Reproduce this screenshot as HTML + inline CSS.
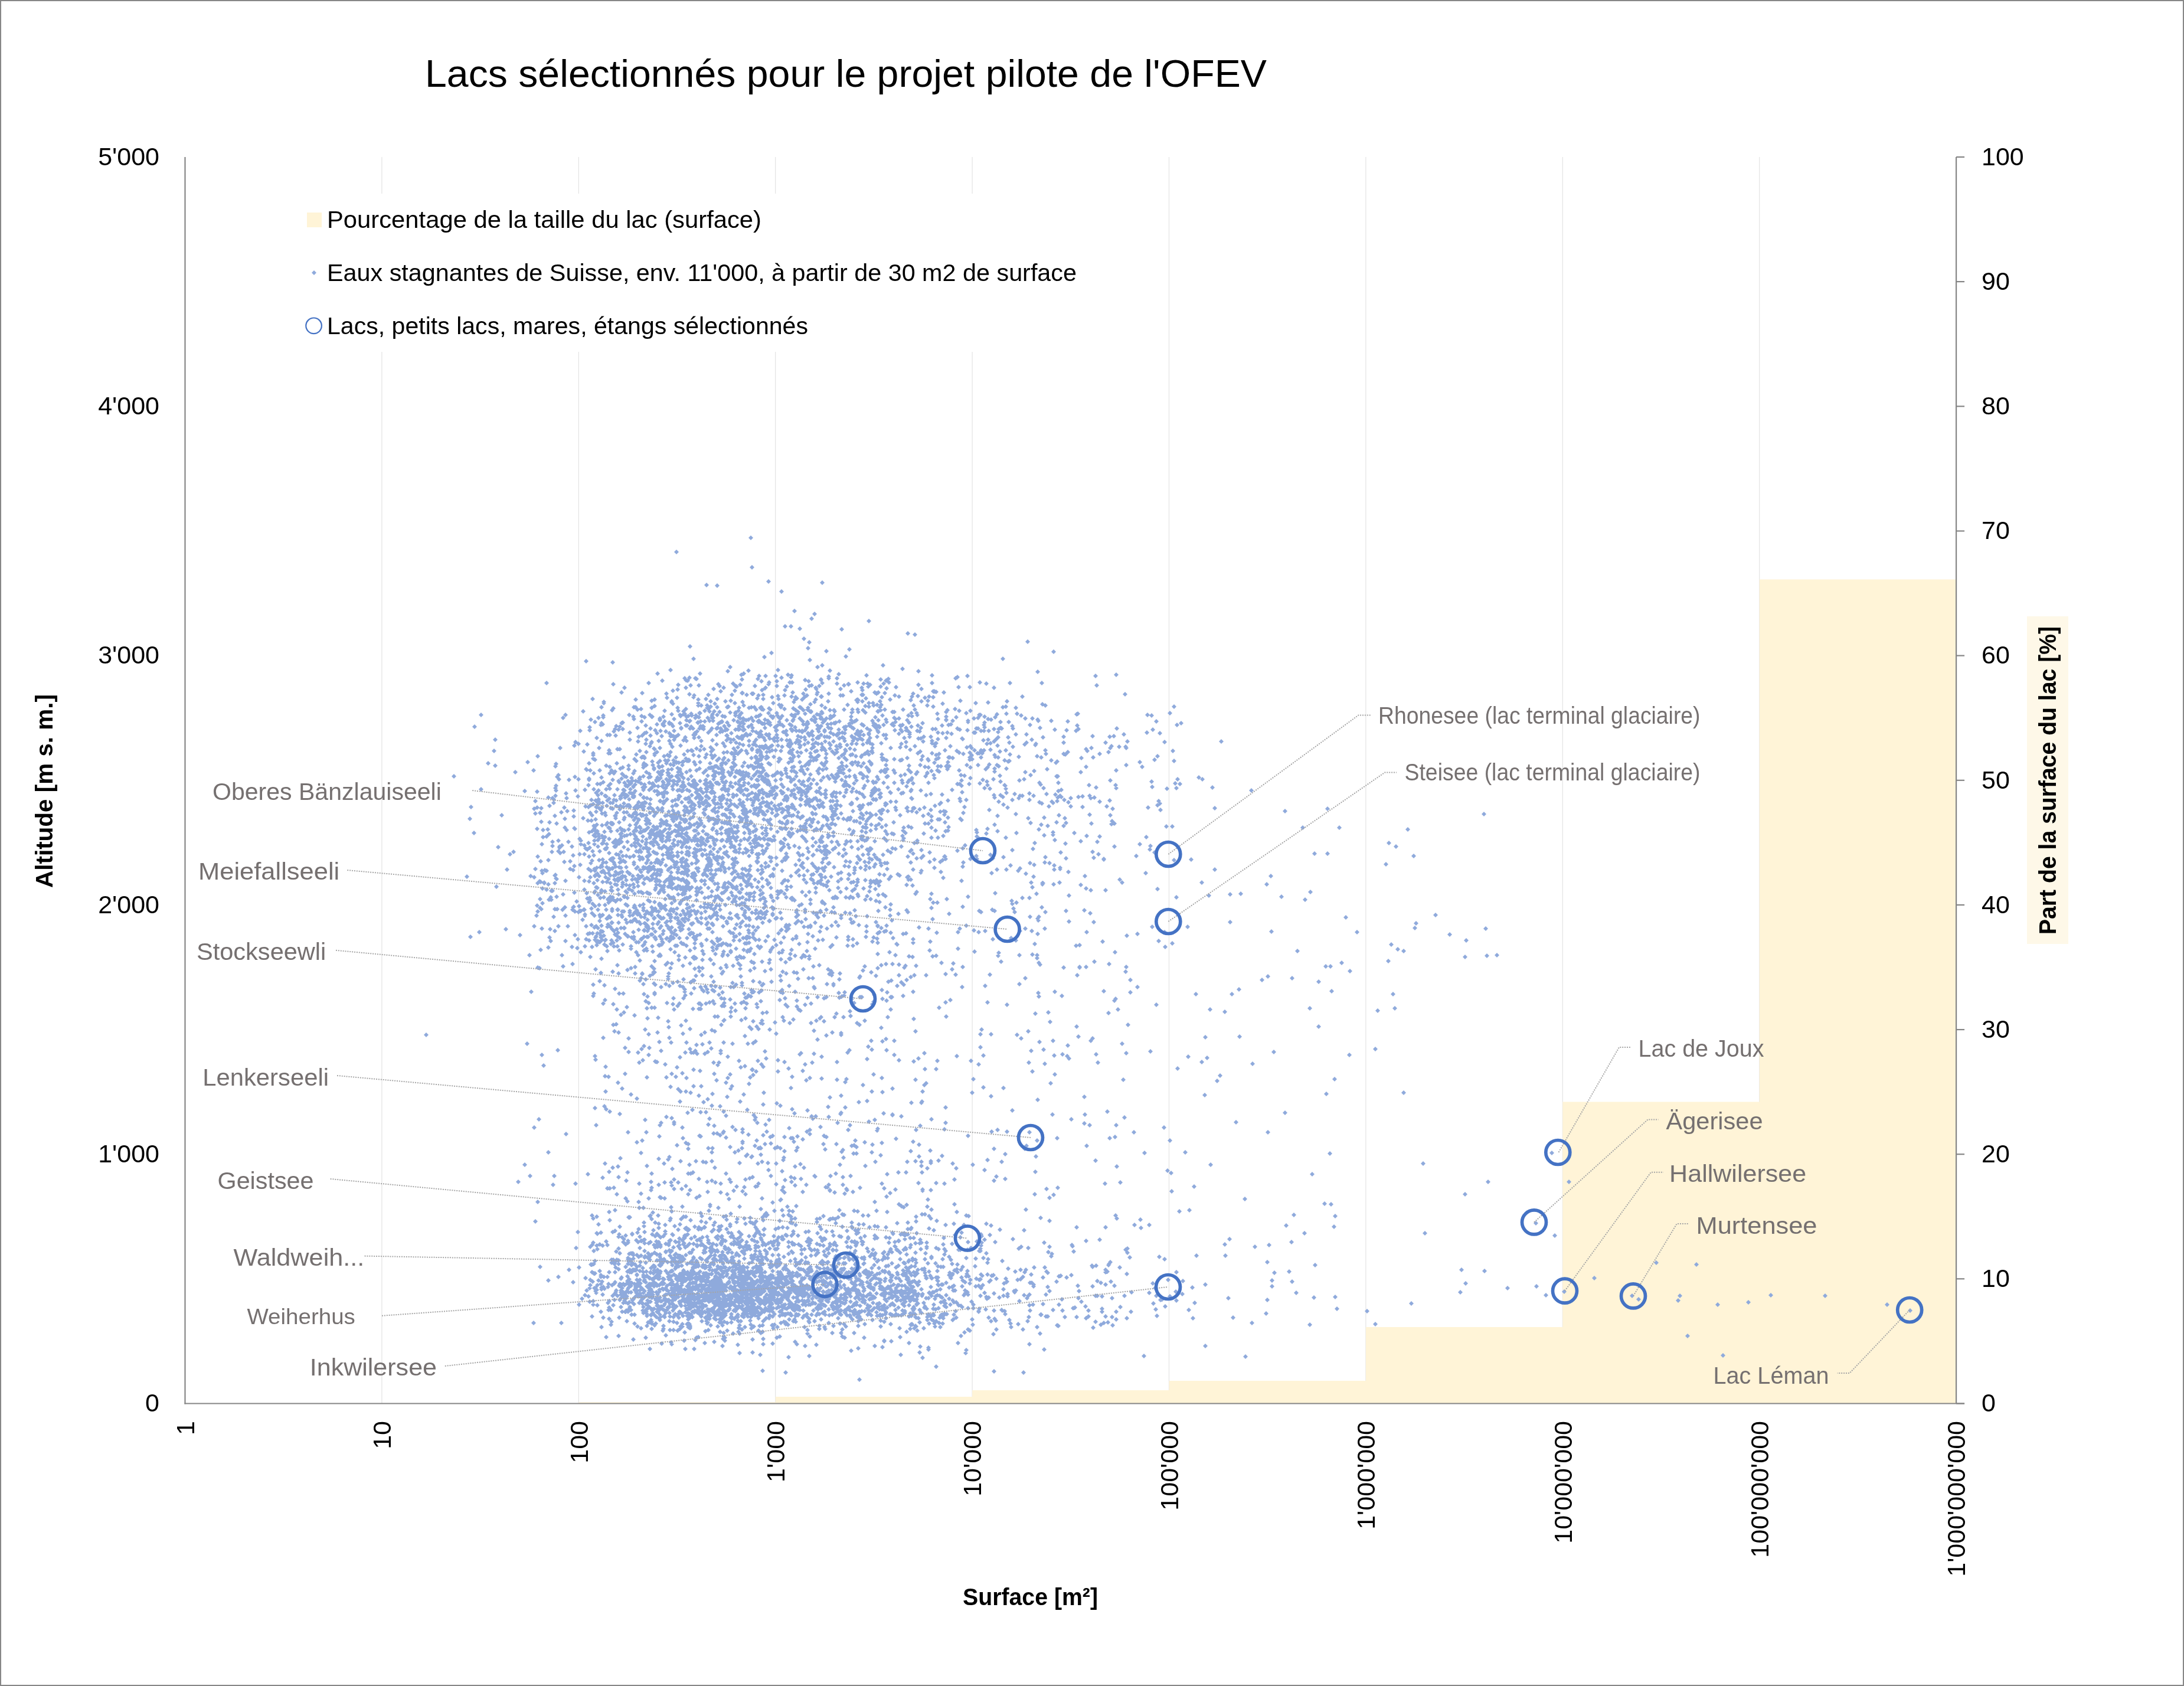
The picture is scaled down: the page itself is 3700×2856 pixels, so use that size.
<!DOCTYPE html>
<html><head><meta charset="utf-8"><style>html,body{margin:0;padding:0;background:#fff;overflow:hidden}svg{display:block;will-change:transform}</style></head>
<body><svg width="3700" height="2856" viewBox="0 0 3700 2856">
<rect x="0" y="0" width="3700" height="2856" fill="#fff"/>
<line x1="646.9" y1="266.0" x2="646.9" y2="2377.5" stroke="#E3E3E3" stroke-width="1.2"/>
<line x1="980.3" y1="266.0" x2="980.3" y2="2377.5" stroke="#E3E3E3" stroke-width="1.2"/>
<line x1="1313.7" y1="266.0" x2="1313.7" y2="2377.5" stroke="#E3E3E3" stroke-width="1.2"/>
<line x1="1647.1" y1="266.0" x2="1647.1" y2="2377.5" stroke="#E3E3E3" stroke-width="1.2"/>
<line x1="1980.5" y1="266.0" x2="1980.5" y2="2377.5" stroke="#E3E3E3" stroke-width="1.2"/>
<line x1="2313.9" y1="266.0" x2="2313.9" y2="2377.5" stroke="#E3E3E3" stroke-width="1.2"/>
<line x1="2647.3" y1="266.0" x2="2647.3" y2="2377.5" stroke="#E3E3E3" stroke-width="1.2"/>
<line x1="2980.7" y1="266.0" x2="2980.7" y2="2377.5" stroke="#E3E3E3" stroke-width="1.2"/>
<line x1="3314.1" y1="266.0" x2="3314.1" y2="2377.5" stroke="#E3E3E3" stroke-width="1.2"/>
<rect x="505" y="328" width="1330" height="268" fill="#fff"/>
<path d="M980.3,2377.5 L980.3,2375.2 L1313.7,2375.2 L1313.7,2366.0 L1647.1,2366.0 L1647.1,2355.0 L1980.5,2355.0 L1980.5,2339.0 L2313.9,2339.0 L2313.9,2248.0 L2647.3,2248.0 L2647.3,1866.4 L2980.7,1866.4 L2980.7,981.6 L3314.1,981.6 L3314.1,2377.5 Z" fill="#FFF4D7"/>
<path fill="#8FAADC" d="M804 1227l4 4-4 4-4-4zM815 1207l4 4-4 4-4-4zM839 1249l4 4-4 4-4-4zM839 1293l4 4-4 4-4-4zM837 1268l4 4-4 4-4-4zM941 1294l4 4-4 4-4-4zM998 1289l4 4-4 4-4-4zM988 1201l4 4-4 4-4-4zM949 1263l4 4-4 4-4-4zM911 1277l4 4-4 4-4-4zM983 1234l4 4-4 4-4-4zM975 1253l4 4-4 4-4-4zM954 1212l4 4-4 4-4-4zM1001 1215l4 4-4 4-4-4zM958 1207l4 4-4 4-4-4zM994 1300l4 4-4 4-4-4zM980 1256l4 4-4 4-4-4zM973 1259l4 4-4 4-4-4zM1044 1226l4 4-4 4-4-4zM1074 1194l4 4-4 4-4-4zM1022 1211l4 4-4 4-4-4zM1019 1194l4 4-4 4-4-4zM995 1257l4 4-4 4-4-4zM1088 1242l4 4-4 4-4-4zM1087 1218l4 4-4 4-4-4zM1095 1237l4 4-4 4-4-4zM1014 1212l4 4-4 4-4-4zM1039 1196l4 4-4 4-4-4zM1050 1227l4 4-4 4-4-4zM1019 1221l4 4-4 4-4-4zM1050 1265l4 4-4 4-4-4zM1019 1251l4 4-4 4-4-4zM1055 1231l4 4-4 4-4-4zM1084 1268l4 4-4 4-4-4zM1034 1272l4 4-4 4-4-4zM1048 1232l4 4-4 4-4-4zM1087 1279l4 4-4 4-4-4zM999 1233l4 4-4 4-4-4zM1008 1283l4 4-4 4-4-4zM1091 1278l4 4-4 4-4-4zM1005 1281l4 4-4 4-4-4zM1022 1208l4 4-4 4-4-4zM1053 1221l4 4-4 4-4-4zM1008 1219l4 4-4 4-4-4zM1043 1242l4 4-4 4-4-4zM1094 1256l4 4-4 4-4-4zM1057 1279l4 4-4 4-4-4zM1005 1272l4 4-4 4-4-4zM1015 1263l4 4-4 4-4-4zM1078 1274l4 4-4 4-4-4zM999 1228l4 4-4 4-4-4zM1087 1209l4 4-4 4-4-4zM1014 1212l4 4-4 4-4-4zM1092 1211l4 4-4 4-4-4zM1055 1220l4 4-4 4-4-4zM1080 1229l4 4-4 4-4-4zM1118 1285l4 4-4 4-4-4zM1066 1207l4 4-4 4-4-4zM1074 1214l4 4-4 4-4-4zM1080 1198l4 4-4 4-4-4zM1029 1241l4 4-4 4-4-4zM1033 1241l4 4-4 4-4-4zM1077 1194l4 4-4 4-4-4zM1018 1224l4 4-4 4-4-4zM1037 1199l4 4-4 4-4-4zM1021 1223l4 4-4 4-4-4zM1081 1252l4 4-4 4-4-4zM1067 1237l4 4-4 4-4-4zM1091 1289l4 4-4 4-4-4zM1073 1210l4 4-4 4-4-4zM1042 1231l4 4-4 4-4-4zM1011 1246l4 4-4 4-4-4zM989 1269l4 4-4 4-4-4zM1040 1235l4 4-4 4-4-4zM1031 1272l4 4-4 4-4-4zM1032 1267l4 4-4 4-4-4zM1067 1249l4 4-4 4-4-4zM1078 1285l4 4-4 4-4-4zM1005 1275l4 4-4 4-4-4zM1082 1244l4 4-4 4-4-4zM1046 1265l4 4-4 4-4-4zM1075 1282l4 4-4 4-4-4zM1108 1298l4 4-4 4-4-4zM1134 1238l4 4-4 4-4-4zM1104 1253l4 4-4 4-4-4zM1131 1275l4 4-4 4-4-4zM1134 1276l4 4-4 4-4-4zM1186 1204l4 4-4 4-4-4zM1178 1240l4 4-4 4-4-4zM1136 1256l4 4-4 4-4-4zM1187 1218l4 4-4 4-4-4zM1101 1260l4 4-4 4-4-4zM1180 1264l4 4-4 4-4-4zM1095 1270l4 4-4 4-4-4zM1182 1220l4 4-4 4-4-4zM1136 1240l4 4-4 4-4-4zM1165 1268l4 4-4 4-4-4zM1163 1216l4 4-4 4-4-4zM1138 1186l4 4-4 4-4-4zM1206 1212l4 4-4 4-4-4zM1198 1195l4 4-4 4-4-4zM1136 1291l4 4-4 4-4-4zM1158 1206l4 4-4 4-4-4zM1175 1275l4 4-4 4-4-4zM1142 1214l4 4-4 4-4-4zM1118 1215l4 4-4 4-4-4zM1138 1206l4 4-4 4-4-4zM1113 1223l4 4-4 4-4-4zM1158 1286l4 4-4 4-4-4zM1123 1224l4 4-4 4-4-4zM1141 1292l4 4-4 4-4-4zM1171 1227l4 4-4 4-4-4zM1154 1230l4 4-4 4-4-4zM1194 1200l4 4-4 4-4-4zM1132 1284l4 4-4 4-4-4zM1169 1217l4 4-4 4-4-4zM1175 1241l4 4-4 4-4-4zM1174 1230l4 4-4 4-4-4zM1127 1284l4 4-4 4-4-4zM1153 1209l4 4-4 4-4-4zM1141 1243l4 4-4 4-4-4zM1203 1289l4 4-4 4-4-4zM1185 1204l4 4-4 4-4-4zM1104 1195l4 4-4 4-4-4zM1118 1216l4 4-4 4-4-4zM1178 1212l4 4-4 4-4-4zM1163 1210l4 4-4 4-4-4zM1172 1208l4 4-4 4-4-4zM1142 1249l4 4-4 4-4-4zM1159 1274l4 4-4 4-4-4zM1149 1241l4 4-4 4-4-4zM1192 1231l4 4-4 4-4-4zM1181 1235l4 4-4 4-4-4zM1166 1209l4 4-4 4-4-4zM1136 1270l4 4-4 4-4-4zM1124 1210l4 4-4 4-4-4zM1142 1234l4 4-4 4-4-4zM1094 1225l4 4-4 4-4-4zM1138 1223l4 4-4 4-4-4zM1187 1226l4 4-4 4-4-4zM1102 1242l4 4-4 4-4-4zM1169 1230l4 4-4 4-4-4zM1118 1213l4 4-4 4-4-4zM1192 1227l4 4-4 4-4-4zM1145 1244l4 4-4 4-4-4zM1125 1277l4 4-4 4-4-4zM1148 1195l4 4-4 4-4-4zM1121 1243l4 4-4 4-4-4zM1200 1237l4 4-4 4-4-4zM1167 1285l4 4-4 4-4-4zM1158 1250l4 4-4 4-4-4zM1140 1226l4 4-4 4-4-4zM1140 1188l4 4-4 4-4-4zM1095 1249l4 4-4 4-4-4zM1188 1260l4 4-4 4-4-4zM1105 1210l4 4-4 4-4-4zM1092 1238l4 4-4 4-4-4zM1125 1225l4 4-4 4-4-4zM1186 1267l4 4-4 4-4-4zM1102 1230l4 4-4 4-4-4zM1184 1277l4 4-4 4-4-4zM1179 1208l4 4-4 4-4-4zM1162 1225l4 4-4 4-4-4zM1113 1270l4 4-4 4-4-4zM1113 1238l4 4-4 4-4-4zM1161 1245l4 4-4 4-4-4zM1153 1259l4 4-4 4-4-4zM1134 1220l4 4-4 4-4-4zM1136 1243l4 4-4 4-4-4zM1177 1238l4 4-4 4-4-4zM1193 1265l4 4-4 4-4-4zM1173 1268l4 4-4 4-4-4zM1134 1277l4 4-4 4-4-4zM1198 1191l4 4-4 4-4-4zM1176 1246l4 4-4 4-4-4zM1105 1286l4 4-4 4-4-4zM1138 1242l4 4-4 4-4-4zM1119 1234l4 4-4 4-4-4zM1202 1201l4 4-4 4-4-4zM1186 1287l4 4-4 4-4-4zM1202 1217l4 4-4 4-4-4zM1188 1251l4 4-4 4-4-4zM1197 1274l4 4-4 4-4-4zM1150 1288l4 4-4 4-4-4zM1154 1229l4 4-4 4-4-4zM1134 1222l4 4-4 4-4-4zM1110 1233l4 4-4 4-4-4zM1171 1267l4 4-4 4-4-4zM1116 1294l4 4-4 4-4-4zM1199 1212l4 4-4 4-4-4zM1152 1207l4 4-4 4-4-4zM1146 1288l4 4-4 4-4-4zM1171 1205l4 4-4 4-4-4zM1109 1275l4 4-4 4-4-4zM1184 1245l4 4-4 4-4-4zM1156 1287l4 4-4 4-4-4zM1183 1191l4 4-4 4-4-4zM1126 1218l4 4-4 4-4-4zM1141 1284l4 4-4 4-4-4zM1089 1278l4 4-4 4-4-4zM1103 1255l4 4-4 4-4-4zM1104 1210l4 4-4 4-4-4zM1128 1235l4 4-4 4-4-4zM1101 1207l4 4-4 4-4-4zM1168 1218l4 4-4 4-4-4zM1162 1281l4 4-4 4-4-4zM1196 1180l4 4-4 4-4-4zM1196 1301l4 4-4 4-4-4zM1162 1197l4 4-4 4-4-4zM1191 1226l4 4-4 4-4-4zM1163 1251l4 4-4 4-4-4zM1184 1211l4 4-4 4-4-4zM1109 1273l4 4-4 4-4-4zM1108 1264l4 4-4 4-4-4zM1116 1251l4 4-4 4-4-4zM1115 1288l4 4-4 4-4-4zM1146 1287l4 4-4 4-4-4zM1134 1251l4 4-4 4-4-4zM1142 1288l4 4-4 4-4-4zM1180 1301l4 4-4 4-4-4zM1145 1279l4 4-4 4-4-4zM1185 1230l4 4-4 4-4-4zM1118 1263l4 4-4 4-4-4zM1164 1225l4 4-4 4-4-4zM1189 1229l4 4-4 4-4-4zM1123 1222l4 4-4 4-4-4zM1124 1221l4 4-4 4-4-4zM1109 1265l4 4-4 4-4-4zM1139 1261l4 4-4 4-4-4zM1164 1285l4 4-4 4-4-4zM1152 1221l4 4-4 4-4-4zM1183 1220l4 4-4 4-4-4zM1092 1280l4 4-4 4-4-4zM1210 1295l4 4-4 4-4-4zM1192 1305l4 4-4 4-4-4zM1167 1283l4 4-4 4-4-4zM1158 1201l4 4-4 4-4-4zM1234 1247l4 4-4 4-4-4zM1281 1280l4 4-4 4-4-4zM1251 1232l4 4-4 4-4-4zM1250 1262l4 4-4 4-4-4zM1303 1240l4 4-4 4-4-4zM1256 1204l4 4-4 4-4-4zM1261 1288l4 4-4 4-4-4zM1214 1257l4 4-4 4-4-4zM1253 1256l4 4-4 4-4-4zM1285 1290l4 4-4 4-4-4zM1281 1278l4 4-4 4-4-4zM1215 1180l4 4-4 4-4-4zM1269 1251l4 4-4 4-4-4zM1289 1273l4 4-4 4-4-4zM1290 1197l4 4-4 4-4-4zM1280 1278l4 4-4 4-4-4zM1294 1246l4 4-4 4-4-4zM1256 1246l4 4-4 4-4-4zM1207 1250l4 4-4 4-4-4zM1216 1229l4 4-4 4-4-4zM1223 1300l4 4-4 4-4-4zM1222 1290l4 4-4 4-4-4zM1281 1236l4 4-4 4-4-4zM1254 1213l4 4-4 4-4-4zM1281 1249l4 4-4 4-4-4zM1249 1244l4 4-4 4-4-4zM1204 1262l4 4-4 4-4-4zM1237 1203l4 4-4 4-4-4zM1269 1195l4 4-4 4-4-4zM1287 1261l4 4-4 4-4-4zM1256 1267l4 4-4 4-4-4zM1303 1196l4 4-4 4-4-4zM1258 1227l4 4-4 4-4-4zM1269 1259l4 4-4 4-4-4zM1218 1281l4 4-4 4-4-4zM1232 1270l4 4-4 4-4-4zM1220 1236l4 4-4 4-4-4zM1258 1218l4 4-4 4-4-4zM1247 1254l4 4-4 4-4-4zM1224 1307l4 4-4 4-4-4zM1296 1215l4 4-4 4-4-4zM1283 1295l4 4-4 4-4-4zM1215 1207l4 4-4 4-4-4zM1240 1272l4 4-4 4-4-4zM1208 1266l4 4-4 4-4-4zM1239 1296l4 4-4 4-4-4zM1274 1266l4 4-4 4-4-4zM1273 1224l4 4-4 4-4-4zM1301 1217l4 4-4 4-4-4zM1225 1304l4 4-4 4-4-4zM1214 1241l4 4-4 4-4-4zM1248 1302l4 4-4 4-4-4zM1285 1209l4 4-4 4-4-4zM1222 1232l4 4-4 4-4-4zM1264 1216l4 4-4 4-4-4zM1292 1278l4 4-4 4-4-4zM1295 1222l4 4-4 4-4-4zM1223 1218l4 4-4 4-4-4zM1259 1213l4 4-4 4-4-4zM1225 1301l4 4-4 4-4-4zM1225 1283l4 4-4 4-4-4zM1293 1198l4 4-4 4-4-4zM1207 1206l4 4-4 4-4-4zM1243 1249l4 4-4 4-4-4zM1253 1231l4 4-4 4-4-4zM1302 1243l4 4-4 4-4-4zM1280 1288l4 4-4 4-4-4zM1276 1217l4 4-4 4-4-4zM1205 1275l4 4-4 4-4-4zM1208 1217l4 4-4 4-4-4zM1229 1233l4 4-4 4-4-4zM1286 1244l4 4-4 4-4-4zM1252 1231l4 4-4 4-4-4zM1290 1221l4 4-4 4-4-4zM1278 1255l4 4-4 4-4-4zM1200 1197l4 4-4 4-4-4zM1246 1268l4 4-4 4-4-4zM1246 1292l4 4-4 4-4-4zM1220 1220l4 4-4 4-4-4zM1238 1253l4 4-4 4-4-4zM1284 1218l4 4-4 4-4-4zM1275 1234l4 4-4 4-4-4zM1219 1202l4 4-4 4-4-4zM1232 1232l4 4-4 4-4-4zM1243 1216l4 4-4 4-4-4zM1289 1243l4 4-4 4-4-4zM1205 1269l4 4-4 4-4-4zM1292 1222l4 4-4 4-4-4zM1226 1271l4 4-4 4-4-4zM1260 1191l4 4-4 4-4-4zM1273 1212l4 4-4 4-4-4zM1266 1272l4 4-4 4-4-4zM1278 1253l4 4-4 4-4-4zM1281 1259l4 4-4 4-4-4zM1231 1250l4 4-4 4-4-4zM1212 1294l4 4-4 4-4-4zM1225 1288l4 4-4 4-4-4zM1254 1206l4 4-4 4-4-4zM1286 1304l4 4-4 4-4-4zM1278 1194l4 4-4 4-4-4zM1231 1242l4 4-4 4-4-4zM1206 1209l4 4-4 4-4-4zM1302 1204l4 4-4 4-4-4zM1281 1210l4 4-4 4-4-4zM1273 1280l4 4-4 4-4-4zM1227 1226l4 4-4 4-4-4zM1275 1229l4 4-4 4-4-4zM1252 1211l4 4-4 4-4-4zM1246 1203l4 4-4 4-4-4zM1251 1200l4 4-4 4-4-4zM1257 1248l4 4-4 4-4-4zM1194 1218l4 4-4 4-4-4zM1252 1271l4 4-4 4-4-4zM1206 1296l4 4-4 4-4-4zM1223 1219l4 4-4 4-4-4zM1239 1272l4 4-4 4-4-4zM1253 1208l4 4-4 4-4-4zM1246 1232l4 4-4 4-4-4zM1312 1246l4 4-4 4-4-4zM1223 1297l4 4-4 4-4-4zM1289 1235l4 4-4 4-4-4zM1283 1283l4 4-4 4-4-4zM1266 1242l4 4-4 4-4-4zM1268 1227l4 4-4 4-4-4zM1297 1259l4 4-4 4-4-4zM1232 1242l4 4-4 4-4-4zM1296 1250l4 4-4 4-4-4zM1215 1194l4 4-4 4-4-4zM1285 1239l4 4-4 4-4-4zM1228 1260l4 4-4 4-4-4zM1214 1230l4 4-4 4-4-4zM1281 1198l4 4-4 4-4-4zM1250 1218l4 4-4 4-4-4zM1286 1217l4 4-4 4-4-4zM1259 1258l4 4-4 4-4-4zM1244 1282l4 4-4 4-4-4zM1290 1291l4 4-4 4-4-4zM1271 1240l4 4-4 4-4-4zM1230 1289l4 4-4 4-4-4zM1207 1280l4 4-4 4-4-4zM1228 1210l4 4-4 4-4-4zM1206 1230l4 4-4 4-4-4zM1232 1194l4 4-4 4-4-4zM1210 1201l4 4-4 4-4-4zM1227 1280l4 4-4 4-4-4zM1204 1233l4 4-4 4-4-4zM1246 1271l4 4-4 4-4-4zM1274 1264l4 4-4 4-4-4zM1224 1209l4 4-4 4-4-4zM1285 1268l4 4-4 4-4-4zM1232 1220l4 4-4 4-4-4zM1250 1273l4 4-4 4-4-4zM1259 1233l4 4-4 4-4-4zM1246 1208l4 4-4 4-4-4zM1283 1270l4 4-4 4-4-4zM1258 1294l4 4-4 4-4-4zM1261 1232l4 4-4 4-4-4zM1288 1276l4 4-4 4-4-4zM1287 1295l4 4-4 4-4-4zM1255 1221l4 4-4 4-4-4zM1252 1246l4 4-4 4-4-4zM1296 1229l4 4-4 4-4-4zM1217 1222l4 4-4 4-4-4zM1251 1230l4 4-4 4-4-4zM1216 1283l4 4-4 4-4-4zM1246 1205l4 4-4 4-4-4zM1230 1231l4 4-4 4-4-4zM1287 1283l4 4-4 4-4-4zM1195 1279l4 4-4 4-4-4zM1243 1264l4 4-4 4-4-4zM1268 1215l4 4-4 4-4-4zM1275 1294l4 4-4 4-4-4zM1252 1226l4 4-4 4-4-4zM1294 1264l4 4-4 4-4-4zM1221 1230l4 4-4 4-4-4zM1242 1273l4 4-4 4-4-4zM1287 1267l4 4-4 4-4-4zM1224 1235l4 4-4 4-4-4zM1276 1257l4 4-4 4-4-4zM1267 1294l4 4-4 4-4-4zM1260 1243l4 4-4 4-4-4zM1308 1267l4 4-4 4-4-4zM1281 1249l4 4-4 4-4-4zM1239 1238l4 4-4 4-4-4zM1299 1270l4 4-4 4-4-4zM1215 1284l4 4-4 4-4-4zM1283 1267l4 4-4 4-4-4zM1211 1276l4 4-4 4-4-4zM1225 1255l4 4-4 4-4-4zM1264 1239l4 4-4 4-4-4zM1222 1293l4 4-4 4-4-4zM1208 1212l4 4-4 4-4-4zM1287 1282l4 4-4 4-4-4zM1250 1219l4 4-4 4-4-4zM1257 1243l4 4-4 4-4-4zM1235 1225l4 4-4 4-4-4zM1244 1278l4 4-4 4-4-4zM1264 1268l4 4-4 4-4-4zM1238 1249l4 4-4 4-4-4zM1260 1222l4 4-4 4-4-4zM1335 1259l4 4-4 4-4-4zM1333 1250l4 4-4 4-4-4zM1323 1268l4 4-4 4-4-4zM1353 1277l4 4-4 4-4-4zM1333 1241l4 4-4 4-4-4zM1347 1228l4 4-4 4-4-4zM1311 1278l4 4-4 4-4-4zM1355 1287l4 4-4 4-4-4zM1312 1251l4 4-4 4-4-4zM1361 1199l4 4-4 4-4-4zM1288 1207l4 4-4 4-4-4zM1342 1282l4 4-4 4-4-4zM1381 1282l4 4-4 4-4-4zM1341 1271l4 4-4 4-4-4zM1323 1194l4 4-4 4-4-4zM1383 1283l4 4-4 4-4-4zM1322 1282l4 4-4 4-4-4zM1298 1281l4 4-4 4-4-4zM1338 1269l4 4-4 4-4-4zM1351 1270l4 4-4 4-4-4zM1298 1240l4 4-4 4-4-4zM1359 1235l4 4-4 4-4-4zM1377 1249l4 4-4 4-4-4zM1341 1207l4 4-4 4-4-4zM1341 1225l4 4-4 4-4-4zM1359 1217l4 4-4 4-4-4zM1351 1249l4 4-4 4-4-4zM1315 1233l4 4-4 4-4-4zM1367 1228l4 4-4 4-4-4zM1310 1248l4 4-4 4-4-4zM1385 1231l4 4-4 4-4-4zM1360 1218l4 4-4 4-4-4zM1384 1246l4 4-4 4-4-4zM1341 1256l4 4-4 4-4-4zM1370 1291l4 4-4 4-4-4zM1332 1234l4 4-4 4-4-4zM1369 1195l4 4-4 4-4-4zM1331 1298l4 4-4 4-4-4zM1331 1238l4 4-4 4-4-4zM1337 1271l4 4-4 4-4-4zM1364 1205l4 4-4 4-4-4zM1386 1256l4 4-4 4-4-4zM1309 1212l4 4-4 4-4-4zM1317 1208l4 4-4 4-4-4zM1327 1226l4 4-4 4-4-4zM1361 1223l4 4-4 4-4-4zM1378 1284l4 4-4 4-4-4zM1305 1291l4 4-4 4-4-4zM1285 1219l4 4-4 4-4-4zM1405 1245l4 4-4 4-4-4zM1366 1291l4 4-4 4-4-4zM1319 1211l4 4-4 4-4-4zM1316 1241l4 4-4 4-4-4zM1306 1209l4 4-4 4-4-4zM1357 1195l4 4-4 4-4-4zM1386 1244l4 4-4 4-4-4zM1393 1204l4 4-4 4-4-4zM1388 1207l4 4-4 4-4-4zM1387 1246l4 4-4 4-4-4zM1338 1270l4 4-4 4-4-4zM1400 1273l4 4-4 4-4-4zM1382 1254l4 4-4 4-4-4zM1355 1252l4 4-4 4-4-4zM1345 1295l4 4-4 4-4-4zM1344 1276l4 4-4 4-4-4zM1336 1256l4 4-4 4-4-4zM1370 1287l4 4-4 4-4-4zM1369 1238l4 4-4 4-4-4zM1375 1215l4 4-4 4-4-4zM1324 1249l4 4-4 4-4-4zM1387 1276l4 4-4 4-4-4zM1394 1262l4 4-4 4-4-4zM1377 1242l4 4-4 4-4-4zM1391 1241l4 4-4 4-4-4zM1325 1261l4 4-4 4-4-4zM1368 1219l4 4-4 4-4-4zM1400 1213l4 4-4 4-4-4zM1387 1235l4 4-4 4-4-4zM1384 1206l4 4-4 4-4-4zM1363 1245l4 4-4 4-4-4zM1369 1254l4 4-4 4-4-4zM1359 1300l4 4-4 4-4-4zM1325 1209l4 4-4 4-4-4zM1356 1301l4 4-4 4-4-4zM1379 1261l4 4-4 4-4-4zM1338 1250l4 4-4 4-4-4zM1357 1245l4 4-4 4-4-4zM1403 1228l4 4-4 4-4-4zM1339 1253l4 4-4 4-4-4zM1369 1239l4 4-4 4-4-4zM1397 1244l4 4-4 4-4-4zM1391 1226l4 4-4 4-4-4zM1290 1241l4 4-4 4-4-4zM1359 1234l4 4-4 4-4-4zM1322 1213l4 4-4 4-4-4zM1375 1278l4 4-4 4-4-4zM1352 1204l4 4-4 4-4-4zM1388 1298l4 4-4 4-4-4zM1398 1195l4 4-4 4-4-4zM1373 1278l4 4-4 4-4-4zM1366 1230l4 4-4 4-4-4zM1358 1295l4 4-4 4-4-4zM1355 1213l4 4-4 4-4-4zM1302 1264l4 4-4 4-4-4zM1313 1228l4 4-4 4-4-4zM1310 1210l4 4-4 4-4-4zM1382 1214l4 4-4 4-4-4zM1343 1233l4 4-4 4-4-4zM1301 1221l4 4-4 4-4-4zM1337 1255l4 4-4 4-4-4zM1346 1210l4 4-4 4-4-4zM1301 1279l4 4-4 4-4-4zM1299 1262l4 4-4 4-4-4zM1344 1209l4 4-4 4-4-4zM1363 1257l4 4-4 4-4-4zM1404 1229l4 4-4 4-4-4zM1347 1207l4 4-4 4-4-4zM1339 1281l4 4-4 4-4-4zM1329 1197l4 4-4 4-4-4zM1305 1261l4 4-4 4-4-4zM1304 1269l4 4-4 4-4-4zM1385 1225l4 4-4 4-4-4zM1292 1261l4 4-4 4-4-4zM1353 1253l4 4-4 4-4-4zM1299 1277l4 4-4 4-4-4zM1408 1230l4 4-4 4-4-4zM1392 1202l4 4-4 4-4-4zM1390 1213l4 4-4 4-4-4zM1400 1298l4 4-4 4-4-4zM1385 1302l4 4-4 4-4-4zM1406 1199l4 4-4 4-4-4zM1322 1223l4 4-4 4-4-4zM1394 1215l4 4-4 4-4-4zM1315 1234l4 4-4 4-4-4zM1380 1281l4 4-4 4-4-4zM1320 1281l4 4-4 4-4-4zM1338 1261l4 4-4 4-4-4zM1340 1231l4 4-4 4-4-4zM1314 1267l4 4-4 4-4-4zM1344 1215l4 4-4 4-4-4zM1325 1224l4 4-4 4-4-4zM1348 1254l4 4-4 4-4-4zM1391 1211l4 4-4 4-4-4zM1373 1239l4 4-4 4-4-4zM1320 1219l4 4-4 4-4-4zM1364 1293l4 4-4 4-4-4zM1397 1233l4 4-4 4-4-4zM1342 1234l4 4-4 4-4-4zM1384 1268l4 4-4 4-4-4zM1372 1201l4 4-4 4-4-4zM1365 1223l4 4-4 4-4-4zM1377 1257l4 4-4 4-4-4zM1338 1223l4 4-4 4-4-4zM1339 1268l4 4-4 4-4-4zM1304 1220l4 4-4 4-4-4zM1390 1227l4 4-4 4-4-4zM1385 1277l4 4-4 4-4-4zM1302 1289l4 4-4 4-4-4zM1320 1190l4 4-4 4-4-4zM1371 1242l4 4-4 4-4-4zM1396 1264l4 4-4 4-4-4zM1397 1235l4 4-4 4-4-4zM1327 1236l4 4-4 4-4-4zM1392 1256l4 4-4 4-4-4zM1304 1247l4 4-4 4-4-4zM1356 1259l4 4-4 4-4-4zM1352 1243l4 4-4 4-4-4zM1305 1224l4 4-4 4-4-4zM1316 1204l4 4-4 4-4-4zM1369 1222l4 4-4 4-4-4zM1366 1267l4 4-4 4-4-4zM1318 1259l4 4-4 4-4-4zM1355 1262l4 4-4 4-4-4zM1316 1233l4 4-4 4-4-4zM1352 1202l4 4-4 4-4-4zM1368 1198l4 4-4 4-4-4zM1342 1274l4 4-4 4-4-4zM1324 1191l4 4-4 4-4-4zM1381 1281l4 4-4 4-4-4zM1290 1261l4 4-4 4-4-4zM1374 1202l4 4-4 4-4-4zM1387 1306l4 4-4 4-4-4zM1357 1271l4 4-4 4-4-4zM1289 1270l4 4-4 4-4-4zM1398 1267l4 4-4 4-4-4zM1348 1199l4 4-4 4-4-4zM1364 1233l4 4-4 4-4-4zM1354 1257l4 4-4 4-4-4zM1392 1289l4 4-4 4-4-4zM1381 1269l4 4-4 4-4-4zM1376 1235l4 4-4 4-4-4zM1394 1220l4 4-4 4-4-4zM1388 1230l4 4-4 4-4-4zM1373 1285l4 4-4 4-4-4zM1359 1236l4 4-4 4-4-4zM1308 1259l4 4-4 4-4-4zM1392 1266l4 4-4 4-4-4zM1373 1272l4 4-4 4-4-4zM1343 1217l4 4-4 4-4-4zM1396 1293l4 4-4 4-4-4zM1375 1264l4 4-4 4-4-4zM1342 1285l4 4-4 4-4-4zM1364 1249l4 4-4 4-4-4zM1319 1286l4 4-4 4-4-4zM1400 1286l4 4-4 4-4-4zM1368 1299l4 4-4 4-4-4zM1317 1251l4 4-4 4-4-4zM1317 1246l4 4-4 4-4-4zM1305 1198l4 4-4 4-4-4zM1381 1219l4 4-4 4-4-4zM1317 1225l4 4-4 4-4-4zM1399 1280l4 4-4 4-4-4zM1379 1210l4 4-4 4-4-4zM1345 1278l4 4-4 4-4-4zM1380 1218l4 4-4 4-4-4zM1349 1234l4 4-4 4-4-4zM1333 1216l4 4-4 4-4-4zM1354 1234l4 4-4 4-4-4zM1343 1266l4 4-4 4-4-4zM1370 1289l4 4-4 4-4-4zM1399 1288l4 4-4 4-4-4zM1470 1269l4 4-4 4-4-4zM1418 1265l4 4-4 4-4-4zM1434 1283l4 4-4 4-4-4zM1407 1237l4 4-4 4-4-4zM1413 1199l4 4-4 4-4-4zM1406 1213l4 4-4 4-4-4zM1417 1266l4 4-4 4-4-4zM1426 1276l4 4-4 4-4-4zM1493 1255l4 4-4 4-4-4zM1444 1291l4 4-4 4-4-4zM1467 1272l4 4-4 4-4-4zM1426 1288l4 4-4 4-4-4zM1472 1240l4 4-4 4-4-4zM1454 1288l4 4-4 4-4-4zM1455 1242l4 4-4 4-4-4zM1441 1275l4 4-4 4-4-4zM1494 1279l4 4-4 4-4-4zM1474 1233l4 4-4 4-4-4zM1412 1252l4 4-4 4-4-4zM1442 1210l4 4-4 4-4-4zM1490 1228l4 4-4 4-4-4zM1431 1238l4 4-4 4-4-4zM1478 1257l4 4-4 4-4-4zM1418 1242l4 4-4 4-4-4zM1406 1264l4 4-4 4-4-4zM1402 1223l4 4-4 4-4-4zM1471 1250l4 4-4 4-4-4zM1403 1228l4 4-4 4-4-4zM1466 1203l4 4-4 4-4-4zM1432 1232l4 4-4 4-4-4zM1495 1283l4 4-4 4-4-4zM1422 1218l4 4-4 4-4-4zM1493 1190l4 4-4 4-4-4zM1455 1239l4 4-4 4-4-4zM1440 1264l4 4-4 4-4-4zM1472 1238l4 4-4 4-4-4zM1442 1289l4 4-4 4-4-4zM1431 1251l4 4-4 4-4-4zM1454 1202l4 4-4 4-4-4zM1434 1294l4 4-4 4-4-4zM1488 1216l4 4-4 4-4-4zM1422 1238l4 4-4 4-4-4zM1422 1247l4 4-4 4-4-4zM1430 1228l4 4-4 4-4-4zM1473 1286l4 4-4 4-4-4zM1474 1255l4 4-4 4-4-4zM1415 1221l4 4-4 4-4-4zM1435 1258l4 4-4 4-4-4zM1462 1257l4 4-4 4-4-4zM1459 1294l4 4-4 4-4-4zM1478 1263l4 4-4 4-4-4zM1443 1243l4 4-4 4-4-4zM1465 1273l4 4-4 4-4-4zM1453 1234l4 4-4 4-4-4zM1448 1218l4 4-4 4-4-4zM1501 1292l4 4-4 4-4-4zM1460 1223l4 4-4 4-4-4zM1480 1221l4 4-4 4-4-4zM1442 1227l4 4-4 4-4-4zM1421 1280l4 4-4 4-4-4zM1407 1209l4 4-4 4-4-4zM1443 1228l4 4-4 4-4-4zM1443 1256l4 4-4 4-4-4zM1457 1241l4 4-4 4-4-4zM1472 1251l4 4-4 4-4-4zM1469 1254l4 4-4 4-4-4zM1488 1201l4 4-4 4-4-4zM1487 1201l4 4-4 4-4-4zM1423 1261l4 4-4 4-4-4zM1484 1228l4 4-4 4-4-4zM1421 1232l4 4-4 4-4-4zM1444 1274l4 4-4 4-4-4zM1474 1246l4 4-4 4-4-4zM1430 1247l4 4-4 4-4-4zM1419 1239l4 4-4 4-4-4zM1469 1230l4 4-4 4-4-4zM1463 1241l4 4-4 4-4-4zM1451 1216l4 4-4 4-4-4zM1444 1220l4 4-4 4-4-4zM1472 1193l4 4-4 4-4-4zM1444 1245l4 4-4 4-4-4zM1398 1252l4 4-4 4-4-4zM1397 1217l4 4-4 4-4-4zM1486 1244l4 4-4 4-4-4zM1494 1274l4 4-4 4-4-4zM1423 1257l4 4-4 4-4-4zM1484 1224l4 4-4 4-4-4zM1487 1234l4 4-4 4-4-4zM1459 1235l4 4-4 4-4-4zM1477 1268l4 4-4 4-4-4zM1451 1256l4 4-4 4-4-4zM1488 1236l4 4-4 4-4-4zM1431 1280l4 4-4 4-4-4zM1439 1225l4 4-4 4-4-4zM1459 1278l4 4-4 4-4-4zM1413 1208l4 4-4 4-4-4zM1413 1221l4 4-4 4-4-4zM1463 1225l4 4-4 4-4-4zM1448 1266l4 4-4 4-4-4zM1472 1274l4 4-4 4-4-4zM1433 1227l4 4-4 4-4-4zM1417 1260l4 4-4 4-4-4zM1501 1241l4 4-4 4-4-4zM1424 1261l4 4-4 4-4-4zM1430 1273l4 4-4 4-4-4zM1446 1230l4 4-4 4-4-4zM1401 1244l4 4-4 4-4-4zM1417 1308l4 4-4 4-4-4zM1432 1266l4 4-4 4-4-4zM1480 1191l4 4-4 4-4-4zM1484 1229l4 4-4 4-4-4zM1478 1271l4 4-4 4-4-4zM1478 1217l4 4-4 4-4-4zM1409 1211l4 4-4 4-4-4zM1444 1202l4 4-4 4-4-4zM1499 1198l4 4-4 4-4-4zM1443 1203l4 4-4 4-4-4zM1453 1249l4 4-4 4-4-4zM1429 1246l4 4-4 4-4-4zM1407 1258l4 4-4 4-4-4zM1501 1215l4 4-4 4-4-4zM1486 1190l4 4-4 4-4-4zM1433 1268l4 4-4 4-4-4zM1460 1276l4 4-4 4-4-4zM1418 1270l4 4-4 4-4-4zM1442 1216l4 4-4 4-4-4zM1405 1255l4 4-4 4-4-4zM1458 1247l4 4-4 4-4-4zM1416 1220l4 4-4 4-4-4zM1477 1270l4 4-4 4-4-4zM1427 1293l4 4-4 4-4-4zM1427 1245l4 4-4 4-4-4zM1410 1269l4 4-4 4-4-4zM1445 1251l4 4-4 4-4-4zM1476 1289l4 4-4 4-4-4zM1448 1246l4 4-4 4-4-4zM1412 1240l4 4-4 4-4-4zM1439 1222l4 4-4 4-4-4zM1462 1199l4 4-4 4-4-4zM1489 1226l4 4-4 4-4-4zM1480 1225l4 4-4 4-4-4zM1450 1239l4 4-4 4-4-4zM1408 1222l4 4-4 4-4-4zM1461 1249l4 4-4 4-4-4zM1422 1303l4 4-4 4-4-4zM1414 1201l4 4-4 4-4-4zM1501 1247l4 4-4 4-4-4zM1393 1262l4 4-4 4-4-4zM1483 1211l4 4-4 4-4-4zM1491 1194l4 4-4 4-4-4zM1427 1237l4 4-4 4-4-4zM1450 1277l4 4-4 4-4-4zM1492 1199l4 4-4 4-4-4zM1414 1273l4 4-4 4-4-4zM769 1311l4 4-4 4-4-4zM873 1304l4 4-4 4-4-4zM796 1383l4 4-4 4-4-4zM798 1363l4 4-4 4-4-4zM815 1333l4 4-4 4-4-4zM827 1289l4 4-4 4-4-4zM850 1377l4 4-4 4-4-4zM975 1335l4 4-4 4-4-4zM979 1345l4 4-4 4-4-4zM940 1378l4 4-4 4-4-4zM972 1369l4 4-4 4-4-4zM910 1337l4 4-4 4-4-4zM942 1290l4 4-4 4-4-4zM941 1344l4 4-4 4-4-4zM938 1350l4 4-4 4-4-4zM917 1365l4 4-4 4-4-4zM944 1312l4 4-4 4-4-4zM915 1373l4 4-4 4-4-4zM938 1356l4 4-4 4-4-4zM960 1348l4 4-4 4-4-4zM889 1336l4 4-4 4-4-4zM988 1382l4 4-4 4-4-4zM947 1316l4 4-4 4-4-4zM904 1301l4 4-4 4-4-4zM957 1383l4 4-4 4-4-4zM905 1366l4 4-4 4-4-4zM936 1348l4 4-4 4-4-4zM956 1364l4 4-4 4-4-4zM980 1316l4 4-4 4-4-4zM929 1347l4 4-4 4-4-4zM894 1287l4 4-4 4-4-4zM941 1331l4 4-4 4-4-4zM907 1353l4 4-4 4-4-4zM961 1370l4 4-4 4-4-4zM974 1312l4 4-4 4-4-4zM917 1388l4 4-4 4-4-4zM972 1379l4 4-4 4-4-4zM997 1326l4 4-4 4-4-4zM959 1340l4 4-4 4-4-4zM907 1374l4 4-4 4-4-4zM942 1335l4 4-4 4-4-4zM928 1401l4 4-4 4-4-4zM993 1299l4 4-4 4-4-4zM931 1389l4 4-4 4-4-4zM951 1372l4 4-4 4-4-4zM946 1309l4 4-4 4-4-4zM931 1361l4 4-4 4-4-4zM964 1317l4 4-4 4-4-4zM942 1327l4 4-4 4-4-4zM910 1364l4 4-4 4-4-4zM1079 1360l4 4-4 4-4-4zM1081 1364l4 4-4 4-4-4zM1088 1364l4 4-4 4-4-4zM998 1317l4 4-4 4-4-4zM997 1363l4 4-4 4-4-4zM1034 1356l4 4-4 4-4-4zM1044 1361l4 4-4 4-4-4zM1077 1393l4 4-4 4-4-4zM1010 1339l4 4-4 4-4-4zM1053 1315l4 4-4 4-4-4zM1070 1314l4 4-4 4-4-4zM1090 1367l4 4-4 4-4-4zM1106 1367l4 4-4 4-4-4zM1012 1359l4 4-4 4-4-4zM1077 1319l4 4-4 4-4-4zM1067 1324l4 4-4 4-4-4zM1059 1344l4 4-4 4-4-4zM1074 1374l4 4-4 4-4-4zM1070 1340l4 4-4 4-4-4zM1073 1329l4 4-4 4-4-4zM1035 1365l4 4-4 4-4-4zM1077 1381l4 4-4 4-4-4zM1014 1350l4 4-4 4-4-4zM1091 1295l4 4-4 4-4-4zM1033 1295l4 4-4 4-4-4zM1091 1347l4 4-4 4-4-4zM1099 1386l4 4-4 4-4-4zM1062 1372l4 4-4 4-4-4zM1074 1385l4 4-4 4-4-4zM996 1386l4 4-4 4-4-4zM1014 1353l4 4-4 4-4-4zM1082 1355l4 4-4 4-4-4zM1089 1330l4 4-4 4-4-4zM1017 1324l4 4-4 4-4-4zM1054 1307l4 4-4 4-4-4zM1090 1296l4 4-4 4-4-4zM1033 1332l4 4-4 4-4-4zM1036 1301l4 4-4 4-4-4zM1025 1373l4 4-4 4-4-4zM1061 1343l4 4-4 4-4-4zM1049 1363l4 4-4 4-4-4zM1050 1367l4 4-4 4-4-4zM1055 1342l4 4-4 4-4-4zM1038 1392l4 4-4 4-4-4zM1021 1356l4 4-4 4-4-4zM1055 1340l4 4-4 4-4-4zM1073 1306l4 4-4 4-4-4zM1065 1293l4 4-4 4-4-4zM1040 1351l4 4-4 4-4-4zM1001 1360l4 4-4 4-4-4zM1068 1333l4 4-4 4-4-4zM1035 1304l4 4-4 4-4-4zM1016 1356l4 4-4 4-4-4zM1032 1349l4 4-4 4-4-4zM1070 1379l4 4-4 4-4-4zM1051 1345l4 4-4 4-4-4zM1052 1348l4 4-4 4-4-4zM1051 1349l4 4-4 4-4-4zM1027 1393l4 4-4 4-4-4zM1091 1362l4 4-4 4-4-4zM1064 1360l4 4-4 4-4-4zM1031 1327l4 4-4 4-4-4zM1081 1320l4 4-4 4-4-4zM1027 1293l4 4-4 4-4-4zM1013 1343l4 4-4 4-4-4zM1009 1352l4 4-4 4-4-4zM1037 1391l4 4-4 4-4-4zM1074 1344l4 4-4 4-4-4zM1089 1376l4 4-4 4-4-4zM1018 1368l4 4-4 4-4-4zM1088 1357l4 4-4 4-4-4zM1066 1360l4 4-4 4-4-4zM1061 1312l4 4-4 4-4-4zM1066 1377l4 4-4 4-4-4zM1011 1363l4 4-4 4-4-4zM1031 1350l4 4-4 4-4-4zM1020 1364l4 4-4 4-4-4zM1090 1311l4 4-4 4-4-4zM1076 1366l4 4-4 4-4-4zM1019 1313l4 4-4 4-4-4zM1076 1325l4 4-4 4-4-4zM1063 1344l4 4-4 4-4-4zM1090 1334l4 4-4 4-4-4zM1086 1323l4 4-4 4-4-4zM1090 1377l4 4-4 4-4-4zM1000 1373l4 4-4 4-4-4zM1104 1331l4 4-4 4-4-4zM1048 1319l4 4-4 4-4-4zM1014 1335l4 4-4 4-4-4zM1043 1382l4 4-4 4-4-4zM1046 1333l4 4-4 4-4-4zM1087 1378l4 4-4 4-4-4zM1082 1384l4 4-4 4-4-4zM1010 1363l4 4-4 4-4-4zM1099 1365l4 4-4 4-4-4zM1040 1306l4 4-4 4-4-4zM1065 1299l4 4-4 4-4-4zM1016 1301l4 4-4 4-4-4zM1064 1319l4 4-4 4-4-4zM1071 1318l4 4-4 4-4-4zM1060 1327l4 4-4 4-4-4zM1078 1403l4 4-4 4-4-4zM1091 1362l4 4-4 4-4-4zM1003 1377l4 4-4 4-4-4zM1012 1324l4 4-4 4-4-4zM1074 1339l4 4-4 4-4-4zM1058 1322l4 4-4 4-4-4zM1006 1333l4 4-4 4-4-4zM1057 1357l4 4-4 4-4-4zM1027 1345l4 4-4 4-4-4zM991 1334l4 4-4 4-4-4zM1051 1298l4 4-4 4-4-4zM998 1315l4 4-4 4-4-4zM1058 1311l4 4-4 4-4-4zM1077 1372l4 4-4 4-4-4zM1051 1361l4 4-4 4-4-4zM1027 1333l4 4-4 4-4-4zM1034 1324l4 4-4 4-4-4zM1028 1361l4 4-4 4-4-4zM1084 1316l4 4-4 4-4-4zM1079 1376l4 4-4 4-4-4zM1075 1302l4 4-4 4-4-4zM1043 1378l4 4-4 4-4-4zM1061 1326l4 4-4 4-4-4zM1074 1346l4 4-4 4-4-4zM1002 1386l4 4-4 4-4-4zM1067 1362l4 4-4 4-4-4zM1033 1306l4 4-4 4-4-4zM1026 1377l4 4-4 4-4-4zM1059 1347l4 4-4 4-4-4zM1102 1312l4 4-4 4-4-4zM1006 1395l4 4-4 4-4-4zM1042 1303l4 4-4 4-4-4zM1071 1319l4 4-4 4-4-4zM1057 1384l4 4-4 4-4-4zM1062 1361l4 4-4 4-4-4zM1058 1335l4 4-4 4-4-4zM1067 1363l4 4-4 4-4-4zM1025 1344l4 4-4 4-4-4zM1072 1346l4 4-4 4-4-4zM1094 1386l4 4-4 4-4-4zM1056 1334l4 4-4 4-4-4zM1069 1323l4 4-4 4-4-4zM1058 1381l4 4-4 4-4-4zM1044 1352l4 4-4 4-4-4zM1090 1292l4 4-4 4-4-4zM1084 1313l4 4-4 4-4-4zM1015 1365l4 4-4 4-4-4zM1045 1289l4 4-4 4-4-4zM1059 1342l4 4-4 4-4-4zM1075 1364l4 4-4 4-4-4zM1036 1392l4 4-4 4-4-4zM1067 1339l4 4-4 4-4-4zM1029 1390l4 4-4 4-4-4zM1022 1321l4 4-4 4-4-4zM1049 1321l4 4-4 4-4-4zM1007 1400l4 4-4 4-4-4zM1063 1328l4 4-4 4-4-4zM1038 1366l4 4-4 4-4-4zM1058 1341l4 4-4 4-4-4zM1069 1322l4 4-4 4-4-4zM1092 1355l4 4-4 4-4-4zM1057 1372l4 4-4 4-4-4zM1073 1328l4 4-4 4-4-4zM1002 1351l4 4-4 4-4-4zM1011 1354l4 4-4 4-4-4zM1005 1358l4 4-4 4-4-4zM1056 1363l4 4-4 4-4-4zM1055 1296l4 4-4 4-4-4zM1041 1343l4 4-4 4-4-4zM1085 1375l4 4-4 4-4-4zM1085 1361l4 4-4 4-4-4zM1010 1371l4 4-4 4-4-4zM1019 1340l4 4-4 4-4-4zM1000 1301l4 4-4 4-4-4zM1084 1397l4 4-4 4-4-4zM1085 1399l4 4-4 4-4-4zM1020 1374l4 4-4 4-4-4zM1038 1356l4 4-4 4-4-4zM1049 1389l4 4-4 4-4-4zM1076 1336l4 4-4 4-4-4zM1096 1348l4 4-4 4-4-4zM1071 1379l4 4-4 4-4-4zM1066 1350l4 4-4 4-4-4zM1038 1317l4 4-4 4-4-4zM1029 1352l4 4-4 4-4-4zM1006 1306l4 4-4 4-4-4zM992 1362l4 4-4 4-4-4zM1083 1315l4 4-4 4-4-4zM1042 1378l4 4-4 4-4-4zM1082 1385l4 4-4 4-4-4zM1085 1342l4 4-4 4-4-4zM1173 1357l4 4-4 4-4-4zM1198 1329l4 4-4 4-4-4zM1123 1302l4 4-4 4-4-4zM1101 1358l4 4-4 4-4-4zM1185 1362l4 4-4 4-4-4zM1115 1328l4 4-4 4-4-4zM1158 1325l4 4-4 4-4-4zM1166 1372l4 4-4 4-4-4zM1110 1400l4 4-4 4-4-4zM1145 1359l4 4-4 4-4-4zM1194 1354l4 4-4 4-4-4zM1122 1294l4 4-4 4-4-4zM1159 1377l4 4-4 4-4-4zM1176 1323l4 4-4 4-4-4zM1185 1394l4 4-4 4-4-4zM1178 1331l4 4-4 4-4-4zM1149 1350l4 4-4 4-4-4zM1119 1395l4 4-4 4-4-4zM1173 1367l4 4-4 4-4-4zM1149 1304l4 4-4 4-4-4zM1099 1313l4 4-4 4-4-4zM1116 1317l4 4-4 4-4-4zM1176 1318l4 4-4 4-4-4zM1191 1339l4 4-4 4-4-4zM1168 1336l4 4-4 4-4-4zM1154 1328l4 4-4 4-4-4zM1171 1311l4 4-4 4-4-4zM1112 1317l4 4-4 4-4-4zM1204 1297l4 4-4 4-4-4zM1139 1353l4 4-4 4-4-4zM1196 1317l4 4-4 4-4-4zM1100 1322l4 4-4 4-4-4zM1171 1327l4 4-4 4-4-4zM1130 1350l4 4-4 4-4-4zM1160 1386l4 4-4 4-4-4zM1119 1391l4 4-4 4-4-4zM1150 1344l4 4-4 4-4-4zM1182 1335l4 4-4 4-4-4zM1185 1358l4 4-4 4-4-4zM1170 1362l4 4-4 4-4-4zM1197 1344l4 4-4 4-4-4zM1175 1366l4 4-4 4-4-4zM1135 1318l4 4-4 4-4-4zM1139 1362l4 4-4 4-4-4zM1130 1377l4 4-4 4-4-4zM1100 1307l4 4-4 4-4-4zM1124 1341l4 4-4 4-4-4zM1109 1327l4 4-4 4-4-4zM1101 1373l4 4-4 4-4-4zM1101 1391l4 4-4 4-4-4zM1118 1404l4 4-4 4-4-4zM1185 1298l4 4-4 4-4-4zM1156 1326l4 4-4 4-4-4zM1131 1318l4 4-4 4-4-4zM1132 1320l4 4-4 4-4-4zM1157 1401l4 4-4 4-4-4zM1113 1336l4 4-4 4-4-4zM1149 1309l4 4-4 4-4-4zM1120 1385l4 4-4 4-4-4zM1129 1393l4 4-4 4-4-4zM1167 1373l4 4-4 4-4-4zM1187 1386l4 4-4 4-4-4zM1155 1355l4 4-4 4-4-4zM1122 1370l4 4-4 4-4-4zM1186 1350l4 4-4 4-4-4zM1183 1342l4 4-4 4-4-4zM1140 1333l4 4-4 4-4-4zM1124 1346l4 4-4 4-4-4zM1151 1318l4 4-4 4-4-4zM1176 1393l4 4-4 4-4-4zM1098 1398l4 4-4 4-4-4zM1201 1348l4 4-4 4-4-4zM1159 1369l4 4-4 4-4-4zM1172 1343l4 4-4 4-4-4zM1152 1345l4 4-4 4-4-4zM1164 1368l4 4-4 4-4-4zM1104 1330l4 4-4 4-4-4zM1176 1374l4 4-4 4-4-4zM1183 1343l4 4-4 4-4-4zM1195 1318l4 4-4 4-4-4zM1194 1324l4 4-4 4-4-4zM1148 1320l4 4-4 4-4-4zM1188 1390l4 4-4 4-4-4zM1121 1308l4 4-4 4-4-4zM1139 1384l4 4-4 4-4-4zM1167 1355l4 4-4 4-4-4zM1161 1349l4 4-4 4-4-4zM1124 1343l4 4-4 4-4-4zM1131 1305l4 4-4 4-4-4zM1162 1387l4 4-4 4-4-4zM1169 1301l4 4-4 4-4-4zM1151 1334l4 4-4 4-4-4zM1123 1320l4 4-4 4-4-4zM1176 1403l4 4-4 4-4-4zM1194 1376l4 4-4 4-4-4zM1117 1296l4 4-4 4-4-4zM1139 1328l4 4-4 4-4-4zM1130 1326l4 4-4 4-4-4zM1122 1328l4 4-4 4-4-4zM1200 1380l4 4-4 4-4-4zM1150 1315l4 4-4 4-4-4zM1181 1346l4 4-4 4-4-4zM1150 1347l4 4-4 4-4-4zM1124 1322l4 4-4 4-4-4zM1139 1378l4 4-4 4-4-4zM1177 1328l4 4-4 4-4-4zM1179 1338l4 4-4 4-4-4zM1090 1347l4 4-4 4-4-4zM1138 1311l4 4-4 4-4-4zM1092 1325l4 4-4 4-4-4zM1185 1344l4 4-4 4-4-4zM1181 1325l4 4-4 4-4-4zM1143 1381l4 4-4 4-4-4zM1100 1334l4 4-4 4-4-4zM1192 1358l4 4-4 4-4-4zM1124 1357l4 4-4 4-4-4zM1163 1304l4 4-4 4-4-4zM1107 1370l4 4-4 4-4-4zM1157 1327l4 4-4 4-4-4zM1196 1345l4 4-4 4-4-4zM1198 1323l4 4-4 4-4-4zM1142 1374l4 4-4 4-4-4zM1141 1292l4 4-4 4-4-4zM1201 1297l4 4-4 4-4-4zM1130 1327l4 4-4 4-4-4zM1171 1354l4 4-4 4-4-4zM1136 1378l4 4-4 4-4-4zM1178 1291l4 4-4 4-4-4zM1144 1378l4 4-4 4-4-4zM1160 1328l4 4-4 4-4-4zM1176 1287l4 4-4 4-4-4zM1144 1351l4 4-4 4-4-4zM1146 1382l4 4-4 4-4-4zM1108 1297l4 4-4 4-4-4zM1095 1292l4 4-4 4-4-4zM1124 1354l4 4-4 4-4-4zM1154 1310l4 4-4 4-4-4zM1188 1350l4 4-4 4-4-4zM1102 1350l4 4-4 4-4-4zM1167 1324l4 4-4 4-4-4zM1164 1334l4 4-4 4-4-4zM1112 1373l4 4-4 4-4-4zM1095 1304l4 4-4 4-4-4zM1105 1324l4 4-4 4-4-4zM1195 1367l4 4-4 4-4-4zM1102 1364l4 4-4 4-4-4zM1112 1319l4 4-4 4-4-4zM1176 1366l4 4-4 4-4-4zM1193 1374l4 4-4 4-4-4zM1138 1299l4 4-4 4-4-4zM1192 1373l4 4-4 4-4-4zM1124 1325l4 4-4 4-4-4zM1176 1359l4 4-4 4-4-4zM1152 1302l4 4-4 4-4-4zM1163 1407l4 4-4 4-4-4zM1174 1328l4 4-4 4-4-4zM1190 1356l4 4-4 4-4-4zM1201 1383l4 4-4 4-4-4zM1145 1394l4 4-4 4-4-4zM1134 1400l4 4-4 4-4-4zM1118 1353l4 4-4 4-4-4zM1167 1348l4 4-4 4-4-4zM1190 1357l4 4-4 4-4-4zM1197 1337l4 4-4 4-4-4zM1158 1314l4 4-4 4-4-4zM1132 1309l4 4-4 4-4-4zM1135 1395l4 4-4 4-4-4zM1133 1324l4 4-4 4-4-4zM1145 1360l4 4-4 4-4-4zM1189 1348l4 4-4 4-4-4zM1152 1299l4 4-4 4-4-4zM1196 1325l4 4-4 4-4-4zM1140 1319l4 4-4 4-4-4zM1107 1326l4 4-4 4-4-4zM1113 1398l4 4-4 4-4-4zM1149 1374l4 4-4 4-4-4zM1126 1354l4 4-4 4-4-4zM1106 1323l4 4-4 4-4-4zM1185 1383l4 4-4 4-4-4zM1132 1300l4 4-4 4-4-4zM1122 1365l4 4-4 4-4-4zM1137 1378l4 4-4 4-4-4zM1107 1396l4 4-4 4-4-4zM1166 1316l4 4-4 4-4-4zM1093 1329l4 4-4 4-4-4zM1186 1348l4 4-4 4-4-4zM1197 1362l4 4-4 4-4-4zM1121 1340l4 4-4 4-4-4zM1118 1308l4 4-4 4-4-4zM1167 1347l4 4-4 4-4-4zM1182 1397l4 4-4 4-4-4zM1128 1331l4 4-4 4-4-4zM1172 1369l4 4-4 4-4-4zM1143 1374l4 4-4 4-4-4zM1119 1353l4 4-4 4-4-4zM1179 1348l4 4-4 4-4-4zM1140 1369l4 4-4 4-4-4zM1141 1387l4 4-4 4-4-4zM1161 1372l4 4-4 4-4-4zM1162 1385l4 4-4 4-4-4zM1130 1392l4 4-4 4-4-4zM1118 1305l4 4-4 4-4-4zM1127 1401l4 4-4 4-4-4zM1094 1356l4 4-4 4-4-4zM1156 1292l4 4-4 4-4-4zM1188 1392l4 4-4 4-4-4zM1129 1289l4 4-4 4-4-4zM1148 1335l4 4-4 4-4-4zM1146 1383l4 4-4 4-4-4zM1108 1299l4 4-4 4-4-4zM1187 1332l4 4-4 4-4-4zM1114 1365l4 4-4 4-4-4zM1198 1333l4 4-4 4-4-4zM1114 1313l4 4-4 4-4-4zM1115 1304l4 4-4 4-4-4zM1095 1382l4 4-4 4-4-4zM1179 1323l4 4-4 4-4-4zM1116 1368l4 4-4 4-4-4zM1155 1336l4 4-4 4-4-4zM1126 1337l4 4-4 4-4-4zM1152 1390l4 4-4 4-4-4zM1169 1371l4 4-4 4-4-4zM1133 1371l4 4-4 4-4-4zM1148 1297l4 4-4 4-4-4zM1157 1321l4 4-4 4-4-4zM1142 1319l4 4-4 4-4-4zM1147 1360l4 4-4 4-4-4zM1164 1349l4 4-4 4-4-4zM1154 1383l4 4-4 4-4-4zM1174 1325l4 4-4 4-4-4zM1124 1330l4 4-4 4-4-4zM1111 1374l4 4-4 4-4-4zM1094 1402l4 4-4 4-4-4zM1216 1357l4 4-4 4-4-4zM1202 1360l4 4-4 4-4-4zM1174 1380l4 4-4 4-4-4zM1150 1394l4 4-4 4-4-4zM1114 1342l4 4-4 4-4-4zM1146 1380l4 4-4 4-4-4zM1095 1377l4 4-4 4-4-4zM1121 1367l4 4-4 4-4-4zM1133 1318l4 4-4 4-4-4zM1119 1314l4 4-4 4-4-4zM1129 1387l4 4-4 4-4-4zM1186 1319l4 4-4 4-4-4zM1130 1339l4 4-4 4-4-4zM1185 1343l4 4-4 4-4-4zM1160 1362l4 4-4 4-4-4zM1193 1367l4 4-4 4-4-4zM1137 1379l4 4-4 4-4-4zM1171 1394l4 4-4 4-4-4zM1117 1340l4 4-4 4-4-4zM1109 1336l4 4-4 4-4-4zM1106 1292l4 4-4 4-4-4zM1120 1303l4 4-4 4-4-4zM1146 1311l4 4-4 4-4-4zM1108 1378l4 4-4 4-4-4zM1170 1353l4 4-4 4-4-4zM1167 1373l4 4-4 4-4-4zM1196 1332l4 4-4 4-4-4zM1160 1388l4 4-4 4-4-4zM1157 1335l4 4-4 4-4-4zM1142 1324l4 4-4 4-4-4zM1149 1372l4 4-4 4-4-4zM1155 1307l4 4-4 4-4-4zM1135 1313l4 4-4 4-4-4zM1129 1316l4 4-4 4-4-4zM1177 1360l4 4-4 4-4-4zM1161 1385l4 4-4 4-4-4zM1158 1330l4 4-4 4-4-4zM1168 1391l4 4-4 4-4-4zM1133 1306l4 4-4 4-4-4zM1169 1397l4 4-4 4-4-4zM1196 1352l4 4-4 4-4-4zM1163 1364l4 4-4 4-4-4zM1124 1391l4 4-4 4-4-4zM1158 1385l4 4-4 4-4-4zM1174 1319l4 4-4 4-4-4zM1127 1378l4 4-4 4-4-4zM1188 1336l4 4-4 4-4-4zM1178 1323l4 4-4 4-4-4zM1147 1325l4 4-4 4-4-4zM1224 1376l4 4-4 4-4-4zM1208 1352l4 4-4 4-4-4zM1239 1305l4 4-4 4-4-4zM1295 1339l4 4-4 4-4-4zM1260 1326l4 4-4 4-4-4zM1237 1309l4 4-4 4-4-4zM1289 1310l4 4-4 4-4-4zM1277 1353l4 4-4 4-4-4zM1300 1344l4 4-4 4-4-4zM1272 1350l4 4-4 4-4-4zM1210 1356l4 4-4 4-4-4zM1205 1383l4 4-4 4-4-4zM1298 1307l4 4-4 4-4-4zM1263 1333l4 4-4 4-4-4zM1289 1363l4 4-4 4-4-4zM1222 1408l4 4-4 4-4-4zM1284 1318l4 4-4 4-4-4zM1223 1316l4 4-4 4-4-4zM1285 1326l4 4-4 4-4-4zM1225 1344l4 4-4 4-4-4zM1249 1304l4 4-4 4-4-4zM1279 1369l4 4-4 4-4-4zM1232 1351l4 4-4 4-4-4zM1285 1343l4 4-4 4-4-4zM1212 1358l4 4-4 4-4-4zM1297 1316l4 4-4 4-4-4zM1259 1355l4 4-4 4-4-4zM1296 1376l4 4-4 4-4-4zM1253 1380l4 4-4 4-4-4zM1282 1327l4 4-4 4-4-4zM1225 1344l4 4-4 4-4-4zM1218 1324l4 4-4 4-4-4zM1280 1307l4 4-4 4-4-4zM1305 1340l4 4-4 4-4-4zM1260 1316l4 4-4 4-4-4zM1244 1359l4 4-4 4-4-4zM1292 1355l4 4-4 4-4-4zM1232 1391l4 4-4 4-4-4zM1226 1348l4 4-4 4-4-4zM1300 1370l4 4-4 4-4-4zM1277 1310l4 4-4 4-4-4zM1263 1391l4 4-4 4-4-4zM1213 1322l4 4-4 4-4-4zM1252 1325l4 4-4 4-4-4zM1206 1339l4 4-4 4-4-4zM1312 1348l4 4-4 4-4-4zM1211 1346l4 4-4 4-4-4zM1213 1385l4 4-4 4-4-4zM1273 1315l4 4-4 4-4-4zM1242 1376l4 4-4 4-4-4zM1255 1308l4 4-4 4-4-4zM1293 1375l4 4-4 4-4-4zM1276 1356l4 4-4 4-4-4zM1300 1386l4 4-4 4-4-4zM1218 1385l4 4-4 4-4-4zM1234 1304l4 4-4 4-4-4zM1234 1333l4 4-4 4-4-4zM1260 1342l4 4-4 4-4-4zM1259 1304l4 4-4 4-4-4zM1229 1335l4 4-4 4-4-4zM1278 1347l4 4-4 4-4-4zM1286 1365l4 4-4 4-4-4zM1258 1369l4 4-4 4-4-4zM1256 1328l4 4-4 4-4-4zM1243 1344l4 4-4 4-4-4zM1252 1306l4 4-4 4-4-4zM1287 1339l4 4-4 4-4-4zM1229 1289l4 4-4 4-4-4zM1209 1316l4 4-4 4-4-4zM1249 1398l4 4-4 4-4-4zM1295 1320l4 4-4 4-4-4zM1206 1325l4 4-4 4-4-4zM1247 1304l4 4-4 4-4-4zM1238 1322l4 4-4 4-4-4zM1203 1321l4 4-4 4-4-4zM1253 1358l4 4-4 4-4-4zM1217 1297l4 4-4 4-4-4zM1237 1373l4 4-4 4-4-4zM1248 1343l4 4-4 4-4-4zM1216 1379l4 4-4 4-4-4zM1241 1329l4 4-4 4-4-4zM1266 1350l4 4-4 4-4-4zM1229 1377l4 4-4 4-4-4zM1199 1310l4 4-4 4-4-4zM1257 1385l4 4-4 4-4-4zM1227 1312l4 4-4 4-4-4zM1283 1347l4 4-4 4-4-4zM1272 1293l4 4-4 4-4-4zM1208 1383l4 4-4 4-4-4zM1301 1310l4 4-4 4-4-4zM1246 1323l4 4-4 4-4-4zM1245 1312l4 4-4 4-4-4zM1284 1377l4 4-4 4-4-4zM1216 1322l4 4-4 4-4-4zM1268 1311l4 4-4 4-4-4zM1207 1336l4 4-4 4-4-4zM1269 1342l4 4-4 4-4-4zM1292 1348l4 4-4 4-4-4zM1210 1392l4 4-4 4-4-4zM1241 1300l4 4-4 4-4-4zM1277 1374l4 4-4 4-4-4zM1287 1369l4 4-4 4-4-4zM1259 1374l4 4-4 4-4-4zM1223 1363l4 4-4 4-4-4zM1228 1333l4 4-4 4-4-4zM1227 1333l4 4-4 4-4-4zM1221 1400l4 4-4 4-4-4zM1300 1324l4 4-4 4-4-4zM1232 1381l4 4-4 4-4-4zM1222 1305l4 4-4 4-4-4zM1227 1327l4 4-4 4-4-4zM1274 1339l4 4-4 4-4-4zM1268 1295l4 4-4 4-4-4zM1280 1349l4 4-4 4-4-4zM1290 1305l4 4-4 4-4-4zM1212 1372l4 4-4 4-4-4zM1299 1344l4 4-4 4-4-4zM1268 1307l4 4-4 4-4-4zM1221 1358l4 4-4 4-4-4zM1235 1362l4 4-4 4-4-4zM1288 1294l4 4-4 4-4-4zM1258 1308l4 4-4 4-4-4zM1207 1327l4 4-4 4-4-4zM1265 1387l4 4-4 4-4-4zM1266 1372l4 4-4 4-4-4zM1265 1308l4 4-4 4-4-4zM1260 1361l4 4-4 4-4-4zM1266 1344l4 4-4 4-4-4zM1275 1360l4 4-4 4-4-4zM1222 1299l4 4-4 4-4-4zM1303 1364l4 4-4 4-4-4zM1263 1367l4 4-4 4-4-4zM1209 1302l4 4-4 4-4-4zM1278 1366l4 4-4 4-4-4zM1218 1364l4 4-4 4-4-4zM1262 1366l4 4-4 4-4-4zM1242 1288l4 4-4 4-4-4zM1208 1297l4 4-4 4-4-4zM1293 1372l4 4-4 4-4-4zM1268 1323l4 4-4 4-4-4zM1199 1357l4 4-4 4-4-4zM1223 1313l4 4-4 4-4-4zM1245 1360l4 4-4 4-4-4zM1204 1338l4 4-4 4-4-4zM1286 1336l4 4-4 4-4-4zM1231 1357l4 4-4 4-4-4zM1292 1297l4 4-4 4-4-4zM1227 1330l4 4-4 4-4-4zM1228 1332l4 4-4 4-4-4zM1256 1387l4 4-4 4-4-4zM1257 1335l4 4-4 4-4-4zM1261 1312l4 4-4 4-4-4zM1224 1320l4 4-4 4-4-4zM1286 1372l4 4-4 4-4-4zM1277 1298l4 4-4 4-4-4zM1254 1336l4 4-4 4-4-4zM1266 1380l4 4-4 4-4-4zM1252 1320l4 4-4 4-4-4zM1239 1358l4 4-4 4-4-4zM1249 1363l4 4-4 4-4-4zM1216 1322l4 4-4 4-4-4zM1286 1311l4 4-4 4-4-4zM1294 1355l4 4-4 4-4-4zM1218 1306l4 4-4 4-4-4zM1300 1342l4 4-4 4-4-4zM1257 1336l4 4-4 4-4-4zM1208 1310l4 4-4 4-4-4zM1202 1328l4 4-4 4-4-4zM1257 1383l4 4-4 4-4-4zM1291 1398l4 4-4 4-4-4zM1281 1330l4 4-4 4-4-4zM1224 1344l4 4-4 4-4-4zM1213 1387l4 4-4 4-4-4zM1257 1315l4 4-4 4-4-4zM1234 1342l4 4-4 4-4-4zM1204 1328l4 4-4 4-4-4zM1237 1327l4 4-4 4-4-4zM1280 1341l4 4-4 4-4-4zM1216 1371l4 4-4 4-4-4zM1236 1387l4 4-4 4-4-4zM1210 1351l4 4-4 4-4-4zM1250 1334l4 4-4 4-4-4zM1230 1320l4 4-4 4-4-4zM1298 1361l4 4-4 4-4-4zM1284 1285l4 4-4 4-4-4zM1258 1362l4 4-4 4-4-4zM1215 1323l4 4-4 4-4-4zM1265 1385l4 4-4 4-4-4zM1283 1346l4 4-4 4-4-4zM1207 1401l4 4-4 4-4-4zM1281 1401l4 4-4 4-4-4zM1233 1367l4 4-4 4-4-4zM1214 1294l4 4-4 4-4-4zM1293 1313l4 4-4 4-4-4zM1233 1336l4 4-4 4-4-4zM1242 1342l4 4-4 4-4-4zM1222 1352l4 4-4 4-4-4zM1283 1303l4 4-4 4-4-4zM1262 1376l4 4-4 4-4-4zM1239 1400l4 4-4 4-4-4zM1207 1369l4 4-4 4-4-4zM1225 1300l4 4-4 4-4-4zM1266 1334l4 4-4 4-4-4zM1282 1365l4 4-4 4-4-4zM1229 1389l4 4-4 4-4-4zM1277 1327l4 4-4 4-4-4zM1285 1351l4 4-4 4-4-4zM1210 1384l4 4-4 4-4-4zM1227 1390l4 4-4 4-4-4zM1244 1379l4 4-4 4-4-4zM1273 1328l4 4-4 4-4-4zM1253 1388l4 4-4 4-4-4zM1265 1398l4 4-4 4-4-4zM1279 1296l4 4-4 4-4-4zM1264 1305l4 4-4 4-4-4zM1253 1351l4 4-4 4-4-4zM1299 1355l4 4-4 4-4-4zM1211 1311l4 4-4 4-4-4zM1259 1315l4 4-4 4-4-4zM1223 1333l4 4-4 4-4-4zM1236 1381l4 4-4 4-4-4zM1299 1321l4 4-4 4-4-4zM1255 1338l4 4-4 4-4-4zM1210 1339l4 4-4 4-4-4zM1255 1357l4 4-4 4-4-4zM1280 1374l4 4-4 4-4-4zM1220 1351l4 4-4 4-4-4zM1239 1306l4 4-4 4-4-4zM1242 1346l4 4-4 4-4-4zM1228 1323l4 4-4 4-4-4zM1184 1355l4 4-4 4-4-4zM1206 1331l4 4-4 4-4-4zM1288 1358l4 4-4 4-4-4zM1253 1302l4 4-4 4-4-4zM1253 1318l4 4-4 4-4-4zM1271 1370l4 4-4 4-4-4zM1282 1317l4 4-4 4-4-4zM1234 1284l4 4-4 4-4-4zM1263 1371l4 4-4 4-4-4zM1289 1283l4 4-4 4-4-4zM1238 1369l4 4-4 4-4-4zM1261 1322l4 4-4 4-4-4zM1253 1331l4 4-4 4-4-4zM1281 1348l4 4-4 4-4-4zM1234 1390l4 4-4 4-4-4zM1294 1384l4 4-4 4-4-4zM1211 1365l4 4-4 4-4-4zM1210 1309l4 4-4 4-4-4zM1236 1405l4 4-4 4-4-4zM1219 1347l4 4-4 4-4-4zM1230 1367l4 4-4 4-4-4zM1291 1334l4 4-4 4-4-4zM1263 1381l4 4-4 4-4-4zM1294 1301l4 4-4 4-4-4zM1242 1296l4 4-4 4-4-4zM1290 1370l4 4-4 4-4-4zM1291 1316l4 4-4 4-4-4zM1213 1304l4 4-4 4-4-4zM1237 1352l4 4-4 4-4-4zM1227 1376l4 4-4 4-4-4zM1336 1288l4 4-4 4-4-4zM1308 1367l4 4-4 4-4-4zM1303 1344l4 4-4 4-4-4zM1341 1378l4 4-4 4-4-4zM1298 1309l4 4-4 4-4-4zM1376 1373l4 4-4 4-4-4zM1308 1342l4 4-4 4-4-4zM1344 1362l4 4-4 4-4-4zM1313 1329l4 4-4 4-4-4zM1386 1389l4 4-4 4-4-4zM1394 1395l4 4-4 4-4-4zM1321 1366l4 4-4 4-4-4zM1371 1315l4 4-4 4-4-4zM1367 1333l4 4-4 4-4-4zM1329 1381l4 4-4 4-4-4zM1316 1369l4 4-4 4-4-4zM1384 1337l4 4-4 4-4-4zM1361 1320l4 4-4 4-4-4zM1405 1315l4 4-4 4-4-4zM1390 1360l4 4-4 4-4-4zM1376 1389l4 4-4 4-4-4zM1346 1346l4 4-4 4-4-4zM1373 1353l4 4-4 4-4-4zM1376 1387l4 4-4 4-4-4zM1325 1308l4 4-4 4-4-4zM1345 1316l4 4-4 4-4-4zM1341 1285l4 4-4 4-4-4zM1356 1349l4 4-4 4-4-4zM1358 1343l4 4-4 4-4-4zM1307 1356l4 4-4 4-4-4zM1372 1394l4 4-4 4-4-4zM1342 1362l4 4-4 4-4-4zM1391 1318l4 4-4 4-4-4zM1365 1359l4 4-4 4-4-4zM1402 1311l4 4-4 4-4-4zM1342 1389l4 4-4 4-4-4zM1334 1312l4 4-4 4-4-4zM1323 1305l4 4-4 4-4-4zM1314 1378l4 4-4 4-4-4zM1342 1364l4 4-4 4-4-4zM1363 1307l4 4-4 4-4-4zM1317 1304l4 4-4 4-4-4zM1355 1332l4 4-4 4-4-4zM1369 1328l4 4-4 4-4-4zM1328 1368l4 4-4 4-4-4zM1331 1301l4 4-4 4-4-4zM1345 1302l4 4-4 4-4-4zM1358 1380l4 4-4 4-4-4zM1312 1309l4 4-4 4-4-4zM1321 1388l4 4-4 4-4-4zM1395 1379l4 4-4 4-4-4zM1341 1317l4 4-4 4-4-4zM1333 1363l4 4-4 4-4-4zM1382 1348l4 4-4 4-4-4zM1327 1329l4 4-4 4-4-4zM1388 1363l4 4-4 4-4-4zM1401 1383l4 4-4 4-4-4zM1342 1341l4 4-4 4-4-4zM1306 1393l4 4-4 4-4-4zM1352 1372l4 4-4 4-4-4zM1323 1336l4 4-4 4-4-4zM1328 1351l4 4-4 4-4-4zM1324 1325l4 4-4 4-4-4zM1306 1400l4 4-4 4-4-4zM1312 1361l4 4-4 4-4-4zM1360 1303l4 4-4 4-4-4zM1335 1368l4 4-4 4-4-4zM1374 1324l4 4-4 4-4-4zM1376 1373l4 4-4 4-4-4zM1335 1333l4 4-4 4-4-4zM1325 1390l4 4-4 4-4-4zM1396 1293l4 4-4 4-4-4zM1368 1351l4 4-4 4-4-4zM1358 1350l4 4-4 4-4-4zM1278 1326l4 4-4 4-4-4zM1341 1302l4 4-4 4-4-4zM1395 1363l4 4-4 4-4-4zM1373 1331l4 4-4 4-4-4zM1325 1372l4 4-4 4-4-4zM1292 1297l4 4-4 4-4-4zM1377 1375l4 4-4 4-4-4zM1366 1345l4 4-4 4-4-4zM1334 1369l4 4-4 4-4-4zM1299 1341l4 4-4 4-4-4zM1319 1360l4 4-4 4-4-4zM1323 1358l4 4-4 4-4-4zM1356 1382l4 4-4 4-4-4zM1386 1360l4 4-4 4-4-4zM1309 1336l4 4-4 4-4-4zM1342 1359l4 4-4 4-4-4zM1316 1330l4 4-4 4-4-4zM1394 1356l4 4-4 4-4-4zM1347 1326l4 4-4 4-4-4zM1410 1365l4 4-4 4-4-4zM1354 1319l4 4-4 4-4-4zM1351 1379l4 4-4 4-4-4zM1358 1339l4 4-4 4-4-4zM1340 1343l4 4-4 4-4-4zM1356 1350l4 4-4 4-4-4zM1313 1308l4 4-4 4-4-4zM1394 1300l4 4-4 4-4-4zM1308 1373l4 4-4 4-4-4zM1336 1365l4 4-4 4-4-4zM1391 1341l4 4-4 4-4-4zM1347 1367l4 4-4 4-4-4zM1344 1377l4 4-4 4-4-4zM1338 1313l4 4-4 4-4-4zM1337 1406l4 4-4 4-4-4zM1362 1337l4 4-4 4-4-4zM1365 1354l4 4-4 4-4-4zM1314 1318l4 4-4 4-4-4zM1353 1338l4 4-4 4-4-4zM1334 1347l4 4-4 4-4-4zM1332 1400l4 4-4 4-4-4zM1371 1350l4 4-4 4-4-4zM1334 1390l4 4-4 4-4-4zM1301 1318l4 4-4 4-4-4zM1345 1334l4 4-4 4-4-4zM1303 1390l4 4-4 4-4-4zM1315 1366l4 4-4 4-4-4zM1305 1384l4 4-4 4-4-4zM1378 1363l4 4-4 4-4-4zM1332 1306l4 4-4 4-4-4zM1367 1386l4 4-4 4-4-4zM1372 1383l4 4-4 4-4-4zM1308 1331l4 4-4 4-4-4zM1353 1333l4 4-4 4-4-4zM1309 1310l4 4-4 4-4-4zM1399 1380l4 4-4 4-4-4zM1334 1387l4 4-4 4-4-4zM1302 1358l4 4-4 4-4-4zM1378 1384l4 4-4 4-4-4zM1351 1331l4 4-4 4-4-4zM1317 1376l4 4-4 4-4-4zM1303 1323l4 4-4 4-4-4zM1325 1366l4 4-4 4-4-4zM1381 1366l4 4-4 4-4-4zM1331 1347l4 4-4 4-4-4zM1333 1345l4 4-4 4-4-4zM1324 1308l4 4-4 4-4-4zM1323 1316l4 4-4 4-4-4zM1356 1402l4 4-4 4-4-4zM1379 1349l4 4-4 4-4-4zM1348 1348l4 4-4 4-4-4zM1315 1341l4 4-4 4-4-4zM1325 1366l4 4-4 4-4-4zM1349 1305l4 4-4 4-4-4zM1399 1335l4 4-4 4-4-4zM1358 1324l4 4-4 4-4-4zM1360 1379l4 4-4 4-4-4zM1340 1320l4 4-4 4-4-4zM1293 1340l4 4-4 4-4-4zM1334 1312l4 4-4 4-4-4zM1389 1331l4 4-4 4-4-4zM1385 1352l4 4-4 4-4-4zM1369 1334l4 4-4 4-4-4zM1357 1334l4 4-4 4-4-4zM1302 1320l4 4-4 4-4-4zM1378 1317l4 4-4 4-4-4zM1302 1361l4 4-4 4-4-4zM1305 1337l4 4-4 4-4-4zM1336 1373l4 4-4 4-4-4zM1387 1337l4 4-4 4-4-4zM1336 1363l4 4-4 4-4-4zM1365 1391l4 4-4 4-4-4zM1372 1331l4 4-4 4-4-4zM1361 1396l4 4-4 4-4-4zM1356 1396l4 4-4 4-4-4zM1332 1379l4 4-4 4-4-4zM1325 1340l4 4-4 4-4-4zM1311 1335l4 4-4 4-4-4zM1304 1326l4 4-4 4-4-4zM1341 1400l4 4-4 4-4-4zM1389 1352l4 4-4 4-4-4zM1342 1296l4 4-4 4-4-4zM1325 1366l4 4-4 4-4-4zM1334 1349l4 4-4 4-4-4zM1382 1375l4 4-4 4-4-4zM1374 1396l4 4-4 4-4-4zM1372 1361l4 4-4 4-4-4zM1349 1311l4 4-4 4-4-4zM1322 1399l4 4-4 4-4-4zM1363 1327l4 4-4 4-4-4zM1369 1318l4 4-4 4-4-4zM1376 1352l4 4-4 4-4-4zM1408 1362l4 4-4 4-4-4zM1341 1336l4 4-4 4-4-4zM1337 1377l4 4-4 4-4-4zM1383 1337l4 4-4 4-4-4zM1318 1305l4 4-4 4-4-4zM1398 1340l4 4-4 4-4-4zM1379 1403l4 4-4 4-4-4zM1333 1352l4 4-4 4-4-4zM1365 1401l4 4-4 4-4-4zM1315 1343l4 4-4 4-4-4zM1331 1392l4 4-4 4-4-4zM1327 1339l4 4-4 4-4-4zM1365 1341l4 4-4 4-4-4zM1369 1356l4 4-4 4-4-4zM1331 1345l4 4-4 4-4-4zM1356 1360l4 4-4 4-4-4zM1346 1342l4 4-4 4-4-4zM1368 1337l4 4-4 4-4-4zM1384 1324l4 4-4 4-4-4zM1410 1310l4 4-4 4-4-4zM1373 1308l4 4-4 4-4-4zM1424 1361l4 4-4 4-4-4zM1443 1337l4 4-4 4-4-4zM1478 1335l4 4-4 4-4-4zM1485 1334l4 4-4 4-4-4zM1410 1343l4 4-4 4-4-4zM1457 1367l4 4-4 4-4-4zM1470 1319l4 4-4 4-4-4zM1477 1342l4 4-4 4-4-4zM1414 1371l4 4-4 4-4-4zM1435 1385l4 4-4 4-4-4zM1462 1314l4 4-4 4-4-4zM1411 1371l4 4-4 4-4-4zM1416 1315l4 4-4 4-4-4zM1429 1383l4 4-4 4-4-4zM1439 1328l4 4-4 4-4-4zM1411 1379l4 4-4 4-4-4zM1462 1383l4 4-4 4-4-4zM1484 1351l4 4-4 4-4-4zM1471 1301l4 4-4 4-4-4zM1480 1322l4 4-4 4-4-4zM1457 1361l4 4-4 4-4-4zM1420 1306l4 4-4 4-4-4zM1410 1391l4 4-4 4-4-4zM1418 1353l4 4-4 4-4-4zM1395 1313l4 4-4 4-4-4zM1408 1366l4 4-4 4-4-4zM1474 1374l4 4-4 4-4-4zM1409 1309l4 4-4 4-4-4zM1460 1364l4 4-4 4-4-4zM1466 1398l4 4-4 4-4-4zM1459 1374l4 4-4 4-4-4zM1500 1357l4 4-4 4-4-4zM1457 1381l4 4-4 4-4-4zM1493 1384l4 4-4 4-4-4zM1490 1370l4 4-4 4-4-4zM1449 1313l4 4-4 4-4-4zM1489 1392l4 4-4 4-4-4zM1493 1374l4 4-4 4-4-4zM1492 1346l4 4-4 4-4-4zM1441 1381l4 4-4 4-4-4zM1499 1300l4 4-4 4-4-4zM1480 1350l4 4-4 4-4-4zM1398 1342l4 4-4 4-4-4zM1443 1358l4 4-4 4-4-4zM1418 1359l4 4-4 4-4-4zM1399 1347l4 4-4 4-4-4zM1477 1339l4 4-4 4-4-4zM1472 1301l4 4-4 4-4-4zM1486 1312l4 4-4 4-4-4zM1441 1358l4 4-4 4-4-4zM1484 1376l4 4-4 4-4-4zM1472 1303l4 4-4 4-4-4zM1457 1390l4 4-4 4-4-4zM1468 1387l4 4-4 4-4-4zM1424 1301l4 4-4 4-4-4zM1443 1356l4 4-4 4-4-4zM1429 1306l4 4-4 4-4-4zM1429 1299l4 4-4 4-4-4zM1449 1287l4 4-4 4-4-4zM1408 1363l4 4-4 4-4-4zM1420 1311l4 4-4 4-4-4zM1429 1327l4 4-4 4-4-4zM1468 1296l4 4-4 4-4-4zM1461 1342l4 4-4 4-4-4zM1415 1360l4 4-4 4-4-4zM1457 1306l4 4-4 4-4-4zM1415 1320l4 4-4 4-4-4zM1407 1353l4 4-4 4-4-4zM1471 1299l4 4-4 4-4-4zM1498 1303l4 4-4 4-4-4zM1497 1322l4 4-4 4-4-4zM1500 1360l4 4-4 4-4-4zM1438 1383l4 4-4 4-4-4zM1476 1344l4 4-4 4-4-4zM1488 1316l4 4-4 4-4-4zM1492 1303l4 4-4 4-4-4zM1411 1353l4 4-4 4-4-4zM1479 1350l4 4-4 4-4-4zM1481 1338l4 4-4 4-4-4zM1445 1370l4 4-4 4-4-4zM1417 1339l4 4-4 4-4-4zM1451 1318l4 4-4 4-4-4zM1491 1347l4 4-4 4-4-4zM1492 1340l4 4-4 4-4-4zM1433 1338l4 4-4 4-4-4zM1463 1331l4 4-4 4-4-4zM1421 1302l4 4-4 4-4-4zM1416 1346l4 4-4 4-4-4zM1431 1327l4 4-4 4-4-4zM1463 1289l4 4-4 4-4-4zM1476 1291l4 4-4 4-4-4zM1471 1358l4 4-4 4-4-4zM1409 1380l4 4-4 4-4-4zM1444 1288l4 4-4 4-4-4zM1485 1334l4 4-4 4-4-4zM1439 1301l4 4-4 4-4-4zM1435 1325l4 4-4 4-4-4zM1477 1377l4 4-4 4-4-4zM1484 1400l4 4-4 4-4-4zM1411 1376l4 4-4 4-4-4zM1453 1292l4 4-4 4-4-4zM1425 1304l4 4-4 4-4-4zM1471 1383l4 4-4 4-4-4zM1423 1296l4 4-4 4-4-4zM1432 1320l4 4-4 4-4-4zM1399 1342l4 4-4 4-4-4zM1479 1320l4 4-4 4-4-4zM1484 1321l4 4-4 4-4-4zM1445 1332l4 4-4 4-4-4zM1467 1392l4 4-4 4-4-4zM1452 1349l4 4-4 4-4-4zM1459 1306l4 4-4 4-4-4zM1502 1358l4 4-4 4-4-4zM1463 1310l4 4-4 4-4-4zM1464 1346l4 4-4 4-4-4zM1409 1342l4 4-4 4-4-4zM1474 1380l4 4-4 4-4-4zM1417 1366l4 4-4 4-4-4zM1496 1368l4 4-4 4-4-4zM1425 1374l4 4-4 4-4-4zM1447 1323l4 4-4 4-4-4zM1402 1385l4 4-4 4-4-4zM1489 1334l4 4-4 4-4-4zM1401 1382l4 4-4 4-4-4zM1469 1312l4 4-4 4-4-4zM1468 1373l4 4-4 4-4-4zM1423 1339l4 4-4 4-4-4zM1440 1384l4 4-4 4-4-4zM1418 1360l4 4-4 4-4-4zM1504 1370l4 4-4 4-4-4zM1414 1314l4 4-4 4-4-4zM1451 1387l4 4-4 4-4-4zM1451 1337l4 4-4 4-4-4zM1430 1345l4 4-4 4-4-4zM1482 1331l4 4-4 4-4-4zM1421 1297l4 4-4 4-4-4zM1433 1312l4 4-4 4-4-4zM1413 1338l4 4-4 4-4-4zM1462 1360l4 4-4 4-4-4zM1420 1382l4 4-4 4-4-4zM1447 1387l4 4-4 4-4-4zM1462 1377l4 4-4 4-4-4zM1455 1362l4 4-4 4-4-4zM1430 1325l4 4-4 4-4-4zM1434 1326l4 4-4 4-4-4zM1484 1350l4 4-4 4-4-4zM1410 1345l4 4-4 4-4-4zM1493 1302l4 4-4 4-4-4zM1434 1334l4 4-4 4-4-4zM1456 1339l4 4-4 4-4-4zM1439 1311l4 4-4 4-4-4zM1412 1313l4 4-4 4-4-4zM1465 1327l4 4-4 4-4-4zM1426 1317l4 4-4 4-4-4zM1430 1325l4 4-4 4-4-4zM1475 1357l4 4-4 4-4-4zM1437 1382l4 4-4 4-4-4zM1416 1376l4 4-4 4-4-4zM1448 1310l4 4-4 4-4-4zM1411 1384l4 4-4 4-4-4zM791 1481l4 4-4 4-4-4zM899 1480l4 4-4 4-4-4zM864 1443l4 4-4 4-4-4zM844 1431l4 4-4 4-4-4zM803 1407l4 4-4 4-4-4zM870 1439l4 4-4 4-4-4zM859 1469l4 4-4 4-4-4zM916 1490l4 4-4 4-4-4zM956 1456l4 4-4 4-4-4zM911 1447l4 4-4 4-4-4zM973 1399l4 4-4 4-4-4zM990 1428l4 4-4 4-4-4zM926 1471l4 4-4 4-4-4zM958 1488l4 4-4 4-4-4zM943 1391l4 4-4 4-4-4zM952 1428l4 4-4 4-4-4zM940 1479l4 4-4 4-4-4zM907 1468l4 4-4 4-4-4zM946 1438l4 4-4 4-4-4zM905 1482l4 4-4 4-4-4zM1007 1399l4 4-4 4-4-4zM960 1402l4 4-4 4-4-4zM910 1400l4 4-4 4-4-4zM982 1443l4 4-4 4-4-4zM966 1468l4 4-4 4-4-4zM957 1398l4 4-4 4-4-4zM922 1492l4 4-4 4-4-4zM948 1432l4 4-4 4-4-4zM936 1429l4 4-4 4-4-4zM981 1482l4 4-4 4-4-4zM929 1494l4 4-4 4-4-4zM973 1463l4 4-4 4-4-4zM929 1453l4 4-4 4-4-4zM920 1414l4 4-4 4-4-4zM930 1409l4 4-4 4-4-4zM918 1471l4 4-4 4-4-4zM966 1455l4 4-4 4-4-4zM918 1426l4 4-4 4-4-4zM990 1443l4 4-4 4-4-4zM920 1402l4 4-4 4-4-4zM955 1439l4 4-4 4-4-4zM1003 1454l4 4-4 4-4-4zM971 1470l4 4-4 4-4-4zM990 1503l4 4-4 4-4-4zM949 1441l4 4-4 4-4-4zM946 1420l4 4-4 4-4-4zM935 1439l4 4-4 4-4-4zM983 1461l4 4-4 4-4-4zM974 1400l4 4-4 4-4-4zM984 1426l4 4-4 4-4-4zM971 1445l4 4-4 4-4-4zM997 1468l4 4-4 4-4-4zM914 1489l4 4-4 4-4-4zM941 1478l4 4-4 4-4-4zM923 1470l4 4-4 4-4-4zM963 1422l4 4-4 4-4-4zM948 1430l4 4-4 4-4-4zM982 1417l4 4-4 4-4-4zM926 1413l4 4-4 4-4-4zM940 1492l4 4-4 4-4-4zM998 1406l4 4-4 4-4-4zM969 1430l4 4-4 4-4-4zM984 1420l4 4-4 4-4-4zM919 1475l4 4-4 4-4-4zM936 1422l4 4-4 4-4-4zM926 1503l4 4-4 4-4-4zM990 1488l4 4-4 4-4-4zM916 1455l4 4-4 4-4-4zM943 1485l4 4-4 4-4-4zM1027 1457l4 4-4 4-4-4zM1048 1444l4 4-4 4-4-4zM1020 1425l4 4-4 4-4-4zM1100 1408l4 4-4 4-4-4zM1079 1417l4 4-4 4-4-4zM1104 1468l4 4-4 4-4-4zM1101 1414l4 4-4 4-4-4zM1008 1480l4 4-4 4-4-4zM1077 1413l4 4-4 4-4-4zM1020 1464l4 4-4 4-4-4zM1043 1419l4 4-4 4-4-4zM1021 1472l4 4-4 4-4-4zM1076 1485l4 4-4 4-4-4zM1016 1438l4 4-4 4-4-4zM1084 1452l4 4-4 4-4-4zM1098 1473l4 4-4 4-4-4zM1052 1416l4 4-4 4-4-4zM1092 1485l4 4-4 4-4-4zM1021 1452l4 4-4 4-4-4zM1051 1399l4 4-4 4-4-4zM1084 1436l4 4-4 4-4-4zM1009 1413l4 4-4 4-4-4zM1015 1416l4 4-4 4-4-4zM1081 1485l4 4-4 4-4-4zM1007 1468l4 4-4 4-4-4zM1024 1405l4 4-4 4-4-4zM1045 1373l4 4-4 4-4-4zM1043 1464l4 4-4 4-4-4zM1058 1403l4 4-4 4-4-4zM1026 1482l4 4-4 4-4-4zM1037 1450l4 4-4 4-4-4zM1063 1473l4 4-4 4-4-4zM1082 1439l4 4-4 4-4-4zM1109 1421l4 4-4 4-4-4zM1043 1473l4 4-4 4-4-4zM1079 1486l4 4-4 4-4-4zM1073 1494l4 4-4 4-4-4zM1061 1446l4 4-4 4-4-4zM1010 1407l4 4-4 4-4-4zM1009 1384l4 4-4 4-4-4zM1074 1405l4 4-4 4-4-4zM1085 1482l4 4-4 4-4-4zM1086 1439l4 4-4 4-4-4zM1051 1474l4 4-4 4-4-4zM1084 1483l4 4-4 4-4-4zM1049 1465l4 4-4 4-4-4zM1000 1482l4 4-4 4-4-4zM1022 1416l4 4-4 4-4-4zM1089 1413l4 4-4 4-4-4zM1053 1413l4 4-4 4-4-4zM1045 1425l4 4-4 4-4-4zM1076 1417l4 4-4 4-4-4zM1059 1481l4 4-4 4-4-4zM1038 1467l4 4-4 4-4-4zM1079 1390l4 4-4 4-4-4zM1007 1426l4 4-4 4-4-4zM1017 1465l4 4-4 4-4-4zM1028 1490l4 4-4 4-4-4zM999 1432l4 4-4 4-4-4zM1013 1419l4 4-4 4-4-4zM1051 1409l4 4-4 4-4-4zM1022 1471l4 4-4 4-4-4zM1078 1467l4 4-4 4-4-4zM1006 1492l4 4-4 4-4-4zM1054 1403l4 4-4 4-4-4zM1096 1447l4 4-4 4-4-4zM1058 1412l4 4-4 4-4-4zM1034 1452l4 4-4 4-4-4zM1085 1429l4 4-4 4-4-4zM1001 1471l4 4-4 4-4-4zM1067 1476l4 4-4 4-4-4zM1088 1421l4 4-4 4-4-4zM1014 1412l4 4-4 4-4-4zM1042 1494l4 4-4 4-4-4zM1046 1403l4 4-4 4-4-4zM1035 1390l4 4-4 4-4-4zM1025 1434l4 4-4 4-4-4zM1035 1404l4 4-4 4-4-4zM1054 1498l4 4-4 4-4-4zM1003 1404l4 4-4 4-4-4zM1032 1470l4 4-4 4-4-4zM1078 1417l4 4-4 4-4-4zM1038 1391l4 4-4 4-4-4zM1080 1465l4 4-4 4-4-4zM1053 1408l4 4-4 4-4-4zM1102 1424l4 4-4 4-4-4zM1052 1439l4 4-4 4-4-4zM1046 1424l4 4-4 4-4-4zM1042 1487l4 4-4 4-4-4zM1012 1404l4 4-4 4-4-4zM1021 1490l4 4-4 4-4-4zM1062 1411l4 4-4 4-4-4zM1006 1411l4 4-4 4-4-4zM1031 1475l4 4-4 4-4-4zM1040 1479l4 4-4 4-4-4zM1057 1431l4 4-4 4-4-4zM1051 1484l4 4-4 4-4-4zM1088 1480l4 4-4 4-4-4zM1084 1406l4 4-4 4-4-4zM1059 1456l4 4-4 4-4-4zM1073 1446l4 4-4 4-4-4zM1080 1424l4 4-4 4-4-4zM1039 1423l4 4-4 4-4-4zM1068 1409l4 4-4 4-4-4zM1081 1479l4 4-4 4-4-4zM1015 1480l4 4-4 4-4-4zM1023 1420l4 4-4 4-4-4zM1041 1486l4 4-4 4-4-4zM1049 1425l4 4-4 4-4-4zM1050 1457l4 4-4 4-4-4zM995 1435l4 4-4 4-4-4zM1013 1430l4 4-4 4-4-4zM1034 1479l4 4-4 4-4-4zM1008 1471l4 4-4 4-4-4zM1082 1426l4 4-4 4-4-4zM1053 1455l4 4-4 4-4-4zM1086 1473l4 4-4 4-4-4zM1047 1484l4 4-4 4-4-4zM1041 1460l4 4-4 4-4-4zM1071 1486l4 4-4 4-4-4zM1090 1465l4 4-4 4-4-4zM1088 1449l4 4-4 4-4-4zM1043 1478l4 4-4 4-4-4zM1032 1467l4 4-4 4-4-4zM1001 1458l4 4-4 4-4-4zM1077 1430l4 4-4 4-4-4zM1027 1434l4 4-4 4-4-4zM1090 1468l4 4-4 4-4-4zM1074 1460l4 4-4 4-4-4zM1098 1387l4 4-4 4-4-4zM1020 1394l4 4-4 4-4-4zM1095 1423l4 4-4 4-4-4zM1048 1420l4 4-4 4-4-4zM1098 1453l4 4-4 4-4-4zM1028 1426l4 4-4 4-4-4zM1007 1508l4 4-4 4-4-4zM1063 1422l4 4-4 4-4-4zM1093 1466l4 4-4 4-4-4zM1044 1443l4 4-4 4-4-4zM1022 1457l4 4-4 4-4-4zM1011 1466l4 4-4 4-4-4zM1084 1437l4 4-4 4-4-4zM1100 1464l4 4-4 4-4-4zM1067 1448l4 4-4 4-4-4zM1061 1487l4 4-4 4-4-4zM1032 1441l4 4-4 4-4-4zM1095 1458l4 4-4 4-4-4zM1006 1445l4 4-4 4-4-4zM1111 1410l4 4-4 4-4-4zM1020 1412l4 4-4 4-4-4zM1074 1404l4 4-4 4-4-4zM1083 1447l4 4-4 4-4-4zM1078 1438l4 4-4 4-4-4zM1028 1432l4 4-4 4-4-4zM1053 1422l4 4-4 4-4-4zM1009 1395l4 4-4 4-4-4zM1076 1429l4 4-4 4-4-4zM1072 1480l4 4-4 4-4-4zM1095 1418l4 4-4 4-4-4zM1019 1462l4 4-4 4-4-4zM1092 1403l4 4-4 4-4-4zM1008 1479l4 4-4 4-4-4zM1066 1476l4 4-4 4-4-4zM1096 1434l4 4-4 4-4-4zM1025 1475l4 4-4 4-4-4zM1015 1453l4 4-4 4-4-4zM1043 1430l4 4-4 4-4-4zM1074 1446l4 4-4 4-4-4zM1074 1409l4 4-4 4-4-4zM1010 1405l4 4-4 4-4-4zM1095 1392l4 4-4 4-4-4zM1014 1409l4 4-4 4-4-4zM1056 1454l4 4-4 4-4-4zM1048 1444l4 4-4 4-4-4zM1064 1435l4 4-4 4-4-4zM1074 1457l4 4-4 4-4-4zM1099 1485l4 4-4 4-4-4zM1090 1403l4 4-4 4-4-4zM1031 1485l4 4-4 4-4-4zM1102 1407l4 4-4 4-4-4zM1022 1424l4 4-4 4-4-4zM1089 1451l4 4-4 4-4-4zM1065 1401l4 4-4 4-4-4zM997 1424l4 4-4 4-4-4zM1036 1499l4 4-4 4-4-4zM1080 1490l4 4-4 4-4-4zM1067 1394l4 4-4 4-4-4zM1028 1465l4 4-4 4-4-4zM992 1433l4 4-4 4-4-4zM1052 1466l4 4-4 4-4-4zM1075 1424l4 4-4 4-4-4zM1047 1488l4 4-4 4-4-4zM1107 1428l4 4-4 4-4-4zM1036 1453l4 4-4 4-4-4zM1019 1473l4 4-4 4-4-4zM1095 1431l4 4-4 4-4-4zM1096 1467l4 4-4 4-4-4zM1041 1430l4 4-4 4-4-4zM1078 1398l4 4-4 4-4-4zM1052 1482l4 4-4 4-4-4zM1086 1406l4 4-4 4-4-4zM1012 1476l4 4-4 4-4-4zM1061 1465l4 4-4 4-4-4zM1084 1470l4 4-4 4-4-4zM1110 1457l4 4-4 4-4-4zM1045 1424l4 4-4 4-4-4zM1081 1497l4 4-4 4-4-4zM1055 1480l4 4-4 4-4-4zM1089 1509l4 4-4 4-4-4zM1040 1457l4 4-4 4-4-4zM1085 1429l4 4-4 4-4-4zM1045 1427l4 4-4 4-4-4zM1039 1450l4 4-4 4-4-4zM1054 1473l4 4-4 4-4-4zM1031 1398l4 4-4 4-4-4zM1070 1428l4 4-4 4-4-4zM1077 1418l4 4-4 4-4-4zM1033 1399l4 4-4 4-4-4zM1043 1424l4 4-4 4-4-4zM1113 1407l4 4-4 4-4-4zM1076 1402l4 4-4 4-4-4zM1106 1484l4 4-4 4-4-4zM1025 1414l4 4-4 4-4-4zM1050 1450l4 4-4 4-4-4zM1010 1499l4 4-4 4-4-4zM1004 1438l4 4-4 4-4-4zM1037 1467l4 4-4 4-4-4zM1032 1417l4 4-4 4-4-4zM1055 1446l4 4-4 4-4-4zM1081 1419l4 4-4 4-4-4zM1055 1402l4 4-4 4-4-4zM1011 1393l4 4-4 4-4-4zM1094 1426l4 4-4 4-4-4zM1100 1434l4 4-4 4-4-4zM1027 1393l4 4-4 4-4-4zM1074 1499l4 4-4 4-4-4zM998 1447l4 4-4 4-4-4zM1104 1402l4 4-4 4-4-4zM1007 1420l4 4-4 4-4-4zM1030 1467l4 4-4 4-4-4zM1048 1476l4 4-4 4-4-4zM1083 1397l4 4-4 4-4-4zM1053 1484l4 4-4 4-4-4zM1159 1488l4 4-4 4-4-4zM1190 1424l4 4-4 4-4-4zM1166 1471l4 4-4 4-4-4zM1150 1485l4 4-4 4-4-4zM1172 1499l4 4-4 4-4-4zM1115 1427l4 4-4 4-4-4zM1131 1441l4 4-4 4-4-4zM1122 1503l4 4-4 4-4-4zM1166 1493l4 4-4 4-4-4zM1132 1408l4 4-4 4-4-4zM1124 1499l4 4-4 4-4-4zM1215 1453l4 4-4 4-4-4zM1132 1498l4 4-4 4-4-4zM1201 1386l4 4-4 4-4-4zM1190 1443l4 4-4 4-4-4zM1162 1468l4 4-4 4-4-4zM1132 1470l4 4-4 4-4-4zM1162 1503l4 4-4 4-4-4zM1195 1471l4 4-4 4-4-4zM1122 1421l4 4-4 4-4-4zM1197 1444l4 4-4 4-4-4zM1181 1453l4 4-4 4-4-4zM1180 1467l4 4-4 4-4-4zM1137 1474l4 4-4 4-4-4zM1148 1404l4 4-4 4-4-4zM1114 1470l4 4-4 4-4-4zM1148 1440l4 4-4 4-4-4zM1200 1470l4 4-4 4-4-4zM1159 1423l4 4-4 4-4-4zM1182 1420l4 4-4 4-4-4zM1160 1464l4 4-4 4-4-4zM1140 1425l4 4-4 4-4-4zM1136 1431l4 4-4 4-4-4zM1159 1476l4 4-4 4-4-4zM1189 1425l4 4-4 4-4-4zM1112 1423l4 4-4 4-4-4zM1162 1419l4 4-4 4-4-4zM1140 1484l4 4-4 4-4-4zM1159 1466l4 4-4 4-4-4zM1133 1441l4 4-4 4-4-4zM1137 1441l4 4-4 4-4-4zM1199 1421l4 4-4 4-4-4zM1154 1456l4 4-4 4-4-4zM1137 1489l4 4-4 4-4-4zM1136 1480l4 4-4 4-4-4zM1132 1407l4 4-4 4-4-4zM1143 1403l4 4-4 4-4-4zM1167 1417l4 4-4 4-4-4zM1130 1440l4 4-4 4-4-4zM1113 1397l4 4-4 4-4-4zM1179 1403l4 4-4 4-4-4zM1160 1419l4 4-4 4-4-4zM1155 1463l4 4-4 4-4-4zM1104 1423l4 4-4 4-4-4zM1153 1422l4 4-4 4-4-4zM1090 1492l4 4-4 4-4-4zM1197 1420l4 4-4 4-4-4zM1154 1398l4 4-4 4-4-4zM1122 1417l4 4-4 4-4-4zM1110 1416l4 4-4 4-4-4zM1163 1453l4 4-4 4-4-4zM1163 1488l4 4-4 4-4-4zM1121 1433l4 4-4 4-4-4zM1133 1485l4 4-4 4-4-4zM1165 1422l4 4-4 4-4-4zM1148 1445l4 4-4 4-4-4zM1138 1434l4 4-4 4-4-4zM1179 1458l4 4-4 4-4-4zM1178 1444l4 4-4 4-4-4zM1135 1449l4 4-4 4-4-4zM1185 1436l4 4-4 4-4-4zM1133 1443l4 4-4 4-4-4zM1137 1465l4 4-4 4-4-4zM1158 1424l4 4-4 4-4-4zM1132 1436l4 4-4 4-4-4zM1176 1447l4 4-4 4-4-4zM1149 1469l4 4-4 4-4-4zM1178 1488l4 4-4 4-4-4zM1114 1410l4 4-4 4-4-4zM1150 1408l4 4-4 4-4-4zM1195 1469l4 4-4 4-4-4zM1141 1426l4 4-4 4-4-4zM1211 1427l4 4-4 4-4-4zM1192 1424l4 4-4 4-4-4zM1177 1434l4 4-4 4-4-4zM1140 1493l4 4-4 4-4-4zM1108 1402l4 4-4 4-4-4zM1120 1473l4 4-4 4-4-4zM1155 1431l4 4-4 4-4-4zM1113 1452l4 4-4 4-4-4zM1177 1415l4 4-4 4-4-4zM1160 1424l4 4-4 4-4-4zM1154 1487l4 4-4 4-4-4zM1129 1420l4 4-4 4-4-4zM1167 1441l4 4-4 4-4-4zM1192 1476l4 4-4 4-4-4zM1103 1458l4 4-4 4-4-4zM1149 1422l4 4-4 4-4-4zM1119 1460l4 4-4 4-4-4zM1107 1464l4 4-4 4-4-4zM1191 1417l4 4-4 4-4-4zM1176 1475l4 4-4 4-4-4zM1180 1439l4 4-4 4-4-4zM1136 1446l4 4-4 4-4-4zM1096 1483l4 4-4 4-4-4zM1157 1427l4 4-4 4-4-4zM1188 1415l4 4-4 4-4-4zM1148 1427l4 4-4 4-4-4zM1102 1411l4 4-4 4-4-4zM1167 1398l4 4-4 4-4-4zM1118 1413l4 4-4 4-4-4zM1165 1478l4 4-4 4-4-4zM1178 1412l4 4-4 4-4-4zM1113 1442l4 4-4 4-4-4zM1198 1463l4 4-4 4-4-4zM1124 1404l4 4-4 4-4-4zM1164 1460l4 4-4 4-4-4zM1117 1495l4 4-4 4-4-4zM1187 1419l4 4-4 4-4-4zM1164 1439l4 4-4 4-4-4zM1160 1400l4 4-4 4-4-4zM1128 1421l4 4-4 4-4-4zM1140 1447l4 4-4 4-4-4zM1108 1410l4 4-4 4-4-4zM1101 1415l4 4-4 4-4-4zM1103 1403l4 4-4 4-4-4zM1169 1383l4 4-4 4-4-4zM1188 1488l4 4-4 4-4-4zM1148 1473l4 4-4 4-4-4zM1147 1457l4 4-4 4-4-4zM1142 1429l4 4-4 4-4-4zM1138 1406l4 4-4 4-4-4zM1117 1432l4 4-4 4-4-4zM1130 1414l4 4-4 4-4-4zM1190 1445l4 4-4 4-4-4zM1113 1479l4 4-4 4-4-4zM1110 1441l4 4-4 4-4-4zM1198 1451l4 4-4 4-4-4zM1166 1463l4 4-4 4-4-4zM1101 1467l4 4-4 4-4-4zM1098 1439l4 4-4 4-4-4zM1163 1431l4 4-4 4-4-4zM1178 1479l4 4-4 4-4-4zM1132 1486l4 4-4 4-4-4zM1130 1444l4 4-4 4-4-4zM1163 1443l4 4-4 4-4-4zM1177 1476l4 4-4 4-4-4zM1141 1446l4 4-4 4-4-4zM1119 1407l4 4-4 4-4-4zM1114 1488l4 4-4 4-4-4zM1116 1454l4 4-4 4-4-4zM1105 1485l4 4-4 4-4-4zM1172 1420l4 4-4 4-4-4zM1188 1435l4 4-4 4-4-4zM1193 1475l4 4-4 4-4-4zM1176 1484l4 4-4 4-4-4zM1146 1412l4 4-4 4-4-4zM1202 1454l4 4-4 4-4-4zM1161 1409l4 4-4 4-4-4zM1114 1457l4 4-4 4-4-4zM1209 1479l4 4-4 4-4-4zM1143 1461l4 4-4 4-4-4zM1135 1496l4 4-4 4-4-4zM1126 1490l4 4-4 4-4-4zM1153 1422l4 4-4 4-4-4zM1148 1474l4 4-4 4-4-4zM1191 1404l4 4-4 4-4-4zM1210 1424l4 4-4 4-4-4zM1148 1484l4 4-4 4-4-4zM1113 1400l4 4-4 4-4-4zM1154 1452l4 4-4 4-4-4zM1200 1464l4 4-4 4-4-4zM1117 1409l4 4-4 4-4-4zM1128 1462l4 4-4 4-4-4zM1145 1404l4 4-4 4-4-4zM1117 1470l4 4-4 4-4-4zM1150 1411l4 4-4 4-4-4zM1111 1489l4 4-4 4-4-4zM1155 1408l4 4-4 4-4-4zM1194 1488l4 4-4 4-4-4zM1182 1454l4 4-4 4-4-4zM1183 1467l4 4-4 4-4-4zM1168 1503l4 4-4 4-4-4zM1172 1459l4 4-4 4-4-4zM1183 1472l4 4-4 4-4-4zM1187 1421l4 4-4 4-4-4zM1091 1493l4 4-4 4-4-4zM1120 1470l4 4-4 4-4-4zM1142 1419l4 4-4 4-4-4zM1168 1432l4 4-4 4-4-4zM1123 1452l4 4-4 4-4-4zM1187 1500l4 4-4 4-4-4zM1163 1411l4 4-4 4-4-4zM1165 1469l4 4-4 4-4-4zM1143 1484l4 4-4 4-4-4zM1199 1410l4 4-4 4-4-4zM1157 1485l4 4-4 4-4-4zM1154 1475l4 4-4 4-4-4zM1187 1428l4 4-4 4-4-4zM1124 1389l4 4-4 4-4-4zM1102 1469l4 4-4 4-4-4zM1166 1439l4 4-4 4-4-4zM1197 1466l4 4-4 4-4-4zM1190 1425l4 4-4 4-4-4zM1131 1393l4 4-4 4-4-4zM1163 1399l4 4-4 4-4-4zM1202 1443l4 4-4 4-4-4zM1121 1457l4 4-4 4-4-4zM1109 1401l4 4-4 4-4-4zM1157 1401l4 4-4 4-4-4zM1108 1418l4 4-4 4-4-4zM1101 1487l4 4-4 4-4-4zM1195 1427l4 4-4 4-4-4zM1105 1424l4 4-4 4-4-4zM1134 1487l4 4-4 4-4-4zM1201 1449l4 4-4 4-4-4zM1131 1415l4 4-4 4-4-4zM1098 1447l4 4-4 4-4-4zM1176 1415l4 4-4 4-4-4zM1180 1501l4 4-4 4-4-4zM1108 1476l4 4-4 4-4-4zM1148 1447l4 4-4 4-4-4zM1160 1500l4 4-4 4-4-4zM1123 1444l4 4-4 4-4-4zM1101 1444l4 4-4 4-4-4zM1125 1429l4 4-4 4-4-4zM1133 1468l4 4-4 4-4-4zM1164 1399l4 4-4 4-4-4zM1109 1469l4 4-4 4-4-4zM1146 1457l4 4-4 4-4-4zM1188 1423l4 4-4 4-4-4zM1183 1408l4 4-4 4-4-4zM1142 1456l4 4-4 4-4-4zM1129 1432l4 4-4 4-4-4zM1099 1445l4 4-4 4-4-4zM1123 1412l4 4-4 4-4-4zM1167 1415l4 4-4 4-4-4zM1189 1488l4 4-4 4-4-4zM1138 1452l4 4-4 4-4-4zM1151 1378l4 4-4 4-4-4zM1120 1416l4 4-4 4-4-4zM1155 1440l4 4-4 4-4-4zM1163 1492l4 4-4 4-4-4zM1138 1440l4 4-4 4-4-4zM1111 1485l4 4-4 4-4-4zM1138 1485l4 4-4 4-4-4zM1144 1459l4 4-4 4-4-4zM1197 1479l4 4-4 4-4-4zM1138 1434l4 4-4 4-4-4zM1144 1500l4 4-4 4-4-4zM1131 1408l4 4-4 4-4-4zM1191 1478l4 4-4 4-4-4zM1157 1450l4 4-4 4-4-4zM1134 1419l4 4-4 4-4-4zM1178 1448l4 4-4 4-4-4zM1160 1456l4 4-4 4-4-4zM1165 1479l4 4-4 4-4-4zM1104 1480l4 4-4 4-4-4zM1199 1461l4 4-4 4-4-4zM1155 1413l4 4-4 4-4-4zM1120 1419l4 4-4 4-4-4zM1161 1422l4 4-4 4-4-4zM1129 1487l4 4-4 4-4-4zM1175 1483l4 4-4 4-4-4zM1112 1413l4 4-4 4-4-4zM1181 1390l4 4-4 4-4-4zM1137 1481l4 4-4 4-4-4zM1201 1456l4 4-4 4-4-4zM1190 1422l4 4-4 4-4-4zM1167 1445l4 4-4 4-4-4zM1135 1492l4 4-4 4-4-4zM1149 1497l4 4-4 4-4-4zM1156 1403l4 4-4 4-4-4zM1172 1481l4 4-4 4-4-4zM1107 1439l4 4-4 4-4-4zM1200 1460l4 4-4 4-4-4zM1143 1465l4 4-4 4-4-4zM1156 1474l4 4-4 4-4-4zM1159 1416l4 4-4 4-4-4zM1132 1449l4 4-4 4-4-4zM1179 1446l4 4-4 4-4-4zM1145 1461l4 4-4 4-4-4zM1196 1409l4 4-4 4-4-4zM1177 1420l4 4-4 4-4-4zM1153 1499l4 4-4 4-4-4zM1161 1472l4 4-4 4-4-4zM1182 1455l4 4-4 4-4-4zM1181 1427l4 4-4 4-4-4zM1106 1407l4 4-4 4-4-4zM1159 1424l4 4-4 4-4-4zM1181 1436l4 4-4 4-4-4zM1124 1430l4 4-4 4-4-4zM1166 1491l4 4-4 4-4-4zM1090 1433l4 4-4 4-4-4zM1149 1466l4 4-4 4-4-4zM1148 1396l4 4-4 4-4-4zM1122 1406l4 4-4 4-4-4zM1134 1414l4 4-4 4-4-4zM1113 1475l4 4-4 4-4-4zM1119 1410l4 4-4 4-4-4zM1204 1456l4 4-4 4-4-4zM1181 1420l4 4-4 4-4-4zM1156 1456l4 4-4 4-4-4zM1135 1434l4 4-4 4-4-4zM1149 1410l4 4-4 4-4-4zM1147 1502l4 4-4 4-4-4zM1177 1417l4 4-4 4-4-4zM1124 1503l4 4-4 4-4-4zM1164 1477l4 4-4 4-4-4zM1183 1428l4 4-4 4-4-4zM1198 1480l4 4-4 4-4-4zM1118 1478l4 4-4 4-4-4zM1151 1401l4 4-4 4-4-4zM1095 1432l4 4-4 4-4-4zM1104 1486l4 4-4 4-4-4zM1134 1410l4 4-4 4-4-4zM1138 1494l4 4-4 4-4-4zM1133 1484l4 4-4 4-4-4zM1117 1488l4 4-4 4-4-4zM1175 1441l4 4-4 4-4-4zM1118 1489l4 4-4 4-4-4zM1138 1448l4 4-4 4-4-4zM1173 1476l4 4-4 4-4-4zM1100 1471l4 4-4 4-4-4zM1182 1418l4 4-4 4-4-4zM1247 1407l4 4-4 4-4-4zM1219 1448l4 4-4 4-4-4zM1244 1438l4 4-4 4-4-4zM1296 1438l4 4-4 4-4-4zM1284 1425l4 4-4 4-4-4zM1232 1403l4 4-4 4-4-4zM1249 1414l4 4-4 4-4-4zM1203 1485l4 4-4 4-4-4zM1209 1420l4 4-4 4-4-4zM1253 1434l4 4-4 4-4-4zM1223 1389l4 4-4 4-4-4zM1273 1390l4 4-4 4-4-4zM1228 1492l4 4-4 4-4-4zM1300 1426l4 4-4 4-4-4zM1291 1484l4 4-4 4-4-4zM1241 1451l4 4-4 4-4-4zM1234 1412l4 4-4 4-4-4zM1242 1499l4 4-4 4-4-4zM1217 1469l4 4-4 4-4-4zM1265 1398l4 4-4 4-4-4zM1231 1439l4 4-4 4-4-4zM1253 1427l4 4-4 4-4-4zM1265 1480l4 4-4 4-4-4zM1216 1493l4 4-4 4-4-4zM1200 1500l4 4-4 4-4-4zM1280 1420l4 4-4 4-4-4zM1284 1427l4 4-4 4-4-4zM1228 1499l4 4-4 4-4-4zM1248 1498l4 4-4 4-4-4zM1244 1454l4 4-4 4-4-4zM1279 1422l4 4-4 4-4-4zM1238 1425l4 4-4 4-4-4zM1224 1419l4 4-4 4-4-4zM1285 1443l4 4-4 4-4-4zM1238 1422l4 4-4 4-4-4zM1224 1460l4 4-4 4-4-4zM1261 1488l4 4-4 4-4-4zM1204 1476l4 4-4 4-4-4zM1269 1471l4 4-4 4-4-4zM1203 1430l4 4-4 4-4-4zM1293 1442l4 4-4 4-4-4zM1194 1436l4 4-4 4-4-4zM1294 1416l4 4-4 4-4-4zM1228 1468l4 4-4 4-4-4zM1231 1421l4 4-4 4-4-4zM1246 1406l4 4-4 4-4-4zM1260 1478l4 4-4 4-4-4zM1268 1477l4 4-4 4-4-4zM1272 1494l4 4-4 4-4-4zM1232 1405l4 4-4 4-4-4zM1284 1470l4 4-4 4-4-4zM1207 1488l4 4-4 4-4-4zM1234 1491l4 4-4 4-4-4zM1268 1393l4 4-4 4-4-4zM1265 1492l4 4-4 4-4-4zM1298 1411l4 4-4 4-4-4zM1204 1439l4 4-4 4-4-4zM1197 1479l4 4-4 4-4-4zM1233 1417l4 4-4 4-4-4zM1270 1408l4 4-4 4-4-4zM1274 1436l4 4-4 4-4-4zM1220 1434l4 4-4 4-4-4zM1272 1510l4 4-4 4-4-4zM1282 1418l4 4-4 4-4-4zM1282 1455l4 4-4 4-4-4zM1307 1449l4 4-4 4-4-4zM1263 1434l4 4-4 4-4-4zM1286 1427l4 4-4 4-4-4zM1269 1446l4 4-4 4-4-4zM1257 1476l4 4-4 4-4-4zM1291 1429l4 4-4 4-4-4zM1286 1443l4 4-4 4-4-4zM1254 1508l4 4-4 4-4-4zM1246 1450l4 4-4 4-4-4zM1232 1403l4 4-4 4-4-4zM1244 1396l4 4-4 4-4-4zM1228 1472l4 4-4 4-4-4zM1210 1449l4 4-4 4-4-4zM1222 1463l4 4-4 4-4-4zM1242 1430l4 4-4 4-4-4zM1261 1417l4 4-4 4-4-4zM1241 1404l4 4-4 4-4-4zM1299 1433l4 4-4 4-4-4zM1234 1404l4 4-4 4-4-4zM1244 1431l4 4-4 4-4-4zM1230 1403l4 4-4 4-4-4zM1234 1447l4 4-4 4-4-4zM1264 1470l4 4-4 4-4-4zM1255 1420l4 4-4 4-4-4zM1269 1402l4 4-4 4-4-4zM1270 1415l4 4-4 4-4-4zM1292 1437l4 4-4 4-4-4zM1212 1477l4 4-4 4-4-4zM1282 1443l4 4-4 4-4-4zM1241 1497l4 4-4 4-4-4zM1231 1444l4 4-4 4-4-4zM1309 1477l4 4-4 4-4-4zM1270 1405l4 4-4 4-4-4zM1208 1483l4 4-4 4-4-4zM1284 1456l4 4-4 4-4-4zM1285 1490l4 4-4 4-4-4zM1230 1443l4 4-4 4-4-4zM1199 1463l4 4-4 4-4-4zM1240 1476l4 4-4 4-4-4zM1280 1416l4 4-4 4-4-4zM1204 1453l4 4-4 4-4-4zM1227 1430l4 4-4 4-4-4zM1264 1440l4 4-4 4-4-4zM1205 1470l4 4-4 4-4-4zM1274 1431l4 4-4 4-4-4zM1288 1417l4 4-4 4-4-4zM1240 1429l4 4-4 4-4-4zM1252 1507l4 4-4 4-4-4zM1204 1463l4 4-4 4-4-4zM1254 1482l4 4-4 4-4-4zM1223 1398l4 4-4 4-4-4zM1225 1499l4 4-4 4-4-4zM1295 1418l4 4-4 4-4-4zM1303 1418l4 4-4 4-4-4zM1280 1412l4 4-4 4-4-4zM1304 1448l4 4-4 4-4-4zM1276 1420l4 4-4 4-4-4zM1209 1434l4 4-4 4-4-4zM1308 1420l4 4-4 4-4-4zM1251 1481l4 4-4 4-4-4zM1193 1396l4 4-4 4-4-4zM1214 1419l4 4-4 4-4-4zM1291 1469l4 4-4 4-4-4zM1228 1473l4 4-4 4-4-4zM1250 1404l4 4-4 4-4-4zM1233 1420l4 4-4 4-4-4zM1215 1390l4 4-4 4-4-4zM1220 1468l4 4-4 4-4-4zM1242 1487l4 4-4 4-4-4zM1286 1415l4 4-4 4-4-4zM1206 1483l4 4-4 4-4-4zM1271 1463l4 4-4 4-4-4zM1261 1407l4 4-4 4-4-4zM1292 1473l4 4-4 4-4-4zM1249 1457l4 4-4 4-4-4zM1236 1419l4 4-4 4-4-4zM1217 1499l4 4-4 4-4-4zM1297 1465l4 4-4 4-4-4zM1204 1414l4 4-4 4-4-4zM1245 1483l4 4-4 4-4-4zM1290 1463l4 4-4 4-4-4zM1258 1468l4 4-4 4-4-4zM1225 1457l4 4-4 4-4-4zM1284 1449l4 4-4 4-4-4zM1207 1415l4 4-4 4-4-4zM1215 1447l4 4-4 4-4-4zM1282 1429l4 4-4 4-4-4zM1279 1486l4 4-4 4-4-4zM1244 1452l4 4-4 4-4-4zM1238 1494l4 4-4 4-4-4zM1280 1403l4 4-4 4-4-4zM1205 1460l4 4-4 4-4-4zM1208 1444l4 4-4 4-4-4zM1242 1466l4 4-4 4-4-4zM1246 1472l4 4-4 4-4-4zM1210 1418l4 4-4 4-4-4zM1255 1495l4 4-4 4-4-4zM1249 1395l4 4-4 4-4-4zM1213 1470l4 4-4 4-4-4zM1306 1455l4 4-4 4-4-4zM1301 1418l4 4-4 4-4-4zM1222 1420l4 4-4 4-4-4zM1244 1462l4 4-4 4-4-4zM1247 1439l4 4-4 4-4-4zM1246 1436l4 4-4 4-4-4zM1267 1419l4 4-4 4-4-4zM1214 1451l4 4-4 4-4-4zM1230 1407l4 4-4 4-4-4zM1245 1417l4 4-4 4-4-4zM1250 1477l4 4-4 4-4-4zM1227 1441l4 4-4 4-4-4zM1283 1457l4 4-4 4-4-4zM1271 1425l4 4-4 4-4-4zM1272 1388l4 4-4 4-4-4zM1223 1450l4 4-4 4-4-4zM1270 1469l4 4-4 4-4-4zM1225 1464l4 4-4 4-4-4zM1267 1437l4 4-4 4-4-4zM1292 1408l4 4-4 4-4-4zM1214 1404l4 4-4 4-4-4zM1242 1413l4 4-4 4-4-4zM1235 1409l4 4-4 4-4-4zM1208 1399l4 4-4 4-4-4zM1269 1485l4 4-4 4-4-4zM1244 1430l4 4-4 4-4-4zM1217 1459l4 4-4 4-4-4zM1252 1440l4 4-4 4-4-4zM1235 1467l4 4-4 4-4-4zM1199 1416l4 4-4 4-4-4zM1262 1468l4 4-4 4-4-4zM1259 1441l4 4-4 4-4-4zM1227 1495l4 4-4 4-4-4zM1242 1407l4 4-4 4-4-4zM1221 1470l4 4-4 4-4-4zM1278 1424l4 4-4 4-4-4zM1238 1431l4 4-4 4-4-4zM1241 1460l4 4-4 4-4-4zM1297 1403l4 4-4 4-4-4zM1274 1440l4 4-4 4-4-4zM1214 1453l4 4-4 4-4-4zM1260 1396l4 4-4 4-4-4zM1279 1431l4 4-4 4-4-4zM1227 1430l4 4-4 4-4-4zM1244 1458l4 4-4 4-4-4zM1244 1472l4 4-4 4-4-4zM1247 1420l4 4-4 4-4-4zM1269 1494l4 4-4 4-4-4zM1235 1401l4 4-4 4-4-4zM1238 1393l4 4-4 4-4-4zM1278 1395l4 4-4 4-4-4zM1215 1408l4 4-4 4-4-4zM1270 1469l4 4-4 4-4-4zM1276 1405l4 4-4 4-4-4zM1238 1416l4 4-4 4-4-4zM1216 1439l4 4-4 4-4-4zM1298 1399l4 4-4 4-4-4zM1224 1449l4 4-4 4-4-4zM1301 1493l4 4-4 4-4-4zM1227 1466l4 4-4 4-4-4zM1366 1491l4 4-4 4-4-4zM1297 1458l4 4-4 4-4-4zM1392 1482l4 4-4 4-4-4zM1366 1421l4 4-4 4-4-4zM1315 1449l4 4-4 4-4-4zM1337 1432l4 4-4 4-4-4zM1311 1468l4 4-4 4-4-4zM1385 1492l4 4-4 4-4-4zM1299 1487l4 4-4 4-4-4zM1365 1398l4 4-4 4-4-4zM1389 1419l4 4-4 4-4-4zM1330 1399l4 4-4 4-4-4zM1361 1466l4 4-4 4-4-4zM1333 1498l4 4-4 4-4-4zM1388 1430l4 4-4 4-4-4zM1317 1405l4 4-4 4-4-4zM1323 1422l4 4-4 4-4-4zM1379 1463l4 4-4 4-4-4zM1389 1489l4 4-4 4-4-4zM1332 1442l4 4-4 4-4-4zM1357 1462l4 4-4 4-4-4zM1355 1445l4 4-4 4-4-4zM1316 1461l4 4-4 4-4-4zM1391 1487l4 4-4 4-4-4zM1340 1498l4 4-4 4-4-4zM1354 1432l4 4-4 4-4-4zM1353 1470l4 4-4 4-4-4zM1325 1455l4 4-4 4-4-4zM1377 1416l4 4-4 4-4-4zM1352 1441l4 4-4 4-4-4zM1405 1440l4 4-4 4-4-4zM1375 1478l4 4-4 4-4-4zM1323 1424l4 4-4 4-4-4zM1363 1395l4 4-4 4-4-4zM1325 1400l4 4-4 4-4-4zM1310 1480l4 4-4 4-4-4zM1305 1480l4 4-4 4-4-4zM1382 1423l4 4-4 4-4-4zM1335 1488l4 4-4 4-4-4zM1299 1408l4 4-4 4-4-4zM1332 1447l4 4-4 4-4-4zM1289 1476l4 4-4 4-4-4zM1377 1429l4 4-4 4-4-4zM1377 1445l4 4-4 4-4-4zM1325 1471l4 4-4 4-4-4zM1398 1435l4 4-4 4-4-4zM1393 1457l4 4-4 4-4-4zM1305 1418l4 4-4 4-4-4zM1343 1408l4 4-4 4-4-4zM1317 1506l4 4-4 4-4-4zM1377 1487l4 4-4 4-4-4zM1378 1444l4 4-4 4-4-4zM1389 1478l4 4-4 4-4-4zM1311 1413l4 4-4 4-4-4zM1330 1487l4 4-4 4-4-4zM1392 1439l4 4-4 4-4-4zM1391 1478l4 4-4 4-4-4zM1390 1437l4 4-4 4-4-4zM1302 1463l4 4-4 4-4-4zM1330 1452l4 4-4 4-4-4zM1339 1411l4 4-4 4-4-4zM1391 1493l4 4-4 4-4-4zM1383 1467l4 4-4 4-4-4zM1383 1402l4 4-4 4-4-4zM1366 1405l4 4-4 4-4-4zM1339 1413l4 4-4 4-4-4zM1383 1400l4 4-4 4-4-4zM1337 1407l4 4-4 4-4-4zM1382 1500l4 4-4 4-4-4zM1327 1425l4 4-4 4-4-4zM1393 1413l4 4-4 4-4-4zM1360 1444l4 4-4 4-4-4zM1330 1418l4 4-4 4-4-4zM1336 1410l4 4-4 4-4-4zM1379 1492l4 4-4 4-4-4zM1384 1436l4 4-4 4-4-4zM1374 1485l4 4-4 4-4-4zM1400 1444l4 4-4 4-4-4zM1328 1488l4 4-4 4-4-4zM1390 1422l4 4-4 4-4-4zM1334 1448l4 4-4 4-4-4zM1329 1417l4 4-4 4-4-4zM1348 1461l4 4-4 4-4-4zM1354 1479l4 4-4 4-4-4zM1328 1430l4 4-4 4-4-4zM1359 1413l4 4-4 4-4-4zM1361 1400l4 4-4 4-4-4zM1340 1480l4 4-4 4-4-4zM1378 1477l4 4-4 4-4-4zM1376 1459l4 4-4 4-4-4zM1368 1433l4 4-4 4-4-4zM1302 1427l4 4-4 4-4-4zM1384 1472l4 4-4 4-4-4zM1368 1450l4 4-4 4-4-4zM1363 1417l4 4-4 4-4-4zM1390 1401l4 4-4 4-4-4zM1360 1458l4 4-4 4-4-4zM1324 1434l4 4-4 4-4-4zM1310 1522l4 4-4 4-4-4zM1339 1413l4 4-4 4-4-4zM1392 1415l4 4-4 4-4-4zM1362 1479l4 4-4 4-4-4zM1354 1453l4 4-4 4-4-4zM1361 1402l4 4-4 4-4-4zM1400 1497l4 4-4 4-4-4zM1335 1427l4 4-4 4-4-4zM1331 1452l4 4-4 4-4-4zM1312 1419l4 4-4 4-4-4zM1349 1474l4 4-4 4-4-4zM1405 1412l4 4-4 4-4-4zM1387 1467l4 4-4 4-4-4zM1323 1436l4 4-4 4-4-4zM1370 1439l4 4-4 4-4-4zM1346 1429l4 4-4 4-4-4zM1391 1400l4 4-4 4-4-4zM1351 1404l4 4-4 4-4-4zM1393 1467l4 4-4 4-4-4zM1362 1486l4 4-4 4-4-4zM1368 1471l4 4-4 4-4-4zM1329 1450l4 4-4 4-4-4zM1402 1438l4 4-4 4-4-4zM1395 1451l4 4-4 4-4-4zM1402 1490l4 4-4 4-4-4zM1434 1501l4 4-4 4-4-4zM1445 1407l4 4-4 4-4-4zM1439 1401l4 4-4 4-4-4zM1397 1443l4 4-4 4-4-4zM1453 1447l4 4-4 4-4-4zM1412 1406l4 4-4 4-4-4zM1451 1496l4 4-4 4-4-4zM1483 1448l4 4-4 4-4-4zM1492 1458l4 4-4 4-4-4zM1462 1397l4 4-4 4-4-4zM1403 1414l4 4-4 4-4-4zM1477 1452l4 4-4 4-4-4zM1468 1398l4 4-4 4-4-4zM1509 1481l4 4-4 4-4-4zM1483 1460l4 4-4 4-4-4zM1452 1458l4 4-4 4-4-4zM1401 1497l4 4-4 4-4-4zM1453 1486l4 4-4 4-4-4zM1484 1395l4 4-4 4-4-4zM1418 1422l4 4-4 4-4-4zM1421 1427l4 4-4 4-4-4zM1438 1477l4 4-4 4-4-4zM1467 1406l4 4-4 4-4-4zM1473 1506l4 4-4 4-4-4zM1465 1420l4 4-4 4-4-4zM1498 1416l4 4-4 4-4-4zM1490 1477l4 4-4 4-4-4zM1408 1392l4 4-4 4-4-4zM1425 1474l4 4-4 4-4-4zM1501 1394l4 4-4 4-4-4zM1465 1456l4 4-4 4-4-4zM1498 1478l4 4-4 4-4-4zM1437 1485l4 4-4 4-4-4zM1493 1462l4 4-4 4-4-4zM1400 1449l4 4-4 4-4-4zM1446 1490l4 4-4 4-4-4zM1441 1421l4 4-4 4-4-4zM1454 1434l4 4-4 4-4-4zM1428 1446l4 4-4 4-4-4zM1435 1422l4 4-4 4-4-4zM1440 1456l4 4-4 4-4-4zM1393 1422l4 4-4 4-4-4zM1413 1465l4 4-4 4-4-4zM1494 1397l4 4-4 4-4-4zM1412 1412l4 4-4 4-4-4zM1398 1482l4 4-4 4-4-4zM1402 1438l4 4-4 4-4-4zM1433 1442l4 4-4 4-4-4zM1481 1464l4 4-4 4-4-4zM1405 1458l4 4-4 4-4-4zM1485 1449l4 4-4 4-4-4zM1490 1453l4 4-4 4-4-4zM1491 1489l4 4-4 4-4-4zM1396 1430l4 4-4 4-4-4zM1460 1404l4 4-4 4-4-4zM1459 1413l4 4-4 4-4-4zM1448 1466l4 4-4 4-4-4zM1470 1416l4 4-4 4-4-4zM1432 1426l4 4-4 4-4-4zM1457 1452l4 4-4 4-4-4zM1415 1393l4 4-4 4-4-4zM1458 1466l4 4-4 4-4-4zM1469 1435l4 4-4 4-4-4zM1475 1403l4 4-4 4-4-4zM1487 1492l4 4-4 4-4-4zM1474 1433l4 4-4 4-4-4zM1400 1429l4 4-4 4-4-4zM1420 1476l4 4-4 4-4-4zM1403 1410l4 4-4 4-4-4zM1482 1421l4 4-4 4-4-4zM1461 1418l4 4-4 4-4-4zM1438 1464l4 4-4 4-4-4zM1483 1502l4 4-4 4-4-4zM1448 1502l4 4-4 4-4-4zM1473 1466l4 4-4 4-4-4zM1401 1393l4 4-4 4-4-4zM1420 1489l4 4-4 4-4-4zM1425 1485l4 4-4 4-4-4zM1485 1487l4 4-4 4-4-4zM1473 1450l4 4-4 4-4-4zM1405 1504l4 4-4 4-4-4zM1421 1442l4 4-4 4-4-4zM1467 1463l4 4-4 4-4-4zM1434 1421l4 4-4 4-4-4zM1453 1421l4 4-4 4-4-4zM1411 1435l4 4-4 4-4-4zM1486 1451l4 4-4 4-4-4zM1396 1437l4 4-4 4-4-4zM1462 1444l4 4-4 4-4-4zM1481 1444l4 4-4 4-4-4zM1408 1481l4 4-4 4-4-4zM1443 1409l4 4-4 4-4-4zM1475 1492l4 4-4 4-4-4zM1443 1431l4 4-4 4-4-4zM1402 1395l4 4-4 4-4-4zM1466 1469l4 4-4 4-4-4zM1456 1452l4 4-4 4-4-4zM1398 1465l4 4-4 4-4-4zM1415 1432l4 4-4 4-4-4zM1448 1470l4 4-4 4-4-4zM1460 1430l4 4-4 4-4-4zM1431 1463l4 4-4 4-4-4zM1447 1475l4 4-4 4-4-4zM1433 1455l4 4-4 4-4-4zM1442 1491l4 4-4 4-4-4zM1503 1458l4 4-4 4-4-4zM1403 1489l4 4-4 4-4-4zM1446 1404l4 4-4 4-4-4zM1466 1487l4 4-4 4-4-4zM1462 1413l4 4-4 4-4-4zM1476 1434l4 4-4 4-4-4zM1468 1419l4 4-4 4-4-4zM1398 1438l4 4-4 4-4-4zM1472 1438l4 4-4 4-4-4zM1471 1443l4 4-4 4-4-4zM1504 1437l4 4-4 4-4-4zM1430 1435l4 4-4 4-4-4zM1406 1399l4 4-4 4-4-4zM1453 1490l4 4-4 4-4-4zM1396 1471l4 4-4 4-4-4zM1403 1459l4 4-4 4-4-4zM1459 1417l4 4-4 4-4-4zM1439 1478l4 4-4 4-4-4zM1409 1422l4 4-4 4-4-4zM1476 1393l4 4-4 4-4-4zM1405 1399l4 4-4 4-4-4zM1472 1457l4 4-4 4-4-4zM812 1575l4 4-4 4-4-4zM857 1570l4 4-4 4-4-4zM841 1498l4 4-4 4-4-4zM797 1583l4 4-4 4-4-4zM881 1580l4 4-4 4-4-4zM919 1501l4 4-4 4-4-4zM981 1531l4 4-4 4-4-4zM940 1536l4 4-4 4-4-4zM993 1565l4 4-4 4-4-4zM936 1505l4 4-4 4-4-4zM971 1533l4 4-4 4-4-4zM974 1580l4 4-4 4-4-4zM919 1526l4 4-4 4-4-4zM943 1515l4 4-4 4-4-4zM982 1539l4 4-4 4-4-4zM978 1602l4 4-4 4-4-4zM915 1519l4 4-4 4-4-4zM931 1584l4 4-4 4-4-4zM974 1540l4 4-4 4-4-4zM969 1600l4 4-4 4-4-4zM942 1484l4 4-4 4-4-4zM990 1537l4 4-4 4-4-4zM930 1520l4 4-4 4-4-4zM1013 1537l4 4-4 4-4-4zM934 1520l4 4-4 4-4-4zM911 1540l4 4-4 4-4-4zM911 1492l4 4-4 4-4-4zM946 1565l4 4-4 4-4-4zM917 1536l4 4-4 4-4-4zM973 1508l4 4-4 4-4-4zM972 1532l4 4-4 4-4-4zM933 1590l4 4-4 4-4-4zM940 1573l4 4-4 4-4-4zM954 1511l4 4-4 4-4-4zM958 1547l4 4-4 4-4-4zM922 1491l4 4-4 4-4-4zM952 1614l4 4-4 4-4-4zM991 1547l4 4-4 4-4-4zM953 1537l4 4-4 4-4-4zM999 1517l4 4-4 4-4-4zM977 1523l4 4-4 4-4-4zM998 1589l4 4-4 4-4-4zM915 1534l4 4-4 4-4-4zM938 1549l4 4-4 4-4-4zM918 1569l4 4-4 4-4-4zM979 1587l4 4-4 4-4-4zM944 1536l4 4-4 4-4-4zM989 1537l4 4-4 4-4-4zM991 1545l4 4-4 4-4-4zM980 1541l4 4-4 4-4-4zM991 1599l4 4-4 4-4-4zM934 1505l4 4-4 4-4-4zM1014 1591l4 4-4 4-4-4zM987 1554l4 4-4 4-4-4zM909 1547l4 4-4 4-4-4zM970 1537l4 4-4 4-4-4zM910 1530l4 4-4 4-4-4zM998 1524l4 4-4 4-4-4zM929 1601l4 4-4 4-4-4zM1002 1563l4 4-4 4-4-4zM957 1533l4 4-4 4-4-4zM995 1518l4 4-4 4-4-4zM962 1565l4 4-4 4-4-4zM994 1509l4 4-4 4-4-4zM905 1565l4 4-4 4-4-4zM933 1516l4 4-4 4-4-4zM932 1570l4 4-4 4-4-4zM1046 1520l4 4-4 4-4-4zM1086 1507l4 4-4 4-4-4zM1039 1520l4 4-4 4-4-4zM1031 1525l4 4-4 4-4-4zM1012 1590l4 4-4 4-4-4zM1058 1515l4 4-4 4-4-4zM1036 1589l4 4-4 4-4-4zM1060 1528l4 4-4 4-4-4zM1019 1564l4 4-4 4-4-4zM1020 1588l4 4-4 4-4-4zM1018 1508l4 4-4 4-4-4zM1091 1583l4 4-4 4-4-4zM1036 1559l4 4-4 4-4-4zM1047 1503l4 4-4 4-4-4zM1060 1506l4 4-4 4-4-4zM1027 1537l4 4-4 4-4-4zM1091 1572l4 4-4 4-4-4zM1063 1530l4 4-4 4-4-4zM1012 1577l4 4-4 4-4-4zM1008 1506l4 4-4 4-4-4zM1061 1495l4 4-4 4-4-4zM1055 1494l4 4-4 4-4-4zM1071 1505l4 4-4 4-4-4zM1046 1582l4 4-4 4-4-4zM1080 1545l4 4-4 4-4-4zM1039 1593l4 4-4 4-4-4zM1080 1545l4 4-4 4-4-4zM1067 1542l4 4-4 4-4-4zM1019 1505l4 4-4 4-4-4zM1030 1520l4 4-4 4-4-4zM1093 1592l4 4-4 4-4-4zM1023 1581l4 4-4 4-4-4zM1021 1546l4 4-4 4-4-4zM1037 1505l4 4-4 4-4-4zM1019 1504l4 4-4 4-4-4zM1026 1588l4 4-4 4-4-4zM1066 1502l4 4-4 4-4-4zM1002 1535l4 4-4 4-4-4zM1092 1560l4 4-4 4-4-4zM1010 1582l4 4-4 4-4-4zM1012 1500l4 4-4 4-4-4zM1082 1592l4 4-4 4-4-4zM1081 1542l4 4-4 4-4-4zM1067 1496l4 4-4 4-4-4zM1007 1547l4 4-4 4-4-4zM993 1587l4 4-4 4-4-4zM1086 1587l4 4-4 4-4-4zM1004 1527l4 4-4 4-4-4zM1013 1568l4 4-4 4-4-4zM1070 1584l4 4-4 4-4-4zM1035 1521l4 4-4 4-4-4zM1030 1551l4 4-4 4-4-4zM1057 1515l4 4-4 4-4-4zM1075 1530l4 4-4 4-4-4zM1021 1574l4 4-4 4-4-4zM1079 1557l4 4-4 4-4-4zM1052 1568l4 4-4 4-4-4zM1098 1521l4 4-4 4-4-4zM1028 1552l4 4-4 4-4-4zM1067 1547l4 4-4 4-4-4zM1037 1559l4 4-4 4-4-4zM1050 1585l4 4-4 4-4-4zM1072 1546l4 4-4 4-4-4zM1045 1495l4 4-4 4-4-4zM1040 1573l4 4-4 4-4-4zM1092 1550l4 4-4 4-4-4zM1003 1600l4 4-4 4-4-4zM1076 1533l4 4-4 4-4-4zM1008 1588l4 4-4 4-4-4zM1082 1543l4 4-4 4-4-4zM1075 1542l4 4-4 4-4-4zM1091 1606l4 4-4 4-4-4zM1092 1572l4 4-4 4-4-4zM1017 1549l4 4-4 4-4-4zM1016 1556l4 4-4 4-4-4zM1025 1589l4 4-4 4-4-4zM1073 1575l4 4-4 4-4-4zM1078 1592l4 4-4 4-4-4zM1040 1599l4 4-4 4-4-4zM1034 1515l4 4-4 4-4-4zM1015 1529l4 4-4 4-4-4zM984 1539l4 4-4 4-4-4zM1047 1537l4 4-4 4-4-4zM996 1578l4 4-4 4-4-4zM1003 1543l4 4-4 4-4-4zM1073 1575l4 4-4 4-4-4zM1054 1540l4 4-4 4-4-4zM1018 1584l4 4-4 4-4-4zM1099 1569l4 4-4 4-4-4zM1083 1558l4 4-4 4-4-4zM1074 1587l4 4-4 4-4-4zM1055 1491l4 4-4 4-4-4zM1087 1587l4 4-4 4-4-4zM1059 1578l4 4-4 4-4-4zM1018 1573l4 4-4 4-4-4zM1095 1566l4 4-4 4-4-4zM1064 1582l4 4-4 4-4-4zM1047 1546l4 4-4 4-4-4zM1035 1504l4 4-4 4-4-4zM1108 1552l4 4-4 4-4-4zM1008 1531l4 4-4 4-4-4zM999 1577l4 4-4 4-4-4zM1062 1559l4 4-4 4-4-4zM1004 1577l4 4-4 4-4-4zM1098 1566l4 4-4 4-4-4zM1037 1570l4 4-4 4-4-4zM1082 1571l4 4-4 4-4-4zM1010 1565l4 4-4 4-4-4zM1023 1516l4 4-4 4-4-4zM1097 1554l4 4-4 4-4-4zM1060 1554l4 4-4 4-4-4zM1057 1540l4 4-4 4-4-4zM1065 1502l4 4-4 4-4-4zM1053 1546l4 4-4 4-4-4zM1035 1595l4 4-4 4-4-4zM1055 1596l4 4-4 4-4-4zM1013 1512l4 4-4 4-4-4zM1029 1607l4 4-4 4-4-4zM1068 1557l4 4-4 4-4-4zM1101 1523l4 4-4 4-4-4zM1086 1549l4 4-4 4-4-4zM1012 1593l4 4-4 4-4-4zM1074 1583l4 4-4 4-4-4zM1048 1511l4 4-4 4-4-4zM1083 1545l4 4-4 4-4-4zM1085 1561l4 4-4 4-4-4zM1038 1516l4 4-4 4-4-4zM1090 1528l4 4-4 4-4-4zM998 1489l4 4-4 4-4-4zM1007 1567l4 4-4 4-4-4zM1058 1568l4 4-4 4-4-4zM1009 1584l4 4-4 4-4-4zM1025 1529l4 4-4 4-4-4zM1012 1487l4 4-4 4-4-4zM1045 1570l4 4-4 4-4-4zM1032 1548l4 4-4 4-4-4zM1028 1599l4 4-4 4-4-4zM1074 1533l4 4-4 4-4-4zM1091 1596l4 4-4 4-4-4zM1067 1539l4 4-4 4-4-4zM1076 1553l4 4-4 4-4-4zM1045 1589l4 4-4 4-4-4zM1034 1492l4 4-4 4-4-4zM1047 1576l4 4-4 4-4-4zM1090 1538l4 4-4 4-4-4zM1074 1554l4 4-4 4-4-4zM1016 1546l4 4-4 4-4-4zM1051 1520l4 4-4 4-4-4zM1034 1550l4 4-4 4-4-4zM1084 1530l4 4-4 4-4-4zM1048 1559l4 4-4 4-4-4zM1037 1536l4 4-4 4-4-4zM1043 1523l4 4-4 4-4-4zM1062 1508l4 4-4 4-4-4zM1016 1577l4 4-4 4-4-4zM1071 1557l4 4-4 4-4-4zM1075 1510l4 4-4 4-4-4zM1019 1583l4 4-4 4-4-4zM1029 1566l4 4-4 4-4-4zM1000 1521l4 4-4 4-4-4zM1097 1573l4 4-4 4-4-4zM1063 1582l4 4-4 4-4-4zM1017 1517l4 4-4 4-4-4zM1030 1562l4 4-4 4-4-4zM1094 1561l4 4-4 4-4-4zM1018 1581l4 4-4 4-4-4zM1090 1534l4 4-4 4-4-4zM1037 1539l4 4-4 4-4-4zM1030 1519l4 4-4 4-4-4zM1046 1537l4 4-4 4-4-4zM1034 1566l4 4-4 4-4-4zM1082 1507l4 4-4 4-4-4zM1024 1596l4 4-4 4-4-4zM1104 1546l4 4-4 4-4-4zM1099 1543l4 4-4 4-4-4zM1079 1538l4 4-4 4-4-4zM1063 1517l4 4-4 4-4-4zM1069 1599l4 4-4 4-4-4zM1025 1506l4 4-4 4-4-4zM1057 1568l4 4-4 4-4-4zM1054 1549l4 4-4 4-4-4zM1098 1583l4 4-4 4-4-4zM1042 1579l4 4-4 4-4-4zM1098 1509l4 4-4 4-4-4zM1141 1540l4 4-4 4-4-4zM1096 1540l4 4-4 4-4-4zM1138 1567l4 4-4 4-4-4zM1183 1557l4 4-4 4-4-4zM1176 1539l4 4-4 4-4-4zM1208 1547l4 4-4 4-4-4zM1135 1586l4 4-4 4-4-4zM1195 1540l4 4-4 4-4-4zM1112 1495l4 4-4 4-4-4zM1169 1579l4 4-4 4-4-4zM1190 1607l4 4-4 4-4-4zM1093 1545l4 4-4 4-4-4zM1171 1561l4 4-4 4-4-4zM1135 1498l4 4-4 4-4-4zM1121 1596l4 4-4 4-4-4zM1165 1518l4 4-4 4-4-4zM1181 1581l4 4-4 4-4-4zM1138 1526l4 4-4 4-4-4zM1127 1530l4 4-4 4-4-4zM1161 1551l4 4-4 4-4-4zM1199 1569l4 4-4 4-4-4zM1153 1572l4 4-4 4-4-4zM1101 1510l4 4-4 4-4-4zM1120 1565l4 4-4 4-4-4zM1108 1551l4 4-4 4-4-4zM1106 1561l4 4-4 4-4-4zM1117 1529l4 4-4 4-4-4zM1130 1557l4 4-4 4-4-4zM1123 1593l4 4-4 4-4-4zM1161 1546l4 4-4 4-4-4zM1181 1500l4 4-4 4-4-4zM1135 1539l4 4-4 4-4-4zM1132 1545l4 4-4 4-4-4zM1154 1593l4 4-4 4-4-4zM1096 1508l4 4-4 4-4-4zM1166 1541l4 4-4 4-4-4zM1135 1516l4 4-4 4-4-4zM1118 1531l4 4-4 4-4-4zM1152 1498l4 4-4 4-4-4zM1144 1572l4 4-4 4-4-4zM1124 1573l4 4-4 4-4-4zM1206 1506l4 4-4 4-4-4zM1153 1524l4 4-4 4-4-4zM1188 1551l4 4-4 4-4-4zM1171 1576l4 4-4 4-4-4zM1198 1533l4 4-4 4-4-4zM1211 1543l4 4-4 4-4-4zM1153 1546l4 4-4 4-4-4zM1105 1579l4 4-4 4-4-4zM1166 1554l4 4-4 4-4-4zM1210 1522l4 4-4 4-4-4zM1118 1597l4 4-4 4-4-4zM1160 1518l4 4-4 4-4-4zM1135 1517l4 4-4 4-4-4zM1134 1590l4 4-4 4-4-4zM1122 1532l4 4-4 4-4-4zM1128 1537l4 4-4 4-4-4zM1156 1511l4 4-4 4-4-4zM1160 1557l4 4-4 4-4-4zM1151 1585l4 4-4 4-4-4zM1096 1583l4 4-4 4-4-4zM1132 1513l4 4-4 4-4-4zM1188 1595l4 4-4 4-4-4zM1202 1549l4 4-4 4-4-4zM1193 1533l4 4-4 4-4-4zM1157 1499l4 4-4 4-4-4zM1174 1560l4 4-4 4-4-4zM1139 1501l4 4-4 4-4-4zM1157 1503l4 4-4 4-4-4zM1130 1564l4 4-4 4-4-4zM1185 1502l4 4-4 4-4-4zM1167 1499l4 4-4 4-4-4zM1123 1593l4 4-4 4-4-4zM1119 1551l4 4-4 4-4-4zM1123 1578l4 4-4 4-4-4zM1104 1541l4 4-4 4-4-4zM1114 1561l4 4-4 4-4-4zM1153 1559l4 4-4 4-4-4zM1141 1516l4 4-4 4-4-4zM1147 1535l4 4-4 4-4-4zM1170 1546l4 4-4 4-4-4zM1129 1586l4 4-4 4-4-4zM1196 1552l4 4-4 4-4-4zM1149 1560l4 4-4 4-4-4zM1115 1547l4 4-4 4-4-4zM1152 1527l4 4-4 4-4-4zM1152 1526l4 4-4 4-4-4zM1149 1511l4 4-4 4-4-4zM1176 1539l4 4-4 4-4-4zM1175 1584l4 4-4 4-4-4zM1109 1584l4 4-4 4-4-4zM1216 1514l4 4-4 4-4-4zM1204 1551l4 4-4 4-4-4zM1135 1517l4 4-4 4-4-4zM1137 1582l4 4-4 4-4-4zM1120 1535l4 4-4 4-4-4zM1137 1536l4 4-4 4-4-4zM1180 1512l4 4-4 4-4-4zM1163 1517l4 4-4 4-4-4zM1167 1570l4 4-4 4-4-4zM1138 1576l4 4-4 4-4-4zM1209 1537l4 4-4 4-4-4zM1189 1508l4 4-4 4-4-4zM1183 1507l4 4-4 4-4-4zM1157 1564l4 4-4 4-4-4zM1125 1507l4 4-4 4-4-4zM1106 1540l4 4-4 4-4-4zM1158 1510l4 4-4 4-4-4zM1146 1580l4 4-4 4-4-4zM1135 1546l4 4-4 4-4-4zM1177 1602l4 4-4 4-4-4zM1156 1570l4 4-4 4-4-4zM1134 1568l4 4-4 4-4-4zM1138 1517l4 4-4 4-4-4zM1138 1575l4 4-4 4-4-4zM1141 1537l4 4-4 4-4-4zM1164 1496l4 4-4 4-4-4zM1164 1499l4 4-4 4-4-4zM1137 1493l4 4-4 4-4-4zM1110 1535l4 4-4 4-4-4zM1174 1530l4 4-4 4-4-4zM1120 1503l4 4-4 4-4-4zM1187 1532l4 4-4 4-4-4zM1180 1552l4 4-4 4-4-4zM1149 1555l4 4-4 4-4-4zM1161 1506l4 4-4 4-4-4zM1113 1486l4 4-4 4-4-4zM1204 1534l4 4-4 4-4-4zM1143 1609l4 4-4 4-4-4zM1146 1544l4 4-4 4-4-4zM1136 1604l4 4-4 4-4-4zM1197 1562l4 4-4 4-4-4zM1121 1587l4 4-4 4-4-4zM1166 1543l4 4-4 4-4-4zM1156 1521l4 4-4 4-4-4zM1116 1540l4 4-4 4-4-4zM1127 1519l4 4-4 4-4-4zM1171 1539l4 4-4 4-4-4zM1111 1500l4 4-4 4-4-4zM1180 1521l4 4-4 4-4-4zM1118 1582l4 4-4 4-4-4zM1207 1561l4 4-4 4-4-4zM1160 1510l4 4-4 4-4-4zM1104 1533l4 4-4 4-4-4zM1119 1550l4 4-4 4-4-4zM1154 1562l4 4-4 4-4-4zM1157 1509l4 4-4 4-4-4zM1097 1564l4 4-4 4-4-4zM1106 1569l4 4-4 4-4-4zM1153 1502l4 4-4 4-4-4zM1124 1551l4 4-4 4-4-4zM1182 1540l4 4-4 4-4-4zM1135 1571l4 4-4 4-4-4zM1136 1545l4 4-4 4-4-4zM1137 1549l4 4-4 4-4-4zM1194 1527l4 4-4 4-4-4zM1168 1578l4 4-4 4-4-4zM1164 1535l4 4-4 4-4-4zM1106 1537l4 4-4 4-4-4zM1133 1569l4 4-4 4-4-4zM1138 1586l4 4-4 4-4-4zM1179 1544l4 4-4 4-4-4zM1180 1506l4 4-4 4-4-4zM1174 1577l4 4-4 4-4-4zM1128 1559l4 4-4 4-4-4zM1155 1594l4 4-4 4-4-4zM1119 1528l4 4-4 4-4-4zM1118 1568l4 4-4 4-4-4zM1135 1547l4 4-4 4-4-4zM1186 1579l4 4-4 4-4-4zM1130 1585l4 4-4 4-4-4zM1172 1562l4 4-4 4-4-4zM1143 1522l4 4-4 4-4-4zM1110 1584l4 4-4 4-4-4zM1125 1496l4 4-4 4-4-4zM1110 1574l4 4-4 4-4-4zM1103 1579l4 4-4 4-4-4zM1144 1551l4 4-4 4-4-4zM1141 1518l4 4-4 4-4-4zM1110 1503l4 4-4 4-4-4zM1194 1494l4 4-4 4-4-4zM1169 1515l4 4-4 4-4-4zM1188 1543l4 4-4 4-4-4zM1112 1539l4 4-4 4-4-4zM1141 1585l4 4-4 4-4-4zM1159 1543l4 4-4 4-4-4zM1148 1551l4 4-4 4-4-4zM1095 1603l4 4-4 4-4-4zM1125 1533l4 4-4 4-4-4zM1109 1524l4 4-4 4-4-4zM1116 1509l4 4-4 4-4-4zM1197 1588l4 4-4 4-4-4zM1122 1591l4 4-4 4-4-4zM1157 1539l4 4-4 4-4-4zM1156 1553l4 4-4 4-4-4zM1116 1558l4 4-4 4-4-4zM1164 1585l4 4-4 4-4-4zM1117 1527l4 4-4 4-4-4zM1126 1535l4 4-4 4-4-4zM1109 1551l4 4-4 4-4-4zM1151 1567l4 4-4 4-4-4zM1205 1514l4 4-4 4-4-4zM1188 1560l4 4-4 4-4-4zM1168 1533l4 4-4 4-4-4zM1164 1528l4 4-4 4-4-4zM1116 1597l4 4-4 4-4-4zM1142 1578l4 4-4 4-4-4zM1168 1548l4 4-4 4-4-4zM1121 1498l4 4-4 4-4-4zM1121 1552l4 4-4 4-4-4zM1136 1556l4 4-4 4-4-4zM1194 1517l4 4-4 4-4-4zM1117 1507l4 4-4 4-4-4zM1179 1587l4 4-4 4-4-4zM1136 1551l4 4-4 4-4-4zM1288 1504l4 4-4 4-4-4zM1246 1501l4 4-4 4-4-4zM1260 1546l4 4-4 4-4-4zM1269 1510l4 4-4 4-4-4zM1293 1517l4 4-4 4-4-4zM1247 1547l4 4-4 4-4-4zM1280 1588l4 4-4 4-4-4zM1292 1498l4 4-4 4-4-4zM1241 1513l4 4-4 4-4-4zM1231 1557l4 4-4 4-4-4zM1214 1542l4 4-4 4-4-4zM1280 1543l4 4-4 4-4-4zM1270 1554l4 4-4 4-4-4zM1269 1536l4 4-4 4-4-4zM1206 1561l4 4-4 4-4-4zM1295 1527l4 4-4 4-4-4zM1253 1518l4 4-4 4-4-4zM1267 1583l4 4-4 4-4-4zM1292 1559l4 4-4 4-4-4zM1262 1542l4 4-4 4-4-4zM1218 1597l4 4-4 4-4-4zM1226 1551l4 4-4 4-4-4zM1288 1520l4 4-4 4-4-4zM1255 1560l4 4-4 4-4-4zM1312 1588l4 4-4 4-4-4zM1269 1551l4 4-4 4-4-4zM1303 1556l4 4-4 4-4-4zM1241 1524l4 4-4 4-4-4zM1289 1540l4 4-4 4-4-4zM1206 1529l4 4-4 4-4-4zM1212 1515l4 4-4 4-4-4zM1266 1533l4 4-4 4-4-4zM1274 1542l4 4-4 4-4-4zM1226 1508l4 4-4 4-4-4zM1267 1489l4 4-4 4-4-4zM1257 1535l4 4-4 4-4-4zM1223 1509l4 4-4 4-4-4zM1200 1529l4 4-4 4-4-4zM1222 1549l4 4-4 4-4-4zM1288 1512l4 4-4 4-4-4zM1244 1519l4 4-4 4-4-4zM1234 1518l4 4-4 4-4-4zM1269 1520l4 4-4 4-4-4zM1199 1559l4 4-4 4-4-4zM1216 1590l4 4-4 4-4-4zM1206 1591l4 4-4 4-4-4zM1238 1576l4 4-4 4-4-4zM1265 1583l4 4-4 4-4-4zM1277 1515l4 4-4 4-4-4zM1288 1541l4 4-4 4-4-4zM1295 1551l4 4-4 4-4-4zM1281 1538l4 4-4 4-4-4zM1242 1523l4 4-4 4-4-4zM1253 1589l4 4-4 4-4-4zM1264 1551l4 4-4 4-4-4zM1254 1566l4 4-4 4-4-4zM1297 1531l4 4-4 4-4-4zM1251 1551l4 4-4 4-4-4zM1233 1597l4 4-4 4-4-4zM1249 1546l4 4-4 4-4-4zM1243 1589l4 4-4 4-4-4zM1260 1546l4 4-4 4-4-4zM1230 1504l4 4-4 4-4-4zM1306 1500l4 4-4 4-4-4zM1278 1508l4 4-4 4-4-4zM1264 1564l4 4-4 4-4-4zM1219 1530l4 4-4 4-4-4zM1242 1577l4 4-4 4-4-4zM1237 1575l4 4-4 4-4-4zM1262 1530l4 4-4 4-4-4zM1286 1588l4 4-4 4-4-4zM1265 1510l4 4-4 4-4-4zM1288 1551l4 4-4 4-4-4zM1220 1587l4 4-4 4-4-4zM1236 1574l4 4-4 4-4-4zM1253 1529l4 4-4 4-4-4zM1248 1562l4 4-4 4-4-4zM1264 1520l4 4-4 4-4-4zM1257 1526l4 4-4 4-4-4zM1259 1585l4 4-4 4-4-4zM1235 1518l4 4-4 4-4-4zM1215 1586l4 4-4 4-4-4zM1272 1480l4 4-4 4-4-4zM1258 1483l4 4-4 4-4-4zM1269 1564l4 4-4 4-4-4zM1262 1539l4 4-4 4-4-4zM1282 1552l4 4-4 4-4-4zM1232 1560l4 4-4 4-4-4zM1261 1547l4 4-4 4-4-4zM1215 1503l4 4-4 4-4-4zM1239 1508l4 4-4 4-4-4zM1292 1544l4 4-4 4-4-4zM1218 1516l4 4-4 4-4-4zM1200 1528l4 4-4 4-4-4zM1272 1510l4 4-4 4-4-4zM1258 1516l4 4-4 4-4-4zM1213 1517l4 4-4 4-4-4zM1235 1551l4 4-4 4-4-4zM1215 1599l4 4-4 4-4-4zM1208 1563l4 4-4 4-4-4zM1220 1519l4 4-4 4-4-4zM1285 1543l4 4-4 4-4-4zM1202 1569l4 4-4 4-4-4zM1257 1502l4 4-4 4-4-4zM1276 1579l4 4-4 4-4-4zM1297 1545l4 4-4 4-4-4zM1246 1523l4 4-4 4-4-4zM1233 1499l4 4-4 4-4-4zM1215 1553l4 4-4 4-4-4zM1261 1526l4 4-4 4-4-4zM1276 1577l4 4-4 4-4-4zM1239 1552l4 4-4 4-4-4zM1269 1576l4 4-4 4-4-4zM1265 1497l4 4-4 4-4-4zM1294 1534l4 4-4 4-4-4zM1237 1597l4 4-4 4-4-4zM1225 1565l4 4-4 4-4-4zM1229 1529l4 4-4 4-4-4zM1223 1521l4 4-4 4-4-4zM1214 1603l4 4-4 4-4-4zM1284 1567l4 4-4 4-4-4zM1301 1582l4 4-4 4-4-4zM1289 1600l4 4-4 4-4-4zM1200 1516l4 4-4 4-4-4zM1220 1537l4 4-4 4-4-4zM1211 1535l4 4-4 4-4-4zM1253 1616l4 4-4 4-4-4zM1210 1595l4 4-4 4-4-4zM1207 1575l4 4-4 4-4-4zM1265 1586l4 4-4 4-4-4zM1241 1499l4 4-4 4-4-4zM1285 1549l4 4-4 4-4-4zM1290 1551l4 4-4 4-4-4zM1268 1572l4 4-4 4-4-4zM1269 1593l4 4-4 4-4-4zM1301 1494l4 4-4 4-4-4zM1266 1533l4 4-4 4-4-4zM1270 1515l4 4-4 4-4-4zM1277 1521l4 4-4 4-4-4zM1270 1584l4 4-4 4-4-4zM1276 1584l4 4-4 4-4-4zM1280 1572l4 4-4 4-4-4zM1211 1493l4 4-4 4-4-4zM1248 1529l4 4-4 4-4-4zM1247 1515l4 4-4 4-4-4zM1295 1543l4 4-4 4-4-4zM1245 1569l4 4-4 4-4-4zM1208 1606l4 4-4 4-4-4zM1274 1498l4 4-4 4-4-4zM1283 1499l4 4-4 4-4-4zM1253 1578l4 4-4 4-4-4zM1215 1547l4 4-4 4-4-4zM1244 1583l4 4-4 4-4-4zM1295 1518l4 4-4 4-4-4zM1276 1566l4 4-4 4-4-4zM1258 1557l4 4-4 4-4-4zM1247 1582l4 4-4 4-4-4zM1237 1543l4 4-4 4-4-4zM1214 1530l4 4-4 4-4-4zM1248 1502l4 4-4 4-4-4zM1306 1513l4 4-4 4-4-4zM1378 1542l4 4-4 4-4-4zM1349 1585l4 4-4 4-4-4zM1381 1559l4 4-4 4-4-4zM1399 1496l4 4-4 4-4-4zM1346 1521l4 4-4 4-4-4zM1383 1546l4 4-4 4-4-4zM1324 1571l4 4-4 4-4-4zM1352 1546l4 4-4 4-4-4zM1354 1595l4 4-4 4-4-4zM1318 1511l4 4-4 4-4-4zM1386 1550l4 4-4 4-4-4zM1394 1588l4 4-4 4-4-4zM1364 1541l4 4-4 4-4-4zM1333 1566l4 4-4 4-4-4zM1348 1560l4 4-4 4-4-4zM1309 1601l4 4-4 4-4-4zM1342 1517l4 4-4 4-4-4zM1332 1573l4 4-4 4-4-4zM1331 1566l4 4-4 4-4-4zM1325 1492l4 4-4 4-4-4zM1359 1507l4 4-4 4-4-4zM1310 1536l4 4-4 4-4-4zM1389 1574l4 4-4 4-4-4zM1317 1517l4 4-4 4-4-4zM1314 1552l4 4-4 4-4-4zM1349 1582l4 4-4 4-4-4zM1368 1592l4 4-4 4-4-4zM1342 1520l4 4-4 4-4-4zM1349 1559l4 4-4 4-4-4zM1343 1587l4 4-4 4-4-4zM1369 1566l4 4-4 4-4-4zM1332 1563l4 4-4 4-4-4zM1377 1582l4 4-4 4-4-4zM1401 1569l4 4-4 4-4-4zM1386 1589l4 4-4 4-4-4zM1365 1513l4 4-4 4-4-4zM1369 1578l4 4-4 4-4-4zM1299 1540l4 4-4 4-4-4zM1311 1535l4 4-4 4-4-4zM1371 1507l4 4-4 4-4-4zM1304 1556l4 4-4 4-4-4zM1328 1584l4 4-4 4-4-4zM1384 1543l4 4-4 4-4-4zM1316 1551l4 4-4 4-4-4zM1365 1553l4 4-4 4-4-4zM1297 1523l4 4-4 4-4-4zM1409 1541l4 4-4 4-4-4zM1411 1517l4 4-4 4-4-4zM1373 1520l4 4-4 4-4-4zM1303 1492l4 4-4 4-4-4zM1373 1566l4 4-4 4-4-4zM1364 1537l4 4-4 4-4-4zM1373 1527l4 4-4 4-4-4zM1340 1518l4 4-4 4-4-4zM1324 1552l4 4-4 4-4-4zM1322 1542l4 4-4 4-4-4zM1309 1544l4 4-4 4-4-4zM1350 1538l4 4-4 4-4-4zM1292 1509l4 4-4 4-4-4zM1358 1558l4 4-4 4-4-4zM1309 1546l4 4-4 4-4-4zM1391 1566l4 4-4 4-4-4zM1400 1537l4 4-4 4-4-4zM1362 1566l4 4-4 4-4-4zM1386 1490l4 4-4 4-4-4zM1352 1556l4 4-4 4-4-4zM1322 1507l4 4-4 4-4-4zM1358 1528l4 4-4 4-4-4zM1319 1507l4 4-4 4-4-4zM1373 1564l4 4-4 4-4-4zM1308 1533l4 4-4 4-4-4zM1337 1563l4 4-4 4-4-4zM1349 1549l4 4-4 4-4-4zM1323 1572l4 4-4 4-4-4zM1397 1527l4 4-4 4-4-4zM1332 1516l4 4-4 4-4-4zM1329 1510l4 4-4 4-4-4zM1393 1523l4 4-4 4-4-4zM1336 1569l4 4-4 4-4-4zM1315 1597l4 4-4 4-4-4zM1322 1506l4 4-4 4-4-4zM1319 1577l4 4-4 4-4-4zM1307 1516l4 4-4 4-4-4zM1333 1503l4 4-4 4-4-4zM1349 1541l4 4-4 4-4-4zM1354 1530l4 4-4 4-4-4zM1382 1508l4 4-4 4-4-4zM1324 1506l4 4-4 4-4-4zM1323 1593l4 4-4 4-4-4zM1390 1541l4 4-4 4-4-4zM1468 1565l4 4-4 4-4-4zM1440 1543l4 4-4 4-4-4zM1467 1583l4 4-4 4-4-4zM1412 1533l4 4-4 4-4-4zM1396 1547l4 4-4 4-4-4zM1446 1558l4 4-4 4-4-4zM1415 1515l4 4-4 4-4-4zM1487 1593l4 4-4 4-4-4zM1441 1515l4 4-4 4-4-4zM1443 1559l4 4-4 4-4-4zM1425 1547l4 4-4 4-4-4zM1418 1517l4 4-4 4-4-4zM1453 1511l4 4-4 4-4-4zM1414 1542l4 4-4 4-4-4zM1420 1564l4 4-4 4-4-4zM1500 1533l4 4-4 4-4-4zM1433 1516l4 4-4 4-4-4zM1416 1558l4 4-4 4-4-4zM1466 1520l4 4-4 4-4-4zM1420 1500l4 4-4 4-4-4zM1452 1594l4 4-4 4-4-4zM1487 1612l4 4-4 4-4-4zM1488 1512l4 4-4 4-4-4zM1395 1495l4 4-4 4-4-4zM1390 1539l4 4-4 4-4-4zM1437 1588l4 4-4 4-4-4zM1474 1498l4 4-4 4-4-4zM1487 1565l4 4-4 4-4-4zM1480 1584l4 4-4 4-4-4zM1469 1548l4 4-4 4-4-4zM1508 1537l4 4-4 4-4-4zM1488 1539l4 4-4 4-4-4zM1480 1489l4 4-4 4-4-4zM1425 1551l4 4-4 4-4-4zM1410 1597l4 4-4 4-4-4zM1439 1517l4 4-4 4-4-4zM1475 1519l4 4-4 4-4-4zM1455 1563l4 4-4 4-4-4zM1409 1564l4 4-4 4-4-4zM1478 1591l4 4-4 4-4-4zM1469 1514l4 4-4 4-4-4zM1414 1517l4 4-4 4-4-4zM1511 1555l4 4-4 4-4-4zM1490 1575l4 4-4 4-4-4zM1463 1501l4 4-4 4-4-4zM1436 1598l4 4-4 4-4-4zM1501 1573l4 4-4 4-4-4zM1450 1548l4 4-4 4-4-4zM1444 1505l4 4-4 4-4-4zM1445 1587l4 4-4 4-4-4zM1487 1577l4 4-4 4-4-4zM1496 1511l4 4-4 4-4-4zM1432 1542l4 4-4 4-4-4zM1441 1553l4 4-4 4-4-4zM1448 1538l4 4-4 4-4-4zM1490 1524l4 4-4 4-4-4zM1483 1492l4 4-4 4-4-4zM1468 1574l4 4-4 4-4-4zM1500 1514l4 4-4 4-4-4zM1445 1517l4 4-4 4-4-4zM1489 1496l4 4-4 4-4-4zM1424 1507l4 4-4 4-4-4zM1475 1488l4 4-4 4-4-4zM1493 1568l4 4-4 4-4-4zM1417 1584l4 4-4 4-4-4zM1484 1558l4 4-4 4-4-4zM1454 1514l4 4-4 4-4-4zM1393 1525l4 4-4 4-4-4zM1440 1516l4 4-4 4-4-4zM916 1605l4 4-4 4-4-4zM897 1614l4 4-4 4-4-4zM970 1629l4 4-4 4-4-4zM984 1609l4 4-4 4-4-4zM958 1590l4 4-4 4-4-4zM911 1635l4 4-4 4-4-4zM914 1636l4 4-4 4-4-4zM954 1633l4 4-4 4-4-4zM900 1676l4 4-4 4-4-4zM1000 1617l4 4-4 4-4-4zM1078 1609l4 4-4 4-4-4zM1016 1658l4 4-4 4-4-4zM1039 1697l4 4-4 4-4-4zM1056 1679l4 4-4 4-4-4zM1009 1638l4 4-4 4-4-4zM1086 1653l4 4-4 4-4-4zM1011 1597l4 4-4 4-4-4zM1084 1657l4 4-4 4-4-4zM1049 1679l4 4-4 4-4-4zM1076 1634l4 4-4 4-4-4zM1048 1645l4 4-4 4-4-4zM1090 1663l4 4-4 4-4-4zM1005 1683l4 4-4 4-4-4zM1038 1642l4 4-4 4-4-4zM1046 1599l4 4-4 4-4-4zM1042 1671l4 4-4 4-4-4zM1063 1639l4 4-4 4-4-4zM1022 1696l4 4-4 4-4-4zM1091 1680l4 4-4 4-4-4zM1088 1646l4 4-4 4-4-4zM1024 1665l4 4-4 4-4-4zM1006 1679l4 4-4 4-4-4zM1081 1614l4 4-4 4-4-4zM1088 1645l4 4-4 4-4-4zM1069 1603l4 4-4 4-4-4zM1005 1664l4 4-4 4-4-4zM1016 1592l4 4-4 4-4-4zM1046 1631l4 4-4 4-4-4zM1084 1623l4 4-4 4-4-4zM1019 1620l4 4-4 4-4-4zM1069 1636l4 4-4 4-4-4zM1018 1644l4 4-4 4-4-4zM1076 1645l4 4-4 4-4-4zM1049 1606l4 4-4 4-4-4zM1106 1608l4 4-4 4-4-4zM1097 1684l4 4-4 4-4-4zM1161 1682l4 4-4 4-4-4zM1150 1615l4 4-4 4-4-4zM1104 1703l4 4-4 4-4-4zM1106 1646l4 4-4 4-4-4zM1101 1649l4 4-4 4-4-4zM1107 1643l4 4-4 4-4-4zM1195 1667l4 4-4 4-4-4zM1109 1624l4 4-4 4-4-4zM1158 1687l4 4-4 4-4-4zM1187 1668l4 4-4 4-4-4zM1158 1655l4 4-4 4-4-4zM1174 1618l4 4-4 4-4-4zM1190 1673l4 4-4 4-4-4zM1163 1598l4 4-4 4-4-4zM1096 1606l4 4-4 4-4-4zM1141 1687l4 4-4 4-4-4zM1152 1666l4 4-4 4-4-4zM1133 1645l4 4-4 4-4-4zM1109 1678l4 4-4 4-4-4zM1190 1622l4 4-4 4-4-4zM1089 1598l4 4-4 4-4-4zM1108 1637l4 4-4 4-4-4zM1120 1668l4 4-4 4-4-4zM1174 1657l4 4-4 4-4-4zM1140 1661l4 4-4 4-4-4zM1104 1633l4 4-4 4-4-4zM1108 1662l4 4-4 4-4-4zM1169 1606l4 4-4 4-4-4zM1176 1583l4 4-4 4-4-4zM1132 1654l4 4-4 4-4-4zM1110 1664l4 4-4 4-4-4zM1190 1636l4 4-4 4-4-4zM1119 1615l4 4-4 4-4-4zM1186 1696l4 4-4 4-4-4zM1111 1587l4 4-4 4-4-4zM1187 1705l4 4-4 4-4-4zM1094 1655l4 4-4 4-4-4zM1140 1697l4 4-4 4-4-4zM1138 1628l4 4-4 4-4-4zM1109 1680l4 4-4 4-4-4zM1176 1617l4 4-4 4-4-4zM1158 1595l4 4-4 4-4-4zM1132 1650l4 4-4 4-4-4zM1147 1598l4 4-4 4-4-4zM1192 1675l4 4-4 4-4-4zM1161 1618l4 4-4 4-4-4zM1177 1637l4 4-4 4-4-4zM1170 1660l4 4-4 4-4-4zM1148 1659l4 4-4 4-4-4zM1157 1632l4 4-4 4-4-4zM1128 1663l4 4-4 4-4-4zM1136 1636l4 4-4 4-4-4zM1179 1619l4 4-4 4-4-4zM1099 1695l4 4-4 4-4-4zM1189 1598l4 4-4 4-4-4zM1185 1641l4 4-4 4-4-4zM1203 1621l4 4-4 4-4-4zM1109 1643l4 4-4 4-4-4zM1134 1666l4 4-4 4-4-4zM1171 1679l4 4-4 4-4-4zM1190 1648l4 4-4 4-4-4zM1116 1615l4 4-4 4-4-4zM1176 1620l4 4-4 4-4-4zM1178 1588l4 4-4 4-4-4zM1209 1629l4 4-4 4-4-4zM1131 1627l4 4-4 4-4-4zM1160 1676l4 4-4 4-4-4zM1118 1613l4 4-4 4-4-4zM1176 1670l4 4-4 4-4-4zM1207 1673l4 4-4 4-4-4zM1169 1628l4 4-4 4-4-4zM1192 1612l4 4-4 4-4-4zM1184 1635l4 4-4 4-4-4zM1160 1672l4 4-4 4-4-4zM1105 1599l4 4-4 4-4-4zM1150 1622l4 4-4 4-4-4zM1144 1598l4 4-4 4-4-4zM1176 1657l4 4-4 4-4-4zM1179 1649l4 4-4 4-4-4zM1128 1630l4 4-4 4-4-4zM1157 1668l4 4-4 4-4-4zM1177 1594l4 4-4 4-4-4zM1188 1698l4 4-4 4-4-4zM1222 1596l4 4-4 4-4-4zM1204 1622l4 4-4 4-4-4zM1212 1667l4 4-4 4-4-4zM1225 1594l4 4-4 4-4-4zM1251 1628l4 4-4 4-4-4zM1199 1677l4 4-4 4-4-4zM1270 1607l4 4-4 4-4-4zM1262 1594l4 4-4 4-4-4zM1287 1602l4 4-4 4-4-4zM1273 1673l4 4-4 4-4-4zM1254 1637l4 4-4 4-4-4zM1257 1661l4 4-4 4-4-4zM1277 1676l4 4-4 4-4-4zM1238 1668l4 4-4 4-4-4zM1257 1665l4 4-4 4-4-4zM1277 1627l4 4-4 4-4-4zM1224 1699l4 4-4 4-4-4zM1207 1601l4 4-4 4-4-4zM1231 1634l4 4-4 4-4-4zM1261 1679l4 4-4 4-4-4zM1286 1677l4 4-4 4-4-4zM1230 1631l4 4-4 4-4-4zM1256 1618l4 4-4 4-4-4zM1225 1642l4 4-4 4-4-4zM1238 1609l4 4-4 4-4-4zM1254 1631l4 4-4 4-4-4zM1242 1632l4 4-4 4-4-4zM1274 1677l4 4-4 4-4-4zM1218 1681l4 4-4 4-4-4zM1273 1625l4 4-4 4-4-4zM1304 1622l4 4-4 4-4-4zM1241 1661l4 4-4 4-4-4zM1260 1605l4 4-4 4-4-4zM1249 1621l4 4-4 4-4-4zM1283 1702l4 4-4 4-4-4zM1278 1612l4 4-4 4-4-4zM1255 1650l4 4-4 4-4-4zM1256 1695l4 4-4 4-4-4zM1210 1675l4 4-4 4-4-4zM1226 1608l4 4-4 4-4-4zM1237 1689l4 4-4 4-4-4zM1248 1618l4 4-4 4-4-4zM1224 1677l4 4-4 4-4-4zM1222 1687l4 4-4 4-4-4zM1247 1603l4 4-4 4-4-4zM1266 1608l4 4-4 4-4-4zM1205 1650l4 4-4 4-4-4zM1278 1636l4 4-4 4-4-4zM1223 1700l4 4-4 4-4-4zM1254 1617l4 4-4 4-4-4zM1266 1685l4 4-4 4-4-4zM1272 1603l4 4-4 4-4-4zM1260 1618l4 4-4 4-4-4zM1245 1696l4 4-4 4-4-4zM1230 1595l4 4-4 4-4-4zM1238 1607l4 4-4 4-4-4zM1297 1590l4 4-4 4-4-4zM1198 1672l4 4-4 4-4-4zM1209 1659l4 4-4 4-4-4zM1247 1664l4 4-4 4-4-4zM1227 1688l4 4-4 4-4-4zM1227 1695l4 4-4 4-4-4zM1233 1614l4 4-4 4-4-4zM1243 1668l4 4-4 4-4-4zM1221 1636l4 4-4 4-4-4zM1290 1674l4 4-4 4-4-4zM1289 1692l4 4-4 4-4-4zM1268 1682l4 4-4 4-4-4zM1272 1684l4 4-4 4-4-4zM1260 1693l4 4-4 4-4-4zM1263 1686l4 4-4 4-4-4zM1306 1605l4 4-4 4-4-4zM1205 1666l4 4-4 4-4-4zM1276 1658l4 4-4 4-4-4zM1212 1612l4 4-4 4-4-4zM1293 1663l4 4-4 4-4-4zM1267 1606l4 4-4 4-4-4zM1222 1597l4 4-4 4-4-4zM1220 1669l4 4-4 4-4-4zM1271 1640l4 4-4 4-4-4zM1225 1612l4 4-4 4-4-4zM1265 1696l4 4-4 4-4-4zM1284 1599l4 4-4 4-4-4zM1291 1625l4 4-4 4-4-4zM1210 1696l4 4-4 4-4-4zM1208 1692l4 4-4 4-4-4zM1265 1594l4 4-4 4-4-4zM1223 1645l4 4-4 4-4-4zM1224 1615l4 4-4 4-4-4zM1296 1641l4 4-4 4-4-4zM1291 1665l4 4-4 4-4-4zM1339 1620l4 4-4 4-4-4zM1388 1631l4 4-4 4-4-4zM1307 1659l4 4-4 4-4-4zM1331 1698l4 4-4 4-4-4zM1339 1612l4 4-4 4-4-4zM1378 1633l4 4-4 4-4-4zM1352 1654l4 4-4 4-4-4zM1401 1663l4 4-4 4-4-4zM1370 1653l4 4-4 4-4-4zM1407 1600l4 4-4 4-4-4zM1379 1668l4 4-4 4-4-4zM1381 1603l4 4-4 4-4-4zM1322 1649l4 4-4 4-4-4zM1358 1618l4 4-4 4-4-4zM1367 1607l4 4-4 4-4-4zM1337 1620l4 4-4 4-4-4zM1400 1685l4 4-4 4-4-4zM1322 1676l4 4-4 4-4-4zM1341 1605l4 4-4 4-4-4zM1350 1644l4 4-4 4-4-4zM1364 1616l4 4-4 4-4-4zM1321 1690l4 4-4 4-4-4zM1371 1616l4 4-4 4-4-4zM1330 1687l4 4-4 4-4-4zM1332 1645l4 4-4 4-4-4zM1361 1614l4 4-4 4-4-4zM1331 1626l4 4-4 4-4-4zM1326 1642l4 4-4 4-4-4zM1326 1678l4 4-4 4-4-4zM1368 1686l4 4-4 4-4-4zM1323 1621l4 4-4 4-4-4zM1361 1638l4 4-4 4-4-4zM1403 1638l4 4-4 4-4-4zM1287 1660l4 4-4 4-4-4zM1337 1666l4 4-4 4-4-4zM1385 1685l4 4-4 4-4-4zM1306 1638l4 4-4 4-4-4zM1347 1615l4 4-4 4-4-4zM1303 1627l4 4-4 4-4-4zM1377 1653l4 4-4 4-4-4zM1325 1673l4 4-4 4-4-4zM1380 1670l4 4-4 4-4-4zM1371 1620l4 4-4 4-4-4zM1345 1643l4 4-4 4-4-4zM1320 1610l4 4-4 4-4-4zM1326 1606l4 4-4 4-4-4zM1347 1676l4 4-4 4-4-4zM1305 1608l4 4-4 4-4-4zM1325 1609l4 4-4 4-4-4zM1323 1657l4 4-4 4-4-4zM1493 1631l4 4-4 4-4-4zM1460 1685l4 4-4 4-4-4zM1410 1644l4 4-4 4-4-4zM1422 1655l4 4-4 4-4-4zM1412 1665l4 4-4 4-4-4zM1457 1650l4 4-4 4-4-4zM1511 1685l4 4-4 4-4-4zM1476 1643l4 4-4 4-4-4zM1457 1685l4 4-4 4-4-4zM1426 1684l4 4-4 4-4-4zM1465 1633l4 4-4 4-4-4zM1405 1646l4 4-4 4-4-4zM1443 1686l4 4-4 4-4-4zM1421 1678l4 4-4 4-4-4zM1412 1663l4 4-4 4-4-4zM1437 1583l4 4-4 4-4-4zM1409 1648l4 4-4 4-4-4zM1456 1652l4 4-4 4-4-4zM1494 1673l4 4-4 4-4-4zM1462 1640l4 4-4 4-4-4zM1445 1598l4 4-4 4-4-4zM1486 1586l4 4-4 4-4-4zM1423 1645l4 4-4 4-4-4zM1481 1681l4 4-4 4-4-4zM1430 1682l4 4-4 4-4-4zM1487 1636l4 4-4 4-4-4zM1443 1688l4 4-4 4-4-4zM1484 1649l4 4-4 4-4-4zM1431 1677l4 4-4 4-4-4zM1408 1641l4 4-4 4-4-4zM1447 1695l4 4-4 4-4-4zM1422 1686l4 4-4 4-4-4zM1480 1693l4 4-4 4-4-4zM1396 1687l4 4-4 4-4-4zM1505 1659l4 4-4 4-4-4zM722 1749l4 4-4 4-4-4zM893 1764l4 4-4 4-4-4zM921 1801l4 4-4 4-4-4zM945 1775l4 4-4 4-4-4zM918 1783l4 4-4 4-4-4zM1057 1711l4 4-4 4-4-4zM1044 1731l4 4-4 4-4-4zM1065 1778l4 4-4 4-4-4zM1009 1791l4 4-4 4-4-4zM1059 1771l4 4-4 4-4-4zM1025 1690l4 4-4 4-4-4zM1087 1773l4 4-4 4-4-4zM1065 1755l4 4-4 4-4-4zM1039 1732l4 4-4 4-4-4zM1097 1721l4 4-4 4-4-4zM1091 1768l4 4-4 4-4-4zM1093 1740l4 4-4 4-4-4zM1094 1692l4 4-4 4-4-4zM1083 1796l4 4-4 4-4-4zM1026 1803l4 4-4 4-4-4zM1075 1716l4 4-4 4-4-4zM1062 1702l4 4-4 4-4-4zM1022 1754l4 4-4 4-4-4zM1052 1715l4 4-4 4-4-4zM1008 1785l4 4-4 4-4-4zM1096 1704l4 4-4 4-4-4zM1099 1748l4 4-4 4-4-4zM1041 1743l4 4-4 4-4-4zM1048 1745l4 4-4 4-4-4zM1045 1706l4 4-4 4-4-4zM1152 1787l4 4-4 4-4-4zM1114 1745l4 4-4 4-4-4zM1175 1779l4 4-4 4-4-4zM1196 1696l4 4-4 4-4-4zM1161 1779l4 4-4 4-4-4zM1089 1792l4 4-4 4-4-4zM1157 1747l4 4-4 4-4-4zM1188 1749l4 4-4 4-4-4zM1169 1739l4 4-4 4-4-4zM1115 1720l4 4-4 4-4-4zM1148 1700l4 4-4 4-4-4zM1154 1733l4 4-4 4-4-4zM1181 1781l4 4-4 4-4-4zM1120 1776l4 4-4 4-4-4zM1184 1705l4 4-4 4-4-4zM1174 1705l4 4-4 4-4-4zM1178 1776l4 4-4 4-4-4zM1081 1779l4 4-4 4-4-4zM1127 1799l4 4-4 4-4-4zM1162 1725l4 4-4 4-4-4zM1132 1726l4 4-4 4-4-4zM1110 1794l4 4-4 4-4-4zM1171 1779l4 4-4 4-4-4zM1190 1765l4 4-4 4-4-4zM1184 1696l4 4-4 4-4-4zM1169 1773l4 4-4 4-4-4zM1134 1754l4 4-4 4-4-4zM1099 1783l4 4-4 4-4-4zM1199 1778l4 4-4 4-4-4zM1117 1761l4 4-4 4-4-4zM1151 1696l4 4-4 4-4-4zM1133 1736l4 4-4 4-4-4zM1130 1695l4 4-4 4-4-4zM1206 1741l4 4-4 4-4-4zM1137 1762l4 4-4 4-4-4zM1180 1766l4 4-4 4-4-4zM1202 1694l4 4-4 4-4-4zM1100 1771l4 4-4 4-4-4zM1163 1762l4 4-4 4-4-4zM1202 1762l4 4-4 4-4-4zM1142 1706l4 4-4 4-4-4zM1109 1703l4 4-4 4-4-4zM1267 1764l4 4-4 4-4-4zM1194 1781l4 4-4 4-4-4zM1241 1764l4 4-4 4-4-4zM1216 1718l4 4-4 4-4-4zM1262 1802l4 4-4 4-4-4zM1226 1725l4 4-4 4-4-4zM1280 1760l4 4-4 4-4-4zM1263 1704l4 4-4 4-4-4zM1263 1721l4 4-4 4-4-4zM1273 1739l4 4-4 4-4-4zM1292 1730l4 4-4 4-4-4zM1291 1725l4 4-4 4-4-4zM1290 1799l4 4-4 4-4-4zM1205 1772l4 4-4 4-4-4zM1238 1710l4 4-4 4-4-4zM1194 1745l4 4-4 4-4-4zM1289 1729l4 4-4 4-4-4zM1298 1789l4 4-4 4-4-4zM1221 1776l4 4-4 4-4-4zM1276 1763l4 4-4 4-4-4zM1227 1700l4 4-4 4-4-4zM1227 1724l4 4-4 4-4-4zM1233 1786l4 4-4 4-4-4zM1252 1793l4 4-4 4-4-4zM1218 1796l4 4-4 4-4-4zM1282 1735l4 4-4 4-4-4zM1285 1739l4 4-4 4-4-4zM1239 1703l4 4-4 4-4-4zM1296 1777l4 4-4 4-4-4zM1222 1732l4 4-4 4-4-4zM1282 1697l4 4-4 4-4-4zM1211 1718l4 4-4 4-4-4zM1221 1780l4 4-4 4-4-4zM1284 1793l4 4-4 4-4-4zM1238 1718l4 4-4 4-4-4zM1226 1762l4 4-4 4-4-4zM1256 1724l4 4-4 4-4-4zM1211 1743l4 4-4 4-4-4zM1270 1736l4 4-4 4-4-4zM1276 1726l4 4-4 4-4-4zM1262 1751l4 4-4 4-4-4zM1246 1708l4 4-4 4-4-4zM1315 1747l4 4-4 4-4-4zM1357 1780l4 4-4 4-4-4zM1383 1725l4 4-4 4-4-4zM1379 1781l4 4-4 4-4-4zM1326 1719l4 4-4 4-4-4zM1344 1723l4 4-4 4-4-4zM1396 1726l4 4-4 4-4-4zM1376 1796l4 4-4 4-4-4zM1304 1740l4 4-4 4-4-4zM1364 1799l4 4-4 4-4-4zM1350 1701l4 4-4 4-4-4zM1356 1708l4 4-4 4-4-4zM1374 1696l4 4-4 4-4-4zM1353 1706l4 4-4 4-4-4zM1328 1725l4 4-4 4-4-4zM1292 1712l4 4-4 4-4-4zM1391 1719l4 4-4 4-4-4zM1355 1782l4 4-4 4-4-4zM1385 1757l4 4-4 4-4-4zM1334 1701l4 4-4 4-4-4zM1379 1742l4 4-4 4-4-4zM1299 1711l4 4-4 4-4-4zM1350 1691l4 4-4 4-4-4zM1338 1729l4 4-4 4-4-4zM1389 1721l4 4-4 4-4-4zM1364 1698l4 4-4 4-4-4zM1374 1729l4 4-4 4-4-4zM1313 1728l4 4-4 4-4-4zM1465 1725l4 4-4 4-4-4zM1410 1745l4 4-4 4-4-4zM1477 1774l4 4-4 4-4-4zM1440 1709l4 4-4 4-4-4zM1392 1786l4 4-4 4-4-4zM1441 1717l4 4-4 4-4-4zM1456 1732l4 4-4 4-4-4zM1439 1775l4 4-4 4-4-4zM1476 1759l4 4-4 4-4-4zM1436 1779l4 4-4 4-4-4zM1417 1713l4 4-4 4-4-4zM1471 1769l4 4-4 4-4-4zM1493 1737l4 4-4 4-4-4zM1452 1729l4 4-4 4-4-4zM1400 1750l4 4-4 4-4-4zM1414 1719l4 4-4 4-4-4zM1478 1697l4 4-4 4-4-4zM1469 1790l4 4-4 4-4-4zM1425 1746l4 4-4 4-4-4zM1429 1719l4 4-4 4-4-4zM1425 1749l4 4-4 4-4-4zM913 1892l4 4-4 4-4-4zM1069 1850l4 4-4 4-4-4zM1033 1879l4 4-4 4-4-4zM1024 1870l4 4-4 4-4-4zM1047 1830l4 4-4 4-4-4zM1025 1819l4 4-4 4-4-4zM1050 1883l4 4-4 4-4-4zM1079 1857l4 4-4 4-4-4zM1031 1820l4 4-4 4-4-4zM1059 1815l4 4-4 4-4-4zM1008 1873l4 4-4 4-4-4zM1027 1875l4 4-4 4-4-4zM1093 1893l4 4-4 4-4-4zM1054 1840l4 4-4 4-4-4zM1026 1845l4 4-4 4-4-4zM1145 1820l4 4-4 4-4-4zM1173 1876l4 4-4 4-4-4zM1175 1836l4 4-4 4-4-4zM1186 1810l4 4-4 4-4-4zM1147 1804l4 4-4 4-4-4zM1165 1881l4 4-4 4-4-4zM1162 1845l4 4-4 4-4-4zM1170 1847l4 4-4 4-4-4zM1187 1880l4 4-4 4-4-4zM1184 1852l4 4-4 4-4-4zM1192 1863l4 4-4 4-4-4zM1120 1898l4 4-4 4-4-4zM1202 1891l4 4-4 4-4-4zM1163 1822l4 4-4 4-4-4zM1196 1880l4 4-4 4-4-4zM1175 1808l4 4-4 4-4-4zM1163 1822l4 4-4 4-4-4zM1152 1862l4 4-4 4-4-4zM1149 1841l4 4-4 4-4-4zM1156 1814l4 4-4 4-4-4zM1188 1836l4 4-4 4-4-4zM1129 1888l4 4-4 4-4-4zM1129 1821l4 4-4 4-4-4zM1153 1845l4 4-4 4-4-4zM1138 1815l4 4-4 4-4-4zM1113 1795l4 4-4 4-4-4zM1096 1821l4 4-4 4-4-4zM1136 1837l4 4-4 4-4-4zM1232 1854l4 4-4 4-4-4zM1230 1830l4 4-4 4-4-4zM1274 1808l4 4-4 4-4-4zM1276 1817l4 4-4 4-4-4zM1241 1905l4 4-4 4-4-4zM1237 1816l4 4-4 4-4-4zM1281 1811l4 4-4 4-4-4zM1254 1862l4 4-4 4-4-4zM1294 1847l4 4-4 4-4-4zM1233 1822l4 4-4 4-4-4zM1240 1836l4 4-4 4-4-4zM1293 1867l4 4-4 4-4-4zM1209 1796l4 4-4 4-4-4zM1238 1840l4 4-4 4-4-4zM1271 1821l4 4-4 4-4-4zM1280 1889l4 4-4 4-4-4zM1277 1885l4 4-4 4-4-4zM1269 1832l4 4-4 4-4-4zM1266 1876l4 4-4 4-4-4zM1220 1870l4 4-4 4-4-4zM1206 1869l4 4-4 4-4-4zM1210 1815l4 4-4 4-4-4zM1226 1879l4 4-4 4-4-4zM1216 1800l4 4-4 4-4-4zM1230 1886l4 4-4 4-4-4zM1214 1826l4 4-4 4-4-4zM1275 1808l4 4-4 4-4-4zM1255 1804l4 4-4 4-4-4zM1199 1858l4 4-4 4-4-4zM1207 1849l4 4-4 4-4-4zM1260 1850l4 4-4 4-4-4zM1366 1826l4 4-4 4-4-4zM1318 1792l4 4-4 4-4-4zM1404 1888l4 4-4 4-4-4zM1375 1887l4 4-4 4-4-4zM1340 1839l4 4-4 4-4-4zM1392 1823l4 4-4 4-4-4zM1368 1877l4 4-4 4-4-4zM1318 1811l4 4-4 4-4-4zM1346 1882l4 4-4 4-4-4zM1372 1822l4 4-4 4-4-4zM1303 1893l4 4-4 4-4-4zM1336 1806l4 4-4 4-4-4zM1342 1820l4 4-4 4-4-4zM1322 1869l4 4-4 4-4-4zM1329 1795l4 4-4 4-4-4zM1418 1825l4 4-4 4-4-4zM1403 1871l4 4-4 4-4-4zM1293 1803l4 4-4 4-4-4zM1316 1865l4 4-4 4-4-4zM1342 1875l4 4-4 4-4-4zM1360 1810l4 4-4 4-4-4zM1455 1863l4 4-4 4-4-4zM1495 1846l4 4-4 4-4-4zM1494 1822l4 4-4 4-4-4zM1480 1816l4 4-4 4-4-4zM1477 1845l4 4-4 4-4-4zM1497 1882l4 4-4 4-4-4zM1406 1855l4 4-4 4-4-4zM1462 1834l4 4-4 4-4-4zM1425 1881l4 4-4 4-4-4zM1418 1795l4 4-4 4-4-4zM1432 1872l4 4-4 4-4-4zM1434 1824l4 4-4 4-4-4zM1440 1902l4 4-4 4-4-4zM1424 1883l4 4-4 4-4-4zM1432 1829l4 4-4 4-4-4zM1425 1852l4 4-4 4-4-4zM1469 1861l4 4-4 4-4-4zM959 1917l4 4-4 4-4-4zM929 1948l4 4-4 4-4-4zM889 1969l4 4-4 4-4-4zM905 1906l4 4-4 4-4-4zM1038 1974l4 4-4 4-4-4zM996 1985l4 4-4 4-4-4zM1048 1990l4 4-4 4-4-4zM1010 1902l4 4-4 4-4-4zM1064 1914l4 4-4 4-4-4zM1088 1928l4 4-4 4-4-4zM1025 1967l4 4-4 4-4-4zM1051 1958l4 4-4 4-4-4zM1063 1982l4 4-4 4-4-4zM1047 1972l4 4-4 4-4-4zM1086 1949l4 4-4 4-4-4zM1095 1914l4 4-4 4-4-4zM1079 1931l4 4-4 4-4-4zM1032 1981l4 4-4 4-4-4zM1104 1984l4 4-4 4-4-4zM1134 1956l4 4-4 4-4-4zM1142 1897l4 4-4 4-4-4zM1139 1976l4 4-4 4-4-4zM1125 1967l4 4-4 4-4-4zM1157 1924l4 4-4 4-4-4zM1116 1959l4 4-4 4-4-4zM1196 1965l4 4-4 4-4-4zM1166 1942l4 4-4 4-4-4zM1179 1963l4 4-4 4-4-4zM1187 1921l4 4-4 4-4-4zM1191 1964l4 4-4 4-4-4zM1118 1902l4 4-4 4-4-4zM1147 1936l4 4-4 4-4-4zM1117 1921l4 4-4 4-4-4zM1206 1948l4 4-4 4-4-4zM1126 1999l4 4-4 4-4-4zM1138 1890l4 4-4 4-4-4zM1168 1969l4 4-4 4-4-4zM1209 1916l4 4-4 4-4-4zM1096 1971l4 4-4 4-4-4zM1170 1984l4 4-4 4-4-4zM1137 1999l4 4-4 4-4-4zM1156 1906l4 4-4 4-4-4zM1174 1982l4 4-4 4-4-4zM1162 1932l4 4-4 4-4-4zM1142 1994l4 4-4 4-4-4zM1166 1934l4 4-4 4-4-4zM1103 1998l4 4-4 4-4-4zM1142 1900l4 4-4 4-4-4zM1184 1993l4 4-4 4-4-4zM1166 1984l4 4-4 4-4-4zM1207 1941l4 4-4 4-4-4zM1153 1963l4 4-4 4-4-4zM1132 1960l4 4-4 4-4-4zM1257 1941l4 4-4 4-4-4zM1268 1918l4 4-4 4-4-4zM1283 1898l4 4-4 4-4-4zM1237 1939l4 4-4 4-4-4zM1284 1967l4 4-4 4-4-4zM1279 1937l4 4-4 4-4-4zM1299 1913l4 4-4 4-4-4zM1273 1956l4 4-4 4-4-4zM1293 1919l4 4-4 4-4-4zM1230 1923l4 4-4 4-4-4zM1245 1948l4 4-4 4-4-4zM1263 1994l4 4-4 4-4-4zM1282 1928l4 4-4 4-4-4zM1258 1914l4 4-4 4-4-4zM1238 1998l4 4-4 4-4-4zM1274 1955l4 4-4 4-4-4zM1266 1952l4 4-4 4-4-4zM1226 1913l4 4-4 4-4-4zM1211 1974l4 4-4 4-4-4zM1279 1893l4 4-4 4-4-4zM1306 1933l4 4-4 4-4-4zM1258 1932l4 4-4 4-4-4zM1264 1954l4 4-4 4-4-4zM1258 1909l4 4-4 4-4-4zM1225 1915l4 4-4 4-4-4zM1289 1952l4 4-4 4-4-4zM1230 1984l4 4-4 4-4-4zM1200 1941l4 4-4 4-4-4zM1200 1901l4 4-4 4-4-4zM1206 1963l4 4-4 4-4-4zM1220 1919l4 4-4 4-4-4zM1258 1930l4 4-4 4-4-4zM1251 1945l4 4-4 4-4-4zM1212 1999l4 4-4 4-4-4zM1285 1941l4 4-4 4-4-4zM1291 1964l4 4-4 4-4-4zM1185 1920l4 4-4 4-4-4zM1289 1941l4 4-4 4-4-4zM1215 1916l4 4-4 4-4-4zM1210 1903l4 4-4 4-4-4zM1253 1966l4 4-4 4-4-4zM1246 1910l4 4-4 4-4-4zM1346 1992l4 4-4 4-4-4zM1345 1930l4 4-4 4-4-4zM1317 1939l4 4-4 4-4-4zM1390 1905l4 4-4 4-4-4zM1288 1940l4 4-4 4-4-4zM1296 1934l4 4-4 4-4-4zM1380 1988l4 4-4 4-4-4zM1356 1968l4 4-4 4-4-4zM1400 1922l4 4-4 4-4-4zM1372 1917l4 4-4 4-4-4zM1315 1967l4 4-4 4-4-4zM1349 1945l4 4-4 4-4-4zM1305 1922l4 4-4 4-4-4zM1329 1922l4 4-4 4-4-4zM1309 1920l4 4-4 4-4-4zM1297 1901l4 4-4 4-4-4zM1357 1993l4 4-4 4-4-4zM1343 1924l4 4-4 4-4-4zM1306 1988l4 4-4 4-4-4zM1362 1974l4 4-4 4-4-4zM1302 1978l4 4-4 4-4-4zM1340 1924l4 4-4 4-4-4zM1327 1961l4 4-4 4-4-4zM1313 1941l4 4-4 4-4-4zM1340 1990l4 4-4 4-4-4zM1382 1887l4 4-4 4-4-4zM1347 1972l4 4-4 4-4-4zM1322 1941l4 4-4 4-4-4zM1325 1980l4 4-4 4-4-4zM1372 1910l4 4-4 4-4-4zM1360 1926l4 4-4 4-4-4zM1328 1957l4 4-4 4-4-4zM1377 1891l4 4-4 4-4-4zM1301 1966l4 4-4 4-4-4zM1337 1907l4 4-4 4-4-4zM1330 1995l4 4-4 4-4-4zM1395 1934l4 4-4 4-4-4zM1351 1940l4 4-4 4-4-4zM1398 1943l4 4-4 4-4-4zM1367 1913l4 4-4 4-4-4zM1351 1921l4 4-4 4-4-4zM1329 1946l4 4-4 4-4-4zM1451 1939l4 4-4 4-4-4zM1466 1971l4 4-4 4-4-4zM1407 1988l4 4-4 4-4-4zM1487 1908l4 4-4 4-4-4zM1446 1950l4 4-4 4-4-4zM1494 1932l4 4-4 4-4-4zM1416 1984l4 4-4 4-4-4zM1423 1969l4 4-4 4-4-4zM1465 1931l4 4-4 4-4-4zM1443 1937l4 4-4 4-4-4zM1486 1911l4 4-4 4-4-4zM1447 1936l4 4-4 4-4-4zM1396 1920l4 4-4 4-4-4zM1451 1950l4 4-4 4-4-4zM1437 1910l4 4-4 4-4-4zM1417 1934l4 4-4 4-4-4zM1428 1944l4 4-4 4-4-4zM1478 1935l4 4-4 4-4-4zM1419 1898l4 4-4 4-4-4zM1429 1957l4 4-4 4-4-4zM1426 1947l4 4-4 4-4-4zM1449 1928l4 4-4 4-4-4zM1428 1990l4 4-4 4-4-4zM1472 1896l4 4-4 4-4-4zM1482 1893l4 4-4 4-4-4zM1477 1948l4 4-4 4-4-4zM1441 1988l4 4-4 4-4-4zM1483 1964l4 4-4 4-4-4zM1535 1229l4 4-4 4-4-4zM1512 1222l4 4-4 4-4-4zM1497 1241l4 4-4 4-4-4zM1517 1219l4 4-4 4-4-4zM1559 1292l4 4-4 4-4-4zM1589 1237l4 4-4 4-4-4zM1590 1280l4 4-4 4-4-4zM1528 1283l4 4-4 4-4-4zM1579 1251l4 4-4 4-4-4zM1517 1214l4 4-4 4-4-4zM1550 1260l4 4-4 4-4-4zM1535 1261l4 4-4 4-4-4zM1528 1235l4 4-4 4-4-4zM1572 1183l4 4-4 4-4-4zM1544 1204l4 4-4 4-4-4zM1586 1275l4 4-4 4-4-4zM1529 1224l4 4-4 4-4-4zM1603 1246l4 4-4 4-4-4zM1535 1253l4 4-4 4-4-4zM1555 1272l4 4-4 4-4-4zM1589 1248l4 4-4 4-4-4zM1560 1247l4 4-4 4-4-4zM1556 1247l4 4-4 4-4-4zM1523 1213l4 4-4 4-4-4zM1554 1234l4 4-4 4-4-4zM1537 1280l4 4-4 4-4-4zM1539 1208l4 4-4 4-4-4zM1542 1266l4 4-4 4-4-4zM1515 1202l4 4-4 4-4-4zM1571 1306l4 4-4 4-4-4zM1515 1282l4 4-4 4-4-4zM1523 1239l4 4-4 4-4-4zM1571 1191l4 4-4 4-4-4zM1558 1235l4 4-4 4-4-4zM1585 1231l4 4-4 4-4-4zM1545 1209l4 4-4 4-4-4zM1527 1256l4 4-4 4-4-4zM1577 1244l4 4-4 4-4-4zM1532 1246l4 4-4 4-4-4zM1525 1284l4 4-4 4-4-4zM1553 1204l4 4-4 4-4-4zM1498 1282l4 4-4 4-4-4zM1555 1225l4 4-4 4-4-4zM1497 1224l4 4-4 4-4-4zM1579 1255l4 4-4 4-4-4zM1526 1226l4 4-4 4-4-4zM1535 1233l4 4-4 4-4-4zM1509 1263l4 4-4 4-4-4zM1573 1284l4 4-4 4-4-4zM1514 1225l4 4-4 4-4-4zM1526 1232l4 4-4 4-4-4zM1541 1240l4 4-4 4-4-4zM1541 1244l4 4-4 4-4-4zM1588 1205l4 4-4 4-4-4zM1584 1256l4 4-4 4-4-4zM1564 1252l4 4-4 4-4-4zM1539 1300l4 4-4 4-4-4zM1596 1225l4 4-4 4-4-4zM1525 1262l4 4-4 4-4-4zM1560 1229l4 4-4 4-4-4zM1589 1214l4 4-4 4-4-4zM1530 1198l4 4-4 4-4-4zM1554 1207l4 4-4 4-4-4zM1541 1237l4 4-4 4-4-4zM1540 1293l4 4-4 4-4-4zM1512 1202l4 4-4 4-4-4zM1584 1260l4 4-4 4-4-4zM1597 1238l4 4-4 4-4-4zM1572 1282l4 4-4 4-4-4zM1559 1269l4 4-4 4-4-4zM1511 1223l4 4-4 4-4-4zM1580 1231l4 4-4 4-4-4zM1583 1288l4 4-4 4-4-4zM1591 1273l4 4-4 4-4-4zM1537 1233l4 4-4 4-4-4zM1540 1220l4 4-4 4-4-4zM1537 1216l4 4-4 4-4-4zM1586 1255l4 4-4 4-4-4zM1544 1227l4 4-4 4-4-4zM1579 1272l4 4-4 4-4-4zM1515 1212l4 4-4 4-4-4zM1495 1208l4 4-4 4-4-4zM1563 1277l4 4-4 4-4-4zM1561 1283l4 4-4 4-4-4zM1548 1191l4 4-4 4-4-4zM1525 1225l4 4-4 4-4-4zM1516 1233l4 4-4 4-4-4zM1565 1244l4 4-4 4-4-4zM1502 1219l4 4-4 4-4-4zM1563 1221l4 4-4 4-4-4zM1664 1272l4 4-4 4-4-4zM1691 1245l4 4-4 4-4-4zM1603 1210l4 4-4 4-4-4zM1670 1299l4 4-4 4-4-4zM1601 1267l4 4-4 4-4-4zM1695 1229l4 4-4 4-4-4zM1606 1287l4 4-4 4-4-4zM1625 1271l4 4-4 4-4-4zM1676 1291l4 4-4 4-4-4zM1690 1259l4 4-4 4-4-4zM1653 1187l4 4-4 4-4-4zM1632 1273l4 4-4 4-4-4zM1626 1232l4 4-4 4-4-4zM1625 1200l4 4-4 4-4-4zM1614 1217l4 4-4 4-4-4zM1637 1204l4 4-4 4-4-4zM1684 1231l4 4-4 4-4-4zM1646 1275l4 4-4 4-4-4zM1604 1293l4 4-4 4-4-4zM1647 1282l4 4-4 4-4-4zM1657 1292l4 4-4 4-4-4zM1646 1276l4 4-4 4-4-4zM1667 1234l4 4-4 4-4-4zM1654 1230l4 4-4 4-4-4zM1650 1213l4 4-4 4-4-4zM1686 1211l4 4-4 4-4-4zM1614 1280l4 4-4 4-4-4zM1702 1284l4 4-4 4-4-4zM1685 1275l4 4-4 4-4-4zM1607 1224l4 4-4 4-4-4zM1668 1220l4 4-4 4-4-4zM1674 1214l4 4-4 4-4-4zM1679 1215l4 4-4 4-4-4zM1631 1248l4 4-4 4-4-4zM1644 1200l4 4-4 4-4-4zM1639 1233l4 4-4 4-4-4zM1609 1279l4 4-4 4-4-4zM1611 1223l4 4-4 4-4-4zM1678 1255l4 4-4 4-4-4zM1704 1267l4 4-4 4-4-4zM1699 1194l4 4-4 4-4-4zM1652 1237l4 4-4 4-4-4zM1672 1256l4 4-4 4-4-4zM1666 1250l4 4-4 4-4-4zM1651 1267l4 4-4 4-4-4zM1691 1279l4 4-4 4-4-4zM1643 1271l4 4-4 4-4-4zM1667 1224l4 4-4 4-4-4zM1675 1234l4 4-4 4-4-4zM1689 1292l4 4-4 4-4-4zM1646 1263l4 4-4 4-4-4zM1659 1272l4 4-4 4-4-4zM1686 1278l4 4-4 4-4-4zM1687 1249l4 4-4 4-4-4zM1603 1202l4 4-4 4-4-4zM1685 1298l4 4-4 4-4-4zM1691 1236l4 4-4 4-4-4zM1618 1197l4 4-4 4-4-4zM1622 1230l4 4-4 4-4-4zM1657 1230l4 4-4 4-4-4zM1689 1206l4 4-4 4-4-4zM1603 1215l4 4-4 4-4-4zM1684 1252l4 4-4 4-4-4zM1711 1274l4 4-4 4-4-4zM1610 1260l4 4-4 4-4-4zM1650 1237l4 4-4 4-4-4zM1661 1207l4 4-4 4-4-4zM1668 1228l4 4-4 4-4-4zM1692 1231l4 4-4 4-4-4zM1640 1217l4 4-4 4-4-4zM1638 1262l4 4-4 4-4-4zM1630 1247l4 4-4 4-4-4zM1662 1267l4 4-4 4-4-4zM1607 1279l4 4-4 4-4-4zM1603 1216l4 4-4 4-4-4zM1605 1199l4 4-4 4-4-4zM1695 1219l4 4-4 4-4-4zM1643 1279l4 4-4 4-4-4zM1656 1272l4 4-4 4-4-4zM1659 1207l4 4-4 4-4-4zM1673 1296l4 4-4 4-4-4zM1678 1266l4 4-4 4-4-4zM1697 1230l4 4-4 4-4-4zM1620 1211l4 4-4 4-4-4zM1621 1268l4 4-4 4-4-4zM1586 1282l4 4-4 4-4-4zM1667 1267l4 4-4 4-4-4zM1644 1260l4 4-4 4-4-4zM1674 1249l4 4-4 4-4-4zM1643 1283l4 4-4 4-4-4zM1605 1237l4 4-4 4-4-4zM1662 1279l4 4-4 4-4-4zM1612 1239l4 4-4 4-4-4zM1657 1212l4 4-4 4-4-4zM1662 1234l4 4-4 4-4-4zM1668 1210l4 4-4 4-4-4zM1667 1224l4 4-4 4-4-4zM1694 1269l4 4-4 4-4-4zM1640 1219l4 4-4 4-4-4zM1625 1301l4 4-4 4-4-4zM1739 1254l4 4-4 4-4-4zM1772 1273l4 4-4 4-4-4zM1781 1217l4 4-4 4-4-4zM1716 1261l4 4-4 4-4-4zM1706 1184l4 4-4 4-4-4zM1704 1193l4 4-4 4-4-4zM1723 1205l4 4-4 4-4-4zM1708 1286l4 4-4 4-4-4zM1787 1232l4 4-4 4-4-4zM1705 1205l4 4-4 4-4-4zM1762 1229l4 4-4 4-4-4zM1739 1240l4 4-4 4-4-4zM1745 1224l4 4-4 4-4-4zM1730 1208l4 4-4 4-4-4zM1716 1230l4 4-4 4-4-4zM1721 1195l4 4-4 4-4-4zM1709 1219l4 4-4 4-4-4zM1755 1256l4 4-4 4-4-4zM1764 1279l4 4-4 4-4-4zM1759 1217l4 4-4 4-4-4zM1791 1286l4 4-4 4-4-4zM1789 1288l4 4-4 4-4-4zM1715 1226l4 4-4 4-4-4zM1758 1215l4 4-4 4-4-4zM1736 1257l4 4-4 4-4-4zM1767 1245l4 4-4 4-4-4zM1802 1244l4 4-4 4-4-4zM1721 1240l4 4-4 4-4-4zM1737 1213l4 4-4 4-4-4zM1726 1278l4 4-4 4-4-4zM1802 1254l4 4-4 4-4-4zM1749 1213l4 4-4 4-4-4zM1710 1254l4 4-4 4-4-4zM1781 1284l4 4-4 4-4-4zM1757 1277l4 4-4 4-4-4zM1748 1249l4 4-4 4-4-4zM1771 1267l4 4-4 4-4-4zM1710 1285l4 4-4 4-4-4zM1754 1258l4 4-4 4-4-4zM1708 1245l4 4-4 4-4-4zM1825 1225l4 4-4 4-4-4zM1842 1268l4 4-4 4-4-4zM1823 1234l4 4-4 4-4-4zM1880 1244l4 4-4 4-4-4zM1878 1270l4 4-4 4-4-4zM1807 1233l4 4-4 4-4-4zM1840 1265l4 4-4 4-4-4zM1802 1273l4 4-4 4-4-4zM1863 1273l4 4-4 4-4-4zM1883 1260l4 4-4 4-4-4zM1849 1263l4 4-4 4-4-4zM1887 1243l4 4-4 4-4-4zM1809 1218l4 4-4 4-4-4zM1826 1205l4 4-4 4-4-4zM1840 1295l4 4-4 4-4-4zM1896 1261l4 4-4 4-4-4zM1881 1263l4 4-4 4-4-4zM1832 1280l4 4-4 4-4-4zM1824 1206l4 4-4 4-4-4zM1852 1279l4 4-4 4-4-4zM1851 1243l4 4-4 4-4-4zM1873 1254l4 4-4 4-4-4zM1805 1274l4 4-4 4-4-4zM1809 1270l4 4-4 4-4-4zM1827 1231l4 4-4 4-4-4zM1863 1273l4 4-4 4-4-4zM1907 1261l4 4-4 4-4-4zM1892 1230l4 4-4 4-4-4zM1994 1224l4 4-4 4-4-4zM1943 1237l4 4-4 4-4-4zM1951 1208l4 4-4 4-4-4zM1973 1253l4 4-4 4-4-4zM1904 1240l4 4-4 4-4-4zM2001 1221l4 4-4 4-4-4zM1959 1218l4 4-4 4-4-4zM1987 1268l4 4-4 4-4-4zM1908 1292l4 4-4 4-4-4zM1965 1238l4 4-4 4-4-4zM1982 1204l4 4-4 4-4-4zM1956 1283l4 4-4 4-4-4zM1961 1277l4 4-4 4-4-4zM1944 1207l4 4-4 4-4-4zM1931 1287l4 4-4 4-4-4zM1953 1232l4 4-4 4-4-4zM1989 1193l4 4-4 4-4-4zM1989 1285l4 4-4 4-4-4zM1910 1252l4 4-4 4-4-4zM1908 1263l4 4-4 4-4-4zM2069 1252l4 4-4 4-4-4zM1536 1328l4 4-4 4-4-4zM1545 1314l4 4-4 4-4-4zM1494 1368l4 4-4 4-4-4zM1509 1354l4 4-4 4-4-4zM1567 1295l4 4-4 4-4-4zM1577 1341l4 4-4 4-4-4zM1543 1304l4 4-4 4-4-4zM1538 1321l4 4-4 4-4-4zM1500 1404l4 4-4 4-4-4zM1578 1379l4 4-4 4-4-4zM1578 1302l4 4-4 4-4-4zM1592 1358l4 4-4 4-4-4zM1578 1398l4 4-4 4-4-4zM1515 1322l4 4-4 4-4-4zM1567 1391l4 4-4 4-4-4zM1554 1304l4 4-4 4-4-4zM1592 1384l4 4-4 4-4-4zM1544 1398l4 4-4 4-4-4zM1544 1334l4 4-4 4-4-4zM1549 1365l4 4-4 4-4-4zM1518 1368l4 4-4 4-4-4zM1573 1391l4 4-4 4-4-4zM1583 1314l4 4-4 4-4-4zM1522 1333l4 4-4 4-4-4zM1545 1349l4 4-4 4-4-4zM1503 1299l4 4-4 4-4-4zM1584 1361l4 4-4 4-4-4zM1596 1342l4 4-4 4-4-4zM1529 1322l4 4-4 4-4-4zM1509 1339l4 4-4 4-4-4zM1544 1348l4 4-4 4-4-4zM1558 1367l4 4-4 4-4-4zM1533 1308l4 4-4 4-4-4zM1573 1322l4 4-4 4-4-4zM1591 1303l4 4-4 4-4-4zM1539 1396l4 4-4 4-4-4zM1589 1294l4 4-4 4-4-4zM1514 1389l4 4-4 4-4-4zM1547 1323l4 4-4 4-4-4zM1490 1342l4 4-4 4-4-4zM1552 1307l4 4-4 4-4-4zM1502 1312l4 4-4 4-4-4zM1568 1311l4 4-4 4-4-4zM1514 1301l4 4-4 4-4-4zM1530 1403l4 4-4 4-4-4zM1571 1305l4 4-4 4-4-4zM1573 1375l4 4-4 4-4-4zM1578 1386l4 4-4 4-4-4zM1577 1368l4 4-4 4-4-4zM1517 1364l4 4-4 4-4-4zM1530 1339l4 4-4 4-4-4zM1547 1365l4 4-4 4-4-4zM1553 1372l4 4-4 4-4-4zM1538 1370l4 4-4 4-4-4zM1545 1370l4 4-4 4-4-4zM1500 1304l4 4-4 4-4-4zM1569 1343l4 4-4 4-4-4zM1564 1378l4 4-4 4-4-4zM1536 1365l4 4-4 4-4-4zM1502 1284l4 4-4 4-4-4zM1544 1317l4 4-4 4-4-4zM1566 1364l4 4-4 4-4-4zM1589 1384l4 4-4 4-4-4zM1527 1340l4 4-4 4-4-4zM1544 1316l4 4-4 4-4-4zM1504 1330l4 4-4 4-4-4zM1543 1336l4 4-4 4-4-4zM1518 1354l4 4-4 4-4-4zM1540 1318l4 4-4 4-4-4zM1560 1335l4 4-4 4-4-4zM1490 1382l4 4-4 4-4-4zM1582 1309l4 4-4 4-4-4zM1537 1364l4 4-4 4-4-4zM1573 1296l4 4-4 4-4-4zM1585 1403l4 4-4 4-4-4zM1606 1352l4 4-4 4-4-4zM1528 1318l4 4-4 4-4-4zM1525 1377l4 4-4 4-4-4zM1504 1311l4 4-4 4-4-4zM1526 1310l4 4-4 4-4-4zM1599 1370l4 4-4 4-4-4zM1508 1338l4 4-4 4-4-4zM1540 1301l4 4-4 4-4-4zM1516 1305l4 4-4 4-4-4zM1601 1389l4 4-4 4-4-4zM1622 1324l4 4-4 4-4-4zM1588 1301l4 4-4 4-4-4zM1626 1324l4 4-4 4-4-4zM1603 1294l4 4-4 4-4-4zM1677 1332l4 4-4 4-4-4zM1665 1317l4 4-4 4-4-4zM1668 1331l4 4-4 4-4-4zM1694 1310l4 4-4 4-4-4zM1672 1320l4 4-4 4-4-4zM1676 1368l4 4-4 4-4-4zM1605 1299l4 4-4 4-4-4zM1699 1346l4 4-4 4-4-4zM1644 1314l4 4-4 4-4-4zM1690 1378l4 4-4 4-4-4zM1626 1349l4 4-4 4-4-4zM1685 1393l4 4-4 4-4-4zM1627 1353l4 4-4 4-4-4zM1594 1294l4 4-4 4-4-4zM1613 1334l4 4-4 4-4-4zM1606 1381l4 4-4 4-4-4zM1692 1294l4 4-4 4-4-4zM1629 1318l4 4-4 4-4-4zM1695 1320l4 4-4 4-4-4zM1630 1338l4 4-4 4-4-4zM1602 1371l4 4-4 4-4-4zM1634 1363l4 4-4 4-4-4zM1644 1296l4 4-4 4-4-4zM1637 1351l4 4-4 4-4-4zM1695 1343l4 4-4 4-4-4zM1685 1303l4 4-4 4-4-4zM1638 1292l4 4-4 4-4-4zM1673 1326l4 4-4 4-4-4zM1692 1354l4 4-4 4-4-4zM1629 1327l4 4-4 4-4-4zM1660 1323l4 4-4 4-4-4zM1627 1383l4 4-4 4-4-4zM1683 1316l4 4-4 4-4-4zM1632 1373l4 4-4 4-4-4zM1629 1385l4 4-4 4-4-4zM1628 1309l4 4-4 4-4-4zM1634 1310l4 4-4 4-4-4zM1700 1359l4 4-4 4-4-4zM1600 1376l4 4-4 4-4-4zM1642 1324l4 4-4 4-4-4zM1684 1343l4 4-4 4-4-4zM1608 1294l4 4-4 4-4-4zM1685 1347l4 4-4 4-4-4zM1593 1371l4 4-4 4-4-4zM1594 1356l4 4-4 4-4-4zM1742 1382l4 4-4 4-4-4zM1751 1344l4 4-4 4-4-4zM1737 1304l4 4-4 4-4-4zM1769 1381l4 4-4 4-4-4zM1775 1395l4 4-4 4-4-4zM1791 1353l4 4-4 4-4-4zM1782 1354l4 4-4 4-4-4zM1763 1325l4 4-4 4-4-4zM1719 1341l4 4-4 4-4-4zM1798 1346l4 4-4 4-4-4zM1704 1332l4 4-4 4-4-4zM1794 1377l4 4-4 4-4-4zM1773 1341l4 4-4 4-4-4zM1728 1344l4 4-4 4-4-4zM1790 1389l4 4-4 4-4-4zM1784 1356l4 4-4 4-4-4zM1761 1322l4 4-4 4-4-4zM1764 1393l4 4-4 4-4-4zM1761 1355l4 4-4 4-4-4zM1707 1364l4 4-4 4-4-4zM1790 1311l4 4-4 4-4-4zM1702 1326l4 4-4 4-4-4zM1765 1357l4 4-4 4-4-4zM1744 1351l4 4-4 4-4-4zM1732 1344l4 4-4 4-4-4zM1806 1390l4 4-4 4-4-4zM1705 1298l4 4-4 4-4-4zM1744 1340l4 4-4 4-4-4zM1703 1327l4 4-4 4-4-4zM1774 1299l4 4-4 4-4-4zM1792 1347l4 4-4 4-4-4zM1726 1348l4 4-4 4-4-4zM1752 1302l4 4-4 4-4-4zM1804 1382l4 4-4 4-4-4zM1707 1364l4 4-4 4-4-4zM1798 1334l4 4-4 4-4-4zM1793 1322l4 4-4 4-4-4zM1777 1362l4 4-4 4-4-4zM1715 1351l4 4-4 4-4-4zM1792 1311l4 4-4 4-4-4zM1746 1309l4 4-4 4-4-4zM1793 1336l4 4-4 4-4-4zM1746 1390l4 4-4 4-4-4zM1735 1316l4 4-4 4-4-4zM1768 1331l4 4-4 4-4-4zM1705 1339l4 4-4 4-4-4zM1721 1375l4 4-4 4-4-4zM1727 1318l4 4-4 4-4-4zM1890 1326l4 4-4 4-4-4zM1875 1362l4 4-4 4-4-4zM1831 1304l4 4-4 4-4-4zM1849 1391l4 4-4 4-4-4zM1796 1344l4 4-4 4-4-4zM1880 1352l4 4-4 4-4-4zM1834 1345l4 4-4 4-4-4zM1885 1366l4 4-4 4-4-4zM1803 1351l4 4-4 4-4-4zM1788 1342l4 4-4 4-4-4zM1845 1326l4 4-4 4-4-4zM1891 1301l4 4-4 4-4-4zM1848 1348l4 4-4 4-4-4zM1891 1331l4 4-4 4-4-4zM1863 1354l4 4-4 4-4-4zM1846 1344l4 4-4 4-4-4zM1884 1387l4 4-4 4-4-4zM1881 1318l4 4-4 4-4-4zM1827 1346l4 4-4 4-4-4zM1881 1377l4 4-4 4-4-4zM1883 1392l4 4-4 4-4-4zM1854 1347l4 4-4 4-4-4zM1834 1363l4 4-4 4-4-4zM1814 1348l4 4-4 4-4-4zM1857 1330l4 4-4 4-4-4zM1810 1355l4 4-4 4-4-4zM1814 1362l4 4-4 4-4-4zM1846 1376l4 4-4 4-4-4zM1961 1360l4 4-4 4-4-4zM1951 1320l4 4-4 4-4-4zM1995 1316l4 4-4 4-4-4zM1965 1357l4 4-4 4-4-4zM1945 1364l4 4-4 4-4-4zM1952 1329l4 4-4 4-4-4zM1977 1332l4 4-4 4-4-4zM1966 1368l4 4-4 4-4-4zM1991 1323l4 4-4 4-4-4zM1963 1353l4 4-4 4-4-4zM1986 1396l4 4-4 4-4-4zM1993 1331l4 4-4 4-4-4zM1888 1391l4 4-4 4-4-4zM1999 1324l4 4-4 4-4-4zM1935 1295l4 4-4 4-4-4zM2054 1330l4 4-4 4-4-4zM2058 1365l4 4-4 4-4-4zM2031 1313l4 4-4 4-4-4zM2037 1316l4 4-4 4-4-4zM2120 1335l4 4-4 4-4-4zM2177 1370l4 4-4 4-4-4zM1503 1409l4 4-4 4-4-4zM1583 1466l4 4-4 4-4-4zM1503 1468l4 4-4 4-4-4zM1598 1483l4 4-4 4-4-4zM1539 1481l4 4-4 4-4-4zM1496 1444l4 4-4 4-4-4zM1561 1449l4 4-4 4-4-4zM1537 1482l4 4-4 4-4-4zM1561 1471l4 4-4 4-4-4zM1564 1446l4 4-4 4-4-4zM1509 1440l4 4-4 4-4-4zM1502 1420l4 4-4 4-4-4zM1554 1420l4 4-4 4-4-4zM1521 1477l4 4-4 4-4-4zM1539 1486l4 4-4 4-4-4zM1565 1408l4 4-4 4-4-4zM1594 1473l4 4-4 4-4-4zM1530 1419l4 4-4 4-4-4zM1544 1436l4 4-4 4-4-4zM1512 1433l4 4-4 4-4-4zM1543 1457l4 4-4 4-4-4zM1534 1407l4 4-4 4-4-4zM1561 1436l4 4-4 4-4-4zM1542 1438l4 4-4 4-4-4zM1589 1415l4 4-4 4-4-4zM1600 1447l4 4-4 4-4-4zM1531 1416l4 4-4 4-4-4zM1524 1479l4 4-4 4-4-4zM1575 1456l4 4-4 4-4-4zM1553 1450l4 4-4 4-4-4zM1575 1440l4 4-4 4-4-4zM1543 1486l4 4-4 4-4-4zM1593 1456l4 4-4 4-4-4zM1538 1447l4 4-4 4-4-4zM1499 1458l4 4-4 4-4-4zM1560 1474l4 4-4 4-4-4zM1506 1485l4 4-4 4-4-4zM1583 1452l4 4-4 4-4-4zM1529 1412l4 4-4 4-4-4zM1514 1409l4 4-4 4-4-4zM1547 1442l4 4-4 4-4-4zM1598 1412l4 4-4 4-4-4zM1527 1430l4 4-4 4-4-4zM1602 1404l4 4-4 4-4-4zM1517 1434l4 4-4 4-4-4zM1578 1415l4 4-4 4-4-4zM1549 1424l4 4-4 4-4-4zM1597 1453l4 4-4 4-4-4zM1531 1398l4 4-4 4-4-4zM1554 1423l4 4-4 4-4-4zM1547 1469l4 4-4 4-4-4zM1511 1408l4 4-4 4-4-4zM1690 1404l4 4-4 4-4-4zM1700 1448l4 4-4 4-4-4zM1658 1416l4 4-4 4-4-4zM1629 1488l4 4-4 4-4-4zM1654 1402l4 4-4 4-4-4zM1682 1450l4 4-4 4-4-4zM1671 1408l4 4-4 4-4-4zM1631 1464l4 4-4 4-4-4zM1632 1457l4 4-4 4-4-4zM1635 1428l4 4-4 4-4-4zM1689 1469l4 4-4 4-4-4zM1631 1433l4 4-4 4-4-4zM1602 1451l4 4-4 4-4-4zM1644 1451l4 4-4 4-4-4zM1678 1444l4 4-4 4-4-4zM1607 1397l4 4-4 4-4-4zM1654 1446l4 4-4 4-4-4zM1606 1403l4 4-4 4-4-4zM1673 1400l4 4-4 4-4-4zM1680 1475l4 4-4 4-4-4zM1601 1447l4 4-4 4-4-4zM1655 1413l4 4-4 4-4-4zM1655 1406l4 4-4 4-4-4zM1655 1451l4 4-4 4-4-4zM1622 1437l4 4-4 4-4-4zM1751 1481l4 4-4 4-4-4zM1805 1425l4 4-4 4-4-4zM1704 1415l4 4-4 4-4-4zM1784 1406l4 4-4 4-4-4zM1722 1407l4 4-4 4-4-4zM1778 1458l4 4-4 4-4-4zM1796 1468l4 4-4 4-4-4zM1747 1491l4 4-4 4-4-4zM1767 1492l4 4-4 4-4-4zM1760 1401l4 4-4 4-4-4zM1770 1457l4 4-4 4-4-4zM1745 1458l4 4-4 4-4-4zM1802 1395l4 4-4 4-4-4zM1705 1469l4 4-4 4-4-4zM1796 1466l4 4-4 4-4-4zM1750 1434l4 4-4 4-4-4zM1786 1469l4 4-4 4-4-4zM1769 1411l4 4-4 4-4-4zM1712 1462l4 4-4 4-4-4zM1753 1424l4 4-4 4-4-4zM1797 1440l4 4-4 4-4-4zM1725 1471l4 4-4 4-4-4zM1787 1419l4 4-4 4-4-4zM1784 1410l4 4-4 4-4-4zM1728 1467l4 4-4 4-4-4zM1766 1492l4 4-4 4-4-4zM1771 1448l4 4-4 4-4-4zM1752 1461l4 4-4 4-4-4zM1738 1476l4 4-4 4-4-4zM1764 1393l4 4-4 4-4-4zM1786 1462l4 4-4 4-4-4zM1715 1436l4 4-4 4-4-4zM1853 1449l4 4-4 4-4-4zM1820 1407l4 4-4 4-4-4zM1873 1504l4 4-4 4-4-4zM1870 1451l4 4-4 4-4-4zM1888 1430l4 4-4 4-4-4zM1861 1443l4 4-4 4-4-4zM1831 1421l4 4-4 4-4-4zM1851 1439l4 4-4 4-4-4zM1838 1480l4 4-4 4-4-4zM1806 1450l4 4-4 4-4-4zM1863 1413l4 4-4 4-4-4zM1810 1473l4 4-4 4-4-4zM1870 1452l4 4-4 4-4-4zM1897 1486l4 4-4 4-4-4zM1831 1495l4 4-4 4-4-4zM1841 1412l4 4-4 4-4-4zM1859 1422l4 4-4 4-4-4zM1901 1491l4 4-4 4-4-4zM1941 1475l4 4-4 4-4-4zM1976 1396l4 4-4 4-4-4zM1942 1414l4 4-4 4-4-4zM1925 1446l4 4-4 4-4-4zM1949 1429l4 4-4 4-4-4zM1989 1453l4 4-4 4-4-4zM1961 1502l4 4-4 4-4-4zM1956 1440l4 4-4 4-4-4zM1931 1426l4 4-4 4-4-4zM1948 1435l4 4-4 4-4-4zM2036 1491l4 4-4 4-4-4zM2018 1452l4 4-4 4-4-4zM2058 1469l4 4-4 4-4-4zM2153 1480l4 4-4 4-4-4zM1581 1525l4 4-4 4-4-4zM1580 1553l4 4-4 4-4-4zM1576 1519l4 4-4 4-4-4zM1587 1576l4 4-4 4-4-4zM1509 1576l4 4-4 4-4-4zM1547 1593l4 4-4 4-4-4zM1588 1525l4 4-4 4-4-4zM1498 1574l4 4-4 4-4-4zM1578 1510l4 4-4 4-4-4zM1536 1538l4 4-4 4-4-4zM1538 1541l4 4-4 4-4-4zM1547 1587l4 4-4 4-4-4zM1522 1544l4 4-4 4-4-4zM1508 1547l4 4-4 4-4-4zM1484 1522l4 4-4 4-4-4zM1536 1495l4 4-4 4-4-4zM1573 1569l4 4-4 4-4-4zM1530 1578l4 4-4 4-4-4zM1546 1496l4 4-4 4-4-4zM1519 1595l4 4-4 4-4-4zM1557 1567l4 4-4 4-4-4zM1487 1564l4 4-4 4-4-4zM1535 1577l4 4-4 4-4-4zM1551 1510l4 4-4 4-4-4zM1513 1585l4 4-4 4-4-4zM1509 1528l4 4-4 4-4-4zM1520 1596l4 4-4 4-4-4zM1502 1564l4 4-4 4-4-4zM1553 1507l4 4-4 4-4-4zM1578 1534l4 4-4 4-4-4zM1682 1587l4 4-4 4-4-4zM1637 1564l4 4-4 4-4-4zM1658 1575l4 4-4 4-4-4zM1608 1544l4 4-4 4-4-4zM1659 1539l4 4-4 4-4-4zM1662 1541l4 4-4 4-4-4zM1681 1537l4 4-4 4-4-4zM1631 1532l4 4-4 4-4-4zM1604 1519l4 4-4 4-4-4zM1626 1569l4 4-4 4-4-4zM1640 1515l4 4-4 4-4-4zM1650 1572l4 4-4 4-4-4zM1623 1575l4 4-4 4-4-4zM1669 1573l4 4-4 4-4-4zM1685 1539l4 4-4 4-4-4zM1749 1499l4 4-4 4-4-4zM1714 1522l4 4-4 4-4-4zM1766 1494l4 4-4 4-4-4zM1811 1557l4 4-4 4-4-4zM1771 1541l4 4-4 4-4-4zM1732 1517l4 4-4 4-4-4zM1728 1573l4 4-4 4-4-4zM1722 1525l4 4-4 4-4-4zM1713 1585l4 4-4 4-4-4zM1719 1541l4 4-4 4-4-4zM1756 1510l4 4-4 4-4-4zM1686 1509l4 4-4 4-4-4zM1717 1535l4 4-4 4-4-4zM1715 1527l4 4-4 4-4-4zM1745 1549l4 4-4 4-4-4zM1758 1552l4 4-4 4-4-4zM1765 1533l4 4-4 4-4-4zM1748 1573l4 4-4 4-4-4zM1744 1517l4 4-4 4-4-4zM1770 1569l4 4-4 4-4-4zM1721 1589l4 4-4 4-4-4zM1759 1555l4 4-4 4-4-4zM1785 1494l4 4-4 4-4-4zM1712 1588l4 4-4 4-4-4zM1753 1595l4 4-4 4-4-4zM1795 1491l4 4-4 4-4-4zM1737 1569l4 4-4 4-4-4zM1760 1549l4 4-4 4-4-4zM1848 1504l4 4-4 4-4-4zM1868 1591l4 4-4 4-4-4zM1837 1538l4 4-4 4-4-4zM1853 1558l4 4-4 4-4-4zM1847 1543l4 4-4 4-4-4zM1811 1513l4 4-4 4-4-4zM1840 1501l4 4-4 4-4-4zM1806 1539l4 4-4 4-4-4zM1841 1575l4 4-4 4-4-4zM1829 1597l4 4-4 4-4-4zM1973 1575l4 4-4 4-4-4zM1952 1566l4 4-4 4-4-4zM1909 1581l4 4-4 4-4-4zM1927 1578l4 4-4 4-4-4zM1963 1590l4 4-4 4-4-4zM1993 1516l4 4-4 4-4-4zM2012 1566l4 4-4 4-4-4zM2084 1511l4 4-4 4-4-4zM2048 1513l4 4-4 4-4-4zM2084 1558l4 4-4 4-4-4zM2154 1574l4 4-4 4-4-4zM2146 1494l4 4-4 4-4-4zM2171 1515l4 4-4 4-4-4zM2102 1510l4 4-4 4-4-4zM1595 1627l4 4-4 4-4-4zM1569 1648l4 4-4 4-4-4zM1502 1691l4 4-4 4-4-4zM1527 1660l4 4-4 4-4-4zM1552 1632l4 4-4 4-4-4zM1576 1591l4 4-4 4-4-4zM1530 1683l4 4-4 4-4-4zM1509 1685l4 4-4 4-4-4zM1532 1635l4 4-4 4-4-4zM1523 1648l4 4-4 4-4-4zM1591 1703l4 4-4 4-4-4zM1547 1676l4 4-4 4-4-4zM1510 1657l4 4-4 4-4-4zM1575 1606l4 4-4 4-4-4zM1523 1630l4 4-4 4-4-4zM1534 1632l4 4-4 4-4-4zM1501 1629l4 4-4 4-4-4zM1503 1677l4 4-4 4-4-4zM1546 1617l4 4-4 4-4-4zM1520 1666l4 4-4 4-4-4zM1512 1629l4 4-4 4-4-4zM1531 1664l4 4-4 4-4-4zM1580 1616l4 4-4 4-4-4zM1549 1648l4 4-4 4-4-4zM1540 1616l4 4-4 4-4-4zM1507 1609l4 4-4 4-4-4zM1543 1651l4 4-4 4-4-4zM1546 1617l4 4-4 4-4-4zM1517 1614l4 4-4 4-4-4zM1536 1656l4 4-4 4-4-4zM1669 1666l4 4-4 4-4-4zM1692 1610l4 4-4 4-4-4zM1610 1690l4 4-4 4-4-4zM1631 1634l4 4-4 4-4-4zM1615 1628l4 4-4 4-4-4zM1651 1608l4 4-4 4-4-4zM1602 1646l4 4-4 4-4-4zM1691 1615l4 4-4 4-4-4zM1619 1647l4 4-4 4-4-4zM1586 1615l4 4-4 4-4-4zM1673 1694l4 4-4 4-4-4zM1623 1603l4 4-4 4-4-4zM1630 1668l4 4-4 4-4-4zM1696 1625l4 4-4 4-4-4zM1613 1638l4 4-4 4-4-4zM1677 1647l4 4-4 4-4-4zM1727 1663l4 4-4 4-4-4zM1759 1678l4 4-4 4-4-4zM1757 1614l4 4-4 4-4-4zM1762 1630l4 4-4 4-4-4zM1799 1683l4 4-4 4-4-4zM1737 1653l4 4-4 4-4-4zM1760 1684l4 4-4 4-4-4zM1727 1614l4 4-4 4-4-4zM1749 1613l4 4-4 4-4-4zM1758 1578l4 4-4 4-4-4zM1787 1676l4 4-4 4-4-4zM1802 1635l4 4-4 4-4-4zM1760 1627l4 4-4 4-4-4zM1757 1619l4 4-4 4-4-4zM1907 1642l4 4-4 4-4-4zM1888 1691l4 4-4 4-4-4zM1840 1634l4 4-4 4-4-4zM1890 1688l4 4-4 4-4-4zM1829 1635l4 4-4 4-4-4zM1879 1629l4 4-4 4-4-4zM1889 1609l4 4-4 4-4-4zM1854 1625l4 4-4 4-4-4zM1829 1634l4 4-4 4-4-4zM1870 1675l4 4-4 4-4-4zM1823 1598l4 4-4 4-4-4zM1825 1648l4 4-4 4-4-4zM1915 1677l4 4-4 4-4-4zM1908 1634l4 4-4 4-4-4zM1974 1600l4 4-4 4-4-4zM1915 1656l4 4-4 4-4-4zM1986 1594l4 4-4 4-4-4zM1927 1668l4 4-4 4-4-4zM2099 1672l4 4-4 4-4-4zM2087 1680l4 4-4 4-4-4zM2026 1680l4 4-4 4-4-4zM2198 1607l4 4-4 4-4-4zM2138 1656l4 4-4 4-4-4zM2189 1653l4 4-4 4-4-4zM2148 1650l4 4-4 4-4-4zM1502 1775l4 4-4 4-4-4zM1556 1789l4 4-4 4-4-4zM1509 1706l4 4-4 4-4-4zM1523 1792l4 4-4 4-4-4zM1501 1756l4 4-4 4-4-4zM1515 1759l4 4-4 4-4-4zM1566 1780l4 4-4 4-4-4zM1495 1688l4 4-4 4-4-4zM1551 1743l4 4-4 4-4-4zM1548 1722l4 4-4 4-4-4zM1504 1719l4 4-4 4-4-4zM1515 1783l4 4-4 4-4-4zM1495 1760l4 4-4 4-4-4zM1586 1807l4 4-4 4-4-4zM1661 1748l4 4-4 4-4-4zM1602 1694l4 4-4 4-4-4zM1645 1793l4 4-4 4-4-4zM1658 1799l4 4-4 4-4-4zM1663 1740l4 4-4 4-4-4zM1603 1718l4 4-4 4-4-4zM1706 1698l4 4-4 4-4-4zM1679 1748l4 4-4 4-4-4zM1661 1770l4 4-4 4-4-4zM1621 1785l4 4-4 4-4-4zM1747 1776l4 4-4 4-4-4zM1779 1727l4 4-4 4-4-4zM1761 1761l4 4-4 4-4-4zM1723 1749l4 4-4 4-4-4zM1742 1743l4 4-4 4-4-4zM1811 1789l4 4-4 4-4-4zM1730 1755l4 4-4 4-4-4zM1754 1713l4 4-4 4-4-4zM1776 1711l4 4-4 4-4-4zM1786 1784l4 4-4 4-4-4zM1784 1759l4 4-4 4-4-4zM1768 1774l4 4-4 4-4-4zM1857 1782l4 4-4 4-4-4zM1878 1712l4 4-4 4-4-4zM1851 1755l4 4-4 4-4-4zM1809 1767l4 4-4 4-4-4zM1808 1785l4 4-4 4-4-4zM1800 1782l4 4-4 4-4-4zM1901 1764l4 4-4 4-4-4zM1848 1759l4 4-4 4-4-4zM1827 1752l4 4-4 4-4-4zM1824 1735l4 4-4 4-4-4zM1860 1796l4 4-4 4-4-4zM1894 1706l4 4-4 4-4-4zM1949 1777l4 4-4 4-4-4zM1911 1732l4 4-4 4-4-4zM1959 1698l4 4-4 4-4-4zM1908 1780l4 4-4 4-4-4zM2036 1795l4 4-4 4-4-4zM2042 1753l4 4-4 4-4-4zM2013 1786l4 4-4 4-4-4zM2075 1710l4 4-4 4-4-4zM2045 1788l4 4-4 4-4-4zM2050 1706l4 4-4 4-4-4zM2100 1752l4 4-4 4-4-4zM2122 1798l4 4-4 4-4-4zM2158 1778l4 4-4 4-4-4zM1578 1892l4 4-4 4-4-4zM1561 1864l4 4-4 4-4-4zM1512 1885l4 4-4 4-4-4zM1569 1831l4 4-4 4-4-4zM1544 1864l4 4-4 4-4-4zM1548 1794l4 4-4 4-4-4zM1563 1845l4 4-4 4-4-4zM1512 1884l4 4-4 4-4-4zM1588 1793l4 4-4 4-4-4zM1562 1862l4 4-4 4-4-4zM1512 1840l4 4-4 4-4-4zM1567 1807l4 4-4 4-4-4zM1551 1825l4 4-4 4-4-4zM1566 1834l4 4-4 4-4-4zM1527 1887l4 4-4 4-4-4zM1602 1898l4 4-4 4-4-4zM1700 1839l4 4-4 4-4-4zM1666 1838l4 4-4 4-4-4zM1649 1824l4 4-4 4-4-4zM1679 1853l4 4-4 4-4-4zM1647 1847l4 4-4 4-4-4zM1666 1784l4 4-4 4-4-4zM1602 1872l4 4-4 4-4-4zM1787 1816l4 4-4 4-4-4zM1780 1831l4 4-4 4-4-4zM1770 1798l4 4-4 4-4-4zM1749 1811l4 4-4 4-4-4zM1743 1796l4 4-4 4-4-4zM1783 1884l4 4-4 4-4-4zM1715 1877l4 4-4 4-4-4zM1758 1859l4 4-4 4-4-4zM1837 1854l4 4-4 4-4-4zM1838 1884l4 4-4 4-4-4zM1837 1899l4 4-4 4-4-4zM1876 1879l4 4-4 4-4-4zM1905 1889l4 4-4 4-4-4zM1903 1825l4 4-4 4-4-4zM1995 1806l4 4-4 4-4-4zM2041 1851l4 4-4 4-4-4zM2067 1818l4 4-4 4-4-4zM2062 1827l4 4-4 4-4-4zM2177 1881l4 4-4 4-4-4zM1522 1982l4 4-4 4-4-4zM1577 1963l4 4-4 4-4-4zM1571 1975l4 4-4 4-4-4zM1503 1985l4 4-4 4-4-4zM1537 1964l4 4-4 4-4-4zM1551 1963l4 4-4 4-4-4zM1600 1909l4 4-4 4-4-4zM1556 2000l4 4-4 4-4-4zM1535 1982l4 4-4 4-4-4zM1552 1910l4 4-4 4-4-4zM1562 1982l4 4-4 4-4-4zM1576 1945l4 4-4 4-4-4zM1557 1955l4 4-4 4-4-4zM1577 1966l4 4-4 4-4-4zM1547 1930l4 4-4 4-4-4zM1492 1953l4 4-4 4-4-4zM1596 1954l4 4-4 4-4-4zM1543 1946l4 4-4 4-4-4zM1557 1935l4 4-4 4-4-4zM1518 1925l4 4-4 4-4-4zM1590 1962l4 4-4 4-4-4zM1561 1964l4 4-4 4-4-4zM1559 1903l4 4-4 4-4-4zM1561 1971l4 4-4 4-4-4zM1586 2000l4 4-4 4-4-4zM1640 1920l4 4-4 4-4-4zM1697 1964l4 4-4 4-4-4zM1614 1967l4 4-4 4-4-4zM1620 1975l4 4-4 4-4-4zM1690 1910l4 4-4 4-4-4zM1673 1961l4 4-4 4-4-4zM1680 1913l4 4-4 4-4-4zM1648 1969l4 4-4 4-4-4zM1668 1978l4 4-4 4-4-4zM1684 1942l4 4-4 4-4-4zM1791 1924l4 4-4 4-4-4zM1755 1955l4 4-4 4-4-4zM1754 1981l4 4-4 4-4-4zM1706 1913l4 4-4 4-4-4zM1744 1914l4 4-4 4-4-4zM1757 1928l4 4-4 4-4-4zM1739 1937l4 4-4 4-4-4zM1736 1942l4 4-4 4-4-4zM1703 1993l4 4-4 4-4-4zM1703 1951l4 4-4 4-4-4zM1889 1922l4 4-4 4-4-4zM1841 1937l4 4-4 4-4-4zM1880 1924l4 4-4 4-4-4zM1815 1892l4 4-4 4-4-4zM1892 1972l4 4-4 4-4-4zM1891 1902l4 4-4 4-4-4zM1856 1962l4 4-4 4-4-4zM1846 1902l4 4-4 4-4-4zM1939 1949l4 4-4 4-4-4zM1921 1914l4 4-4 4-4-4zM1984 1983l4 4-4 4-4-4zM1978 1979l4 4-4 4-4-4zM1972 1906l4 4-4 4-4-4zM1982 1928l4 4-4 4-4-4zM2094 1897l4 4-4 4-4-4zM2051 1969l4 4-4 4-4-4zM2008 1948l4 4-4 4-4-4zM2148 1914l4 4-4 4-4-4zM993 1116l4 4-4 4-4-4zM1038 1118l4 4-4 4-4-4zM1136 1131l4 4-4 4-4-4zM1178 1145l4 4-4 4-4-4zM1175 1112l4 4-4 4-4-4zM1186 1137l4 4-4 4-4-4zM1256 1139l4 4-4 4-4-4zM1268 1132l4 4-4 4-4-4zM1237 1126l4 4-4 4-4-4zM1233 1133l4 4-4 4-4-4zM1260 1137l4 4-4 4-4-4zM1295 1109l4 4-4 4-4-4zM1324 1144l4 4-4 4-4-4zM1307 1102l4 4-4 4-4-4zM1314 1141l4 4-4 4-4-4zM1393 1123l4 4-4 4-4-4zM1385 1126l4 4-4 4-4-4zM1400 1099l4 4-4 4-4-4zM1364 1148l4 4-4 4-4-4zM1318 1131l4 4-4 4-4-4zM1372 1114l4 4-4 4-4-4zM1406 1132l4 4-4 4-4-4zM1439 1096l4 4-4 4-4-4zM1404 1145l4 4-4 4-4-4zM1433 1108l4 4-4 4-4-4zM1492 1147l4 4-4 4-4-4zM1556 1133l4 4-4 4-4-4zM1496 1123l4 4-4 4-4-4zM1529 1129l4 4-4 4-4-4zM1579 1140l4 4-4 4-4-4zM1699 1112l4 4-4 4-4-4zM1785 1100l4 4-4 4-4-4zM926 1153l4 4-4 4-4-4zM1088 1170l4 4-4 4-4-4zM1004 1180l4 4-4 4-4-4zM1077 1181l4 4-4 4-4-4zM1023 1187l4 4-4 4-4-4zM1023 1185l4 4-4 4-4-4zM1109 1192l4 4-4 4-4-4zM1058 1161l4 4-4 4-4-4zM1053 1169l4 4-4 4-4-4zM1086 1197l4 4-4 4-4-4zM1039 1155l4 4-4 4-4-4zM1188 1191l4 4-4 4-4-4zM1204 1193l4 4-4 4-4-4zM1126 1200l4 4-4 4-4-4zM1168 1172l4 4-4 4-4-4zM1175 1177l4 4-4 4-4-4zM1176 1174l4 4-4 4-4-4zM1149 1200l4 4-4 4-4-4zM1160 1145l4 4-4 4-4-4zM1130 1178l4 4-4 4-4-4zM1183 1187l4 4-4 4-4-4zM1104 1183l4 4-4 4-4-4zM1148 1164l4 4-4 4-4-4zM1147 1178l4 4-4 4-4-4zM1184 1157l4 4-4 4-4-4zM1149 1156l4 4-4 4-4-4zM1160 1205l4 4-4 4-4-4zM1168 1144l4 4-4 4-4-4zM1114 1137l4 4-4 4-4-4zM1180 1146l4 4-4 4-4-4zM1162 1148l4 4-4 4-4-4zM1122 1149l4 4-4 4-4-4zM1140 1166l4 4-4 4-4-4zM1109 1181l4 4-4 4-4-4zM1165 1149l4 4-4 4-4-4zM1099 1153l4 4-4 4-4-4zM1129 1171l4 4-4 4-4-4zM1138 1184l4 4-4 4-4-4zM1183 1181l4 4-4 4-4-4zM1162 1161l4 4-4 4-4-4zM1170 1157l4 4-4 4-4-4zM1204 1184l4 4-4 4-4-4zM1240 1173l4 4-4 4-4-4zM1276 1171l4 4-4 4-4-4zM1226 1161l4 4-4 4-4-4zM1265 1173l4 4-4 4-4-4zM1248 1159l4 4-4 4-4-4zM1274 1171l4 4-4 4-4-4zM1258 1185l4 4-4 4-4-4zM1293 1180l4 4-4 4-4-4zM1288 1195l4 4-4 4-4-4zM1245 1166l4 4-4 4-4-4zM1238 1183l4 4-4 4-4-4zM1221 1167l4 4-4 4-4-4zM1209 1163l4 4-4 4-4-4zM1219 1158l4 4-4 4-4-4zM1284 1146l4 4-4 4-4-4zM1245 1187l4 4-4 4-4-4zM1200 1173l4 4-4 4-4-4zM1234 1193l4 4-4 4-4-4zM1242 1154l4 4-4 4-4-4zM1246 1158l4 4-4 4-4-4zM1286 1141l4 4-4 4-4-4zM1297 1141l4 4-4 4-4-4zM1257 1170l4 4-4 4-4-4zM1246 1158l4 4-4 4-4-4zM1258 1170l4 4-4 4-4-4zM1279 1158l4 4-4 4-4-4zM1290 1150l4 4-4 4-4-4zM1283 1179l4 4-4 4-4-4zM1285 1174l4 4-4 4-4-4zM1257 1147l4 4-4 4-4-4zM1308 1177l4 4-4 4-4-4zM1273 1194l4 4-4 4-4-4zM1211 1188l4 4-4 4-4-4zM1290 1194l4 4-4 4-4-4zM1229 1184l4 4-4 4-4-4zM1254 1156l4 4-4 4-4-4zM1291 1165l4 4-4 4-4-4zM1217 1155l4 4-4 4-4-4zM1252 1195l4 4-4 4-4-4zM1318 1175l4 4-4 4-4-4zM1391 1148l4 4-4 4-4-4zM1329 1174l4 4-4 4-4-4zM1330 1165l4 4-4 4-4-4zM1388 1158l4 4-4 4-4-4zM1341 1140l4 4-4 4-4-4zM1382 1161l4 4-4 4-4-4zM1316 1150l4 4-4 4-4-4zM1382 1181l4 4-4 4-4-4zM1335 1139l4 4-4 4-4-4zM1297 1161l4 4-4 4-4-4zM1363 1177l4 4-4 4-4-4zM1385 1169l4 4-4 4-4-4zM1319 1180l4 4-4 4-4-4zM1374 1201l4 4-4 4-4-4zM1347 1181l4 4-4 4-4-4zM1341 1176l4 4-4 4-4-4zM1348 1177l4 4-4 4-4-4zM1373 1189l4 4-4 4-4-4zM1310 1187l4 4-4 4-4-4zM1380 1185l4 4-4 4-4-4zM1303 1152l4 4-4 4-4-4zM1350 1179l4 4-4 4-4-4zM1293 1173l4 4-4 4-4-4zM1393 1153l4 4-4 4-4-4zM1333 1159l4 4-4 4-4-4zM1403 1184l4 4-4 4-4-4zM1344 1196l4 4-4 4-4-4zM1375 1157l4 4-4 4-4-4zM1296 1162l4 4-4 4-4-4zM1316 1158l4 4-4 4-4-4zM1361 1171l4 4-4 4-4-4zM1383 1163l4 4-4 4-4-4zM1392 1191l4 4-4 4-4-4zM1343 1169l4 4-4 4-4-4zM1345 1185l4 4-4 4-4-4zM1338 1152l4 4-4 4-4-4zM1359 1181l4 4-4 4-4-4zM1391 1176l4 4-4 4-4-4zM1371 1158l4 4-4 4-4-4zM1370 1150l4 4-4 4-4-4zM1392 1176l4 4-4 4-4-4zM1302 1155l4 4-4 4-4-4zM1384 1172l4 4-4 4-4-4zM1341 1176l4 4-4 4-4-4zM1342 1152l4 4-4 4-4-4zM1367 1174l4 4-4 4-4-4zM1355 1194l4 4-4 4-4-4zM1365 1164l4 4-4 4-4-4zM1340 1143l4 4-4 4-4-4zM1467 1179l4 4-4 4-4-4zM1482 1169l4 4-4 4-4-4zM1424 1163l4 4-4 4-4-4zM1471 1159l4 4-4 4-4-4zM1466 1192l4 4-4 4-4-4zM1479 1187l4 4-4 4-4-4zM1404 1171l4 4-4 4-4-4zM1453 1198l4 4-4 4-4-4zM1404 1142l4 4-4 4-4-4zM1472 1187l4 4-4 4-4-4zM1430 1198l4 4-4 4-4-4zM1436 1190l4 4-4 4-4-4zM1461 1184l4 4-4 4-4-4zM1497 1154l4 4-4 4-4-4zM1442 1167l4 4-4 4-4-4zM1462 1173l4 4-4 4-4-4zM1421 1138l4 4-4 4-4-4zM1453 1185l4 4-4 4-4-4zM1418 1145l4 4-4 4-4-4zM1461 1165l4 4-4 4-4-4zM1460 1161l4 4-4 4-4-4zM1438 1155l4 4-4 4-4-4zM1453 1181l4 4-4 4-4-4zM1492 1159l4 4-4 4-4-4zM1468 1140l4 4-4 4-4-4zM1453 1152l4 4-4 4-4-4zM1430 1157l4 4-4 4-4-4zM1488 1169l4 4-4 4-4-4zM1460 1173l4 4-4 4-4-4zM1391 1147l4 4-4 4-4-4zM1494 1177l4 4-4 4-4-4zM1437 1155l4 4-4 4-4-4zM1444 1198l4 4-4 4-4-4zM1418 1154l4 4-4 4-4-4zM1463 1154l4 4-4 4-4-4zM1453 1152l4 4-4 4-4-4zM1491 1184l4 4-4 4-4-4zM1470 1154l4 4-4 4-4-4zM1451 1182l4 4-4 4-4-4zM1428 1174l4 4-4 4-4-4zM1424 1174l4 4-4 4-4-4zM1474 1156l4 4-4 4-4-4zM1485 1171l4 4-4 4-4-4zM1499 1170l4 4-4 4-4-4zM1454 1182l4 4-4 4-4-4zM1581 1177l4 4-4 4-4-4zM1567 1178l4 4-4 4-4-4zM1597 1188l4 4-4 4-4-4zM1556 1156l4 4-4 4-4-4zM1586 1168l4 4-4 4-4-4zM1581 1193l4 4-4 4-4-4zM1501 1149l4 4-4 4-4-4zM1523 1176l4 4-4 4-4-4zM1516 1174l4 4-4 4-4-4zM1545 1176l4 4-4 4-4-4zM1543 1182l4 4-4 4-4-4zM1547 1171l4 4-4 4-4-4zM1555 1175l4 4-4 4-4-4zM1581 1167l4 4-4 4-4-4zM1579 1153l4 4-4 4-4-4zM1583 1167l4 4-4 4-4-4zM1506 1152l4 4-4 4-4-4zM1574 1176l4 4-4 4-4-4zM1561 1184l4 4-4 4-4-4zM1505 1146l4 4-4 4-4-4zM1550 1198l4 4-4 4-4-4zM1518 1160l4 4-4 4-4-4zM1502 1162l4 4-4 4-4-4zM1508 1181l4 4-4 4-4-4zM1561 1163l4 4-4 4-4-4zM1622 1143l4 4-4 4-4-4zM1627 1183l4 4-4 4-4-4zM1684 1161l4 4-4 4-4-4zM1711 1153l4 4-4 4-4-4zM1624 1160l4 4-4 4-4-4zM1671 1154l4 4-4 4-4-4zM1619 1145l4 4-4 4-4-4zM1660 1152l4 4-4 4-4-4zM1674 1186l4 4-4 4-4-4zM1639 1141l4 4-4 4-4-4zM1599 1169l4 4-4 4-4-4zM1643 1160l4 4-4 4-4-4zM1732 1176l4 4-4 4-4-4zM1765 1153l4 4-4 4-4-4zM1766 1189l4 4-4 4-4-4zM1758 1134l4 4-4 4-4-4zM1771 1191l4 4-4 4-4-4zM1891 1139l4 4-4 4-4-4zM1856 1141l4 4-4 4-4-4zM1858 1157l4 4-4 4-4-4zM1906 1172l4 4-4 4-4-4zM878 1998l4 4-4 4-4-4zM975 2001l4 4-4 4-4-4zM939 1988l4 4-4 4-4-4zM937 2003l4 4-4 4-4-4zM911 2032l4 4-4 4-4-4zM898 1988l4 4-4 4-4-4zM1063 2031l4 4-4 4-4-4zM1040 2008l4 4-4 4-4-4zM1033 2009l4 4-4 4-4-4zM1086 2018l4 4-4 4-4-4zM1029 2009l4 4-4 4-4-4zM1083 2001l4 4-4 4-4-4zM1021 1991l4 4-4 4-4-4zM1061 1996l4 4-4 4-4-4zM1060 2026l4 4-4 4-4-4zM1045 2019l4 4-4 4-4-4zM1099 2026l4 4-4 4-4-4zM1103 2012l4 4-4 4-4-4zM1118 2024l4 4-4 4-4-4zM1126 2026l4 4-4 4-4-4zM1104 2008l4 4-4 4-4-4zM1185 2022l4 4-4 4-4-4zM1116 2003l4 4-4 4-4-4zM1162 2005l4 4-4 4-4-4zM1142 2010l4 4-4 4-4-4zM1155 2010l4 4-4 4-4-4zM1138 2004l4 4-4 4-4-4zM1120 2025l4 4-4 4-4-4zM1166 2019l4 4-4 4-4-4zM1180 2025l4 4-4 4-4-4zM1198 1998l4 4-4 4-4-4zM1149 1999l4 4-4 4-4-4zM1169 2012l4 4-4 4-4-4zM1283 2005l4 4-4 4-4-4zM1248 2006l4 4-4 4-4-4zM1206 1996l4 4-4 4-4-4zM1199 2015l4 4-4 4-4-4zM1261 2007l4 4-4 4-4-4zM1235 2027l4 4-4 4-4-4zM1258 2014l4 4-4 4-4-4zM1263 2019l4 4-4 4-4-4zM1221 2016l4 4-4 4-4-4zM1285 2001l4 4-4 4-4-4zM1270 1992l4 4-4 4-4-4zM1236 1994l4 4-4 4-4-4zM1291 2026l4 4-4 4-4-4zM1275 1990l4 4-4 4-4-4zM1280 2006l4 4-4 4-4-4zM1221 2001l4 4-4 4-4-4zM1243 2013l4 4-4 4-4-4zM1232 2019l4 4-4 4-4-4zM1381 1989l4 4-4 4-4-4zM1329 2016l4 4-4 4-4-4zM1402 2007l4 4-4 4-4-4zM1406 2013l4 4-4 4-4-4zM1309 2033l4 4-4 4-4-4zM1360 2015l4 4-4 4-4-4zM1325 2012l4 4-4 4-4-4zM1366 2003l4 4-4 4-4-4zM1323 2028l4 4-4 4-4-4zM1341 1998l4 4-4 4-4-4zM1315 2002l4 4-4 4-4-4zM1406 2012l4 4-4 4-4-4zM1347 2004l4 4-4 4-4-4zM1322 2029l4 4-4 4-4-4zM1327 2007l4 4-4 4-4-4zM1414 2016l4 4-4 4-4-4zM1494 2001l4 4-4 4-4-4zM1435 2012l4 4-4 4-4-4zM1431 2018l4 4-4 4-4-4zM1502 2023l4 4-4 4-4-4zM1428 2003l4 4-4 4-4-4zM1399 2007l4 4-4 4-4-4zM1445 2015l4 4-4 4-4-4zM1498 2009l4 4-4 4-4-4zM1457 2008l4 4-4 4-4-4zM1404 2003l4 4-4 4-4-4zM1434 2010l4 4-4 4-4-4zM907 2065l4 4-4 4-4-4zM1011 2057l4 4-4 4-4-4zM1032 2049l4 4-4 4-4-4zM1091 2073l4 4-4 4-4-4zM1082 2032l4 4-4 4-4-4zM1038 2083l4 4-4 4-4-4zM1033 2063l4 4-4 4-4-4zM1083 2042l4 4-4 4-4-4zM1067 2058l4 4-4 4-4-4zM1042 2046l4 4-4 4-4-4zM1014 2070l4 4-4 4-4-4zM1102 2055l4 4-4 4-4-4zM1090 2042l4 4-4 4-4-4zM1050 2074l4 4-4 4-4-4zM1091 2067l4 4-4 4-4-4zM1065 2058l4 4-4 4-4-4zM1005 2060l4 4-4 4-4-4zM1003 2055l4 4-4 4-4-4zM1106 2050l4 4-4 4-4-4zM1194 2075l4 4-4 4-4-4zM1138 2048l4 4-4 4-4-4zM1101 2056l4 4-4 4-4-4zM1188 2065l4 4-4 4-4-4zM1136 2060l4 4-4 4-4-4zM1161 2077l4 4-4 4-4-4zM1127 2071l4 4-4 4-4-4zM1193 2075l4 4-4 4-4-4zM1115 2055l4 4-4 4-4-4zM1163 2076l4 4-4 4-4-4zM1154 2061l4 4-4 4-4-4zM1196 2067l4 4-4 4-4-4zM1170 2063l4 4-4 4-4-4zM1156 2040l4 4-4 4-4-4zM1137 2041l4 4-4 4-4-4zM1136 2060l4 4-4 4-4-4zM1135 2063l4 4-4 4-4-4zM1104 2061l4 4-4 4-4-4zM1162 2057l4 4-4 4-4-4zM1187 2051l4 4-4 4-4-4zM1143 2073l4 4-4 4-4-4zM1189 2056l4 4-4 4-4-4zM1116 2069l4 4-4 4-4-4zM1158 2057l4 4-4 4-4-4zM1288 2087l4 4-4 4-4-4zM1218 2074l4 4-4 4-4-4zM1248 2066l4 4-4 4-4-4zM1275 2068l4 4-4 4-4-4zM1300 2054l4 4-4 4-4-4zM1203 2060l4 4-4 4-4-4zM1203 2037l4 4-4 4-4-4zM1230 2056l4 4-4 4-4-4zM1238 2052l4 4-4 4-4-4zM1271 2059l4 4-4 4-4-4zM1271 2066l4 4-4 4-4-4zM1211 2067l4 4-4 4-4-4zM1321 2064l4 4-4 4-4-4zM1293 2057l4 4-4 4-4-4zM1261 2060l4 4-4 4-4-4zM1237 2073l4 4-4 4-4-4zM1289 2044l4 4-4 4-4-4zM1231 2062l4 4-4 4-4-4zM1249 2061l4 4-4 4-4-4zM1237 2070l4 4-4 4-4-4zM1222 2073l4 4-4 4-4-4zM1218 2081l4 4-4 4-4-4zM1263 2069l4 4-4 4-4-4zM1281 2065l4 4-4 4-4-4zM1201 2047l4 4-4 4-4-4zM1226 2057l4 4-4 4-4-4zM1203 2039l4 4-4 4-4-4zM1278 2069l4 4-4 4-4-4zM1217 2042l4 4-4 4-4-4zM1253 2040l4 4-4 4-4-4zM1395 2056l4 4-4 4-4-4zM1327 2055l4 4-4 4-4-4zM1340 2057l4 4-4 4-4-4zM1296 2053l4 4-4 4-4-4zM1325 2046l4 4-4 4-4-4zM1348 2071l4 4-4 4-4-4zM1384 2061l4 4-4 4-4-4zM1339 2067l4 4-4 4-4-4zM1349 2039l4 4-4 4-4-4zM1312 2047l4 4-4 4-4-4zM1342 2068l4 4-4 4-4-4zM1405 2062l4 4-4 4-4-4zM1298 2051l4 4-4 4-4-4zM1341 2061l4 4-4 4-4-4zM1292 2058l4 4-4 4-4-4zM1334 2076l4 4-4 4-4-4zM1365 2083l4 4-4 4-4-4zM1352 2089l4 4-4 4-4-4zM1298 2056l4 4-4 4-4-4zM1334 2040l4 4-4 4-4-4zM1343 2048l4 4-4 4-4-4zM1337 2047l4 4-4 4-4-4zM1389 2060l4 4-4 4-4-4zM1326 2075l4 4-4 4-4-4zM1347 2060l4 4-4 4-4-4zM1344 2082l4 4-4 4-4-4zM1384 2066l4 4-4 4-4-4zM1314 2078l4 4-4 4-4-4zM1336 2054l4 4-4 4-4-4zM1293 2063l4 4-4 4-4-4zM1463 2070l4 4-4 4-4-4zM1443 2067l4 4-4 4-4-4zM1453 2048l4 4-4 4-4-4zM1447 2047l4 4-4 4-4-4zM1430 2054l4 4-4 4-4-4zM1482 2073l4 4-4 4-4-4zM1482 2032l4 4-4 4-4-4zM1407 2061l4 4-4 4-4-4zM1422 2046l4 4-4 4-4-4zM1443 2074l4 4-4 4-4-4zM1462 2055l4 4-4 4-4-4zM1471 2055l4 4-4 4-4-4zM1427 2053l4 4-4 4-4-4zM1485 2047l4 4-4 4-4-4zM1411 2060l4 4-4 4-4-4zM1427 2074l4 4-4 4-4-4zM1455 2070l4 4-4 4-4-4zM1454 2079l4 4-4 4-4-4zM1420 2058l4 4-4 4-4-4zM1416 2068l4 4-4 4-4-4zM1444 2075l4 4-4 4-4-4zM1415 2061l4 4-4 4-4-4zM915 2142l4 4-4 4-4-4zM929 2165l4 4-4 4-4-4zM946 2159l4 4-4 4-4-4zM904 2237l4 4-4 4-4-4zM1523 2036l4 4-4 4-4-4zM1572 2028l4 4-4 4-4-4zM1517 2011l4 4-4 4-4-4zM1536 2037l4 4-4 4-4-4zM1531 2041l4 4-4 4-4-4zM1508 2017l4 4-4 4-4-4zM1563 2011l4 4-4 4-4-4zM1571 2040l4 4-4 4-4-4zM1577 2012l4 4-4 4-4-4zM1563 2013l4 4-4 4-4-4zM1600 2001l4 4-4 4-4-4zM1617 1994l4 4-4 4-4-4zM1688 1989l4 4-4 4-4-4zM1617 2036l4 4-4 4-4-4zM1778 2025l4 4-4 4-4-4zM1684 1996l4 4-4 4-4-4zM1753 2019l4 4-4 4-4-4zM1792 2008l4 4-4 4-4-4zM1773 2010l4 4-4 4-4-4zM1872 2001l4 4-4 4-4-4zM1898 1999l4 4-4 4-4-4zM1785 2020l4 4-4 4-4-4zM1985 2014l4 4-4 4-4-4zM2023 2006l4 4-4 4-4-4zM2192 2054l4 4-4 4-4-4zM2109 2027l4 4-4 4-4-4zM1529 2086l4 4-4 4-4-4zM1582 2080l4 4-4 4-4-4zM1542 2093l4 4-4 4-4-4zM1559 2096l4 4-4 4-4-4zM1553 2085l4 4-4 4-4-4zM1501 2075l4 4-4 4-4-4zM1544 2076l4 4-4 4-4-4zM1552 2057l4 4-4 4-4-4zM1570 2108l4 4-4 4-4-4zM1552 2065l4 4-4 4-4-4zM1527 2039l4 4-4 4-4-4zM1574 2056l4 4-4 4-4-4zM1577 2060l4 4-4 4-4-4zM1567 2053l4 4-4 4-4-4zM1503 2049l4 4-4 4-4-4zM1578 2045l4 4-4 4-4-4zM1587 2064l4 4-4 4-4-4zM1538 2078l4 4-4 4-4-4zM1570 2101l4 4-4 4-4-4zM1574 2077l4 4-4 4-4-4zM1520 2068l4 4-4 4-4-4zM1538 2067l4 4-4 4-4-4zM1562 2053l4 4-4 4-4-4zM1507 2093l4 4-4 4-4-4zM1602 2071l4 4-4 4-4-4zM1677 2088l4 4-4 4-4-4zM1694 2079l4 4-4 4-4-4zM1629 2084l4 4-4 4-4-4zM1621 2049l4 4-4 4-4-4zM1616 2069l4 4-4 4-4-4zM1641 2056l4 4-4 4-4-4zM1637 2055l4 4-4 4-4-4zM1686 2100l4 4-4 4-4-4zM1618 2088l4 4-4 4-4-4zM1679 2072l4 4-4 4-4-4zM1671 2069l4 4-4 4-4-4zM1633 2071l4 4-4 4-4-4zM1738 2045l4 4-4 4-4-4zM1763 2059l4 4-4 4-4-4zM1778 2064l4 4-4 4-4-4zM1716 2095l4 4-4 4-4-4zM1824 2075l4 4-4 4-4-4zM1890 2055l4 4-4 4-4-4zM1892 2060l4 4-4 4-4-4zM1863 2096l4 4-4 4-4-4zM1873 2075l4 4-4 4-4-4zM1947 2071l4 4-4 4-4-4zM1933 2076l4 4-4 4-4-4zM1932 2062l4 4-4 4-4-4zM1922 2071l4 4-4 4-4-4zM2015 2046l4 4-4 4-4-4zM2083 2095l4 4-4 4-4-4zM1998 2048l4 4-4 4-4-4zM2188 2100l4 4-4 4-4-4zM2179 2072l4 4-4 4-4-4zM1567 2129l4 4-4 4-4-4zM1590 2112l4 4-4 4-4-4zM1602 2115l4 4-4 4-4-4zM1586 2110l4 4-4 4-4-4zM1570 2110l4 4-4 4-4-4zM1600 2121l4 4-4 4-4-4zM1566 2145l4 4-4 4-4-4zM1613 2103l4 4-4 4-4-4zM1560 2112l4 4-4 4-4-4zM1585 2136l4 4-4 4-4-4zM1558 2102l4 4-4 4-4-4zM1578 2127l4 4-4 4-4-4zM1572 2136l4 4-4 4-4-4zM1576 2157l4 4-4 4-4-4zM1598 2104l4 4-4 4-4-4zM1561 2101l4 4-4 4-4-4zM1588 2149l4 4-4 4-4-4zM1611 2130l4 4-4 4-4-4zM1578 2125l4 4-4 4-4-4zM1589 2141l4 4-4 4-4-4zM1546 2131l4 4-4 4-4-4zM1568 2119l4 4-4 4-4-4zM1621 2146l4 4-4 4-4-4zM1600 2112l4 4-4 4-4-4zM1627 2113l4 4-4 4-4-4zM1663 2090l4 4-4 4-4-4zM1655 2099l4 4-4 4-4-4zM1624 2113l4 4-4 4-4-4zM1671 2119l4 4-4 4-4-4zM1673 2135l4 4-4 4-4-4zM1674 2129l4 4-4 4-4-4zM1597 2129l4 4-4 4-4-4zM1645 2110l4 4-4 4-4-4zM1662 2106l4 4-4 4-4-4zM1661 2111l4 4-4 4-4-4zM1652 2141l4 4-4 4-4-4zM1599 2093l4 4-4 4-4-4zM1640 2100l4 4-4 4-4-4zM1661 2115l4 4-4 4-4-4zM1663 2101l4 4-4 4-4-4zM1613 2137l4 4-4 4-4-4zM1662 2087l4 4-4 4-4-4zM1608 2125l4 4-4 4-4-4zM1639 2113l4 4-4 4-4-4zM1659 2115l4 4-4 4-4-4zM1622 2138l4 4-4 4-4-4zM1653 2128l4 4-4 4-4-4zM1637 2127l4 4-4 4-4-4zM1668 2096l4 4-4 4-4-4zM1666 2127l4 4-4 4-4-4zM1627 2092l4 4-4 4-4-4zM1617 2148l4 4-4 4-4-4zM1816 2105l4 4-4 4-4-4zM1781 2124l4 4-4 4-4-4zM1708 2145l4 4-4 4-4-4zM1782 2120l4 4-4 4-4-4zM1742 2110l4 4-4 4-4-4zM1726 2111l4 4-4 4-4-4zM1776 2117l4 4-4 4-4-4zM1778 2108l4 4-4 4-4-4zM1769 2101l4 4-4 4-4-4zM1773 2150l4 4-4 4-4-4zM1735 2080l4 4-4 4-4-4zM1752 2143l4 4-4 4-4-4zM1730 2108l4 4-4 4-4-4zM1698 2132l4 4-4 4-4-4zM1738 2147l4 4-4 4-4-4zM1879 2137l4 4-4 4-4-4zM1850 2140l4 4-4 4-4-4zM1807 2160l4 4-4 4-4-4zM1907 2113l4 4-4 4-4-4zM1873 2151l4 4-4 4-4-4zM1817 2107l4 4-4 4-4-4zM1840 2098l4 4-4 4-4-4zM1873 2147l4 4-4 4-4-4zM1851 2142l4 4-4 4-4-4zM1819 2116l4 4-4 4-4-4zM1878 2139l4 4-4 4-4-4zM1857 2140l4 4-4 4-4-4zM1910 2118l4 4-4 4-4-4zM1973 2129l4 4-4 4-4-4zM1914 2126l4 4-4 4-4-4zM1964 2125l4 4-4 4-4-4zM1910 2111l4 4-4 4-4-4zM2076 2123l4 4-4 4-4-4zM2075 2104l4 4-4 4-4-4zM2027 2123l4 4-4 4-4-4zM2150 2105l4 4-4 4-4-4zM2126 2108l4 4-4 4-4-4zM2147 2134l4 4-4 4-4-4zM2184 2150l4 4-4 4-4-4zM1582 2185l4 4-4 4-4-4zM1556 2172l4 4-4 4-4-4zM1575 2186l4 4-4 4-4-4zM1542 2181l4 4-4 4-4-4zM1569 2195l4 4-4 4-4-4zM1597 2172l4 4-4 4-4-4zM1567 2152l4 4-4 4-4-4zM1588 2165l4 4-4 4-4-4zM1589 2160l4 4-4 4-4-4zM1551 2187l4 4-4 4-4-4zM1553 2197l4 4-4 4-4-4zM1555 2147l4 4-4 4-4-4zM1547 2176l4 4-4 4-4-4zM1552 2169l4 4-4 4-4-4zM1562 2146l4 4-4 4-4-4zM1593 2192l4 4-4 4-4-4zM1588 2190l4 4-4 4-4-4zM1574 2186l4 4-4 4-4-4zM1562 2191l4 4-4 4-4-4zM1550 2183l4 4-4 4-4-4zM1579 2161l4 4-4 4-4-4zM1574 2150l4 4-4 4-4-4zM1552 2152l4 4-4 4-4-4zM1577 2176l4 4-4 4-4-4zM1546 2167l4 4-4 4-4-4zM1594 2142l4 4-4 4-4-4zM1586 2160l4 4-4 4-4-4zM1592 2191l4 4-4 4-4-4zM1587 2182l4 4-4 4-4-4zM1580 2185l4 4-4 4-4-4zM1596 2194l4 4-4 4-4-4zM1589 2172l4 4-4 4-4-4zM1563 2188l4 4-4 4-4-4zM1593 2180l4 4-4 4-4-4zM1556 2188l4 4-4 4-4-4zM1566 2148l4 4-4 4-4-4zM1598 2142l4 4-4 4-4-4zM1590 2173l4 4-4 4-4-4zM1595 2172l4 4-4 4-4-4zM1569 2161l4 4-4 4-4-4zM1555 2173l4 4-4 4-4-4zM1611 2161l4 4-4 4-4-4zM1589 2166l4 4-4 4-4-4zM1578 2161l4 4-4 4-4-4zM1554 2153l4 4-4 4-4-4zM1570 2161l4 4-4 4-4-4zM1578 2191l4 4-4 4-4-4zM1585 2192l4 4-4 4-4-4zM1568 2157l4 4-4 4-4-4zM1561 2180l4 4-4 4-4-4zM1618 2182l4 4-4 4-4-4zM1639 2185l4 4-4 4-4-4zM1613 2156l4 4-4 4-4-4zM1665 2173l4 4-4 4-4-4zM1630 2175l4 4-4 4-4-4zM1664 2157l4 4-4 4-4-4zM1662 2155l4 4-4 4-4-4zM1622 2151l4 4-4 4-4-4zM1662 2178l4 4-4 4-4-4zM1658 2174l4 4-4 4-4-4zM1683 2156l4 4-4 4-4-4zM1613 2176l4 4-4 4-4-4zM1608 2156l4 4-4 4-4-4zM1671 2193l4 4-4 4-4-4zM1684 2187l4 4-4 4-4-4zM1643 2170l4 4-4 4-4-4zM1638 2154l4 4-4 4-4-4zM1609 2152l4 4-4 4-4-4zM1670 2214l4 4-4 4-4-4zM1637 2158l4 4-4 4-4-4zM1635 2187l4 4-4 4-4-4zM1603 2190l4 4-4 4-4-4zM1608 2177l4 4-4 4-4-4zM1661 2163l4 4-4 4-4-4zM1616 2174l4 4-4 4-4-4zM1673 2155l4 4-4 4-4-4zM1600 2199l4 4-4 4-4-4zM1640 2189l4 4-4 4-4-4zM1635 2182l4 4-4 4-4-4zM1700 2180l4 4-4 4-4-4zM1668 2186l4 4-4 4-4-4zM1644 2164l4 4-4 4-4-4zM1705 2168l4 4-4 4-4-4zM1631 2142l4 4-4 4-4-4zM1704 2162l4 4-4 4-4-4zM1603 2169l4 4-4 4-4-4zM1639 2149l4 4-4 4-4-4zM1641 2158l4 4-4 4-4-4zM1610 2160l4 4-4 4-4-4zM1614 2154l4 4-4 4-4-4zM1608 2196l4 4-4 4-4-4zM1654 2162l4 4-4 4-4-4zM1688 2162l4 4-4 4-4-4zM1615 2182l4 4-4 4-4-4zM1680 2157l4 4-4 4-4-4zM1676 2167l4 4-4 4-4-4zM1678 2165l4 4-4 4-4-4zM1700 2191l4 4-4 4-4-4zM1620 2202l4 4-4 4-4-4zM1653 2175l4 4-4 4-4-4zM1629 2160l4 4-4 4-4-4zM1635 2168l4 4-4 4-4-4zM1631 2165l4 4-4 4-4-4zM1628 2147l4 4-4 4-4-4zM1659 2164l4 4-4 4-4-4zM1729 2147l4 4-4 4-4-4zM1736 2151l4 4-4 4-4-4zM1767 2205l4 4-4 4-4-4zM1797 2157l4 4-4 4-4-4zM1721 2182l4 4-4 4-4-4zM1701 2170l4 4-4 4-4-4zM1744 2189l4 4-4 4-4-4zM1751 2172l4 4-4 4-4-4zM1742 2191l4 4-4 4-4-4zM1748 2169l4 4-4 4-4-4zM1778 2183l4 4-4 4-4-4zM1706 2167l4 4-4 4-4-4zM1718 2183l4 4-4 4-4-4zM1733 2159l4 4-4 4-4-4zM1719 2185l4 4-4 4-4-4zM1747 2155l4 4-4 4-4-4zM1720 2150l4 4-4 4-4-4zM1745 2169l4 4-4 4-4-4zM1707 2188l4 4-4 4-4-4zM1740 2195l4 4-4 4-4-4zM1724 2164l4 4-4 4-4-4zM1775 2152l4 4-4 4-4-4zM1775 2176l4 4-4 4-4-4zM1770 2143l4 4-4 4-4-4zM1790 2167l4 4-4 4-4-4zM1707 2192l4 4-4 4-4-4zM1729 2163l4 4-4 4-4-4zM1794 2158l4 4-4 4-4-4zM1767 2160l4 4-4 4-4-4zM1751 2175l4 4-4 4-4-4zM1832 2201l4 4-4 4-4-4zM1881 2134l4 4-4 4-4-4zM1799 2197l4 4-4 4-4-4zM1865 2169l4 4-4 4-4-4zM1828 2183l4 4-4 4-4-4zM1876 2150l4 4-4 4-4-4zM1815 2156l4 4-4 4-4-4zM1827 2195l4 4-4 4-4-4zM1859 2166l4 4-4 4-4-4zM1826 2174l4 4-4 4-4-4zM1882 2167l4 4-4 4-4-4zM1856 2191l4 4-4 4-4-4zM1884 2195l4 4-4 4-4-4zM1851 2175l4 4-4 4-4-4zM1867 2192l4 4-4 4-4-4zM1888 2174l4 4-4 4-4-4zM1897 2143l4 4-4 4-4-4zM1859 2191l4 4-4 4-4-4zM1993 2151l4 4-4 4-4-4zM1953 2170l4 4-4 4-4-4zM1979 2164l4 4-4 4-4-4zM1974 2209l4 4-4 4-4-4zM2004 2166l4 4-4 4-4-4zM1905 2191l4 4-4 4-4-4zM1957 2178l4 4-4 4-4-4zM1982 2192l4 4-4 4-4-4zM1947 2186l4 4-4 4-4-4zM1909 2154l4 4-4 4-4-4zM2042 2172l4 4-4 4-4-4zM2020 2177l4 4-4 4-4-4zM2081 2195l4 4-4 4-4-4zM1992 2184l4 4-4 4-4-4zM2155 2165l4 4-4 4-4-4zM2159 2152l4 4-4 4-4-4zM2196 2186l4 4-4 4-4-4zM2189 2167l4 4-4 4-4-4zM2155 2175l4 4-4 4-4-4zM1552 2199l4 4-4 4-4-4zM1578 2231l4 4-4 4-4-4zM1565 2246l4 4-4 4-4-4zM1546 2213l4 4-4 4-4-4zM1558 2215l4 4-4 4-4-4zM1584 2243l4 4-4 4-4-4zM1598 2201l4 4-4 4-4-4zM1574 2238l4 4-4 4-4-4zM1582 2224l4 4-4 4-4-4zM1545 2239l4 4-4 4-4-4zM1597 2238l4 4-4 4-4-4zM1561 2220l4 4-4 4-4-4zM1577 2226l4 4-4 4-4-4zM1573 2195l4 4-4 4-4-4zM1586 2234l4 4-4 4-4-4zM1582 2234l4 4-4 4-4-4zM1544 2195l4 4-4 4-4-4zM1554 2250l4 4-4 4-4-4zM1567 2209l4 4-4 4-4-4zM1553 2205l4 4-4 4-4-4zM1560 2219l4 4-4 4-4-4zM1571 2232l4 4-4 4-4-4zM1566 2211l4 4-4 4-4-4zM1583 2238l4 4-4 4-4-4zM1565 2203l4 4-4 4-4-4zM1591 2237l4 4-4 4-4-4zM1584 2196l4 4-4 4-4-4zM1551 2242l4 4-4 4-4-4zM1592 2228l4 4-4 4-4-4zM1555 2204l4 4-4 4-4-4zM1571 2227l4 4-4 4-4-4zM1590 2212l4 4-4 4-4-4zM1572 2223l4 4-4 4-4-4zM1581 2222l4 4-4 4-4-4zM1558 2236l4 4-4 4-4-4zM1574 2223l4 4-4 4-4-4zM1556 2229l4 4-4 4-4-4zM1602 2204l4 4-4 4-4-4zM1582 2206l4 4-4 4-4-4zM1552 2243l4 4-4 4-4-4zM1594 2224l4 4-4 4-4-4zM1585 2214l4 4-4 4-4-4zM1570 2213l4 4-4 4-4-4zM1594 2202l4 4-4 4-4-4zM1581 2213l4 4-4 4-4-4zM1679 2234l4 4-4 4-4-4zM1614 2199l4 4-4 4-4-4zM1616 2202l4 4-4 4-4-4zM1643 2250l4 4-4 4-4-4zM1685 2230l4 4-4 4-4-4zM1604 2222l4 4-4 4-4-4zM1630 2210l4 4-4 4-4-4zM1687 2233l4 4-4 4-4-4zM1603 2210l4 4-4 4-4-4zM1628 2208l4 4-4 4-4-4zM1658 2217l4 4-4 4-4-4zM1649 2206l4 4-4 4-4-4zM1610 2206l4 4-4 4-4-4zM1600 2208l4 4-4 4-4-4zM1614 2232l4 4-4 4-4-4zM1647 2231l4 4-4 4-4-4zM1600 2223l4 4-4 4-4-4zM1688 2248l4 4-4 4-4-4zM1640 2248l4 4-4 4-4-4zM1658 2218l4 4-4 4-4-4zM1615 2231l4 4-4 4-4-4zM1649 2212l4 4-4 4-4-4zM1672 2196l4 4-4 4-4-4zM1593 2244l4 4-4 4-4-4zM1633 2190l4 4-4 4-4-4zM1640 2212l4 4-4 4-4-4zM1616 2223l4 4-4 4-4-4zM1598 2229l4 4-4 4-4-4zM1661 2191l4 4-4 4-4-4zM1600 2221l4 4-4 4-4-4zM1675 2194l4 4-4 4-4-4zM1596 2223l4 4-4 4-4-4zM1624 2207l4 4-4 4-4-4zM1621 2203l4 4-4 4-4-4zM1713 2244l4 4-4 4-4-4zM1620 2228l4 4-4 4-4-4zM1693 2194l4 4-4 4-4-4zM1646 2201l4 4-4 4-4-4zM1675 2228l4 4-4 4-4-4zM1648 2240l4 4-4 4-4-4zM1698 2216l4 4-4 4-4-4zM1619 2217l4 4-4 4-4-4zM1659 2213l4 4-4 4-4-4zM1684 2216l4 4-4 4-4-4zM1697 2215l4 4-4 4-4-4zM1744 2207l4 4-4 4-4-4zM1710 2232l4 4-4 4-4-4zM1775 2226l4 4-4 4-4-4zM1743 2227l4 4-4 4-4-4zM1762 2255l4 4-4 4-4-4zM1741 2234l4 4-4 4-4-4zM1745 2216l4 4-4 4-4-4zM1800 2216l4 4-4 4-4-4zM1791 2241l4 4-4 4-4-4zM1735 2190l4 4-4 4-4-4zM1793 2242l4 4-4 4-4-4zM1794 2206l4 4-4 4-4-4zM1703 2222l4 4-4 4-4-4zM1702 2217l4 4-4 4-4-4zM1750 2206l4 4-4 4-4-4zM1784 2215l4 4-4 4-4-4zM1763 2223l4 4-4 4-4-4zM1712 2238l4 4-4 4-4-4zM1725 2239l4 4-4 4-4-4zM1764 2223l4 4-4 4-4-4zM1733 2248l4 4-4 4-4-4zM1772 2226l4 4-4 4-4-4zM1772 2189l4 4-4 4-4-4zM1727 2200l4 4-4 4-4-4zM1757 2244l4 4-4 4-4-4zM1821 2211l4 4-4 4-4-4zM1877 2236l4 4-4 4-4-4zM1867 2218l4 4-4 4-4-4zM1840 2229l4 4-4 4-4-4zM1844 2216l4 4-4 4-4-4zM1884 2227l4 4-4 4-4-4zM1870 2237l4 4-4 4-4-4zM1856 2235l4 4-4 4-4-4zM1804 2227l4 4-4 4-4-4zM1818 2212l4 4-4 4-4-4zM1867 2213l4 4-4 4-4-4zM1865 2240l4 4-4 4-4-4zM1839 2209l4 4-4 4-4-4zM1852 2245l4 4-4 4-4-4zM1891 2218l4 4-4 4-4-4zM1873 2226l4 4-4 4-4-4zM1844 2226l4 4-4 4-4-4zM1824 2227l4 4-4 4-4-4zM1885 2241l4 4-4 4-4-4zM1873 2172l4 4-4 4-4-4zM1958 2214l4 4-4 4-4-4zM1966 2198l4 4-4 4-4-4zM1898 2210l4 4-4 4-4-4zM1916 2218l4 4-4 4-4-4zM1891 2231l4 4-4 4-4-4zM1959 2191l4 4-4 4-4-4zM1917 2185l4 4-4 4-4-4zM1993 2199l4 4-4 4-4-4zM1954 2204l4 4-4 4-4-4zM1960 2225l4 4-4 4-4-4zM1969 2197l4 4-4 4-4-4zM1909 2229l4 4-4 4-4-4zM2024 2203l4 4-4 4-4-4zM2089 2228l4 4-4 4-4-4zM2021 2229l4 4-4 4-4-4zM2014 2215l4 4-4 4-4-4zM2003 2188l4 4-4 4-4-4zM2121 2237l4 4-4 4-4-4zM2147 2198l4 4-4 4-4-4zM2145 2221l4 4-4 4-4-4zM1563 2296l4 4-4 4-4-4zM1573 2282l4 4-4 4-4-4zM1558 2287l4 4-4 4-4-4zM1573 2279l4 4-4 4-4-4zM1559 2277l4 4-4 4-4-4zM1623 2271l4 4-4 4-4-4zM1637 2283l4 4-4 4-4-4zM1683 2256l4 4-4 4-4-4zM1628 2259l4 4-4 4-4-4zM1634 2253l4 4-4 4-4-4zM1636 2288l4 4-4 4-4-4zM1744 2273l4 4-4 4-4-4zM1769 2282l4 4-4 4-4-4zM1938 2293l4 4-4 4-4-4zM2042 2276l4 4-4 4-4-4zM2110 2294l4 4-4 4-4-4zM1586 2311l4 4-4 4-4-4zM1684 2319l4 4-4 4-4-4zM1734 2321l4 4-4 4-4-4zM1292 2318l4 4-4 4-4-4zM1331 2321l4 4-4 4-4-4zM1456 2333l4 4-4 4-4-4zM979 2083l4 4-4 4-4-4zM1027 2099l4 4-4 4-4-4zM1018 2084l4 4-4 4-4-4zM1012 2086l4 4-4 4-4-4zM1048 2091l4 4-4 4-4-4zM1011 2085l4 4-4 4-4-4zM1042 2081l4 4-4 4-4-4zM1092 2096l4 4-4 4-4-4zM1087 2098l4 4-4 4-4-4zM1082 2078l4 4-4 4-4-4zM1049 2087l4 4-4 4-4-4zM1084 2091l4 4-4 4-4-4zM1071 2086l4 4-4 4-4-4zM1092 2083l4 4-4 4-4-4zM1057 2095l4 4-4 4-4-4zM1086 2098l4 4-4 4-4-4zM1054 2092l4 4-4 4-4-4zM1080 2084l4 4-4 4-4-4zM1071 2087l4 4-4 4-4-4zM1060 2089l4 4-4 4-4-4zM1078 2097l4 4-4 4-4-4zM1116 2076l4 4-4 4-4-4zM1116 2100l4 4-4 4-4-4zM1105 2087l4 4-4 4-4-4zM1116 2101l4 4-4 4-4-4zM1116 2089l4 4-4 4-4-4zM1156 2097l4 4-4 4-4-4zM1127 2082l4 4-4 4-4-4zM1110 2067l4 4-4 4-4-4zM1139 2087l4 4-4 4-4-4zM1113 2086l4 4-4 4-4-4zM1144 2099l4 4-4 4-4-4zM1134 2098l4 4-4 4-4-4zM1151 2094l4 4-4 4-4-4zM1112 2105l4 4-4 4-4-4zM1112 2099l4 4-4 4-4-4zM1140 2088l4 4-4 4-4-4zM1127 2086l4 4-4 4-4-4zM1128 2103l4 4-4 4-4-4zM1110 2090l4 4-4 4-4-4zM1149 2079l4 4-4 4-4-4zM1136 2097l4 4-4 4-4-4zM1107 2080l4 4-4 4-4-4zM1124 2090l4 4-4 4-4-4zM1119 2092l4 4-4 4-4-4zM1185 2095l4 4-4 4-4-4zM1188 2078l4 4-4 4-4-4zM1160 2089l4 4-4 4-4-4zM1187 2098l4 4-4 4-4-4zM1190 2092l4 4-4 4-4-4zM1184 2075l4 4-4 4-4-4zM1177 2074l4 4-4 4-4-4zM1177 2091l4 4-4 4-4-4zM1184 2078l4 4-4 4-4-4zM1152 2070l4 4-4 4-4-4zM1165 2080l4 4-4 4-4-4zM1162 2089l4 4-4 4-4-4zM1183 2078l4 4-4 4-4-4zM1160 2093l4 4-4 4-4-4zM1165 2087l4 4-4 4-4-4zM1168 2103l4 4-4 4-4-4zM1171 2094l4 4-4 4-4-4zM1198 2091l4 4-4 4-4-4zM1167 2079l4 4-4 4-4-4zM1158 2103l4 4-4 4-4-4zM1161 2077l4 4-4 4-4-4zM1159 2092l4 4-4 4-4-4zM1206 2082l4 4-4 4-4-4zM1221 2102l4 4-4 4-4-4zM1251 2104l4 4-4 4-4-4zM1234 2084l4 4-4 4-4-4zM1248 2103l4 4-4 4-4-4zM1223 2098l4 4-4 4-4-4zM1238 2091l4 4-4 4-4-4zM1239 2085l4 4-4 4-4-4zM1241 2089l4 4-4 4-4-4zM1229 2098l4 4-4 4-4-4zM1222 2092l4 4-4 4-4-4zM1220 2079l4 4-4 4-4-4zM1223 2090l4 4-4 4-4-4zM1216 2090l4 4-4 4-4-4zM1216 2095l4 4-4 4-4-4zM1213 2092l4 4-4 4-4-4zM1241 2089l4 4-4 4-4-4zM1209 2071l4 4-4 4-4-4zM1244 2099l4 4-4 4-4-4zM1209 2079l4 4-4 4-4-4zM1217 2080l4 4-4 4-4-4zM1249 2095l4 4-4 4-4-4zM1243 2093l4 4-4 4-4-4zM1231 2078l4 4-4 4-4-4zM1225 2096l4 4-4 4-4-4zM1288 2087l4 4-4 4-4-4zM1254 2100l4 4-4 4-4-4zM1265 2100l4 4-4 4-4-4zM1285 2082l4 4-4 4-4-4zM1283 2081l4 4-4 4-4-4zM1274 2096l4 4-4 4-4-4zM1256 2087l4 4-4 4-4-4zM1295 2078l4 4-4 4-4-4zM1264 2105l4 4-4 4-4-4zM1278 2098l4 4-4 4-4-4zM1283 2100l4 4-4 4-4-4zM1294 2088l4 4-4 4-4-4zM1278 2090l4 4-4 4-4-4zM1280 2075l4 4-4 4-4-4zM1269 2090l4 4-4 4-4-4zM1290 2096l4 4-4 4-4-4zM1278 2089l4 4-4 4-4-4zM1281 2085l4 4-4 4-4-4zM1257 2097l4 4-4 4-4-4zM1282 2078l4 4-4 4-4-4zM1252 2083l4 4-4 4-4-4zM1253 2092l4 4-4 4-4-4zM1289 2093l4 4-4 4-4-4zM1311 2101l4 4-4 4-4-4zM1319 2076l4 4-4 4-4-4zM1341 2089l4 4-4 4-4-4zM1344 2086l4 4-4 4-4-4zM1311 2090l4 4-4 4-4-4zM1331 2088l4 4-4 4-4-4zM1333 2089l4 4-4 4-4-4zM1307 2101l4 4-4 4-4-4zM1294 2079l4 4-4 4-4-4zM1327 2095l4 4-4 4-4-4zM1318 2105l4 4-4 4-4-4zM1316 2097l4 4-4 4-4-4zM1306 2100l4 4-4 4-4-4zM1325 2095l4 4-4 4-4-4zM1319 2092l4 4-4 4-4-4zM1325 2091l4 4-4 4-4-4zM1343 2104l4 4-4 4-4-4zM1370 2082l4 4-4 4-4-4zM1393 2096l4 4-4 4-4-4zM1367 2099l4 4-4 4-4-4zM1370 2094l4 4-4 4-4-4zM1393 2098l4 4-4 4-4-4zM1391 2078l4 4-4 4-4-4zM1389 2074l4 4-4 4-4-4zM1385 2085l4 4-4 4-4-4zM1400 2082l4 4-4 4-4-4zM1374 2097l4 4-4 4-4-4zM1370 2100l4 4-4 4-4-4zM1396 2094l4 4-4 4-4-4zM1390 2092l4 4-4 4-4-4zM1384 2103l4 4-4 4-4-4zM1437 2092l4 4-4 4-4-4zM1412 2089l4 4-4 4-4-4zM1451 2086l4 4-4 4-4-4zM1444 2076l4 4-4 4-4-4zM1443 2099l4 4-4 4-4-4zM1398 2095l4 4-4 4-4-4zM1422 2090l4 4-4 4-4-4zM1414 2101l4 4-4 4-4-4zM1410 2082l4 4-4 4-4-4zM1449 2080l4 4-4 4-4-4zM1425 2091l4 4-4 4-4-4zM1406 2103l4 4-4 4-4-4zM1437 2094l4 4-4 4-4-4zM1435 2081l4 4-4 4-4-4zM1451 2103l4 4-4 4-4-4zM1458 2093l4 4-4 4-4-4zM1486 2093l4 4-4 4-4-4zM1454 2084l4 4-4 4-4-4zM1465 2090l4 4-4 4-4-4zM1482 2089l4 4-4 4-4-4zM1482 2094l4 4-4 4-4-4zM1473 2075l4 4-4 4-4-4zM1501 2092l4 4-4 4-4-4zM1487 2074l4 4-4 4-4-4zM1462 2100l4 4-4 4-4-4zM1538 2087l4 4-4 4-4-4zM1522 2098l4 4-4 4-4-4zM1533 2089l4 4-4 4-4-4zM1532 2085l4 4-4 4-4-4zM1548 2093l4 4-4 4-4-4zM1516 2100l4 4-4 4-4-4zM1526 2087l4 4-4 4-4-4zM1512 2084l4 4-4 4-4-4zM1533 2095l4 4-4 4-4-4zM1543 2105l4 4-4 4-4-4zM1543 2078l4 4-4 4-4-4zM1513 2086l4 4-4 4-4-4zM976 2110l4 4-4 4-4-4zM1044 2116l4 4-4 4-4-4zM1006 2115l4 4-4 4-4-4zM1016 2104l4 4-4 4-4-4zM1050 2119l4 4-4 4-4-4zM1004 2104l4 4-4 4-4-4zM1012 2112l4 4-4 4-4-4zM1011 2106l4 4-4 4-4-4zM1000 2108l4 4-4 4-4-4zM1005 2101l4 4-4 4-4-4zM1029 2105l4 4-4 4-4-4zM1021 2106l4 4-4 4-4-4zM1064 2101l4 4-4 4-4-4zM1048 2111l4 4-4 4-4-4zM1093 2124l4 4-4 4-4-4zM1081 2100l4 4-4 4-4-4zM1073 2122l4 4-4 4-4-4zM1066 2120l4 4-4 4-4-4zM1064 2127l4 4-4 4-4-4zM1098 2119l4 4-4 4-4-4zM1072 2119l4 4-4 4-4-4zM1069 2119l4 4-4 4-4-4zM1086 2123l4 4-4 4-4-4zM1064 2098l4 4-4 4-4-4zM1092 2102l4 4-4 4-4-4zM1060 2104l4 4-4 4-4-4zM1056 2100l4 4-4 4-4-4zM1090 2097l4 4-4 4-4-4zM1099 2102l4 4-4 4-4-4zM1084 2110l4 4-4 4-4-4zM1092 2115l4 4-4 4-4-4zM1118 2125l4 4-4 4-4-4zM1133 2102l4 4-4 4-4-4zM1133 2105l4 4-4 4-4-4zM1114 2108l4 4-4 4-4-4zM1119 2108l4 4-4 4-4-4zM1113 2121l4 4-4 4-4-4zM1101 2123l4 4-4 4-4-4zM1141 2109l4 4-4 4-4-4zM1143 2122l4 4-4 4-4-4zM1125 2129l4 4-4 4-4-4zM1145 2100l4 4-4 4-4-4zM1128 2116l4 4-4 4-4-4zM1108 2105l4 4-4 4-4-4zM1128 2117l4 4-4 4-4-4zM1159 2102l4 4-4 4-4-4zM1136 2117l4 4-4 4-4-4zM1118 2121l4 4-4 4-4-4zM1118 2122l4 4-4 4-4-4zM1134 2114l4 4-4 4-4-4zM1145 2120l4 4-4 4-4-4zM1109 2118l4 4-4 4-4-4zM1110 2109l4 4-4 4-4-4zM1102 2100l4 4-4 4-4-4zM1097 2126l4 4-4 4-4-4zM1135 2123l4 4-4 4-4-4zM1119 2105l4 4-4 4-4-4zM1138 2115l4 4-4 4-4-4zM1175 2103l4 4-4 4-4-4zM1151 2105l4 4-4 4-4-4zM1187 2105l4 4-4 4-4-4zM1189 2103l4 4-4 4-4-4zM1158 2104l4 4-4 4-4-4zM1196 2109l4 4-4 4-4-4zM1200 2097l4 4-4 4-4-4zM1157 2131l4 4-4 4-4-4zM1192 2106l4 4-4 4-4-4zM1153 2129l4 4-4 4-4-4zM1193 2114l4 4-4 4-4-4zM1175 2126l4 4-4 4-4-4zM1174 2113l4 4-4 4-4-4zM1181 2105l4 4-4 4-4-4zM1155 2132l4 4-4 4-4-4zM1181 2107l4 4-4 4-4-4zM1152 2124l4 4-4 4-4-4zM1195 2117l4 4-4 4-4-4zM1152 2111l4 4-4 4-4-4zM1162 2122l4 4-4 4-4-4zM1168 2118l4 4-4 4-4-4zM1171 2118l4 4-4 4-4-4zM1181 2097l4 4-4 4-4-4zM1165 2106l4 4-4 4-4-4zM1150 2100l4 4-4 4-4-4zM1195 2111l4 4-4 4-4-4zM1175 2128l4 4-4 4-4-4zM1189 2104l4 4-4 4-4-4zM1161 2109l4 4-4 4-4-4zM1192 2118l4 4-4 4-4-4zM1149 2107l4 4-4 4-4-4zM1225 2098l4 4-4 4-4-4zM1228 2111l4 4-4 4-4-4zM1224 2121l4 4-4 4-4-4zM1223 2101l4 4-4 4-4-4zM1205 2108l4 4-4 4-4-4zM1248 2119l4 4-4 4-4-4zM1240 2126l4 4-4 4-4-4zM1214 2105l4 4-4 4-4-4zM1210 2127l4 4-4 4-4-4zM1204 2123l4 4-4 4-4-4zM1240 2118l4 4-4 4-4-4zM1223 2128l4 4-4 4-4-4zM1216 2116l4 4-4 4-4-4zM1224 2117l4 4-4 4-4-4zM1207 2112l4 4-4 4-4-4zM1203 2110l4 4-4 4-4-4zM1211 2122l4 4-4 4-4-4zM1211 2115l4 4-4 4-4-4zM1212 2116l4 4-4 4-4-4zM1230 2112l4 4-4 4-4-4zM1219 2124l4 4-4 4-4-4zM1255 2107l4 4-4 4-4-4zM1239 2103l4 4-4 4-4-4zM1208 2114l4 4-4 4-4-4zM1203 2115l4 4-4 4-4-4zM1202 2102l4 4-4 4-4-4zM1228 2108l4 4-4 4-4-4zM1215 2114l4 4-4 4-4-4zM1243 2104l4 4-4 4-4-4zM1236 2113l4 4-4 4-4-4zM1200 2101l4 4-4 4-4-4zM1205 2118l4 4-4 4-4-4zM1233 2118l4 4-4 4-4-4zM1234 2111l4 4-4 4-4-4zM1222 2104l4 4-4 4-4-4zM1208 2103l4 4-4 4-4-4zM1251 2100l4 4-4 4-4-4zM1259 2109l4 4-4 4-4-4zM1269 2107l4 4-4 4-4-4zM1280 2115l4 4-4 4-4-4zM1266 2112l4 4-4 4-4-4zM1289 2124l4 4-4 4-4-4zM1263 2108l4 4-4 4-4-4zM1247 2122l4 4-4 4-4-4zM1257 2116l4 4-4 4-4-4zM1287 2116l4 4-4 4-4-4zM1284 2125l4 4-4 4-4-4zM1296 2114l4 4-4 4-4-4zM1276 2125l4 4-4 4-4-4zM1265 2100l4 4-4 4-4-4zM1304 2111l4 4-4 4-4-4zM1261 2120l4 4-4 4-4-4zM1261 2115l4 4-4 4-4-4zM1292 2105l4 4-4 4-4-4zM1297 2105l4 4-4 4-4-4zM1291 2131l4 4-4 4-4-4zM1291 2125l4 4-4 4-4-4zM1280 2106l4 4-4 4-4-4zM1271 2112l4 4-4 4-4-4zM1297 2126l4 4-4 4-4-4zM1288 2120l4 4-4 4-4-4zM1253 2109l4 4-4 4-4-4zM1293 2101l4 4-4 4-4-4zM1260 2117l4 4-4 4-4-4zM1280 2110l4 4-4 4-4-4zM1285 2108l4 4-4 4-4-4zM1252 2123l4 4-4 4-4-4zM1313 2112l4 4-4 4-4-4zM1336 2100l4 4-4 4-4-4zM1341 2116l4 4-4 4-4-4zM1309 2122l4 4-4 4-4-4zM1311 2099l4 4-4 4-4-4zM1342 2101l4 4-4 4-4-4zM1328 2125l4 4-4 4-4-4zM1343 2118l4 4-4 4-4-4zM1316 2112l4 4-4 4-4-4zM1316 2097l4 4-4 4-4-4zM1346 2104l4 4-4 4-4-4zM1339 2132l4 4-4 4-4-4zM1310 2106l4 4-4 4-4-4zM1299 2117l4 4-4 4-4-4zM1336 2120l4 4-4 4-4-4zM1336 2108l4 4-4 4-4-4zM1319 2102l4 4-4 4-4-4zM1317 2111l4 4-4 4-4-4zM1302 2102l4 4-4 4-4-4zM1319 2122l4 4-4 4-4-4zM1395 2106l4 4-4 4-4-4zM1374 2123l4 4-4 4-4-4zM1370 2106l4 4-4 4-4-4zM1401 2112l4 4-4 4-4-4zM1372 2102l4 4-4 4-4-4zM1384 2119l4 4-4 4-4-4zM1357 2107l4 4-4 4-4-4zM1358 2113l4 4-4 4-4-4zM1380 2113l4 4-4 4-4-4zM1363 2112l4 4-4 4-4-4zM1393 2132l4 4-4 4-4-4zM1353 2104l4 4-4 4-4-4zM1389 2105l4 4-4 4-4-4zM1396 2116l4 4-4 4-4-4zM1386 2118l4 4-4 4-4-4zM1395 2106l4 4-4 4-4-4zM1358 2120l4 4-4 4-4-4zM1372 2111l4 4-4 4-4-4zM1385 2114l4 4-4 4-4-4zM1375 2114l4 4-4 4-4-4zM1448 2101l4 4-4 4-4-4zM1417 2106l4 4-4 4-4-4zM1441 2109l4 4-4 4-4-4zM1430 2127l4 4-4 4-4-4zM1417 2114l4 4-4 4-4-4zM1411 2113l4 4-4 4-4-4zM1403 2112l4 4-4 4-4-4zM1436 2108l4 4-4 4-4-4zM1418 2130l4 4-4 4-4-4zM1406 2107l4 4-4 4-4-4zM1440 2118l4 4-4 4-4-4zM1411 2114l4 4-4 4-4-4zM1449 2115l4 4-4 4-4-4zM1448 2099l4 4-4 4-4-4zM1416 2124l4 4-4 4-4-4zM1439 2120l4 4-4 4-4-4zM1445 2122l4 4-4 4-4-4zM1437 2122l4 4-4 4-4-4zM1412 2104l4 4-4 4-4-4zM1447 2119l4 4-4 4-4-4zM1423 2127l4 4-4 4-4-4zM1404 2119l4 4-4 4-4-4zM1434 2100l4 4-4 4-4-4zM1504 2121l4 4-4 4-4-4zM1452 2101l4 4-4 4-4-4zM1450 2106l4 4-4 4-4-4zM1482 2121l4 4-4 4-4-4zM1477 2120l4 4-4 4-4-4zM1483 2119l4 4-4 4-4-4zM1479 2113l4 4-4 4-4-4zM1495 2130l4 4-4 4-4-4zM1498 2117l4 4-4 4-4-4zM1460 2099l4 4-4 4-4-4zM1464 2129l4 4-4 4-4-4zM1504 2127l4 4-4 4-4-4zM1482 2128l4 4-4 4-4-4zM1460 2127l4 4-4 4-4-4zM1471 2116l4 4-4 4-4-4zM1461 2104l4 4-4 4-4-4zM1469 2111l4 4-4 4-4-4zM1536 2121l4 4-4 4-4-4zM1519 2113l4 4-4 4-4-4zM1511 2117l4 4-4 4-4-4zM1507 2116l4 4-4 4-4-4zM1551 2102l4 4-4 4-4-4zM1517 2108l4 4-4 4-4-4zM1551 2118l4 4-4 4-4-4zM1535 2112l4 4-4 4-4-4zM1525 2118l4 4-4 4-4-4zM1531 2113l4 4-4 4-4-4zM1523 2098l4 4-4 4-4-4zM1534 2110l4 4-4 4-4-4zM1509 2112l4 4-4 4-4-4zM1516 2107l4 4-4 4-4-4zM1542 2109l4 4-4 4-4-4zM1506 2101l4 4-4 4-4-4zM1521 2114l4 4-4 4-4-4zM964 2147l4 4-4 4-4-4zM981 2143l4 4-4 4-4-4zM1036 2130l4 4-4 4-4-4zM1043 2143l4 4-4 4-4-4zM1048 2137l4 4-4 4-4-4zM1039 2130l4 4-4 4-4-4zM1008 2153l4 4-4 4-4-4zM1043 2133l4 4-4 4-4-4zM1036 2135l4 4-4 4-4-4zM1001 2138l4 4-4 4-4-4zM1045 2130l4 4-4 4-4-4zM1040 2136l4 4-4 4-4-4zM1048 2146l4 4-4 4-4-4zM1008 2132l4 4-4 4-4-4zM1003 2138l4 4-4 4-4-4zM1041 2137l4 4-4 4-4-4zM1006 2137l4 4-4 4-4-4zM1006 2153l4 4-4 4-4-4zM1079 2122l4 4-4 4-4-4zM1064 2137l4 4-4 4-4-4zM1079 2142l4 4-4 4-4-4zM1073 2128l4 4-4 4-4-4zM1063 2150l4 4-4 4-4-4zM1048 2131l4 4-4 4-4-4zM1078 2147l4 4-4 4-4-4zM1065 2133l4 4-4 4-4-4zM1060 2142l4 4-4 4-4-4zM1102 2152l4 4-4 4-4-4zM1095 2150l4 4-4 4-4-4zM1089 2144l4 4-4 4-4-4zM1071 2135l4 4-4 4-4-4zM1092 2126l4 4-4 4-4-4zM1100 2126l4 4-4 4-4-4zM1094 2135l4 4-4 4-4-4zM1089 2150l4 4-4 4-4-4zM1076 2138l4 4-4 4-4-4zM1084 2140l4 4-4 4-4-4zM1082 2125l4 4-4 4-4-4zM1074 2147l4 4-4 4-4-4zM1070 2137l4 4-4 4-4-4zM1070 2139l4 4-4 4-4-4zM1072 2147l4 4-4 4-4-4zM1064 2130l4 4-4 4-4-4zM1085 2134l4 4-4 4-4-4zM1068 2130l4 4-4 4-4-4zM1116 2155l4 4-4 4-4-4zM1120 2129l4 4-4 4-4-4zM1137 2134l4 4-4 4-4-4zM1107 2140l4 4-4 4-4-4zM1131 2134l4 4-4 4-4-4zM1118 2153l4 4-4 4-4-4zM1145 2142l4 4-4 4-4-4zM1139 2139l4 4-4 4-4-4zM1103 2144l4 4-4 4-4-4zM1144 2145l4 4-4 4-4-4zM1140 2129l4 4-4 4-4-4zM1117 2139l4 4-4 4-4-4zM1119 2150l4 4-4 4-4-4zM1120 2139l4 4-4 4-4-4zM1138 2127l4 4-4 4-4-4zM1147 2135l4 4-4 4-4-4zM1117 2131l4 4-4 4-4-4zM1101 2130l4 4-4 4-4-4zM1144 2126l4 4-4 4-4-4zM1109 2141l4 4-4 4-4-4zM1113 2131l4 4-4 4-4-4zM1152 2131l4 4-4 4-4-4zM1126 2131l4 4-4 4-4-4zM1110 2150l4 4-4 4-4-4zM1122 2136l4 4-4 4-4-4zM1125 2131l4 4-4 4-4-4zM1138 2149l4 4-4 4-4-4zM1114 2152l4 4-4 4-4-4zM1119 2133l4 4-4 4-4-4zM1139 2149l4 4-4 4-4-4zM1148 2135l4 4-4 4-4-4zM1109 2143l4 4-4 4-4-4zM1149 2134l4 4-4 4-4-4zM1143 2131l4 4-4 4-4-4zM1119 2140l4 4-4 4-4-4zM1147 2142l4 4-4 4-4-4zM1140 2130l4 4-4 4-4-4zM1105 2142l4 4-4 4-4-4zM1121 2137l4 4-4 4-4-4zM1147 2138l4 4-4 4-4-4zM1104 2121l4 4-4 4-4-4zM1186 2127l4 4-4 4-4-4zM1196 2131l4 4-4 4-4-4zM1180 2134l4 4-4 4-4-4zM1183 2139l4 4-4 4-4-4zM1189 2129l4 4-4 4-4-4zM1174 2145l4 4-4 4-4-4zM1148 2126l4 4-4 4-4-4zM1172 2148l4 4-4 4-4-4zM1156 2125l4 4-4 4-4-4zM1150 2123l4 4-4 4-4-4zM1169 2135l4 4-4 4-4-4zM1180 2132l4 4-4 4-4-4zM1150 2141l4 4-4 4-4-4zM1177 2139l4 4-4 4-4-4zM1175 2150l4 4-4 4-4-4zM1155 2140l4 4-4 4-4-4zM1200 2127l4 4-4 4-4-4zM1197 2156l4 4-4 4-4-4zM1174 2149l4 4-4 4-4-4zM1172 2136l4 4-4 4-4-4zM1183 2141l4 4-4 4-4-4zM1153 2124l4 4-4 4-4-4zM1180 2136l4 4-4 4-4-4zM1196 2143l4 4-4 4-4-4zM1152 2134l4 4-4 4-4-4zM1179 2142l4 4-4 4-4-4zM1203 2143l4 4-4 4-4-4zM1194 2144l4 4-4 4-4-4zM1158 2148l4 4-4 4-4-4zM1186 2150l4 4-4 4-4-4zM1143 2134l4 4-4 4-4-4zM1198 2133l4 4-4 4-4-4zM1181 2136l4 4-4 4-4-4zM1191 2139l4 4-4 4-4-4zM1175 2143l4 4-4 4-4-4zM1173 2134l4 4-4 4-4-4zM1164 2137l4 4-4 4-4-4zM1176 2153l4 4-4 4-4-4zM1174 2143l4 4-4 4-4-4zM1195 2140l4 4-4 4-4-4zM1159 2129l4 4-4 4-4-4zM1182 2137l4 4-4 4-4-4zM1166 2153l4 4-4 4-4-4zM1202 2147l4 4-4 4-4-4zM1157 2154l4 4-4 4-4-4zM1190 2142l4 4-4 4-4-4zM1172 2132l4 4-4 4-4-4zM1243 2154l4 4-4 4-4-4zM1202 2140l4 4-4 4-4-4zM1221 2143l4 4-4 4-4-4zM1230 2149l4 4-4 4-4-4zM1223 2144l4 4-4 4-4-4zM1246 2138l4 4-4 4-4-4zM1248 2144l4 4-4 4-4-4zM1209 2137l4 4-4 4-4-4zM1242 2142l4 4-4 4-4-4zM1208 2129l4 4-4 4-4-4zM1240 2129l4 4-4 4-4-4zM1248 2139l4 4-4 4-4-4zM1252 2133l4 4-4 4-4-4zM1217 2144l4 4-4 4-4-4zM1240 2135l4 4-4 4-4-4zM1227 2143l4 4-4 4-4-4zM1216 2141l4 4-4 4-4-4zM1251 2146l4 4-4 4-4-4zM1210 2130l4 4-4 4-4-4zM1228 2124l4 4-4 4-4-4zM1225 2137l4 4-4 4-4-4zM1208 2134l4 4-4 4-4-4zM1227 2150l4 4-4 4-4-4zM1198 2133l4 4-4 4-4-4zM1232 2154l4 4-4 4-4-4zM1224 2134l4 4-4 4-4-4zM1216 2142l4 4-4 4-4-4zM1207 2148l4 4-4 4-4-4zM1229 2126l4 4-4 4-4-4zM1221 2126l4 4-4 4-4-4zM1221 2129l4 4-4 4-4-4zM1204 2137l4 4-4 4-4-4zM1231 2132l4 4-4 4-4-4zM1241 2148l4 4-4 4-4-4zM1245 2148l4 4-4 4-4-4zM1233 2148l4 4-4 4-4-4zM1236 2144l4 4-4 4-4-4zM1245 2138l4 4-4 4-4-4zM1234 2134l4 4-4 4-4-4zM1228 2129l4 4-4 4-4-4zM1238 2132l4 4-4 4-4-4zM1241 2150l4 4-4 4-4-4zM1251 2138l4 4-4 4-4-4zM1242 2126l4 4-4 4-4-4zM1220 2124l4 4-4 4-4-4zM1209 2138l4 4-4 4-4-4zM1220 2145l4 4-4 4-4-4zM1214 2131l4 4-4 4-4-4zM1222 2148l4 4-4 4-4-4zM1229 2143l4 4-4 4-4-4zM1231 2129l4 4-4 4-4-4zM1211 2123l4 4-4 4-4-4zM1231 2132l4 4-4 4-4-4zM1220 2132l4 4-4 4-4-4zM1300 2130l4 4-4 4-4-4zM1290 2130l4 4-4 4-4-4zM1291 2129l4 4-4 4-4-4zM1254 2143l4 4-4 4-4-4zM1264 2154l4 4-4 4-4-4zM1283 2130l4 4-4 4-4-4zM1263 2152l4 4-4 4-4-4zM1285 2143l4 4-4 4-4-4zM1272 2150l4 4-4 4-4-4zM1256 2152l4 4-4 4-4-4zM1259 2141l4 4-4 4-4-4zM1243 2132l4 4-4 4-4-4zM1288 2135l4 4-4 4-4-4zM1276 2129l4 4-4 4-4-4zM1256 2151l4 4-4 4-4-4zM1274 2134l4 4-4 4-4-4zM1284 2146l4 4-4 4-4-4zM1253 2147l4 4-4 4-4-4zM1260 2147l4 4-4 4-4-4zM1289 2139l4 4-4 4-4-4zM1261 2143l4 4-4 4-4-4zM1279 2121l4 4-4 4-4-4zM1296 2151l4 4-4 4-4-4zM1275 2150l4 4-4 4-4-4zM1269 2136l4 4-4 4-4-4zM1269 2155l4 4-4 4-4-4zM1298 2128l4 4-4 4-4-4zM1273 2123l4 4-4 4-4-4zM1267 2150l4 4-4 4-4-4zM1281 2141l4 4-4 4-4-4zM1282 2141l4 4-4 4-4-4zM1252 2139l4 4-4 4-4-4zM1273 2127l4 4-4 4-4-4zM1260 2144l4 4-4 4-4-4zM1289 2144l4 4-4 4-4-4zM1278 2126l4 4-4 4-4-4zM1286 2145l4 4-4 4-4-4zM1258 2144l4 4-4 4-4-4zM1276 2144l4 4-4 4-4-4zM1286 2131l4 4-4 4-4-4zM1293 2137l4 4-4 4-4-4zM1266 2143l4 4-4 4-4-4zM1261 2128l4 4-4 4-4-4zM1290 2136l4 4-4 4-4-4zM1289 2136l4 4-4 4-4-4zM1283 2145l4 4-4 4-4-4zM1289 2158l4 4-4 4-4-4zM1319 2138l4 4-4 4-4-4zM1337 2151l4 4-4 4-4-4zM1309 2149l4 4-4 4-4-4zM1320 2129l4 4-4 4-4-4zM1352 2136l4 4-4 4-4-4zM1331 2140l4 4-4 4-4-4zM1349 2139l4 4-4 4-4-4zM1317 2134l4 4-4 4-4-4zM1316 2142l4 4-4 4-4-4zM1328 2144l4 4-4 4-4-4zM1299 2120l4 4-4 4-4-4zM1316 2131l4 4-4 4-4-4zM1308 2139l4 4-4 4-4-4zM1347 2129l4 4-4 4-4-4zM1308 2139l4 4-4 4-4-4zM1331 2146l4 4-4 4-4-4zM1304 2139l4 4-4 4-4-4zM1348 2134l4 4-4 4-4-4zM1349 2139l4 4-4 4-4-4zM1322 2135l4 4-4 4-4-4zM1313 2138l4 4-4 4-4-4zM1306 2133l4 4-4 4-4-4zM1336 2153l4 4-4 4-4-4zM1305 2143l4 4-4 4-4-4zM1308 2141l4 4-4 4-4-4zM1315 2134l4 4-4 4-4-4zM1327 2146l4 4-4 4-4-4zM1320 2139l4 4-4 4-4-4zM1348 2140l4 4-4 4-4-4zM1357 2146l4 4-4 4-4-4zM1322 2151l4 4-4 4-4-4zM1370 2151l4 4-4 4-4-4zM1395 2134l4 4-4 4-4-4zM1365 2126l4 4-4 4-4-4zM1389 2145l4 4-4 4-4-4zM1384 2142l4 4-4 4-4-4zM1369 2135l4 4-4 4-4-4zM1354 2146l4 4-4 4-4-4zM1390 2135l4 4-4 4-4-4zM1400 2124l4 4-4 4-4-4zM1394 2138l4 4-4 4-4-4zM1364 2136l4 4-4 4-4-4zM1401 2135l4 4-4 4-4-4zM1381 2154l4 4-4 4-4-4zM1355 2136l4 4-4 4-4-4zM1396 2145l4 4-4 4-4-4zM1397 2122l4 4-4 4-4-4zM1358 2131l4 4-4 4-4-4zM1354 2135l4 4-4 4-4-4zM1375 2149l4 4-4 4-4-4zM1367 2156l4 4-4 4-4-4zM1373 2142l4 4-4 4-4-4zM1365 2134l4 4-4 4-4-4zM1382 2122l4 4-4 4-4-4zM1374 2146l4 4-4 4-4-4zM1384 2150l4 4-4 4-4-4zM1361 2147l4 4-4 4-4-4zM1353 2145l4 4-4 4-4-4zM1427 2146l4 4-4 4-4-4zM1410 2140l4 4-4 4-4-4zM1403 2147l4 4-4 4-4-4zM1402 2144l4 4-4 4-4-4zM1439 2130l4 4-4 4-4-4zM1430 2145l4 4-4 4-4-4zM1421 2151l4 4-4 4-4-4zM1403 2134l4 4-4 4-4-4zM1443 2145l4 4-4 4-4-4zM1429 2136l4 4-4 4-4-4zM1425 2146l4 4-4 4-4-4zM1453 2147l4 4-4 4-4-4zM1431 2126l4 4-4 4-4-4zM1449 2147l4 4-4 4-4-4zM1450 2136l4 4-4 4-4-4zM1414 2149l4 4-4 4-4-4zM1452 2126l4 4-4 4-4-4zM1436 2122l4 4-4 4-4-4zM1432 2136l4 4-4 4-4-4zM1414 2128l4 4-4 4-4-4zM1446 2130l4 4-4 4-4-4zM1446 2147l4 4-4 4-4-4zM1417 2142l4 4-4 4-4-4zM1438 2127l4 4-4 4-4-4zM1421 2136l4 4-4 4-4-4zM1448 2146l4 4-4 4-4-4zM1421 2128l4 4-4 4-4-4zM1434 2152l4 4-4 4-4-4zM1429 2147l4 4-4 4-4-4zM1456 2143l4 4-4 4-4-4zM1408 2147l4 4-4 4-4-4zM1450 2144l4 4-4 4-4-4zM1481 2123l4 4-4 4-4-4zM1451 2146l4 4-4 4-4-4zM1477 2144l4 4-4 4-4-4zM1449 2138l4 4-4 4-4-4zM1486 2133l4 4-4 4-4-4zM1474 2124l4 4-4 4-4-4zM1499 2149l4 4-4 4-4-4zM1500 2127l4 4-4 4-4-4zM1495 2149l4 4-4 4-4-4zM1464 2136l4 4-4 4-4-4zM1488 2131l4 4-4 4-4-4zM1464 2126l4 4-4 4-4-4zM1505 2140l4 4-4 4-4-4zM1489 2144l4 4-4 4-4-4zM1496 2119l4 4-4 4-4-4zM1481 2139l4 4-4 4-4-4zM1477 2152l4 4-4 4-4-4zM1498 2125l4 4-4 4-4-4zM1445 2128l4 4-4 4-4-4zM1467 2148l4 4-4 4-4-4zM1455 2143l4 4-4 4-4-4zM1463 2137l4 4-4 4-4-4zM1537 2148l4 4-4 4-4-4zM1540 2131l4 4-4 4-4-4zM1551 2130l4 4-4 4-4-4zM1546 2128l4 4-4 4-4-4zM1544 2141l4 4-4 4-4-4zM1535 2143l4 4-4 4-4-4zM1552 2135l4 4-4 4-4-4zM1535 2154l4 4-4 4-4-4zM1530 2148l4 4-4 4-4-4zM1511 2136l4 4-4 4-4-4zM1501 2141l4 4-4 4-4-4zM1520 2152l4 4-4 4-4-4zM1522 2140l4 4-4 4-4-4zM1525 2129l4 4-4 4-4-4zM1506 2153l4 4-4 4-4-4zM1540 2144l4 4-4 4-4-4zM1533 2136l4 4-4 4-4-4zM1550 2141l4 4-4 4-4-4zM1530 2156l4 4-4 4-4-4zM1518 2143l4 4-4 4-4-4zM1539 2133l4 4-4 4-4-4zM1548 2151l4 4-4 4-4-4zM1531 2135l4 4-4 4-4-4zM992 2161l4 4-4 4-4-4zM1004 2167l4 4-4 4-4-4zM971 2168l4 4-4 4-4-4zM999 2178l4 4-4 4-4-4zM1003 2151l4 4-4 4-4-4zM1012 2173l4 4-4 4-4-4zM1029 2159l4 4-4 4-4-4zM1009 2178l4 4-4 4-4-4zM1052 2172l4 4-4 4-4-4zM1007 2178l4 4-4 4-4-4zM1042 2168l4 4-4 4-4-4zM1018 2159l4 4-4 4-4-4zM1032 2151l4 4-4 4-4-4zM1023 2159l4 4-4 4-4-4zM1020 2167l4 4-4 4-4-4zM1000 2173l4 4-4 4-4-4zM1018 2156l4 4-4 4-4-4zM1041 2170l4 4-4 4-4-4zM1000 2164l4 4-4 4-4-4zM1014 2165l4 4-4 4-4-4zM1016 2149l4 4-4 4-4-4zM1053 2174l4 4-4 4-4-4zM1031 2171l4 4-4 4-4-4zM1052 2162l4 4-4 4-4-4zM1066 2163l4 4-4 4-4-4zM1042 2151l4 4-4 4-4-4zM1077 2175l4 4-4 4-4-4zM1103 2171l4 4-4 4-4-4zM1079 2164l4 4-4 4-4-4zM1090 2151l4 4-4 4-4-4zM1092 2164l4 4-4 4-4-4zM1067 2147l4 4-4 4-4-4zM1080 2175l4 4-4 4-4-4zM1079 2156l4 4-4 4-4-4zM1050 2171l4 4-4 4-4-4zM1098 2159l4 4-4 4-4-4zM1091 2166l4 4-4 4-4-4zM1058 2173l4 4-4 4-4-4zM1056 2171l4 4-4 4-4-4zM1063 2166l4 4-4 4-4-4zM1051 2175l4 4-4 4-4-4zM1095 2158l4 4-4 4-4-4zM1058 2173l4 4-4 4-4-4zM1084 2164l4 4-4 4-4-4zM1081 2169l4 4-4 4-4-4zM1065 2171l4 4-4 4-4-4zM1070 2151l4 4-4 4-4-4zM1080 2171l4 4-4 4-4-4zM1063 2158l4 4-4 4-4-4zM1094 2168l4 4-4 4-4-4zM1091 2159l4 4-4 4-4-4zM1065 2168l4 4-4 4-4-4zM1079 2155l4 4-4 4-4-4zM1067 2151l4 4-4 4-4-4zM1076 2148l4 4-4 4-4-4zM1066 2167l4 4-4 4-4-4zM1062 2170l4 4-4 4-4-4zM1084 2149l4 4-4 4-4-4zM1090 2159l4 4-4 4-4-4zM1085 2170l4 4-4 4-4-4zM1075 2171l4 4-4 4-4-4zM1053 2160l4 4-4 4-4-4zM1090 2156l4 4-4 4-4-4zM1079 2175l4 4-4 4-4-4zM1128 2178l4 4-4 4-4-4zM1100 2171l4 4-4 4-4-4zM1138 2169l4 4-4 4-4-4zM1108 2162l4 4-4 4-4-4zM1108 2148l4 4-4 4-4-4zM1123 2162l4 4-4 4-4-4zM1108 2161l4 4-4 4-4-4zM1112 2171l4 4-4 4-4-4zM1138 2173l4 4-4 4-4-4zM1135 2171l4 4-4 4-4-4zM1107 2153l4 4-4 4-4-4zM1105 2171l4 4-4 4-4-4zM1096 2157l4 4-4 4-4-4zM1109 2171l4 4-4 4-4-4zM1100 2172l4 4-4 4-4-4zM1131 2153l4 4-4 4-4-4zM1147 2171l4 4-4 4-4-4zM1112 2158l4 4-4 4-4-4zM1108 2175l4 4-4 4-4-4zM1117 2162l4 4-4 4-4-4zM1134 2158l4 4-4 4-4-4zM1121 2169l4 4-4 4-4-4zM1110 2170l4 4-4 4-4-4zM1108 2175l4 4-4 4-4-4zM1112 2157l4 4-4 4-4-4zM1102 2173l4 4-4 4-4-4zM1153 2160l4 4-4 4-4-4zM1103 2180l4 4-4 4-4-4zM1123 2168l4 4-4 4-4-4zM1137 2158l4 4-4 4-4-4zM1142 2155l4 4-4 4-4-4zM1141 2179l4 4-4 4-4-4zM1113 2174l4 4-4 4-4-4zM1136 2150l4 4-4 4-4-4zM1128 2149l4 4-4 4-4-4zM1133 2163l4 4-4 4-4-4zM1117 2150l4 4-4 4-4-4zM1115 2162l4 4-4 4-4-4zM1108 2168l4 4-4 4-4-4zM1135 2158l4 4-4 4-4-4zM1147 2163l4 4-4 4-4-4zM1139 2167l4 4-4 4-4-4zM1137 2164l4 4-4 4-4-4zM1102 2174l4 4-4 4-4-4zM1105 2163l4 4-4 4-4-4zM1146 2158l4 4-4 4-4-4zM1122 2171l4 4-4 4-4-4zM1125 2170l4 4-4 4-4-4zM1130 2174l4 4-4 4-4-4zM1117 2158l4 4-4 4-4-4zM1132 2159l4 4-4 4-4-4zM1101 2161l4 4-4 4-4-4zM1147 2173l4 4-4 4-4-4zM1114 2147l4 4-4 4-4-4zM1125 2163l4 4-4 4-4-4zM1100 2161l4 4-4 4-4-4zM1102 2151l4 4-4 4-4-4zM1124 2170l4 4-4 4-4-4zM1153 2179l4 4-4 4-4-4zM1146 2163l4 4-4 4-4-4zM1114 2156l4 4-4 4-4-4zM1101 2175l4 4-4 4-4-4zM1158 2160l4 4-4 4-4-4zM1196 2158l4 4-4 4-4-4zM1186 2158l4 4-4 4-4-4zM1156 2163l4 4-4 4-4-4zM1155 2170l4 4-4 4-4-4zM1171 2151l4 4-4 4-4-4zM1188 2167l4 4-4 4-4-4zM1155 2167l4 4-4 4-4-4zM1149 2159l4 4-4 4-4-4zM1172 2154l4 4-4 4-4-4zM1161 2165l4 4-4 4-4-4zM1168 2161l4 4-4 4-4-4zM1185 2173l4 4-4 4-4-4zM1180 2154l4 4-4 4-4-4zM1192 2153l4 4-4 4-4-4zM1187 2163l4 4-4 4-4-4zM1196 2165l4 4-4 4-4-4zM1149 2165l4 4-4 4-4-4zM1187 2164l4 4-4 4-4-4zM1172 2182l4 4-4 4-4-4zM1196 2156l4 4-4 4-4-4zM1169 2169l4 4-4 4-4-4zM1169 2157l4 4-4 4-4-4zM1180 2162l4 4-4 4-4-4zM1183 2160l4 4-4 4-4-4zM1178 2169l4 4-4 4-4-4zM1158 2149l4 4-4 4-4-4zM1174 2169l4 4-4 4-4-4zM1156 2157l4 4-4 4-4-4zM1158 2155l4 4-4 4-4-4zM1188 2175l4 4-4 4-4-4zM1170 2163l4 4-4 4-4-4zM1179 2163l4 4-4 4-4-4zM1191 2165l4 4-4 4-4-4zM1168 2172l4 4-4 4-4-4zM1166 2161l4 4-4 4-4-4zM1189 2174l4 4-4 4-4-4zM1196 2172l4 4-4 4-4-4zM1177 2179l4 4-4 4-4-4zM1176 2169l4 4-4 4-4-4zM1160 2152l4 4-4 4-4-4zM1179 2159l4 4-4 4-4-4zM1155 2173l4 4-4 4-4-4zM1154 2162l4 4-4 4-4-4zM1192 2159l4 4-4 4-4-4zM1161 2153l4 4-4 4-4-4zM1154 2154l4 4-4 4-4-4zM1159 2160l4 4-4 4-4-4zM1201 2155l4 4-4 4-4-4zM1165 2156l4 4-4 4-4-4zM1171 2151l4 4-4 4-4-4zM1173 2161l4 4-4 4-4-4zM1163 2163l4 4-4 4-4-4zM1195 2173l4 4-4 4-4-4zM1183 2153l4 4-4 4-4-4zM1152 2154l4 4-4 4-4-4zM1165 2151l4 4-4 4-4-4zM1156 2152l4 4-4 4-4-4zM1165 2161l4 4-4 4-4-4zM1146 2161l4 4-4 4-4-4zM1173 2151l4 4-4 4-4-4zM1192 2157l4 4-4 4-4-4zM1172 2157l4 4-4 4-4-4zM1167 2171l4 4-4 4-4-4zM1183 2176l4 4-4 4-4-4zM1167 2174l4 4-4 4-4-4zM1157 2168l4 4-4 4-4-4zM1200 2160l4 4-4 4-4-4zM1169 2164l4 4-4 4-4-4zM1162 2165l4 4-4 4-4-4zM1181 2164l4 4-4 4-4-4zM1191 2161l4 4-4 4-4-4zM1173 2169l4 4-4 4-4-4zM1161 2152l4 4-4 4-4-4zM1217 2166l4 4-4 4-4-4zM1209 2167l4 4-4 4-4-4zM1251 2146l4 4-4 4-4-4zM1217 2168l4 4-4 4-4-4zM1202 2173l4 4-4 4-4-4zM1204 2168l4 4-4 4-4-4zM1207 2167l4 4-4 4-4-4zM1252 2163l4 4-4 4-4-4zM1213 2174l4 4-4 4-4-4zM1211 2148l4 4-4 4-4-4zM1244 2152l4 4-4 4-4-4zM1223 2155l4 4-4 4-4-4zM1235 2169l4 4-4 4-4-4zM1253 2162l4 4-4 4-4-4zM1217 2187l4 4-4 4-4-4zM1219 2161l4 4-4 4-4-4zM1243 2168l4 4-4 4-4-4zM1205 2154l4 4-4 4-4-4zM1226 2151l4 4-4 4-4-4zM1222 2169l4 4-4 4-4-4zM1211 2170l4 4-4 4-4-4zM1215 2163l4 4-4 4-4-4zM1205 2168l4 4-4 4-4-4zM1225 2153l4 4-4 4-4-4zM1211 2164l4 4-4 4-4-4zM1212 2167l4 4-4 4-4-4zM1225 2174l4 4-4 4-4-4zM1198 2167l4 4-4 4-4-4zM1194 2166l4 4-4 4-4-4zM1206 2179l4 4-4 4-4-4zM1213 2162l4 4-4 4-4-4zM1246 2158l4 4-4 4-4-4zM1245 2148l4 4-4 4-4-4zM1206 2154l4 4-4 4-4-4zM1221 2172l4 4-4 4-4-4zM1199 2165l4 4-4 4-4-4zM1225 2159l4 4-4 4-4-4zM1245 2154l4 4-4 4-4-4zM1206 2174l4 4-4 4-4-4zM1219 2170l4 4-4 4-4-4zM1212 2159l4 4-4 4-4-4zM1205 2167l4 4-4 4-4-4zM1213 2148l4 4-4 4-4-4zM1246 2168l4 4-4 4-4-4zM1244 2160l4 4-4 4-4-4zM1218 2154l4 4-4 4-4-4zM1242 2165l4 4-4 4-4-4zM1223 2157l4 4-4 4-4-4zM1213 2166l4 4-4 4-4-4zM1195 2153l4 4-4 4-4-4zM1236 2161l4 4-4 4-4-4zM1210 2163l4 4-4 4-4-4zM1197 2153l4 4-4 4-4-4zM1222 2171l4 4-4 4-4-4zM1217 2164l4 4-4 4-4-4zM1250 2161l4 4-4 4-4-4zM1221 2166l4 4-4 4-4-4zM1214 2159l4 4-4 4-4-4zM1233 2170l4 4-4 4-4-4zM1212 2164l4 4-4 4-4-4zM1226 2151l4 4-4 4-4-4zM1217 2153l4 4-4 4-4-4zM1206 2173l4 4-4 4-4-4zM1243 2169l4 4-4 4-4-4zM1249 2160l4 4-4 4-4-4zM1244 2153l4 4-4 4-4-4zM1239 2160l4 4-4 4-4-4zM1217 2171l4 4-4 4-4-4zM1225 2183l4 4-4 4-4-4zM1230 2176l4 4-4 4-4-4zM1203 2173l4 4-4 4-4-4zM1220 2163l4 4-4 4-4-4zM1242 2157l4 4-4 4-4-4zM1224 2158l4 4-4 4-4-4zM1220 2159l4 4-4 4-4-4zM1221 2166l4 4-4 4-4-4zM1207 2169l4 4-4 4-4-4zM1207 2166l4 4-4 4-4-4zM1212 2158l4 4-4 4-4-4zM1240 2149l4 4-4 4-4-4zM1244 2160l4 4-4 4-4-4zM1241 2156l4 4-4 4-4-4zM1212 2170l4 4-4 4-4-4zM1231 2157l4 4-4 4-4-4zM1233 2169l4 4-4 4-4-4zM1203 2169l4 4-4 4-4-4zM1213 2152l4 4-4 4-4-4zM1227 2173l4 4-4 4-4-4zM1215 2172l4 4-4 4-4-4zM1199 2160l4 4-4 4-4-4zM1279 2158l4 4-4 4-4-4zM1301 2173l4 4-4 4-4-4zM1259 2159l4 4-4 4-4-4zM1261 2179l4 4-4 4-4-4zM1257 2158l4 4-4 4-4-4zM1277 2168l4 4-4 4-4-4zM1270 2161l4 4-4 4-4-4zM1260 2150l4 4-4 4-4-4zM1298 2173l4 4-4 4-4-4zM1267 2170l4 4-4 4-4-4zM1288 2168l4 4-4 4-4-4zM1290 2147l4 4-4 4-4-4zM1268 2160l4 4-4 4-4-4zM1255 2158l4 4-4 4-4-4zM1281 2169l4 4-4 4-4-4zM1262 2159l4 4-4 4-4-4zM1254 2153l4 4-4 4-4-4zM1285 2174l4 4-4 4-4-4zM1278 2168l4 4-4 4-4-4zM1257 2161l4 4-4 4-4-4zM1293 2160l4 4-4 4-4-4zM1249 2168l4 4-4 4-4-4zM1257 2146l4 4-4 4-4-4zM1255 2164l4 4-4 4-4-4zM1272 2162l4 4-4 4-4-4zM1300 2164l4 4-4 4-4-4zM1275 2171l4 4-4 4-4-4zM1263 2165l4 4-4 4-4-4zM1289 2167l4 4-4 4-4-4zM1294 2166l4 4-4 4-4-4zM1286 2176l4 4-4 4-4-4zM1256 2161l4 4-4 4-4-4zM1258 2172l4 4-4 4-4-4zM1241 2157l4 4-4 4-4-4zM1264 2171l4 4-4 4-4-4zM1251 2173l4 4-4 4-4-4zM1282 2151l4 4-4 4-4-4zM1283 2165l4 4-4 4-4-4zM1289 2155l4 4-4 4-4-4zM1267 2162l4 4-4 4-4-4zM1278 2152l4 4-4 4-4-4zM1254 2158l4 4-4 4-4-4zM1267 2155l4 4-4 4-4-4zM1272 2169l4 4-4 4-4-4zM1276 2180l4 4-4 4-4-4zM1262 2170l4 4-4 4-4-4zM1297 2169l4 4-4 4-4-4zM1277 2173l4 4-4 4-4-4zM1277 2156l4 4-4 4-4-4zM1263 2169l4 4-4 4-4-4zM1261 2178l4 4-4 4-4-4zM1255 2160l4 4-4 4-4-4zM1267 2173l4 4-4 4-4-4zM1273 2164l4 4-4 4-4-4zM1297 2168l4 4-4 4-4-4zM1281 2167l4 4-4 4-4-4zM1265 2171l4 4-4 4-4-4zM1286 2150l4 4-4 4-4-4zM1254 2153l4 4-4 4-4-4zM1293 2158l4 4-4 4-4-4zM1273 2163l4 4-4 4-4-4zM1297 2159l4 4-4 4-4-4zM1289 2169l4 4-4 4-4-4zM1255 2152l4 4-4 4-4-4zM1269 2160l4 4-4 4-4-4zM1294 2179l4 4-4 4-4-4zM1280 2150l4 4-4 4-4-4zM1289 2161l4 4-4 4-4-4zM1245 2175l4 4-4 4-4-4zM1277 2155l4 4-4 4-4-4zM1286 2166l4 4-4 4-4-4zM1291 2152l4 4-4 4-4-4zM1289 2154l4 4-4 4-4-4zM1278 2157l4 4-4 4-4-4zM1253 2155l4 4-4 4-4-4zM1294 2176l4 4-4 4-4-4zM1267 2158l4 4-4 4-4-4zM1274 2152l4 4-4 4-4-4zM1267 2174l4 4-4 4-4-4zM1258 2167l4 4-4 4-4-4zM1252 2151l4 4-4 4-4-4zM1261 2159l4 4-4 4-4-4zM1260 2176l4 4-4 4-4-4zM1259 2160l4 4-4 4-4-4zM1287 2158l4 4-4 4-4-4zM1261 2166l4 4-4 4-4-4zM1290 2165l4 4-4 4-4-4zM1288 2175l4 4-4 4-4-4zM1282 2178l4 4-4 4-4-4zM1265 2170l4 4-4 4-4-4zM1305 2163l4 4-4 4-4-4zM1338 2158l4 4-4 4-4-4zM1309 2177l4 4-4 4-4-4zM1310 2160l4 4-4 4-4-4zM1332 2171l4 4-4 4-4-4zM1341 2169l4 4-4 4-4-4zM1300 2173l4 4-4 4-4-4zM1343 2166l4 4-4 4-4-4zM1325 2170l4 4-4 4-4-4zM1331 2165l4 4-4 4-4-4zM1343 2171l4 4-4 4-4-4zM1330 2162l4 4-4 4-4-4zM1334 2168l4 4-4 4-4-4zM1331 2169l4 4-4 4-4-4zM1313 2169l4 4-4 4-4-4zM1302 2159l4 4-4 4-4-4zM1318 2151l4 4-4 4-4-4zM1333 2167l4 4-4 4-4-4zM1309 2157l4 4-4 4-4-4zM1320 2159l4 4-4 4-4-4zM1332 2164l4 4-4 4-4-4zM1336 2149l4 4-4 4-4-4zM1332 2145l4 4-4 4-4-4zM1303 2169l4 4-4 4-4-4zM1336 2169l4 4-4 4-4-4zM1348 2156l4 4-4 4-4-4zM1339 2162l4 4-4 4-4-4zM1313 2170l4 4-4 4-4-4zM1323 2167l4 4-4 4-4-4zM1308 2177l4 4-4 4-4-4zM1341 2167l4 4-4 4-4-4zM1318 2173l4 4-4 4-4-4zM1332 2160l4 4-4 4-4-4zM1341 2180l4 4-4 4-4-4zM1324 2155l4 4-4 4-4-4zM1323 2164l4 4-4 4-4-4zM1343 2152l4 4-4 4-4-4zM1312 2178l4 4-4 4-4-4zM1325 2162l4 4-4 4-4-4zM1340 2154l4 4-4 4-4-4zM1305 2171l4 4-4 4-4-4zM1342 2166l4 4-4 4-4-4zM1301 2169l4 4-4 4-4-4zM1322 2162l4 4-4 4-4-4zM1333 2166l4 4-4 4-4-4zM1333 2171l4 4-4 4-4-4zM1309 2158l4 4-4 4-4-4zM1306 2156l4 4-4 4-4-4zM1326 2158l4 4-4 4-4-4zM1331 2160l4 4-4 4-4-4zM1339 2153l4 4-4 4-4-4zM1316 2167l4 4-4 4-4-4zM1317 2161l4 4-4 4-4-4zM1323 2153l4 4-4 4-4-4zM1342 2173l4 4-4 4-4-4zM1296 2178l4 4-4 4-4-4zM1343 2158l4 4-4 4-4-4zM1322 2158l4 4-4 4-4-4zM1318 2162l4 4-4 4-4-4zM1333 2159l4 4-4 4-4-4zM1337 2157l4 4-4 4-4-4zM1320 2169l4 4-4 4-4-4zM1327 2159l4 4-4 4-4-4zM1299 2172l4 4-4 4-4-4zM1308 2169l4 4-4 4-4-4zM1314 2162l4 4-4 4-4-4zM1315 2166l4 4-4 4-4-4zM1350 2152l4 4-4 4-4-4zM1319 2155l4 4-4 4-4-4zM1318 2168l4 4-4 4-4-4zM1331 2171l4 4-4 4-4-4zM1322 2166l4 4-4 4-4-4zM1343 2176l4 4-4 4-4-4zM1334 2166l4 4-4 4-4-4zM1374 2163l4 4-4 4-4-4zM1392 2166l4 4-4 4-4-4zM1369 2146l4 4-4 4-4-4zM1386 2159l4 4-4 4-4-4zM1383 2155l4 4-4 4-4-4zM1394 2156l4 4-4 4-4-4zM1359 2164l4 4-4 4-4-4zM1356 2169l4 4-4 4-4-4zM1394 2172l4 4-4 4-4-4zM1395 2165l4 4-4 4-4-4zM1355 2177l4 4-4 4-4-4zM1394 2167l4 4-4 4-4-4zM1399 2168l4 4-4 4-4-4zM1358 2172l4 4-4 4-4-4zM1372 2159l4 4-4 4-4-4zM1395 2166l4 4-4 4-4-4zM1371 2151l4 4-4 4-4-4zM1361 2174l4 4-4 4-4-4zM1372 2179l4 4-4 4-4-4zM1356 2167l4 4-4 4-4-4zM1386 2155l4 4-4 4-4-4zM1360 2175l4 4-4 4-4-4zM1398 2174l4 4-4 4-4-4zM1351 2177l4 4-4 4-4-4zM1361 2181l4 4-4 4-4-4zM1388 2166l4 4-4 4-4-4zM1368 2153l4 4-4 4-4-4zM1359 2162l4 4-4 4-4-4zM1382 2161l4 4-4 4-4-4zM1377 2164l4 4-4 4-4-4zM1352 2155l4 4-4 4-4-4zM1401 2161l4 4-4 4-4-4zM1343 2166l4 4-4 4-4-4zM1380 2167l4 4-4 4-4-4zM1381 2163l4 4-4 4-4-4zM1398 2157l4 4-4 4-4-4zM1363 2161l4 4-4 4-4-4zM1391 2160l4 4-4 4-4-4zM1364 2150l4 4-4 4-4-4zM1351 2154l4 4-4 4-4-4zM1397 2149l4 4-4 4-4-4zM1370 2178l4 4-4 4-4-4zM1359 2161l4 4-4 4-4-4zM1377 2162l4 4-4 4-4-4zM1404 2171l4 4-4 4-4-4zM1355 2156l4 4-4 4-4-4zM1351 2158l4 4-4 4-4-4zM1381 2158l4 4-4 4-4-4zM1380 2161l4 4-4 4-4-4zM1384 2168l4 4-4 4-4-4zM1396 2169l4 4-4 4-4-4zM1372 2162l4 4-4 4-4-4zM1378 2158l4 4-4 4-4-4zM1385 2159l4 4-4 4-4-4zM1446 2171l4 4-4 4-4-4zM1449 2147l4 4-4 4-4-4zM1418 2156l4 4-4 4-4-4zM1440 2182l4 4-4 4-4-4zM1434 2154l4 4-4 4-4-4zM1411 2160l4 4-4 4-4-4zM1431 2156l4 4-4 4-4-4zM1413 2176l4 4-4 4-4-4zM1407 2168l4 4-4 4-4-4zM1419 2156l4 4-4 4-4-4zM1416 2156l4 4-4 4-4-4zM1446 2150l4 4-4 4-4-4zM1422 2173l4 4-4 4-4-4zM1431 2159l4 4-4 4-4-4zM1416 2175l4 4-4 4-4-4zM1413 2151l4 4-4 4-4-4zM1420 2154l4 4-4 4-4-4zM1441 2162l4 4-4 4-4-4zM1435 2160l4 4-4 4-4-4zM1441 2152l4 4-4 4-4-4zM1443 2169l4 4-4 4-4-4zM1416 2171l4 4-4 4-4-4zM1423 2159l4 4-4 4-4-4zM1437 2158l4 4-4 4-4-4zM1411 2153l4 4-4 4-4-4zM1446 2177l4 4-4 4-4-4zM1438 2151l4 4-4 4-4-4zM1430 2160l4 4-4 4-4-4zM1425 2152l4 4-4 4-4-4zM1409 2173l4 4-4 4-4-4zM1449 2158l4 4-4 4-4-4zM1447 2170l4 4-4 4-4-4zM1438 2162l4 4-4 4-4-4zM1448 2146l4 4-4 4-4-4zM1451 2162l4 4-4 4-4-4zM1406 2160l4 4-4 4-4-4zM1437 2158l4 4-4 4-4-4zM1424 2167l4 4-4 4-4-4zM1446 2179l4 4-4 4-4-4zM1434 2159l4 4-4 4-4-4zM1413 2158l4 4-4 4-4-4zM1494 2180l4 4-4 4-4-4zM1469 2168l4 4-4 4-4-4zM1491 2169l4 4-4 4-4-4zM1457 2157l4 4-4 4-4-4zM1499 2166l4 4-4 4-4-4zM1462 2176l4 4-4 4-4-4zM1472 2151l4 4-4 4-4-4zM1483 2172l4 4-4 4-4-4zM1470 2156l4 4-4 4-4-4zM1480 2178l4 4-4 4-4-4zM1477 2163l4 4-4 4-4-4zM1501 2179l4 4-4 4-4-4zM1466 2153l4 4-4 4-4-4zM1464 2150l4 4-4 4-4-4zM1474 2156l4 4-4 4-4-4zM1490 2169l4 4-4 4-4-4zM1490 2153l4 4-4 4-4-4zM1457 2165l4 4-4 4-4-4zM1481 2157l4 4-4 4-4-4zM1492 2164l4 4-4 4-4-4zM1489 2163l4 4-4 4-4-4zM1463 2151l4 4-4 4-4-4zM1470 2160l4 4-4 4-4-4zM1484 2161l4 4-4 4-4-4zM1457 2172l4 4-4 4-4-4zM1461 2168l4 4-4 4-4-4zM1454 2163l4 4-4 4-4-4zM1450 2166l4 4-4 4-4-4zM1456 2154l4 4-4 4-4-4zM1486 2154l4 4-4 4-4-4zM1500 2162l4 4-4 4-4-4zM1481 2160l4 4-4 4-4-4zM1475 2165l4 4-4 4-4-4zM1485 2170l4 4-4 4-4-4zM1461 2172l4 4-4 4-4-4zM1521 2174l4 4-4 4-4-4zM1544 2156l4 4-4 4-4-4zM1533 2153l4 4-4 4-4-4zM1535 2158l4 4-4 4-4-4zM1508 2165l4 4-4 4-4-4zM1526 2166l4 4-4 4-4-4zM1518 2161l4 4-4 4-4-4zM1521 2173l4 4-4 4-4-4zM1536 2163l4 4-4 4-4-4zM1509 2167l4 4-4 4-4-4zM1549 2166l4 4-4 4-4-4zM1538 2160l4 4-4 4-4-4zM1557 2167l4 4-4 4-4-4zM1528 2174l4 4-4 4-4-4zM1510 2165l4 4-4 4-4-4zM1539 2163l4 4-4 4-4-4zM1509 2180l4 4-4 4-4-4zM1539 2166l4 4-4 4-4-4zM1529 2155l4 4-4 4-4-4zM1499 2151l4 4-4 4-4-4zM1533 2174l4 4-4 4-4-4zM1510 2160l4 4-4 4-4-4zM1514 2172l4 4-4 4-4-4zM1540 2150l4 4-4 4-4-4zM1550 2157l4 4-4 4-4-4zM1510 2157l4 4-4 4-4-4zM1542 2173l4 4-4 4-4-4zM1505 2176l4 4-4 4-4-4zM1543 2169l4 4-4 4-4-4zM1504 2176l4 4-4 4-4-4zM1542 2153l4 4-4 4-4-4zM1523 2162l4 4-4 4-4-4zM1512 2157l4 4-4 4-4-4zM1539 2169l4 4-4 4-4-4zM1506 2151l4 4-4 4-4-4zM1521 2155l4 4-4 4-4-4zM997 2192l4 4-4 4-4-4zM986 2196l4 4-4 4-4-4zM994 2182l4 4-4 4-4-4zM991 2190l4 4-4 4-4-4zM1032 2200l4 4-4 4-4-4zM1022 2176l4 4-4 4-4-4zM1038 2191l4 4-4 4-4-4zM1019 2180l4 4-4 4-4-4zM1052 2185l4 4-4 4-4-4zM1050 2198l4 4-4 4-4-4zM1019 2177l4 4-4 4-4-4zM1010 2186l4 4-4 4-4-4zM1011 2181l4 4-4 4-4-4zM1021 2189l4 4-4 4-4-4zM1042 2187l4 4-4 4-4-4zM1024 2179l4 4-4 4-4-4zM1044 2182l4 4-4 4-4-4zM1046 2191l4 4-4 4-4-4zM1018 2171l4 4-4 4-4-4zM1037 2173l4 4-4 4-4-4zM1005 2200l4 4-4 4-4-4zM1009 2183l4 4-4 4-4-4zM1030 2176l4 4-4 4-4-4zM1012 2207l4 4-4 4-4-4zM1049 2174l4 4-4 4-4-4zM1056 2192l4 4-4 4-4-4zM1102 2201l4 4-4 4-4-4zM1085 2176l4 4-4 4-4-4zM1097 2199l4 4-4 4-4-4zM1081 2188l4 4-4 4-4-4zM1090 2195l4 4-4 4-4-4zM1103 2187l4 4-4 4-4-4zM1069 2185l4 4-4 4-4-4zM1071 2198l4 4-4 4-4-4zM1100 2186l4 4-4 4-4-4zM1099 2176l4 4-4 4-4-4zM1065 2177l4 4-4 4-4-4zM1056 2185l4 4-4 4-4-4zM1080 2187l4 4-4 4-4-4zM1082 2192l4 4-4 4-4-4zM1075 2181l4 4-4 4-4-4zM1085 2181l4 4-4 4-4-4zM1079 2182l4 4-4 4-4-4zM1075 2194l4 4-4 4-4-4zM1096 2175l4 4-4 4-4-4zM1077 2177l4 4-4 4-4-4zM1073 2197l4 4-4 4-4-4zM1059 2187l4 4-4 4-4-4zM1090 2186l4 4-4 4-4-4zM1105 2194l4 4-4 4-4-4zM1065 2185l4 4-4 4-4-4zM1082 2173l4 4-4 4-4-4zM1088 2195l4 4-4 4-4-4zM1052 2195l4 4-4 4-4-4zM1054 2188l4 4-4 4-4-4zM1089 2180l4 4-4 4-4-4zM1088 2203l4 4-4 4-4-4zM1084 2187l4 4-4 4-4-4zM1090 2193l4 4-4 4-4-4zM1092 2183l4 4-4 4-4-4zM1060 2202l4 4-4 4-4-4zM1087 2179l4 4-4 4-4-4zM1078 2191l4 4-4 4-4-4zM1064 2179l4 4-4 4-4-4zM1086 2191l4 4-4 4-4-4zM1062 2183l4 4-4 4-4-4zM1098 2177l4 4-4 4-4-4zM1052 2189l4 4-4 4-4-4zM1054 2178l4 4-4 4-4-4zM1043 2185l4 4-4 4-4-4zM1052 2182l4 4-4 4-4-4zM1078 2186l4 4-4 4-4-4zM1084 2182l4 4-4 4-4-4zM1105 2185l4 4-4 4-4-4zM1062 2192l4 4-4 4-4-4zM1069 2174l4 4-4 4-4-4zM1086 2199l4 4-4 4-4-4zM1070 2169l4 4-4 4-4-4zM1135 2189l4 4-4 4-4-4zM1121 2200l4 4-4 4-4-4zM1105 2192l4 4-4 4-4-4zM1112 2203l4 4-4 4-4-4zM1114 2201l4 4-4 4-4-4zM1119 2200l4 4-4 4-4-4zM1133 2187l4 4-4 4-4-4zM1139 2193l4 4-4 4-4-4zM1127 2197l4 4-4 4-4-4zM1141 2198l4 4-4 4-4-4zM1114 2189l4 4-4 4-4-4zM1097 2190l4 4-4 4-4-4zM1129 2198l4 4-4 4-4-4zM1149 2193l4 4-4 4-4-4zM1102 2184l4 4-4 4-4-4zM1138 2188l4 4-4 4-4-4zM1138 2178l4 4-4 4-4-4zM1106 2192l4 4-4 4-4-4zM1118 2194l4 4-4 4-4-4zM1126 2197l4 4-4 4-4-4zM1152 2187l4 4-4 4-4-4zM1123 2180l4 4-4 4-4-4zM1098 2177l4 4-4 4-4-4zM1138 2181l4 4-4 4-4-4zM1126 2198l4 4-4 4-4-4zM1133 2198l4 4-4 4-4-4zM1153 2175l4 4-4 4-4-4zM1104 2194l4 4-4 4-4-4zM1144 2181l4 4-4 4-4-4zM1099 2186l4 4-4 4-4-4zM1132 2183l4 4-4 4-4-4zM1117 2181l4 4-4 4-4-4zM1141 2193l4 4-4 4-4-4zM1100 2193l4 4-4 4-4-4zM1106 2189l4 4-4 4-4-4zM1117 2184l4 4-4 4-4-4zM1129 2181l4 4-4 4-4-4zM1125 2191l4 4-4 4-4-4zM1139 2200l4 4-4 4-4-4zM1150 2185l4 4-4 4-4-4zM1128 2189l4 4-4 4-4-4zM1126 2195l4 4-4 4-4-4zM1111 2196l4 4-4 4-4-4zM1129 2200l4 4-4 4-4-4zM1148 2178l4 4-4 4-4-4zM1150 2180l4 4-4 4-4-4zM1105 2184l4 4-4 4-4-4zM1112 2185l4 4-4 4-4-4zM1113 2195l4 4-4 4-4-4zM1147 2189l4 4-4 4-4-4zM1124 2180l4 4-4 4-4-4zM1100 2182l4 4-4 4-4-4zM1144 2195l4 4-4 4-4-4zM1094 2191l4 4-4 4-4-4zM1117 2173l4 4-4 4-4-4zM1132 2200l4 4-4 4-4-4zM1135 2205l4 4-4 4-4-4zM1101 2192l4 4-4 4-4-4zM1105 2188l4 4-4 4-4-4zM1131 2199l4 4-4 4-4-4zM1122 2179l4 4-4 4-4-4zM1101 2185l4 4-4 4-4-4zM1113 2196l4 4-4 4-4-4zM1144 2197l4 4-4 4-4-4zM1111 2198l4 4-4 4-4-4zM1113 2186l4 4-4 4-4-4zM1105 2185l4 4-4 4-4-4zM1153 2186l4 4-4 4-4-4zM1140 2190l4 4-4 4-4-4zM1141 2172l4 4-4 4-4-4zM1105 2189l4 4-4 4-4-4zM1142 2185l4 4-4 4-4-4zM1139 2186l4 4-4 4-4-4zM1144 2174l4 4-4 4-4-4zM1205 2191l4 4-4 4-4-4zM1161 2185l4 4-4 4-4-4zM1151 2177l4 4-4 4-4-4zM1159 2184l4 4-4 4-4-4zM1172 2194l4 4-4 4-4-4zM1169 2191l4 4-4 4-4-4zM1176 2192l4 4-4 4-4-4zM1148 2182l4 4-4 4-4-4zM1189 2190l4 4-4 4-4-4zM1159 2196l4 4-4 4-4-4zM1189 2200l4 4-4 4-4-4zM1192 2192l4 4-4 4-4-4zM1197 2180l4 4-4 4-4-4zM1176 2198l4 4-4 4-4-4zM1166 2192l4 4-4 4-4-4zM1181 2203l4 4-4 4-4-4zM1195 2189l4 4-4 4-4-4zM1177 2177l4 4-4 4-4-4zM1166 2191l4 4-4 4-4-4zM1199 2179l4 4-4 4-4-4zM1164 2182l4 4-4 4-4-4zM1145 2190l4 4-4 4-4-4zM1171 2179l4 4-4 4-4-4zM1184 2198l4 4-4 4-4-4zM1189 2190l4 4-4 4-4-4zM1169 2198l4 4-4 4-4-4zM1171 2195l4 4-4 4-4-4zM1203 2185l4 4-4 4-4-4zM1181 2177l4 4-4 4-4-4zM1185 2200l4 4-4 4-4-4zM1197 2192l4 4-4 4-4-4zM1174 2188l4 4-4 4-4-4zM1200 2195l4 4-4 4-4-4zM1187 2182l4 4-4 4-4-4zM1182 2187l4 4-4 4-4-4zM1196 2198l4 4-4 4-4-4zM1156 2192l4 4-4 4-4-4zM1166 2193l4 4-4 4-4-4zM1177 2198l4 4-4 4-4-4zM1171 2186l4 4-4 4-4-4zM1164 2175l4 4-4 4-4-4zM1188 2172l4 4-4 4-4-4zM1182 2196l4 4-4 4-4-4zM1158 2191l4 4-4 4-4-4zM1158 2182l4 4-4 4-4-4zM1203 2192l4 4-4 4-4-4zM1150 2181l4 4-4 4-4-4zM1177 2194l4 4-4 4-4-4zM1197 2186l4 4-4 4-4-4zM1192 2174l4 4-4 4-4-4zM1155 2199l4 4-4 4-4-4zM1186 2200l4 4-4 4-4-4zM1153 2178l4 4-4 4-4-4zM1193 2190l4 4-4 4-4-4zM1182 2188l4 4-4 4-4-4zM1184 2192l4 4-4 4-4-4zM1168 2179l4 4-4 4-4-4zM1203 2190l4 4-4 4-4-4zM1193 2198l4 4-4 4-4-4zM1169 2180l4 4-4 4-4-4zM1194 2180l4 4-4 4-4-4zM1168 2180l4 4-4 4-4-4zM1192 2177l4 4-4 4-4-4zM1189 2181l4 4-4 4-4-4zM1178 2180l4 4-4 4-4-4zM1153 2184l4 4-4 4-4-4zM1165 2185l4 4-4 4-4-4zM1188 2184l4 4-4 4-4-4zM1162 2197l4 4-4 4-4-4zM1185 2191l4 4-4 4-4-4zM1182 2180l4 4-4 4-4-4zM1192 2189l4 4-4 4-4-4zM1194 2195l4 4-4 4-4-4zM1161 2187l4 4-4 4-4-4zM1176 2189l4 4-4 4-4-4zM1185 2194l4 4-4 4-4-4zM1184 2181l4 4-4 4-4-4zM1157 2184l4 4-4 4-4-4zM1160 2181l4 4-4 4-4-4zM1190 2192l4 4-4 4-4-4zM1195 2191l4 4-4 4-4-4zM1168 2192l4 4-4 4-4-4zM1173 2177l4 4-4 4-4-4zM1187 2183l4 4-4 4-4-4zM1174 2176l4 4-4 4-4-4zM1190 2199l4 4-4 4-4-4zM1197 2189l4 4-4 4-4-4zM1167 2202l4 4-4 4-4-4zM1173 2191l4 4-4 4-4-4zM1181 2174l4 4-4 4-4-4zM1194 2199l4 4-4 4-4-4zM1181 2193l4 4-4 4-4-4zM1180 2175l4 4-4 4-4-4zM1170 2181l4 4-4 4-4-4zM1168 2176l4 4-4 4-4-4zM1167 2186l4 4-4 4-4-4zM1196 2183l4 4-4 4-4-4zM1151 2201l4 4-4 4-4-4zM1149 2183l4 4-4 4-4-4zM1246 2198l4 4-4 4-4-4zM1207 2196l4 4-4 4-4-4zM1246 2193l4 4-4 4-4-4zM1236 2178l4 4-4 4-4-4zM1215 2174l4 4-4 4-4-4zM1243 2189l4 4-4 4-4-4zM1237 2189l4 4-4 4-4-4zM1207 2195l4 4-4 4-4-4zM1231 2172l4 4-4 4-4-4zM1216 2185l4 4-4 4-4-4zM1219 2176l4 4-4 4-4-4zM1207 2196l4 4-4 4-4-4zM1218 2187l4 4-4 4-4-4zM1216 2181l4 4-4 4-4-4zM1237 2195l4 4-4 4-4-4zM1227 2179l4 4-4 4-4-4zM1244 2187l4 4-4 4-4-4zM1246 2190l4 4-4 4-4-4zM1227 2190l4 4-4 4-4-4zM1235 2167l4 4-4 4-4-4zM1218 2181l4 4-4 4-4-4zM1233 2191l4 4-4 4-4-4zM1205 2194l4 4-4 4-4-4zM1216 2176l4 4-4 4-4-4zM1225 2183l4 4-4 4-4-4zM1223 2184l4 4-4 4-4-4zM1216 2202l4 4-4 4-4-4zM1243 2179l4 4-4 4-4-4zM1229 2200l4 4-4 4-4-4zM1218 2176l4 4-4 4-4-4zM1218 2181l4 4-4 4-4-4zM1208 2182l4 4-4 4-4-4zM1247 2188l4 4-4 4-4-4zM1224 2184l4 4-4 4-4-4zM1215 2178l4 4-4 4-4-4zM1235 2193l4 4-4 4-4-4zM1241 2181l4 4-4 4-4-4zM1202 2196l4 4-4 4-4-4zM1238 2175l4 4-4 4-4-4zM1227 2209l4 4-4 4-4-4zM1212 2185l4 4-4 4-4-4zM1226 2197l4 4-4 4-4-4zM1209 2171l4 4-4 4-4-4zM1211 2193l4 4-4 4-4-4zM1236 2206l4 4-4 4-4-4zM1210 2188l4 4-4 4-4-4zM1220 2196l4 4-4 4-4-4zM1210 2190l4 4-4 4-4-4zM1235 2208l4 4-4 4-4-4zM1219 2196l4 4-4 4-4-4zM1206 2186l4 4-4 4-4-4zM1207 2192l4 4-4 4-4-4zM1215 2194l4 4-4 4-4-4zM1208 2187l4 4-4 4-4-4zM1255 2198l4 4-4 4-4-4zM1239 2196l4 4-4 4-4-4zM1251 2197l4 4-4 4-4-4zM1223 2188l4 4-4 4-4-4zM1217 2175l4 4-4 4-4-4zM1207 2194l4 4-4 4-4-4zM1232 2198l4 4-4 4-4-4zM1226 2191l4 4-4 4-4-4zM1217 2186l4 4-4 4-4-4zM1215 2188l4 4-4 4-4-4zM1224 2187l4 4-4 4-4-4zM1206 2196l4 4-4 4-4-4zM1215 2193l4 4-4 4-4-4zM1211 2177l4 4-4 4-4-4zM1228 2192l4 4-4 4-4-4zM1225 2200l4 4-4 4-4-4zM1221 2184l4 4-4 4-4-4zM1201 2174l4 4-4 4-4-4zM1223 2187l4 4-4 4-4-4zM1247 2184l4 4-4 4-4-4zM1243 2190l4 4-4 4-4-4zM1225 2183l4 4-4 4-4-4zM1210 2176l4 4-4 4-4-4zM1201 2179l4 4-4 4-4-4zM1250 2182l4 4-4 4-4-4zM1220 2186l4 4-4 4-4-4zM1238 2176l4 4-4 4-4-4zM1217 2199l4 4-4 4-4-4zM1231 2198l4 4-4 4-4-4zM1219 2189l4 4-4 4-4-4zM1217 2181l4 4-4 4-4-4zM1220 2179l4 4-4 4-4-4zM1228 2195l4 4-4 4-4-4zM1239 2194l4 4-4 4-4-4zM1215 2193l4 4-4 4-4-4zM1210 2179l4 4-4 4-4-4zM1239 2193l4 4-4 4-4-4zM1237 2193l4 4-4 4-4-4zM1219 2177l4 4-4 4-4-4zM1213 2200l4 4-4 4-4-4zM1245 2179l4 4-4 4-4-4zM1230 2182l4 4-4 4-4-4zM1210 2184l4 4-4 4-4-4zM1247 2200l4 4-4 4-4-4zM1225 2190l4 4-4 4-4-4zM1226 2203l4 4-4 4-4-4zM1254 2183l4 4-4 4-4-4zM1201 2181l4 4-4 4-4-4zM1224 2186l4 4-4 4-4-4zM1221 2185l4 4-4 4-4-4zM1249 2197l4 4-4 4-4-4zM1206 2180l4 4-4 4-4-4zM1196 2184l4 4-4 4-4-4zM1226 2193l4 4-4 4-4-4zM1204 2199l4 4-4 4-4-4zM1250 2182l4 4-4 4-4-4zM1244 2188l4 4-4 4-4-4zM1223 2178l4 4-4 4-4-4zM1237 2194l4 4-4 4-4-4zM1212 2189l4 4-4 4-4-4zM1207 2192l4 4-4 4-4-4zM1245 2185l4 4-4 4-4-4zM1243 2203l4 4-4 4-4-4zM1258 2185l4 4-4 4-4-4zM1304 2193l4 4-4 4-4-4zM1285 2175l4 4-4 4-4-4zM1286 2178l4 4-4 4-4-4zM1274 2183l4 4-4 4-4-4zM1253 2184l4 4-4 4-4-4zM1302 2180l4 4-4 4-4-4zM1282 2189l4 4-4 4-4-4zM1265 2192l4 4-4 4-4-4zM1288 2183l4 4-4 4-4-4zM1287 2180l4 4-4 4-4-4zM1259 2194l4 4-4 4-4-4zM1270 2178l4 4-4 4-4-4zM1256 2202l4 4-4 4-4-4zM1271 2189l4 4-4 4-4-4zM1261 2187l4 4-4 4-4-4zM1258 2168l4 4-4 4-4-4zM1287 2177l4 4-4 4-4-4zM1275 2190l4 4-4 4-4-4zM1271 2194l4 4-4 4-4-4zM1265 2191l4 4-4 4-4-4zM1293 2174l4 4-4 4-4-4zM1279 2182l4 4-4 4-4-4zM1293 2200l4 4-4 4-4-4zM1289 2198l4 4-4 4-4-4zM1288 2187l4 4-4 4-4-4zM1277 2180l4 4-4 4-4-4zM1263 2204l4 4-4 4-4-4zM1255 2177l4 4-4 4-4-4zM1296 2196l4 4-4 4-4-4zM1277 2190l4 4-4 4-4-4zM1265 2196l4 4-4 4-4-4zM1262 2201l4 4-4 4-4-4zM1290 2185l4 4-4 4-4-4zM1270 2195l4 4-4 4-4-4zM1266 2178l4 4-4 4-4-4zM1287 2199l4 4-4 4-4-4zM1267 2182l4 4-4 4-4-4zM1269 2174l4 4-4 4-4-4zM1257 2175l4 4-4 4-4-4zM1259 2195l4 4-4 4-4-4zM1265 2185l4 4-4 4-4-4zM1276 2189l4 4-4 4-4-4zM1254 2183l4 4-4 4-4-4zM1283 2197l4 4-4 4-4-4zM1282 2198l4 4-4 4-4-4zM1290 2200l4 4-4 4-4-4zM1279 2185l4 4-4 4-4-4zM1286 2196l4 4-4 4-4-4zM1275 2200l4 4-4 4-4-4zM1261 2181l4 4-4 4-4-4zM1265 2200l4 4-4 4-4-4zM1279 2180l4 4-4 4-4-4zM1301 2198l4 4-4 4-4-4zM1265 2204l4 4-4 4-4-4zM1299 2189l4 4-4 4-4-4zM1289 2188l4 4-4 4-4-4zM1283 2184l4 4-4 4-4-4zM1255 2186l4 4-4 4-4-4zM1251 2192l4 4-4 4-4-4zM1271 2188l4 4-4 4-4-4zM1271 2188l4 4-4 4-4-4zM1276 2177l4 4-4 4-4-4zM1284 2200l4 4-4 4-4-4zM1279 2188l4 4-4 4-4-4zM1258 2181l4 4-4 4-4-4zM1294 2181l4 4-4 4-4-4zM1267 2188l4 4-4 4-4-4zM1272 2183l4 4-4 4-4-4zM1278 2182l4 4-4 4-4-4zM1270 2197l4 4-4 4-4-4zM1284 2191l4 4-4 4-4-4zM1248 2191l4 4-4 4-4-4zM1283 2197l4 4-4 4-4-4zM1272 2172l4 4-4 4-4-4zM1258 2182l4 4-4 4-4-4zM1270 2201l4 4-4 4-4-4zM1259 2194l4 4-4 4-4-4zM1281 2182l4 4-4 4-4-4zM1289 2179l4 4-4 4-4-4zM1275 2183l4 4-4 4-4-4zM1273 2208l4 4-4 4-4-4zM1296 2195l4 4-4 4-4-4zM1287 2184l4 4-4 4-4-4zM1271 2174l4 4-4 4-4-4zM1282 2194l4 4-4 4-4-4zM1274 2191l4 4-4 4-4-4zM1264 2185l4 4-4 4-4-4zM1296 2193l4 4-4 4-4-4zM1256 2195l4 4-4 4-4-4zM1285 2186l4 4-4 4-4-4zM1256 2195l4 4-4 4-4-4zM1272 2183l4 4-4 4-4-4zM1257 2190l4 4-4 4-4-4zM1259 2185l4 4-4 4-4-4zM1247 2181l4 4-4 4-4-4zM1287 2186l4 4-4 4-4-4zM1261 2185l4 4-4 4-4-4zM1293 2184l4 4-4 4-4-4zM1275 2198l4 4-4 4-4-4zM1294 2174l4 4-4 4-4-4zM1288 2205l4 4-4 4-4-4zM1254 2170l4 4-4 4-4-4zM1254 2186l4 4-4 4-4-4zM1286 2178l4 4-4 4-4-4zM1256 2197l4 4-4 4-4-4zM1295 2183l4 4-4 4-4-4zM1266 2187l4 4-4 4-4-4zM1296 2177l4 4-4 4-4-4zM1260 2179l4 4-4 4-4-4zM1300 2199l4 4-4 4-4-4zM1269 2179l4 4-4 4-4-4zM1270 2181l4 4-4 4-4-4zM1256 2180l4 4-4 4-4-4zM1292 2201l4 4-4 4-4-4zM1297 2200l4 4-4 4-4-4zM1262 2182l4 4-4 4-4-4zM1278 2178l4 4-4 4-4-4zM1325 2169l4 4-4 4-4-4zM1315 2188l4 4-4 4-4-4zM1329 2186l4 4-4 4-4-4zM1339 2186l4 4-4 4-4-4zM1344 2181l4 4-4 4-4-4zM1340 2182l4 4-4 4-4-4zM1313 2200l4 4-4 4-4-4zM1311 2194l4 4-4 4-4-4zM1324 2190l4 4-4 4-4-4zM1306 2184l4 4-4 4-4-4zM1300 2197l4 4-4 4-4-4zM1337 2205l4 4-4 4-4-4zM1307 2181l4 4-4 4-4-4zM1306 2195l4 4-4 4-4-4zM1342 2205l4 4-4 4-4-4zM1318 2190l4 4-4 4-4-4zM1317 2197l4 4-4 4-4-4zM1327 2176l4 4-4 4-4-4zM1342 2179l4 4-4 4-4-4zM1335 2184l4 4-4 4-4-4zM1329 2193l4 4-4 4-4-4zM1309 2188l4 4-4 4-4-4zM1302 2198l4 4-4 4-4-4zM1315 2203l4 4-4 4-4-4zM1319 2186l4 4-4 4-4-4zM1320 2188l4 4-4 4-4-4zM1349 2187l4 4-4 4-4-4zM1310 2195l4 4-4 4-4-4zM1318 2187l4 4-4 4-4-4zM1321 2176l4 4-4 4-4-4zM1311 2185l4 4-4 4-4-4zM1329 2185l4 4-4 4-4-4zM1352 2199l4 4-4 4-4-4zM1300 2201l4 4-4 4-4-4zM1327 2175l4 4-4 4-4-4zM1302 2179l4 4-4 4-4-4zM1336 2187l4 4-4 4-4-4zM1315 2179l4 4-4 4-4-4zM1346 2184l4 4-4 4-4-4zM1311 2180l4 4-4 4-4-4zM1335 2197l4 4-4 4-4-4zM1303 2198l4 4-4 4-4-4zM1329 2192l4 4-4 4-4-4zM1352 2200l4 4-4 4-4-4zM1304 2190l4 4-4 4-4-4zM1350 2177l4 4-4 4-4-4zM1306 2178l4 4-4 4-4-4zM1307 2193l4 4-4 4-4-4zM1327 2183l4 4-4 4-4-4zM1307 2198l4 4-4 4-4-4zM1345 2179l4 4-4 4-4-4zM1303 2181l4 4-4 4-4-4zM1321 2198l4 4-4 4-4-4zM1335 2193l4 4-4 4-4-4zM1313 2181l4 4-4 4-4-4zM1324 2181l4 4-4 4-4-4zM1356 2186l4 4-4 4-4-4zM1351 2181l4 4-4 4-4-4zM1326 2176l4 4-4 4-4-4zM1323 2202l4 4-4 4-4-4zM1324 2195l4 4-4 4-4-4zM1304 2191l4 4-4 4-4-4zM1304 2184l4 4-4 4-4-4zM1323 2179l4 4-4 4-4-4zM1318 2175l4 4-4 4-4-4zM1314 2184l4 4-4 4-4-4zM1307 2203l4 4-4 4-4-4zM1319 2175l4 4-4 4-4-4zM1336 2178l4 4-4 4-4-4zM1311 2190l4 4-4 4-4-4zM1306 2192l4 4-4 4-4-4zM1342 2177l4 4-4 4-4-4zM1322 2202l4 4-4 4-4-4zM1339 2202l4 4-4 4-4-4zM1329 2171l4 4-4 4-4-4zM1305 2181l4 4-4 4-4-4zM1329 2190l4 4-4 4-4-4zM1305 2178l4 4-4 4-4-4zM1308 2205l4 4-4 4-4-4zM1311 2183l4 4-4 4-4-4zM1344 2194l4 4-4 4-4-4zM1336 2190l4 4-4 4-4-4zM1334 2197l4 4-4 4-4-4zM1325 2198l4 4-4 4-4-4zM1308 2175l4 4-4 4-4-4zM1326 2194l4 4-4 4-4-4zM1332 2193l4 4-4 4-4-4zM1335 2189l4 4-4 4-4-4zM1334 2187l4 4-4 4-4-4zM1344 2181l4 4-4 4-4-4zM1392 2197l4 4-4 4-4-4zM1389 2199l4 4-4 4-4-4zM1378 2191l4 4-4 4-4-4zM1394 2184l4 4-4 4-4-4zM1363 2191l4 4-4 4-4-4zM1369 2198l4 4-4 4-4-4zM1389 2194l4 4-4 4-4-4zM1393 2191l4 4-4 4-4-4zM1383 2182l4 4-4 4-4-4zM1379 2185l4 4-4 4-4-4zM1363 2177l4 4-4 4-4-4zM1371 2191l4 4-4 4-4-4zM1394 2190l4 4-4 4-4-4zM1400 2190l4 4-4 4-4-4zM1392 2200l4 4-4 4-4-4zM1395 2184l4 4-4 4-4-4zM1384 2183l4 4-4 4-4-4zM1351 2184l4 4-4 4-4-4zM1361 2183l4 4-4 4-4-4zM1385 2190l4 4-4 4-4-4zM1384 2185l4 4-4 4-4-4zM1363 2200l4 4-4 4-4-4zM1354 2178l4 4-4 4-4-4zM1390 2178l4 4-4 4-4-4zM1399 2175l4 4-4 4-4-4zM1390 2178l4 4-4 4-4-4zM1347 2174l4 4-4 4-4-4zM1367 2173l4 4-4 4-4-4zM1364 2178l4 4-4 4-4-4zM1351 2189l4 4-4 4-4-4zM1395 2195l4 4-4 4-4-4zM1362 2182l4 4-4 4-4-4zM1370 2193l4 4-4 4-4-4zM1368 2199l4 4-4 4-4-4zM1370 2200l4 4-4 4-4-4zM1395 2185l4 4-4 4-4-4zM1377 2202l4 4-4 4-4-4zM1350 2195l4 4-4 4-4-4zM1385 2179l4 4-4 4-4-4zM1395 2193l4 4-4 4-4-4zM1376 2196l4 4-4 4-4-4zM1388 2190l4 4-4 4-4-4zM1356 2188l4 4-4 4-4-4zM1353 2179l4 4-4 4-4-4zM1367 2187l4 4-4 4-4-4zM1369 2180l4 4-4 4-4-4zM1349 2201l4 4-4 4-4-4zM1384 2194l4 4-4 4-4-4zM1359 2179l4 4-4 4-4-4zM1352 2191l4 4-4 4-4-4zM1374 2178l4 4-4 4-4-4zM1364 2177l4 4-4 4-4-4zM1371 2176l4 4-4 4-4-4zM1382 2193l4 4-4 4-4-4zM1386 2187l4 4-4 4-4-4zM1350 2193l4 4-4 4-4-4zM1385 2187l4 4-4 4-4-4zM1353 2184l4 4-4 4-4-4zM1354 2200l4 4-4 4-4-4zM1361 2186l4 4-4 4-4-4zM1359 2176l4 4-4 4-4-4zM1398 2192l4 4-4 4-4-4zM1376 2184l4 4-4 4-4-4zM1353 2181l4 4-4 4-4-4zM1375 2186l4 4-4 4-4-4zM1377 2184l4 4-4 4-4-4zM1360 2192l4 4-4 4-4-4zM1389 2190l4 4-4 4-4-4zM1387 2183l4 4-4 4-4-4zM1388 2199l4 4-4 4-4-4zM1401 2196l4 4-4 4-4-4zM1357 2181l4 4-4 4-4-4zM1363 2185l4 4-4 4-4-4zM1359 2199l4 4-4 4-4-4zM1453 2192l4 4-4 4-4-4zM1432 2203l4 4-4 4-4-4zM1437 2179l4 4-4 4-4-4zM1432 2195l4 4-4 4-4-4zM1409 2181l4 4-4 4-4-4zM1450 2183l4 4-4 4-4-4zM1440 2182l4 4-4 4-4-4zM1424 2194l4 4-4 4-4-4zM1430 2173l4 4-4 4-4-4zM1437 2185l4 4-4 4-4-4zM1405 2194l4 4-4 4-4-4zM1424 2196l4 4-4 4-4-4zM1441 2201l4 4-4 4-4-4zM1445 2181l4 4-4 4-4-4zM1416 2186l4 4-4 4-4-4zM1401 2175l4 4-4 4-4-4zM1443 2168l4 4-4 4-4-4zM1452 2187l4 4-4 4-4-4zM1417 2195l4 4-4 4-4-4zM1434 2194l4 4-4 4-4-4zM1429 2196l4 4-4 4-4-4zM1403 2201l4 4-4 4-4-4zM1404 2182l4 4-4 4-4-4zM1434 2182l4 4-4 4-4-4zM1425 2202l4 4-4 4-4-4zM1433 2199l4 4-4 4-4-4zM1450 2194l4 4-4 4-4-4zM1437 2179l4 4-4 4-4-4zM1404 2197l4 4-4 4-4-4zM1407 2191l4 4-4 4-4-4zM1439 2189l4 4-4 4-4-4zM1430 2189l4 4-4 4-4-4zM1441 2192l4 4-4 4-4-4zM1420 2200l4 4-4 4-4-4zM1407 2188l4 4-4 4-4-4zM1416 2189l4 4-4 4-4-4zM1413 2192l4 4-4 4-4-4zM1434 2181l4 4-4 4-4-4zM1428 2203l4 4-4 4-4-4zM1418 2200l4 4-4 4-4-4zM1425 2177l4 4-4 4-4-4zM1432 2189l4 4-4 4-4-4zM1425 2190l4 4-4 4-4-4zM1404 2186l4 4-4 4-4-4zM1450 2173l4 4-4 4-4-4zM1420 2181l4 4-4 4-4-4zM1437 2183l4 4-4 4-4-4zM1434 2186l4 4-4 4-4-4zM1449 2180l4 4-4 4-4-4zM1400 2185l4 4-4 4-4-4zM1442 2181l4 4-4 4-4-4zM1417 2183l4 4-4 4-4-4zM1440 2186l4 4-4 4-4-4zM1432 2179l4 4-4 4-4-4zM1476 2196l4 4-4 4-4-4zM1480 2181l4 4-4 4-4-4zM1491 2175l4 4-4 4-4-4zM1463 2191l4 4-4 4-4-4zM1482 2194l4 4-4 4-4-4zM1500 2197l4 4-4 4-4-4zM1453 2189l4 4-4 4-4-4zM1493 2189l4 4-4 4-4-4zM1462 2191l4 4-4 4-4-4zM1454 2182l4 4-4 4-4-4zM1461 2201l4 4-4 4-4-4zM1496 2187l4 4-4 4-4-4zM1474 2171l4 4-4 4-4-4zM1470 2190l4 4-4 4-4-4zM1479 2195l4 4-4 4-4-4zM1473 2197l4 4-4 4-4-4zM1449 2195l4 4-4 4-4-4zM1492 2175l4 4-4 4-4-4zM1451 2202l4 4-4 4-4-4zM1464 2182l4 4-4 4-4-4zM1502 2200l4 4-4 4-4-4zM1474 2189l4 4-4 4-4-4zM1462 2193l4 4-4 4-4-4zM1499 2197l4 4-4 4-4-4zM1491 2179l4 4-4 4-4-4zM1471 2175l4 4-4 4-4-4zM1454 2194l4 4-4 4-4-4zM1482 2194l4 4-4 4-4-4zM1500 2185l4 4-4 4-4-4zM1479 2192l4 4-4 4-4-4zM1475 2175l4 4-4 4-4-4zM1465 2199l4 4-4 4-4-4zM1463 2183l4 4-4 4-4-4zM1474 2187l4 4-4 4-4-4zM1455 2185l4 4-4 4-4-4zM1474 2196l4 4-4 4-4-4zM1468 2192l4 4-4 4-4-4zM1450 2203l4 4-4 4-4-4zM1485 2187l4 4-4 4-4-4zM1464 2179l4 4-4 4-4-4zM1495 2177l4 4-4 4-4-4zM1457 2208l4 4-4 4-4-4zM1479 2203l4 4-4 4-4-4zM1459 2190l4 4-4 4-4-4zM1450 2180l4 4-4 4-4-4zM1455 2186l4 4-4 4-4-4zM1475 2178l4 4-4 4-4-4zM1549 2198l4 4-4 4-4-4zM1545 2181l4 4-4 4-4-4zM1547 2185l4 4-4 4-4-4zM1511 2190l4 4-4 4-4-4zM1540 2182l4 4-4 4-4-4zM1543 2194l4 4-4 4-4-4zM1510 2193l4 4-4 4-4-4zM1534 2193l4 4-4 4-4-4zM1511 2194l4 4-4 4-4-4zM1504 2178l4 4-4 4-4-4zM1532 2184l4 4-4 4-4-4zM1554 2192l4 4-4 4-4-4zM1509 2175l4 4-4 4-4-4zM1525 2186l4 4-4 4-4-4zM1518 2178l4 4-4 4-4-4zM1544 2175l4 4-4 4-4-4zM1521 2194l4 4-4 4-4-4zM1520 2185l4 4-4 4-4-4zM1517 2191l4 4-4 4-4-4zM1530 2193l4 4-4 4-4-4zM1533 2201l4 4-4 4-4-4zM1543 2168l4 4-4 4-4-4zM1526 2199l4 4-4 4-4-4zM1523 2173l4 4-4 4-4-4zM1498 2192l4 4-4 4-4-4zM1523 2184l4 4-4 4-4-4zM1541 2186l4 4-4 4-4-4zM1527 2182l4 4-4 4-4-4zM1519 2198l4 4-4 4-4-4zM1510 2182l4 4-4 4-4-4zM1531 2186l4 4-4 4-4-4zM1506 2187l4 4-4 4-4-4zM1534 2185l4 4-4 4-4-4zM1542 2200l4 4-4 4-4-4zM1541 2194l4 4-4 4-4-4zM1512 2191l4 4-4 4-4-4zM1511 2185l4 4-4 4-4-4zM1515 2185l4 4-4 4-4-4zM1534 2186l4 4-4 4-4-4zM1538 2191l4 4-4 4-4-4zM1527 2190l4 4-4 4-4-4zM1534 2196l4 4-4 4-4-4zM1500 2188l4 4-4 4-4-4zM1506 2195l4 4-4 4-4-4zM1517 2185l4 4-4 4-4-4zM1530 2197l4 4-4 4-4-4zM1539 2195l4 4-4 4-4-4zM1498 2181l4 4-4 4-4-4zM1536 2179l4 4-4 4-4-4zM1538 2187l4 4-4 4-4-4zM1548 2198l4 4-4 4-4-4zM1538 2178l4 4-4 4-4-4zM1518 2181l4 4-4 4-4-4zM1549 2188l4 4-4 4-4-4zM981 2206l4 4-4 4-4-4zM1039 2207l4 4-4 4-4-4zM1056 2203l4 4-4 4-4-4zM1005 2206l4 4-4 4-4-4zM1041 2198l4 4-4 4-4-4zM1018 2218l4 4-4 4-4-4zM1035 2215l4 4-4 4-4-4zM1003 2226l4 4-4 4-4-4zM1031 2215l4 4-4 4-4-4zM999 2201l4 4-4 4-4-4zM1030 2203l4 4-4 4-4-4zM1032 2211l4 4-4 4-4-4zM1064 2204l4 4-4 4-4-4zM1060 2218l4 4-4 4-4-4zM1060 2196l4 4-4 4-4-4zM1095 2214l4 4-4 4-4-4zM1094 2205l4 4-4 4-4-4zM1072 2203l4 4-4 4-4-4zM1061 2216l4 4-4 4-4-4zM1059 2218l4 4-4 4-4-4zM1065 2214l4 4-4 4-4-4zM1084 2202l4 4-4 4-4-4zM1096 2222l4 4-4 4-4-4zM1064 2218l4 4-4 4-4-4zM1054 2218l4 4-4 4-4-4zM1066 2202l4 4-4 4-4-4zM1090 2220l4 4-4 4-4-4zM1089 2216l4 4-4 4-4-4zM1067 2214l4 4-4 4-4-4zM1083 2203l4 4-4 4-4-4zM1075 2223l4 4-4 4-4-4zM1095 2218l4 4-4 4-4-4zM1058 2199l4 4-4 4-4-4zM1098 2212l4 4-4 4-4-4zM1050 2198l4 4-4 4-4-4zM1052 2210l4 4-4 4-4-4zM1067 2210l4 4-4 4-4-4zM1074 2205l4 4-4 4-4-4zM1070 2223l4 4-4 4-4-4zM1090 2210l4 4-4 4-4-4zM1096 2225l4 4-4 4-4-4zM1088 2204l4 4-4 4-4-4zM1069 2215l4 4-4 4-4-4zM1131 2211l4 4-4 4-4-4zM1142 2208l4 4-4 4-4-4zM1120 2211l4 4-4 4-4-4zM1135 2226l4 4-4 4-4-4zM1105 2214l4 4-4 4-4-4zM1128 2220l4 4-4 4-4-4zM1126 2205l4 4-4 4-4-4zM1105 2216l4 4-4 4-4-4zM1118 2223l4 4-4 4-4-4zM1153 2202l4 4-4 4-4-4zM1144 2222l4 4-4 4-4-4zM1152 2204l4 4-4 4-4-4zM1134 2210l4 4-4 4-4-4zM1109 2224l4 4-4 4-4-4zM1138 2204l4 4-4 4-4-4zM1113 2208l4 4-4 4-4-4zM1140 2216l4 4-4 4-4-4zM1143 2211l4 4-4 4-4-4zM1114 2214l4 4-4 4-4-4zM1130 2215l4 4-4 4-4-4zM1112 2227l4 4-4 4-4-4zM1125 2207l4 4-4 4-4-4zM1105 2215l4 4-4 4-4-4zM1144 2211l4 4-4 4-4-4zM1141 2206l4 4-4 4-4-4zM1135 2226l4 4-4 4-4-4zM1102 2212l4 4-4 4-4-4zM1118 2213l4 4-4 4-4-4zM1108 2213l4 4-4 4-4-4zM1146 2209l4 4-4 4-4-4zM1114 2197l4 4-4 4-4-4zM1143 2223l4 4-4 4-4-4zM1120 2209l4 4-4 4-4-4zM1123 2214l4 4-4 4-4-4zM1132 2211l4 4-4 4-4-4zM1096 2205l4 4-4 4-4-4zM1113 2218l4 4-4 4-4-4zM1141 2227l4 4-4 4-4-4zM1115 2219l4 4-4 4-4-4zM1098 2208l4 4-4 4-4-4zM1126 2216l4 4-4 4-4-4zM1149 2222l4 4-4 4-4-4zM1147 2224l4 4-4 4-4-4zM1126 2227l4 4-4 4-4-4zM1106 2220l4 4-4 4-4-4zM1140 2210l4 4-4 4-4-4zM1115 2208l4 4-4 4-4-4zM1103 2223l4 4-4 4-4-4zM1134 2220l4 4-4 4-4-4zM1140 2198l4 4-4 4-4-4zM1125 2225l4 4-4 4-4-4zM1117 2215l4 4-4 4-4-4zM1154 2220l4 4-4 4-4-4zM1097 2204l4 4-4 4-4-4zM1168 2222l4 4-4 4-4-4zM1177 2203l4 4-4 4-4-4zM1183 2213l4 4-4 4-4-4zM1167 2206l4 4-4 4-4-4zM1190 2212l4 4-4 4-4-4zM1200 2223l4 4-4 4-4-4zM1185 2210l4 4-4 4-4-4zM1163 2198l4 4-4 4-4-4zM1172 2203l4 4-4 4-4-4zM1196 2208l4 4-4 4-4-4zM1160 2201l4 4-4 4-4-4zM1176 2217l4 4-4 4-4-4zM1165 2202l4 4-4 4-4-4zM1172 2203l4 4-4 4-4-4zM1189 2209l4 4-4 4-4-4zM1189 2217l4 4-4 4-4-4zM1202 2215l4 4-4 4-4-4zM1188 2217l4 4-4 4-4-4zM1178 2204l4 4-4 4-4-4zM1176 2219l4 4-4 4-4-4zM1185 2222l4 4-4 4-4-4zM1153 2219l4 4-4 4-4-4zM1191 2210l4 4-4 4-4-4zM1189 2205l4 4-4 4-4-4zM1194 2218l4 4-4 4-4-4zM1195 2228l4 4-4 4-4-4zM1164 2225l4 4-4 4-4-4zM1171 2223l4 4-4 4-4-4zM1161 2219l4 4-4 4-4-4zM1190 2220l4 4-4 4-4-4zM1173 2204l4 4-4 4-4-4zM1165 2214l4 4-4 4-4-4zM1171 2210l4 4-4 4-4-4zM1171 2223l4 4-4 4-4-4zM1189 2201l4 4-4 4-4-4zM1162 2198l4 4-4 4-4-4zM1175 2209l4 4-4 4-4-4zM1184 2217l4 4-4 4-4-4zM1188 2226l4 4-4 4-4-4zM1163 2213l4 4-4 4-4-4zM1155 2221l4 4-4 4-4-4zM1180 2209l4 4-4 4-4-4zM1195 2219l4 4-4 4-4-4zM1191 2206l4 4-4 4-4-4zM1173 2218l4 4-4 4-4-4zM1199 2214l4 4-4 4-4-4zM1189 2222l4 4-4 4-4-4zM1200 2219l4 4-4 4-4-4zM1177 2216l4 4-4 4-4-4zM1188 2219l4 4-4 4-4-4zM1173 2227l4 4-4 4-4-4zM1183 2214l4 4-4 4-4-4zM1181 2218l4 4-4 4-4-4zM1151 2218l4 4-4 4-4-4zM1153 2206l4 4-4 4-4-4zM1166 2221l4 4-4 4-4-4zM1190 2212l4 4-4 4-4-4zM1161 2208l4 4-4 4-4-4zM1184 2203l4 4-4 4-4-4zM1183 2216l4 4-4 4-4-4zM1169 2228l4 4-4 4-4-4zM1154 2208l4 4-4 4-4-4zM1150 2228l4 4-4 4-4-4zM1201 2222l4 4-4 4-4-4zM1208 2214l4 4-4 4-4-4zM1165 2200l4 4-4 4-4-4zM1173 2209l4 4-4 4-4-4zM1189 2218l4 4-4 4-4-4zM1167 2208l4 4-4 4-4-4zM1169 2213l4 4-4 4-4-4zM1173 2208l4 4-4 4-4-4zM1181 2219l4 4-4 4-4-4zM1170 2205l4 4-4 4-4-4zM1163 2201l4 4-4 4-4-4zM1243 2203l4 4-4 4-4-4zM1247 2200l4 4-4 4-4-4zM1239 2226l4 4-4 4-4-4zM1246 2217l4 4-4 4-4-4zM1211 2201l4 4-4 4-4-4zM1214 2221l4 4-4 4-4-4zM1253 2209l4 4-4 4-4-4zM1209 2212l4 4-4 4-4-4zM1208 2200l4 4-4 4-4-4zM1210 2221l4 4-4 4-4-4zM1245 2207l4 4-4 4-4-4zM1209 2219l4 4-4 4-4-4zM1224 2220l4 4-4 4-4-4zM1219 2209l4 4-4 4-4-4zM1226 2215l4 4-4 4-4-4zM1210 2219l4 4-4 4-4-4zM1239 2222l4 4-4 4-4-4zM1210 2229l4 4-4 4-4-4zM1245 2208l4 4-4 4-4-4zM1226 2227l4 4-4 4-4-4zM1207 2218l4 4-4 4-4-4zM1235 2215l4 4-4 4-4-4zM1209 2211l4 4-4 4-4-4zM1245 2215l4 4-4 4-4-4zM1212 2221l4 4-4 4-4-4zM1251 2209l4 4-4 4-4-4zM1212 2225l4 4-4 4-4-4zM1220 2223l4 4-4 4-4-4zM1218 2218l4 4-4 4-4-4zM1213 2207l4 4-4 4-4-4zM1202 2230l4 4-4 4-4-4zM1228 2220l4 4-4 4-4-4zM1220 2213l4 4-4 4-4-4zM1240 2205l4 4-4 4-4-4zM1236 2213l4 4-4 4-4-4zM1245 2207l4 4-4 4-4-4zM1249 2199l4 4-4 4-4-4zM1240 2229l4 4-4 4-4-4zM1238 2207l4 4-4 4-4-4zM1219 2213l4 4-4 4-4-4zM1223 2214l4 4-4 4-4-4zM1221 2202l4 4-4 4-4-4zM1255 2211l4 4-4 4-4-4zM1224 2210l4 4-4 4-4-4zM1225 2209l4 4-4 4-4-4zM1201 2201l4 4-4 4-4-4zM1215 2217l4 4-4 4-4-4zM1240 2203l4 4-4 4-4-4zM1237 2203l4 4-4 4-4-4zM1209 2203l4 4-4 4-4-4zM1219 2208l4 4-4 4-4-4zM1238 2200l4 4-4 4-4-4zM1229 2224l4 4-4 4-4-4zM1225 2216l4 4-4 4-4-4zM1205 2214l4 4-4 4-4-4zM1233 2216l4 4-4 4-4-4zM1218 2222l4 4-4 4-4-4zM1238 2228l4 4-4 4-4-4zM1222 2225l4 4-4 4-4-4zM1230 2208l4 4-4 4-4-4zM1219 2206l4 4-4 4-4-4zM1210 2229l4 4-4 4-4-4zM1200 2217l4 4-4 4-4-4zM1204 2224l4 4-4 4-4-4zM1199 2227l4 4-4 4-4-4zM1247 2209l4 4-4 4-4-4zM1206 2214l4 4-4 4-4-4zM1214 2204l4 4-4 4-4-4zM1243 2216l4 4-4 4-4-4zM1219 2231l4 4-4 4-4-4zM1197 2227l4 4-4 4-4-4zM1228 2218l4 4-4 4-4-4zM1209 2219l4 4-4 4-4-4zM1223 2212l4 4-4 4-4-4zM1222 2231l4 4-4 4-4-4zM1225 2206l4 4-4 4-4-4zM1229 2221l4 4-4 4-4-4zM1217 2201l4 4-4 4-4-4zM1223 2208l4 4-4 4-4-4zM1211 2219l4 4-4 4-4-4zM1222 2207l4 4-4 4-4-4zM1231 2204l4 4-4 4-4-4zM1227 2223l4 4-4 4-4-4zM1283 2217l4 4-4 4-4-4zM1252 2203l4 4-4 4-4-4zM1249 2213l4 4-4 4-4-4zM1301 2216l4 4-4 4-4-4zM1257 2213l4 4-4 4-4-4zM1304 2224l4 4-4 4-4-4zM1276 2200l4 4-4 4-4-4zM1266 2206l4 4-4 4-4-4zM1268 2204l4 4-4 4-4-4zM1271 2218l4 4-4 4-4-4zM1286 2221l4 4-4 4-4-4zM1271 2201l4 4-4 4-4-4zM1273 2204l4 4-4 4-4-4zM1265 2223l4 4-4 4-4-4zM1297 2212l4 4-4 4-4-4zM1264 2201l4 4-4 4-4-4zM1277 2209l4 4-4 4-4-4zM1298 2229l4 4-4 4-4-4zM1295 2205l4 4-4 4-4-4zM1289 2213l4 4-4 4-4-4zM1284 2225l4 4-4 4-4-4zM1286 2202l4 4-4 4-4-4zM1283 2212l4 4-4 4-4-4zM1301 2215l4 4-4 4-4-4zM1276 2223l4 4-4 4-4-4zM1278 2205l4 4-4 4-4-4zM1280 2217l4 4-4 4-4-4zM1277 2209l4 4-4 4-4-4zM1272 2219l4 4-4 4-4-4zM1296 2217l4 4-4 4-4-4zM1279 2224l4 4-4 4-4-4zM1285 2220l4 4-4 4-4-4zM1284 2210l4 4-4 4-4-4zM1301 2215l4 4-4 4-4-4zM1271 2221l4 4-4 4-4-4zM1261 2218l4 4-4 4-4-4zM1288 2222l4 4-4 4-4-4zM1290 2220l4 4-4 4-4-4zM1275 2204l4 4-4 4-4-4zM1287 2211l4 4-4 4-4-4zM1303 2209l4 4-4 4-4-4zM1265 2222l4 4-4 4-4-4zM1274 2214l4 4-4 4-4-4zM1265 2223l4 4-4 4-4-4zM1295 2218l4 4-4 4-4-4zM1296 2205l4 4-4 4-4-4zM1259 2214l4 4-4 4-4-4zM1267 2216l4 4-4 4-4-4zM1284 2226l4 4-4 4-4-4zM1258 2199l4 4-4 4-4-4zM1267 2209l4 4-4 4-4-4zM1294 2216l4 4-4 4-4-4zM1272 2211l4 4-4 4-4-4zM1257 2225l4 4-4 4-4-4zM1294 2204l4 4-4 4-4-4zM1250 2223l4 4-4 4-4-4zM1259 2221l4 4-4 4-4-4zM1249 2225l4 4-4 4-4-4zM1280 2220l4 4-4 4-4-4zM1295 2217l4 4-4 4-4-4zM1273 2219l4 4-4 4-4-4zM1262 2217l4 4-4 4-4-4zM1262 2222l4 4-4 4-4-4zM1264 2212l4 4-4 4-4-4zM1278 2217l4 4-4 4-4-4zM1295 2202l4 4-4 4-4-4zM1259 2214l4 4-4 4-4-4zM1258 2208l4 4-4 4-4-4zM1271 2213l4 4-4 4-4-4zM1281 2213l4 4-4 4-4-4zM1289 2220l4 4-4 4-4-4zM1278 2211l4 4-4 4-4-4zM1267 2226l4 4-4 4-4-4zM1280 2216l4 4-4 4-4-4zM1327 2207l4 4-4 4-4-4zM1326 2221l4 4-4 4-4-4zM1347 2212l4 4-4 4-4-4zM1326 2223l4 4-4 4-4-4zM1330 2224l4 4-4 4-4-4zM1339 2223l4 4-4 4-4-4zM1303 2202l4 4-4 4-4-4zM1338 2204l4 4-4 4-4-4zM1332 2222l4 4-4 4-4-4zM1324 2216l4 4-4 4-4-4zM1309 2218l4 4-4 4-4-4zM1330 2212l4 4-4 4-4-4zM1347 2206l4 4-4 4-4-4zM1312 2222l4 4-4 4-4-4zM1353 2223l4 4-4 4-4-4zM1338 2206l4 4-4 4-4-4zM1343 2214l4 4-4 4-4-4zM1324 2209l4 4-4 4-4-4zM1341 2224l4 4-4 4-4-4zM1339 2221l4 4-4 4-4-4zM1320 2210l4 4-4 4-4-4zM1347 2212l4 4-4 4-4-4zM1330 2222l4 4-4 4-4-4zM1305 2211l4 4-4 4-4-4zM1337 2200l4 4-4 4-4-4zM1310 2212l4 4-4 4-4-4zM1316 2212l4 4-4 4-4-4zM1307 2212l4 4-4 4-4-4zM1340 2210l4 4-4 4-4-4zM1317 2200l4 4-4 4-4-4zM1336 2210l4 4-4 4-4-4zM1305 2205l4 4-4 4-4-4zM1346 2216l4 4-4 4-4-4zM1349 2222l4 4-4 4-4-4zM1335 2221l4 4-4 4-4-4zM1318 2204l4 4-4 4-4-4zM1304 2217l4 4-4 4-4-4zM1348 2225l4 4-4 4-4-4zM1327 2211l4 4-4 4-4-4zM1321 2218l4 4-4 4-4-4zM1329 2223l4 4-4 4-4-4zM1353 2200l4 4-4 4-4-4zM1337 2210l4 4-4 4-4-4zM1343 2210l4 4-4 4-4-4zM1330 2206l4 4-4 4-4-4zM1333 2213l4 4-4 4-4-4zM1319 2209l4 4-4 4-4-4zM1387 2209l4 4-4 4-4-4zM1391 2205l4 4-4 4-4-4zM1398 2208l4 4-4 4-4-4zM1351 2208l4 4-4 4-4-4zM1349 2211l4 4-4 4-4-4zM1387 2207l4 4-4 4-4-4zM1352 2224l4 4-4 4-4-4zM1362 2203l4 4-4 4-4-4zM1381 2204l4 4-4 4-4-4zM1352 2214l4 4-4 4-4-4zM1360 2206l4 4-4 4-4-4zM1355 2215l4 4-4 4-4-4zM1385 2221l4 4-4 4-4-4zM1391 2212l4 4-4 4-4-4zM1390 2208l4 4-4 4-4-4zM1378 2216l4 4-4 4-4-4zM1349 2212l4 4-4 4-4-4zM1394 2220l4 4-4 4-4-4zM1383 2212l4 4-4 4-4-4zM1377 2204l4 4-4 4-4-4zM1368 2227l4 4-4 4-4-4zM1405 2224l4 4-4 4-4-4zM1368 2227l4 4-4 4-4-4zM1360 2228l4 4-4 4-4-4zM1365 2207l4 4-4 4-4-4zM1390 2208l4 4-4 4-4-4zM1395 2207l4 4-4 4-4-4zM1397 2218l4 4-4 4-4-4zM1367 2222l4 4-4 4-4-4zM1354 2210l4 4-4 4-4-4zM1398 2223l4 4-4 4-4-4zM1370 2206l4 4-4 4-4-4zM1386 2214l4 4-4 4-4-4zM1362 2225l4 4-4 4-4-4zM1364 2203l4 4-4 4-4-4zM1373 2206l4 4-4 4-4-4zM1395 2206l4 4-4 4-4-4zM1388 2222l4 4-4 4-4-4zM1361 2216l4 4-4 4-4-4zM1375 2223l4 4-4 4-4-4zM1370 2229l4 4-4 4-4-4zM1439 2211l4 4-4 4-4-4zM1418 2200l4 4-4 4-4-4zM1438 2212l4 4-4 4-4-4zM1421 2210l4 4-4 4-4-4zM1448 2206l4 4-4 4-4-4zM1423 2222l4 4-4 4-4-4zM1410 2210l4 4-4 4-4-4zM1444 2209l4 4-4 4-4-4zM1409 2207l4 4-4 4-4-4zM1440 2216l4 4-4 4-4-4zM1411 2203l4 4-4 4-4-4zM1435 2224l4 4-4 4-4-4zM1440 2224l4 4-4 4-4-4zM1434 2214l4 4-4 4-4-4zM1420 2229l4 4-4 4-4-4zM1415 2201l4 4-4 4-4-4zM1423 2208l4 4-4 4-4-4zM1400 2199l4 4-4 4-4-4zM1451 2221l4 4-4 4-4-4zM1416 2212l4 4-4 4-4-4zM1447 2223l4 4-4 4-4-4zM1425 2223l4 4-4 4-4-4zM1412 2214l4 4-4 4-4-4zM1401 2198l4 4-4 4-4-4zM1431 2219l4 4-4 4-4-4zM1445 2218l4 4-4 4-4-4zM1450 2203l4 4-4 4-4-4zM1435 2214l4 4-4 4-4-4zM1415 2220l4 4-4 4-4-4zM1420 2217l4 4-4 4-4-4zM1410 2208l4 4-4 4-4-4zM1418 2214l4 4-4 4-4-4zM1404 2214l4 4-4 4-4-4zM1444 2231l4 4-4 4-4-4zM1454 2223l4 4-4 4-4-4zM1431 2216l4 4-4 4-4-4zM1432 2219l4 4-4 4-4-4zM1419 2208l4 4-4 4-4-4zM1438 2210l4 4-4 4-4-4zM1410 2223l4 4-4 4-4-4zM1446 2220l4 4-4 4-4-4zM1425 2216l4 4-4 4-4-4zM1448 2215l4 4-4 4-4-4zM1424 2216l4 4-4 4-4-4zM1412 2209l4 4-4 4-4-4zM1431 2204l4 4-4 4-4-4zM1417 2204l4 4-4 4-4-4zM1489 2204l4 4-4 4-4-4zM1470 2223l4 4-4 4-4-4zM1490 2214l4 4-4 4-4-4zM1447 2205l4 4-4 4-4-4zM1456 2197l4 4-4 4-4-4zM1465 2217l4 4-4 4-4-4zM1456 2218l4 4-4 4-4-4zM1455 2227l4 4-4 4-4-4zM1472 2216l4 4-4 4-4-4zM1495 2224l4 4-4 4-4-4zM1494 2209l4 4-4 4-4-4zM1499 2212l4 4-4 4-4-4zM1474 2209l4 4-4 4-4-4zM1499 2216l4 4-4 4-4-4zM1475 2223l4 4-4 4-4-4zM1491 2223l4 4-4 4-4-4zM1477 2216l4 4-4 4-4-4zM1498 2207l4 4-4 4-4-4zM1486 2205l4 4-4 4-4-4zM1486 2211l4 4-4 4-4-4zM1470 2207l4 4-4 4-4-4zM1451 2220l4 4-4 4-4-4zM1456 2220l4 4-4 4-4-4zM1461 2196l4 4-4 4-4-4zM1472 2220l4 4-4 4-4-4zM1481 2212l4 4-4 4-4-4zM1454 2219l4 4-4 4-4-4zM1470 2212l4 4-4 4-4-4zM1465 2203l4 4-4 4-4-4zM1486 2225l4 4-4 4-4-4zM1490 2204l4 4-4 4-4-4zM1494 2214l4 4-4 4-4-4zM1451 2206l4 4-4 4-4-4zM1488 2211l4 4-4 4-4-4zM1476 2224l4 4-4 4-4-4zM1469 2212l4 4-4 4-4-4zM1487 2209l4 4-4 4-4-4zM1485 2219l4 4-4 4-4-4zM1500 2222l4 4-4 4-4-4zM1460 2217l4 4-4 4-4-4zM1456 2226l4 4-4 4-4-4zM1534 2201l4 4-4 4-4-4zM1527 2224l4 4-4 4-4-4zM1544 2222l4 4-4 4-4-4zM1519 2199l4 4-4 4-4-4zM1508 2207l4 4-4 4-4-4zM1501 2229l4 4-4 4-4-4zM1508 2222l4 4-4 4-4-4zM1529 2205l4 4-4 4-4-4zM1526 2199l4 4-4 4-4-4zM1550 2222l4 4-4 4-4-4zM1529 2216l4 4-4 4-4-4zM1549 2213l4 4-4 4-4-4zM1522 2224l4 4-4 4-4-4zM1512 2204l4 4-4 4-4-4zM1533 2217l4 4-4 4-4-4zM1540 2207l4 4-4 4-4-4zM1546 2192l4 4-4 4-4-4zM1547 2216l4 4-4 4-4-4zM1544 2225l4 4-4 4-4-4zM1512 2205l4 4-4 4-4-4zM1551 2227l4 4-4 4-4-4zM1547 2221l4 4-4 4-4-4zM1533 2220l4 4-4 4-4-4zM1540 2226l4 4-4 4-4-4zM1501 2219l4 4-4 4-4-4zM1553 2206l4 4-4 4-4-4zM1521 2198l4 4-4 4-4-4zM1512 2194l4 4-4 4-4-4zM1509 2206l4 4-4 4-4-4zM1542 2224l4 4-4 4-4-4zM1515 2207l4 4-4 4-4-4zM1531 2221l4 4-4 4-4-4zM1518 2222l4 4-4 4-4-4zM1503 2211l4 4-4 4-4-4zM1532 2208l4 4-4 4-4-4zM1548 2210l4 4-4 4-4-4zM1517 2215l4 4-4 4-4-4zM1510 2223l4 4-4 4-4-4zM1517 2224l4 4-4 4-4-4zM1542 2221l4 4-4 4-4-4zM1522 2211l4 4-4 4-4-4zM951 2237l4 4-4 4-4-4zM1019 2244l4 4-4 4-4-4zM1035 2240l4 4-4 4-4-4zM1049 2228l4 4-4 4-4-4zM1032 2230l4 4-4 4-4-4zM1036 2235l4 4-4 4-4-4zM1022 2228l4 4-4 4-4-4zM1075 2238l4 4-4 4-4-4zM1098 2236l4 4-4 4-4-4zM1086 2246l4 4-4 4-4-4zM1100 2236l4 4-4 4-4-4zM1104 2235l4 4-4 4-4-4zM1096 2242l4 4-4 4-4-4zM1080 2243l4 4-4 4-4-4zM1062 2234l4 4-4 4-4-4zM1141 2249l4 4-4 4-4-4zM1103 2224l4 4-4 4-4-4zM1134 2234l4 4-4 4-4-4zM1119 2227l4 4-4 4-4-4zM1104 2247l4 4-4 4-4-4zM1117 2230l4 4-4 4-4-4zM1111 2238l4 4-4 4-4-4zM1124 2242l4 4-4 4-4-4zM1109 2241l4 4-4 4-4-4zM1104 2238l4 4-4 4-4-4zM1103 2232l4 4-4 4-4-4zM1141 2235l4 4-4 4-4-4zM1124 2247l4 4-4 4-4-4zM1147 2237l4 4-4 4-4-4zM1123 2250l4 4-4 4-4-4zM1135 2249l4 4-4 4-4-4zM1118 2232l4 4-4 4-4-4zM1166 2231l4 4-4 4-4-4zM1189 2234l4 4-4 4-4-4zM1156 2243l4 4-4 4-4-4zM1157 2225l4 4-4 4-4-4zM1197 2234l4 4-4 4-4-4zM1153 2243l4 4-4 4-4-4zM1169 2244l4 4-4 4-4-4zM1150 2222l4 4-4 4-4-4zM1198 2238l4 4-4 4-4-4zM1166 2238l4 4-4 4-4-4zM1198 2231l4 4-4 4-4-4zM1169 2242l4 4-4 4-4-4zM1152 2247l4 4-4 4-4-4zM1160 2253l4 4-4 4-4-4zM1164 2239l4 4-4 4-4-4zM1195 2251l4 4-4 4-4-4zM1169 2246l4 4-4 4-4-4zM1168 2239l4 4-4 4-4-4zM1166 2244l4 4-4 4-4-4zM1156 2239l4 4-4 4-4-4zM1244 2230l4 4-4 4-4-4zM1224 2241l4 4-4 4-4-4zM1220 2252l4 4-4 4-4-4zM1212 2225l4 4-4 4-4-4zM1250 2233l4 4-4 4-4-4zM1253 2241l4 4-4 4-4-4zM1213 2231l4 4-4 4-4-4zM1232 2237l4 4-4 4-4-4zM1232 2250l4 4-4 4-4-4zM1204 2241l4 4-4 4-4-4zM1219 2236l4 4-4 4-4-4zM1199 2236l4 4-4 4-4-4zM1226 2254l4 4-4 4-4-4zM1242 2255l4 4-4 4-4-4zM1222 2224l4 4-4 4-4-4zM1248 2226l4 4-4 4-4-4zM1227 2235l4 4-4 4-4-4zM1200 2249l4 4-4 4-4-4zM1222 2237l4 4-4 4-4-4zM1217 2223l4 4-4 4-4-4zM1222 2227l4 4-4 4-4-4zM1239 2236l4 4-4 4-4-4zM1245 2229l4 4-4 4-4-4zM1216 2243l4 4-4 4-4-4zM1255 2234l4 4-4 4-4-4zM1271 2233l4 4-4 4-4-4zM1251 2252l4 4-4 4-4-4zM1252 2245l4 4-4 4-4-4zM1292 2241l4 4-4 4-4-4zM1262 2244l4 4-4 4-4-4zM1257 2248l4 4-4 4-4-4zM1253 2255l4 4-4 4-4-4zM1271 2233l4 4-4 4-4-4zM1272 2227l4 4-4 4-4-4zM1297 2230l4 4-4 4-4-4zM1293 2234l4 4-4 4-4-4zM1287 2242l4 4-4 4-4-4zM1277 2243l4 4-4 4-4-4zM1272 2240l4 4-4 4-4-4zM1285 2229l4 4-4 4-4-4zM1273 2246l4 4-4 4-4-4zM1260 2227l4 4-4 4-4-4zM1285 2250l4 4-4 4-4-4zM1252 2246l4 4-4 4-4-4zM1250 2227l4 4-4 4-4-4zM1251 2234l4 4-4 4-4-4zM1289 2254l4 4-4 4-4-4zM1317 2244l4 4-4 4-4-4zM1337 2231l4 4-4 4-4-4zM1312 2240l4 4-4 4-4-4zM1321 2225l4 4-4 4-4-4zM1309 2226l4 4-4 4-4-4zM1304 2226l4 4-4 4-4-4zM1335 2240l4 4-4 4-4-4zM1310 2246l4 4-4 4-4-4zM1308 2241l4 4-4 4-4-4zM1309 2241l4 4-4 4-4-4zM1331 2239l4 4-4 4-4-4zM1323 2237l4 4-4 4-4-4zM1344 2234l4 4-4 4-4-4zM1328 2235l4 4-4 4-4-4zM1346 2231l4 4-4 4-4-4zM1303 2229l4 4-4 4-4-4zM1331 2236l4 4-4 4-4-4zM1388 2242l4 4-4 4-4-4zM1397 2244l4 4-4 4-4-4zM1388 2247l4 4-4 4-4-4zM1383 2224l4 4-4 4-4-4zM1368 2249l4 4-4 4-4-4zM1370 2234l4 4-4 4-4-4zM1371 2230l4 4-4 4-4-4zM1391 2231l4 4-4 4-4-4zM1371 2236l4 4-4 4-4-4zM1398 2247l4 4-4 4-4-4zM1348 2235l4 4-4 4-4-4zM1380 2234l4 4-4 4-4-4zM1410 2254l4 4-4 4-4-4zM1412 2242l4 4-4 4-4-4zM1433 2243l4 4-4 4-4-4zM1441 2227l4 4-4 4-4-4zM1452 2227l4 4-4 4-4-4zM1425 2254l4 4-4 4-4-4zM1423 2238l4 4-4 4-4-4zM1427 2248l4 4-4 4-4-4zM1404 2237l4 4-4 4-4-4zM1430 2239l4 4-4 4-4-4zM1454 2242l4 4-4 4-4-4zM1454 2234l4 4-4 4-4-4zM1455 2228l4 4-4 4-4-4zM1492 2243l4 4-4 4-4-4zM1465 2239l4 4-4 4-4-4zM1478 2232l4 4-4 4-4-4zM1492 2233l4 4-4 4-4-4zM1498 2235l4 4-4 4-4-4zM1491 2225l4 4-4 4-4-4zM1459 2231l4 4-4 4-4-4zM1536 2252l4 4-4 4-4-4zM1552 2228l4 4-4 4-4-4zM1542 2247l4 4-4 4-4-4zM1549 2246l4 4-4 4-4-4zM1512 2224l4 4-4 4-4-4zM1545 2240l4 4-4 4-4-4zM1524 2246l4 4-4 4-4-4zM1509 2239l4 4-4 4-4-4zM1543 2240l4 4-4 4-4-4zM1027 2261l4 4-4 4-4-4zM1094 2262l4 4-4 4-4-4zM1073 2265l4 4-4 4-4-4zM1048 2259l4 4-4 4-4-4zM1137 2270l4 4-4 4-4-4zM1128 2258l4 4-4 4-4-4zM1121 2272l4 4-4 4-4-4zM1138 2273l4 4-4 4-4-4zM1178 2266l4 4-4 4-4-4zM1159 2267l4 4-4 4-4-4zM1161 2281l4 4-4 4-4-4zM1180 2262l4 4-4 4-4-4zM1148 2250l4 4-4 4-4-4zM1183 2261l4 4-4 4-4-4zM1228 2267l4 4-4 4-4-4zM1210 2269l4 4-4 4-4-4zM1226 2260l4 4-4 4-4-4zM1228 2262l4 4-4 4-4-4zM1194 2271l4 4-4 4-4-4zM1225 2264l4 4-4 4-4-4zM1292 2252l4 4-4 4-4-4zM1275 2287l4 4-4 4-4-4zM1293 2273l4 4-4 4-4-4zM1250 2274l4 4-4 4-4-4zM1293 2264l4 4-4 4-4-4zM1275 2265l4 4-4 4-4-4zM1321 2260l4 4-4 4-4-4zM1347 2269l4 4-4 4-4-4zM1309 2272l4 4-4 4-4-4zM1316 2262l4 4-4 4-4-4zM1350 2273l4 4-4 4-4-4zM1363 2244l4 4-4 4-4-4zM1364 2276l4 4-4 4-4-4zM1372 2260l4 4-4 4-4-4zM1383 2274l4 4-4 4-4-4zM1368 2255l4 4-4 4-4-4zM1454 2280l4 4-4 4-4-4zM1431 2262l4 4-4 4-4-4zM1427 2260l4 4-4 4-4-4zM1447 2254l4 4-4 4-4-4zM1498 2268l4 4-4 4-4-4zM1498 2267l4 4-4 4-4-4zM1482 2276l4 4-4 4-4-4zM1464 2262l4 4-4 4-4-4zM1525 2261l4 4-4 4-4-4zM1540 2271l4 4-4 4-4-4zM1510 2268l4 4-4 4-4-4zM1101 2281l4 4-4 4-4-4zM1176 2281l4 4-4 4-4-4zM1224 2276l4 4-4 4-4-4zM1253 2288l4 4-4 4-4-4zM1288 2291l4 4-4 4-4-4zM1336 2295l4 4-4 4-4-4zM1371 2293l4 4-4 4-4-4zM1442 2284l4 4-4 4-4-4zM1495 2278l4 4-4 4-4-4zM1526 2291l4 4-4 4-4-4zM2220 1507l4 4-4 4-4-4zM2211 1520l4 4-4 4-4-4zM2246 1633l4 4-4 4-4-4zM2234 1659l4 4-4 4-4-4zM2256 1675l4 4-4 4-4-4zM2234 1735l4 4-4 4-4-4zM2219 1704l4 4-4 4-4-4zM2247 1849l4 4-4 4-4-4zM2223 1985l4 4-4 4-4-4zM2244 2035l4 4-4 4-4-4zM2210 2085l4 4-4 4-4-4zM2228 2139l4 4-4 4-4-4zM2226 2194l4 4-4 4-4-4zM2219 2240l4 4-4 4-4-4zM1272 907l4 4-4 4-4-4zM1146 931l4 4-4 4-4-4zM1274 957l4 4-4 4-4-4zM1302 981l4 4-4 4-4-4zM1197 987l4 4-4 4-4-4zM1215 988l4 4-4 4-4-4zM1324 998l4 4-4 4-4-4zM1393 983l4 4-4 4-4-4zM1346 1031l4 4-4 4-4-4zM1380 1036l4 4-4 4-4-4zM1375 1044l4 4-4 4-4-4zM1472 1048l4 4-4 4-4-4zM1330 1057l4 4-4 4-4-4zM1340 1057l4 4-4 4-4-4zM1355 1061l4 4-4 4-4-4zM1426 1062l4 4-4 4-4-4zM1362 1078l4 4-4 4-4-4zM1371 1084l4 4-4 4-4-4zM1369 1094l4 4-4 4-4-4zM1169 1091l4 4-4 4-4-4zM1538 1069l4 4-4 4-4-4zM1550 1071l4 4-4 4-4-4zM1741 1083l4 4-4 4-4-4zM2249 1366l4 4-4 4-4-4zM2207 1398l4 4-4 4-4-4zM2269 1398l4 4-4 4-4-4zM2227 1442l4 4-4 4-4-4zM2249 1442l4 4-4 4-4-4zM2385 1401l4 4-4 4-4-4zM2353 1424l4 4-4 4-4-4zM2365 1430l4 4-4 4-4-4zM2395 1446l4 4-4 4-4-4zM2348 1460l4 4-4 4-4-4zM2514 1375l4 4-4 4-4-4zM2280 1550l4 4-4 4-4-4zM2299 1575l4 4-4 4-4-4zM2432 1546l4 4-4 4-4-4zM2399 1560l4 4-4 4-4-4zM2397 1568l4 4-4 4-4-4zM2456 1579l4 4-4 4-4-4zM2484 1589l4 4-4 4-4-4zM2517 1569l4 4-4 4-4-4zM2357 1596l4 4-4 4-4-4zM2368 1604l4 4-4 4-4-4zM2378 1607l4 4-4 4-4-4zM2352 1624l4 4-4 4-4-4zM2482 1617l4 4-4 4-4-4zM2519 1615l4 4-4 4-4-4zM2536 1614l4 4-4 4-4-4zM2254 1633l4 4-4 4-4-4zM2273 1627l4 4-4 4-4-4zM2287 1641l4 4-4 4-4-4zM2360 1680l4 4-4 4-4-4zM2334 1708l4 4-4 4-4-4zM2363 1704l4 4-4 4-4-4zM2286 1783l4 4-4 4-4-4zM2330 1773l4 4-4 4-4-4zM2261 1824l4 4-4 4-4-4zM2378 1847l4 4-4 4-4-4zM2253 1950l4 4-4 4-4-4zM2411 1967l4 4-4 4-4-4zM2521 1998l4 4-4 4-4-4zM2482 2019l4 4-4 4-4-4zM2629 1949l4 4-4 4-4-4zM2658 1998l4 4-4 4-4-4zM2255 2036l4 4-4 4-4-4zM2262 2056l4 4-4 4-4-4zM2260 2074l4 4-4 4-4-4zM2414 2085l4 4-4 4-4-4zM2602 2068l4 4-4 4-4-4zM2634 2089l4 4-4 4-4-4zM2476 2147l4 4-4 4-4-4zM2515 2149l4 4-4 4-4-4zM2483 2170l4 4-4 4-4-4zM2474 2185l4 4-4 4-4-4zM2554 2178l4 4-4 4-4-4zM2603 2175l4 4-4 4-4-4zM2619 2190l4 4-4 4-4-4zM2650 2184l4 4-4 4-4-4zM2701 2161l4 4-4 4-4-4zM2262 2193l4 4-4 4-4-4zM2265 2213l4 4-4 4-4-4zM2316 2217l4 4-4 4-4-4zM2391 2204l4 4-4 4-4-4zM2330 2239l4 4-4 4-4-4zM2806 2135l4 4-4 4-4-4zM2874 2138l4 4-4 4-4-4zM2765 2191l4 4-4 4-4-4zM2776 2197l4 4-4 4-4-4zM2846 2191l4 4-4 4-4-4zM2843 2199l4 4-4 4-4-4zM2910 2206l4 4-4 4-4-4zM2962 2202l4 4-4 4-4-4zM3000 2190l4 4-4 4-4-4zM3092 2191l4 4-4 4-4-4zM3197 2206l4 4-4 4-4-4zM3236 2216l4 4-4 4-4-4zM2859 2259l4 4-4 4-4-4zM2919 2292l4 4-4 4-4-4z"/>
<path d="M800.3,1339.0 L1665.0,1441.0" fill="none" stroke="#A5A5A5" stroke-width="2" stroke-dasharray="2 1.9"/>
<path d="M588.3,1474.0 L1706.6,1574.0" fill="none" stroke="#A5A5A5" stroke-width="2" stroke-dasharray="2 1.9"/>
<path d="M569.0,1609.8 L1462.0,1692.0" fill="none" stroke="#A5A5A5" stroke-width="2" stroke-dasharray="2 1.9"/>
<path d="M1979.3,1447.0 L2301.4,1211.5 L2322.0,1211.5" fill="none" stroke="#A5A5A5" stroke-width="2" stroke-dasharray="2 1.9"/>
<path d="M1979.3,1561.0 L2346.0,1308.6 L2366.0,1308.6" fill="none" stroke="#A5A5A5" stroke-width="2" stroke-dasharray="2 1.9"/>
<path d="M571.0,1822.0 L1746.0,1927.0" fill="none" stroke="#A5A5A5" stroke-width="2" stroke-dasharray="2 1.9"/>
<path d="M559.6,1997.0 L1639.0,2097.5" fill="none" stroke="#A5A5A5" stroke-width="2" stroke-dasharray="2 1.9"/>
<path d="M617.6,2127.6 L1433.0,2143.0" fill="none" stroke="#A5A5A5" stroke-width="2" stroke-dasharray="2 1.9"/>
<path d="M647.0,2228.8 L1397.5,2175.8" fill="none" stroke="#A5A5A5" stroke-width="2" stroke-dasharray="2 1.9"/>
<path d="M753.8,2314.0 L1979.0,2180.0" fill="none" stroke="#A5A5A5" stroke-width="2" stroke-dasharray="2 1.9"/>
<path d="M2640.5,1952.0 L2743.0,1774.0 L2762.6,1774.0" fill="none" stroke="#A5A5A5" stroke-width="2" stroke-dasharray="2 1.9"/>
<path d="M2599.0,2070.4 L2791.7,1896.4 L2809.5,1896.4" fill="none" stroke="#A5A5A5" stroke-width="2" stroke-dasharray="2 1.9"/>
<path d="M2651.0,2186.7 L2797.0,1985.7 L2818.0,1985.7" fill="none" stroke="#A5A5A5" stroke-width="2" stroke-dasharray="2 1.9"/>
<path d="M2767.0,2195.4 L2840.7,2073.0 L2860.6,2073.0" fill="none" stroke="#A5A5A5" stroke-width="2" stroke-dasharray="2 1.9"/>
<path d="M3235.2,2219.0 L3133.5,2326.0 L3112.7,2326.0" fill="none" stroke="#A5A5A5" stroke-width="2" stroke-dasharray="2 1.9"/>
<circle cx="1665" cy="1441" r="20.5" fill="none" stroke="#4472C4" stroke-width="5.7"/>
<circle cx="1706.6" cy="1574" r="20.5" fill="none" stroke="#4472C4" stroke-width="5.7"/>
<circle cx="1462" cy="1692" r="20.5" fill="none" stroke="#4472C4" stroke-width="5.7"/>
<circle cx="1979.3" cy="1447" r="20.5" fill="none" stroke="#4472C4" stroke-width="5.7"/>
<circle cx="1979.3" cy="1561" r="20.5" fill="none" stroke="#4472C4" stroke-width="5.7"/>
<circle cx="1746" cy="1927" r="20.5" fill="none" stroke="#4472C4" stroke-width="5.7"/>
<circle cx="1639" cy="2097.5" r="20.5" fill="none" stroke="#4472C4" stroke-width="5.7"/>
<circle cx="1433" cy="2143" r="20.5" fill="none" stroke="#4472C4" stroke-width="5.7"/>
<circle cx="1397.5" cy="2175.8" r="20.5" fill="none" stroke="#4472C4" stroke-width="5.7"/>
<circle cx="1979" cy="2180" r="20.5" fill="none" stroke="#4472C4" stroke-width="5.7"/>
<circle cx="2639.3" cy="1952" r="20.5" fill="none" stroke="#4472C4" stroke-width="5.7"/>
<circle cx="2599" cy="2070.4" r="20.5" fill="none" stroke="#4472C4" stroke-width="5.7"/>
<circle cx="2651" cy="2186.7" r="20.5" fill="none" stroke="#4472C4" stroke-width="5.7"/>
<circle cx="2767" cy="2195.4" r="20.5" fill="none" stroke="#4472C4" stroke-width="5.7"/>
<circle cx="3235.2" cy="2219" r="20.5" fill="none" stroke="#4472C4" stroke-width="5.7"/>
<line x1="313.5" y1="266.0" x2="313.5" y2="2378.5" stroke="#868686" stroke-width="2.2"/>
<line x1="312.5" y1="2377.5" x2="3328.1" y2="2377.5" stroke="#868686" stroke-width="2.2"/>
<line x1="3314.1" y1="266.0" x2="3314.1" y2="2377.5" stroke="#868686" stroke-width="2.2"/>
<line x1="3314.1" y1="2377.5" x2="3328.1" y2="2377.5" stroke="#868686" stroke-width="2.2"/>
<line x1="3314.1" y1="2166.3" x2="3328.1" y2="2166.3" stroke="#868686" stroke-width="2.2"/>
<line x1="3314.1" y1="1955.2" x2="3328.1" y2="1955.2" stroke="#868686" stroke-width="2.2"/>
<line x1="3314.1" y1="1744.1" x2="3328.1" y2="1744.1" stroke="#868686" stroke-width="2.2"/>
<line x1="3314.1" y1="1532.9" x2="3328.1" y2="1532.9" stroke="#868686" stroke-width="2.2"/>
<line x1="3314.1" y1="1321.8" x2="3328.1" y2="1321.8" stroke="#868686" stroke-width="2.2"/>
<line x1="3314.1" y1="1110.6" x2="3328.1" y2="1110.6" stroke="#868686" stroke-width="2.2"/>
<line x1="3314.1" y1="899.5" x2="3328.1" y2="899.5" stroke="#868686" stroke-width="2.2"/>
<line x1="3314.1" y1="688.3" x2="3328.1" y2="688.3" stroke="#868686" stroke-width="2.2"/>
<line x1="3314.1" y1="477.1" x2="3328.1" y2="477.1" stroke="#868686" stroke-width="2.2"/>
<line x1="3314.1" y1="266.0" x2="3328.1" y2="266.0" stroke="#868686" stroke-width="2.2"/>
<text x="270" y="2391.3" font-family="Liberation Sans, sans-serif" font-size="43" text-anchor="end" fill="#000">0</text>
<text x="270" y="1969.0" font-family="Liberation Sans, sans-serif" font-size="43" text-anchor="end" fill="#000">1'000</text>
<text x="270" y="1546.7" font-family="Liberation Sans, sans-serif" font-size="43" text-anchor="end" fill="#000">2'000</text>
<text x="270" y="1124.4" font-family="Liberation Sans, sans-serif" font-size="43" text-anchor="end" fill="#000">3'000</text>
<text x="270" y="702.1" font-family="Liberation Sans, sans-serif" font-size="43" text-anchor="end" fill="#000">4'000</text>
<text x="270" y="279.8" font-family="Liberation Sans, sans-serif" font-size="43" text-anchor="end" fill="#000">5'000</text>
<text x="3357" y="2391.3" font-family="Liberation Sans, sans-serif" font-size="43" fill="#000">0</text>
<text x="3357" y="2180.2" font-family="Liberation Sans, sans-serif" font-size="43" fill="#000">10</text>
<text x="3357" y="1969.0" font-family="Liberation Sans, sans-serif" font-size="43" fill="#000">20</text>
<text x="3357" y="1757.9" font-family="Liberation Sans, sans-serif" font-size="43" fill="#000">30</text>
<text x="3357" y="1546.7" font-family="Liberation Sans, sans-serif" font-size="43" fill="#000">40</text>
<text x="3357" y="1335.5" font-family="Liberation Sans, sans-serif" font-size="43" fill="#000">50</text>
<text x="3357" y="1124.4" font-family="Liberation Sans, sans-serif" font-size="43" fill="#000">60</text>
<text x="3357" y="913.2" font-family="Liberation Sans, sans-serif" font-size="43" fill="#000">70</text>
<text x="3357" y="702.1" font-family="Liberation Sans, sans-serif" font-size="43" fill="#000">80</text>
<text x="3357" y="490.9" font-family="Liberation Sans, sans-serif" font-size="43" fill="#000">90</text>
<text x="3357" y="279.8" font-family="Liberation Sans, sans-serif" font-size="43" fill="#000">100</text>
<text transform="translate(328.7,2407) rotate(-90)" font-family="Liberation Sans, sans-serif" font-size="43" text-anchor="end" fill="#000">1</text>
<text transform="translate(662.1,2407) rotate(-90)" font-family="Liberation Sans, sans-serif" font-size="43" text-anchor="end" fill="#000">10</text>
<text transform="translate(995.5,2407) rotate(-90)" font-family="Liberation Sans, sans-serif" font-size="43" text-anchor="end" fill="#000">100</text>
<text transform="translate(1328.9,2407) rotate(-90)" font-family="Liberation Sans, sans-serif" font-size="43" text-anchor="end" fill="#000">1'000</text>
<text transform="translate(1662.3,2407) rotate(-90)" font-family="Liberation Sans, sans-serif" font-size="43" text-anchor="end" fill="#000">10'000</text>
<text transform="translate(1995.7,2407) rotate(-90)" font-family="Liberation Sans, sans-serif" font-size="43" text-anchor="end" fill="#000">100'000</text>
<text transform="translate(2329.1,2407) rotate(-90)" font-family="Liberation Sans, sans-serif" font-size="43" text-anchor="end" fill="#000">1'000'000</text>
<text transform="translate(2662.5,2407) rotate(-90)" font-family="Liberation Sans, sans-serif" font-size="43" text-anchor="end" fill="#000">10'000'000</text>
<text transform="translate(2995.9,2407) rotate(-90)" font-family="Liberation Sans, sans-serif" font-size="43" text-anchor="end" fill="#000">100'000'000</text>
<text transform="translate(3329.3,2407) rotate(-90)" font-family="Liberation Sans, sans-serif" font-size="43" text-anchor="end" fill="#000">1'000'000'000</text>
<text x="720" y="147" font-family="Liberation Sans, sans-serif" font-size="64" fill="#000" textLength="1426" lengthAdjust="spacingAndGlyphs">Lacs sélectionnés pour le projet pilote de l'OFEV</text>
<rect x="520" y="360" width="25" height="25" fill="#FFF4D7"/>
<path d="M532,458 L536,462 L532,466 L528,462 Z" fill="#8FAADC"/>
<circle cx="531.6" cy="551.8" r="13.3" fill="none" stroke="#4472C4" stroke-width="2.2"/>
<text x="554" y="386" font-family="Liberation Sans, sans-serif" font-size="41.5" fill="#000" textLength="736" lengthAdjust="spacingAndGlyphs">Pourcentage de la taille du lac (surface)</text>
<text x="554" y="476" font-family="Liberation Sans, sans-serif" font-size="41.5" fill="#000" textLength="1270" lengthAdjust="spacingAndGlyphs">Eaux stagnantes de Suisse, env. 11'000, à partir de 30 m2 de surface</text>
<text x="554" y="566" font-family="Liberation Sans, sans-serif" font-size="41.5" fill="#000" textLength="815" lengthAdjust="spacingAndGlyphs">Lacs, petits lacs, mares, étangs sélectionnés</text>
<text transform="translate(88.5,1504) rotate(-90)" font-family="Liberation Sans, sans-serif" font-size="41.5" font-weight="bold" fill="#000" textLength="328" lengthAdjust="spacingAndGlyphs">Altitude [m s. m.]</text>
<text x="1631" y="2719" font-family="Liberation Sans, sans-serif" font-size="41.5" font-weight="bold" fill="#000" textLength="229" lengthAdjust="spacingAndGlyphs">Surface [m²]</text>
<rect x="3434" y="1044" width="70" height="555" fill="#FEF8E8"/>
<text transform="translate(3483,1583) rotate(-90)" font-family="Liberation Sans, sans-serif" font-size="41.5" font-weight="bold" fill="#000" textLength="522" lengthAdjust="spacingAndGlyphs">Part de la surface du lac [%]</text>
<text x="360.0" y="1355" font-family="Liberation Sans, sans-serif" font-size="41.5" fill="#757070" textLength="387.8" lengthAdjust="spacingAndGlyphs">Oberes Bänzlauiseeli</text>
<text x="336.0" y="1490" font-family="Liberation Sans, sans-serif" font-size="41.5" fill="#757070" textLength="239.2" lengthAdjust="spacingAndGlyphs">Meiefallseeli</text>
<text x="333.0" y="1626" font-family="Liberation Sans, sans-serif" font-size="41.5" fill="#757070" textLength="219.3" lengthAdjust="spacingAndGlyphs">Stockseewli</text>
<text x="343.2" y="1839" font-family="Liberation Sans, sans-serif" font-size="41.5" fill="#757070" textLength="213.8" lengthAdjust="spacingAndGlyphs">Lenkerseeli</text>
<text x="368.5" y="2014" font-family="Liberation Sans, sans-serif" font-size="41.5" fill="#757070" textLength="163.0" lengthAdjust="spacingAndGlyphs">Geistsee</text>
<text x="395.5" y="2144" font-family="Liberation Sans, sans-serif" font-size="41.5" fill="#757070" textLength="221.8" lengthAdjust="spacingAndGlyphs">Waldweih...</text>
<text x="418.4" y="2243.2" font-family="Liberation Sans, sans-serif" font-size="36.5" fill="#757070" textLength="183.5" lengthAdjust="spacingAndGlyphs">Weiherhus</text>
<text x="524.8" y="2330.2" font-family="Liberation Sans, sans-serif" font-size="41.5" fill="#757070" textLength="215.2" lengthAdjust="spacingAndGlyphs">Inkwilersee</text>
<text x="2335.0" y="1225.5" font-family="Liberation Sans, sans-serif" font-size="41.5" fill="#757070" textLength="545.5" lengthAdjust="spacingAndGlyphs">Rhonesee (lac terminal glaciaire)</text>
<text x="2379.5" y="1321.6" font-family="Liberation Sans, sans-serif" font-size="41.5" fill="#757070" textLength="501.0" lengthAdjust="spacingAndGlyphs">Steisee (lac terminal glaciaire)</text>
<text x="2775.5" y="1790" font-family="Liberation Sans, sans-serif" font-size="41.5" fill="#757070" textLength="213.0" lengthAdjust="spacingAndGlyphs">Lac de Joux</text>
<text x="2822.5" y="1912.6" font-family="Liberation Sans, sans-serif" font-size="41.5" fill="#757070" textLength="164.0" lengthAdjust="spacingAndGlyphs">Ägerisee</text>
<text x="2828.1" y="2002" font-family="Liberation Sans, sans-serif" font-size="41.5" fill="#757070" textLength="232.1" lengthAdjust="spacingAndGlyphs">Hallwilersee</text>
<text x="2873.5" y="2089.5" font-family="Liberation Sans, sans-serif" font-size="41.5" fill="#757070" textLength="205.0" lengthAdjust="spacingAndGlyphs">Murtensee</text>
<text x="2902.5" y="2343.7" font-family="Liberation Sans, sans-serif" font-size="41.5" fill="#757070" textLength="196.0" lengthAdjust="spacingAndGlyphs">Lac Léman</text>
<rect x="1" y="1" width="3698" height="2854" fill="none" stroke="#878787" stroke-width="2"/>
</svg></body></html>
